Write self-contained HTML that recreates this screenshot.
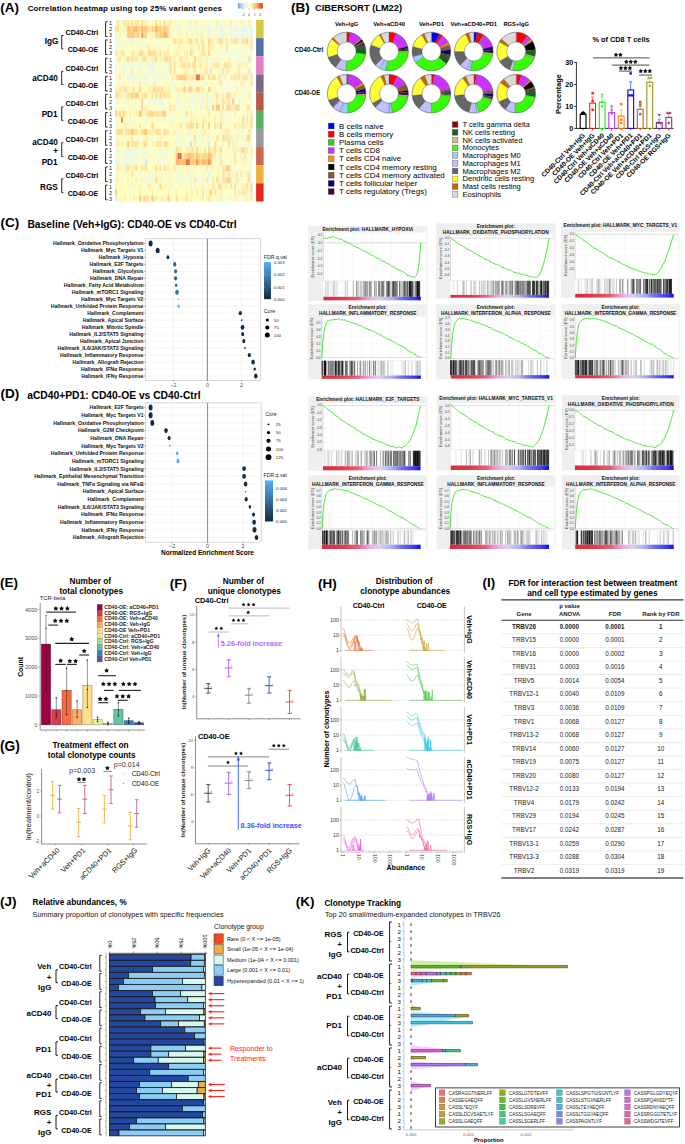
<!DOCTYPE html>
<html><head><meta charset="utf-8"><style>
html,body{margin:0;padding:0;background:#fff;width:685px;height:1144px;overflow:hidden}
svg{display:block;font-family:"Liberation Sans",sans-serif}
</style></head><body>
<svg width="685" height="1144" viewBox="0 0 685 1144">
<rect width="685" height="1144" fill="#fff"/>
<text x="0.3" y="11.6" font-size="13.5" font-weight="bold">(A)</text>
<text x="27.7" y="10.7" font-size="7.9" font-weight="bold" textLength="194.3" lengthAdjust="spacing">Correlation heatmap using top 25% variant genes</text>
<defs><linearGradient id="hmg" x1="0" x2="1" y1="0" y2="0"><stop offset="0" stop-color="#6fa8d6"/><stop offset="0.25" stop-color="#e0f3f8"/><stop offset="0.5" stop-color="#ffffbf"/><stop offset="0.75" stop-color="#fdae61"/><stop offset="1" stop-color="#d73027"/></linearGradient></defs>
<rect x="237.9" y="3.1" width="24.9" height="5.5" fill="url(#hmg)"/>
<line x1="243.3" y1="8.6" x2="243.3" y2="10" stroke="#555" stroke-width="0.4"/>
<text x="243.3" y="15.5" font-size="3" text-anchor="middle" fill="#333">-2</text>
<line x1="249" y1="8.6" x2="249" y2="10" stroke="#555" stroke-width="0.4"/>
<text x="249" y="15.5" font-size="3" text-anchor="middle" fill="#333">0</text>
<line x1="254.5" y1="8.6" x2="254.5" y2="10" stroke="#555" stroke-width="0.4"/>
<text x="254.5" y="15.5" font-size="3" text-anchor="middle" fill="#333">2</text>
<line x1="260" y1="8.6" x2="260" y2="10" stroke="#555" stroke-width="0.4"/>
<text x="260" y="15.5" font-size="3" text-anchor="middle" fill="#333">4</text>
<style>.hm rect{width:2.08px;height:6.11px}</style>
<g transform="translate(0 20)" class="hm"><rect x="115" fill="#fcfec4"/><rect x="117.02" fill="#fee7a3"/><rect x="119.04" fill="#fafdc8"/><rect x="121.07" fill="#f7fcce"/><rect x="123.09" fill="#fee7a3"/><rect x="125.11" fill="#feeaa7"/><rect x="127.13" fill="#feeaa7"/><rect x="129.15" fill="#fff4b2"/><rect x="131.18" fill="#fee29d"/><rect x="133.2" fill="#fff9b9"/><rect x="135.22" fill="#fee6a2"/><rect x="137.24" fill="#fee5a1"/><rect x="139.26" fill="#f5fbd2"/><rect x="141.29" fill="#fede99"/><rect x="143.31" fill="#ffeeac"/><rect x="145.33" fill="#fff4b2"/><rect x="147.35" fill="#eef9de"/><rect x="149.38" fill="#feffc0"/><rect x="151.4" fill="#fff5b3"/><rect x="153.42" fill="#fff9b8"/><rect x="155.44" fill="#fedc97"/><rect x="157.46" fill="#fff8b7"/><rect x="159.49" fill="#ffeba8"/><rect x="161.51" fill="#ffffc0"/><rect x="163.53" fill="#fedf9a"/><rect x="165.55" fill="#fffab9"/><rect x="167.57" fill="#fff0ae"/><rect x="169.6" fill="#fee6a2"/><rect x="171.62" fill="#feffc1"/><rect x="173.64" fill="#fff2b0"/><rect x="175.66" fill="#f9fdcb"/><rect x="177.68" fill="#f5fbd1"/><rect x="179.71" fill="#fffbba"/><rect x="181.73" fill="#fbfdc7"/><rect x="183.75" fill="#feffc1"/><rect x="185.77" fill="#fffdbd"/><rect x="187.79" fill="#fffebe"/><rect x="189.82" fill="#e9f6e7"/><rect x="191.84" fill="#f9fccb"/><rect x="193.86" fill="#fff5b4"/><rect x="195.88" fill="#ffefac"/><rect x="197.9" fill="#f9fdc9"/><rect x="199.93" fill="#fcfec5"/><rect x="201.95" fill="#f1f9da"/><rect x="203.97" fill="#ffffc0"/><rect x="205.99" fill="#fdfec3"/><rect x="208.01" fill="#f1fad8"/><rect x="210.04" fill="#ffffc0"/><rect x="212.06" fill="#fcfec5"/><rect x="214.08" fill="#fbfec6"/><rect x="216.1" fill="#ffeeab"/><rect x="218.12" fill="#f7fcce"/><rect x="220.15" fill="#f5fbd1"/><rect x="222.17" fill="#f9fdca"/><rect x="224.19" fill="#fff4b2"/><rect x="226.21" fill="#ffffbf"/><rect x="228.24" fill="#fff6b5"/><rect x="230.26" fill="#ffeba8"/><rect x="232.28" fill="#fffcbb"/><rect x="234.3" fill="#f5fbd1"/><rect x="236.32" fill="#ffffbf"/><rect x="238.35" fill="#feffc0"/><rect x="240.37" fill="#fff1ae"/><rect x="242.39" fill="#f6fccf"/><rect x="244.41" fill="#f9fdca"/><rect x="246.43" fill="#f9fdcb"/><rect x="248.46" fill="#fee6a2"/><rect x="250.48" fill="#fafdc9"/></g>
<g transform="translate(0 26.05)" class="hm"><rect x="115" fill="#fee29d"/><rect x="117.02" fill="#fedf9a"/><rect x="119.04" fill="#fff9b8"/><rect x="121.07" fill="#ffffbf"/><rect x="123.09" fill="#fff5b4"/><rect x="125.11" fill="#fff6b5"/><rect x="127.13" fill="#fdc278"/><rect x="129.15" fill="#fecb83"/><rect x="131.18" fill="#fed68f"/><rect x="133.2" fill="#fdb86d"/><rect x="135.22" fill="#fdb66b"/><rect x="137.24" fill="#feca81"/><rect x="139.26" fill="#fee19c"/><rect x="141.29" fill="#fdb265"/><rect x="143.31" fill="#fec77e"/><rect x="145.33" fill="#fec47b"/><rect x="147.35" fill="#feda94"/><rect x="149.38" fill="#feeaa6"/><rect x="151.4" fill="#fecd84"/><rect x="153.42" fill="#fed690"/><rect x="155.44" fill="#fba75e"/><rect x="157.46" fill="#fecb83"/><rect x="159.49" fill="#fecf87"/><rect x="161.51" fill="#fedf9a"/><rect x="163.53" fill="#fec77e"/><rect x="165.55" fill="#fec57c"/><rect x="167.57" fill="#fedf9a"/><rect x="169.6" fill="#fefec2"/><rect x="171.62" fill="#fafdc8"/><rect x="173.64" fill="#fcfec4"/><rect x="175.66" fill="#eff9dc"/><rect x="177.68" fill="#f0f9db"/><rect x="179.71" fill="#ecf8e1"/><rect x="181.73" fill="#fefec2"/><rect x="183.75" fill="#f7fcce"/><rect x="185.77" fill="#fafdc7"/><rect x="187.79" fill="#f1fad8"/><rect x="189.82" fill="#f3fad5"/><rect x="191.84" fill="#f9fdcb"/><rect x="193.86" fill="#f7fccd"/><rect x="195.88" fill="#ebf7e4"/><rect x="197.9" fill="#f8fccd"/><rect x="199.93" fill="#f4fbd4"/><rect x="201.95" fill="#ecf8e2"/><rect x="203.97" fill="#f6fbd0"/><rect x="205.99" fill="#f2fad7"/><rect x="208.01" fill="#e7f6eb"/><rect x="210.04" fill="#f4fbd3"/><rect x="212.06" fill="#f6fbd0"/><rect x="214.08" fill="#eff9dd"/><rect x="216.1" fill="#f3fad5"/><rect x="218.12" fill="#f5fbd1"/><rect x="220.15" fill="#e2f4f4"/><rect x="222.17" fill="#f6fbd0"/><rect x="224.19" fill="#f1f9da"/><rect x="226.21" fill="#f9fdca"/><rect x="228.24" fill="#f4fbd3"/><rect x="230.26" fill="#f1f9d9"/><rect x="232.28" fill="#f2fad6"/><rect x="234.3" fill="#e5f5ee"/><rect x="236.32" fill="#f1fad8"/><rect x="238.35" fill="#f4fbd2"/><rect x="240.37" fill="#f0f9db"/><rect x="242.39" fill="#def2f7"/><rect x="244.41" fill="#e4f5f0"/><rect x="246.43" fill="#eff9dd"/><rect x="248.46" fill="#f5fbd1"/><rect x="250.48" fill="#e5f5ee"/></g>
<g transform="translate(0 32.1)" class="hm"><rect x="115" fill="#eff9dd"/><rect x="117.02" fill="#fefec2"/><rect x="119.04" fill="#fff6b4"/><rect x="121.07" fill="#ffffbf"/><rect x="123.09" fill="#f3fad5"/><rect x="125.11" fill="#fcfec4"/><rect x="127.13" fill="#fec77e"/><rect x="129.15" fill="#fecb83"/><rect x="131.18" fill="#fdc278"/><rect x="133.2" fill="#fed088"/><rect x="135.22" fill="#fed58f"/><rect x="137.24" fill="#fecc84"/><rect x="139.26" fill="#fffab9"/><rect x="141.29" fill="#f89d59"/><rect x="143.31" fill="#fece86"/><rect x="145.33" fill="#fed088"/><rect x="147.35" fill="#fffcbc"/><rect x="149.38" fill="#fff5b4"/><rect x="151.4" fill="#fff0ae"/><rect x="153.42" fill="#ffedaa"/><rect x="155.44" fill="#feca81"/><rect x="157.46" fill="#fedb95"/><rect x="159.49" fill="#fec87f"/><rect x="161.51" fill="#fecc84"/><rect x="163.53" fill="#fdb367"/><rect x="165.55" fill="#fdac60"/><rect x="167.57" fill="#fee6a2"/><rect x="169.6" fill="#fff5b3"/><rect x="171.62" fill="#eff9dc"/><rect x="173.64" fill="#ffffc0"/><rect x="175.66" fill="#f6fccf"/><rect x="177.68" fill="#fff6b4"/><rect x="179.71" fill="#fffaba"/><rect x="181.73" fill="#f4fbd3"/><rect x="183.75" fill="#ffffbf"/><rect x="185.77" fill="#feeaa6"/><rect x="187.79" fill="#f8fccc"/><rect x="189.82" fill="#f3fbd4"/><rect x="191.84" fill="#f5fbd2"/><rect x="193.86" fill="#fdfec2"/><rect x="195.88" fill="#eff9dd"/><rect x="197.9" fill="#f7fcce"/><rect x="199.93" fill="#fff3b1"/><rect x="201.95" fill="#f4fbd4"/><rect x="203.97" fill="#feffc1"/><rect x="205.99" fill="#fbfdc7"/><rect x="208.01" fill="#eaf7e5"/><rect x="210.04" fill="#f1f9da"/><rect x="212.06" fill="#f7fcce"/><rect x="214.08" fill="#f4fbd3"/><rect x="216.1" fill="#f0f9db"/><rect x="218.12" fill="#f5fbd1"/><rect x="220.15" fill="#eaf7e6"/><rect x="222.17" fill="#e3f4f2"/><rect x="224.19" fill="#f8fccc"/><rect x="226.21" fill="#f9fdca"/><rect x="228.24" fill="#f8fccc"/><rect x="230.26" fill="#e9f7e7"/><rect x="232.28" fill="#f3fad5"/><rect x="234.3" fill="#ebf7e5"/><rect x="236.32" fill="#f1fad9"/><rect x="238.35" fill="#eff9dd"/><rect x="240.37" fill="#f0f9db"/><rect x="242.39" fill="#e7f6ea"/><rect x="244.41" fill="#ecf8e2"/><rect x="246.43" fill="#ecf8e1"/><rect x="248.46" fill="#f6fccf"/><rect x="250.48" fill="#e6f5ed"/></g>
<g transform="translate(0 38.15)" class="hm"><rect x="115" fill="#f8fccc"/><rect x="117.02" fill="#eef8de"/><rect x="119.04" fill="#f9fdc9"/><rect x="121.07" fill="#fafdc8"/><rect x="123.09" fill="#fafdc9"/><rect x="125.11" fill="#f7fcce"/><rect x="127.13" fill="#eef9de"/><rect x="129.15" fill="#eff9dd"/><rect x="131.18" fill="#edf8e0"/><rect x="133.2" fill="#f5fbd2"/><rect x="135.22" fill="#f7fcce"/><rect x="137.24" fill="#f4fbd4"/><rect x="139.26" fill="#fff6b5"/><rect x="141.29" fill="#f3fad5"/><rect x="143.31" fill="#f1fad9"/><rect x="145.33" fill="#f5fbd1"/><rect x="147.35" fill="#ffffbf"/><rect x="149.38" fill="#fff3b2"/><rect x="151.4" fill="#fcfec4"/><rect x="153.42" fill="#f8fccc"/><rect x="155.44" fill="#fafdc8"/><rect x="157.46" fill="#f2fad7"/><rect x="159.49" fill="#fff7b6"/><rect x="161.51" fill="#f9fdca"/><rect x="163.53" fill="#eff9dc"/><rect x="165.55" fill="#f9fccb"/><rect x="167.57" fill="#fcfec4"/><rect x="169.6" fill="#fbfec5"/><rect x="171.62" fill="#f6fbd0"/><rect x="173.64" fill="#fed28b"/><rect x="175.66" fill="#fff5b3"/><rect x="177.68" fill="#ffefad"/><rect x="179.71" fill="#fee19c"/><rect x="181.73" fill="#ffefac"/><rect x="183.75" fill="#fdfec2"/><rect x="185.77" fill="#fffbba"/><rect x="187.79" fill="#fee5a1"/><rect x="189.82" fill="#fed992"/><rect x="191.84" fill="#fff3b1"/><rect x="193.86" fill="#fff6b5"/><rect x="195.88" fill="#fedc96"/><rect x="197.9" fill="#fafdc8"/><rect x="199.93" fill="#ffefad"/><rect x="201.95" fill="#fee5a1"/><rect x="203.97" fill="#feffc1"/><rect x="205.99" fill="#f8fccc"/><rect x="208.01" fill="#fedc96"/><rect x="210.04" fill="#ffefac"/><rect x="212.06" fill="#fff0ad"/><rect x="214.08" fill="#fdfec3"/><rect x="216.1" fill="#fff9b8"/><rect x="218.12" fill="#fee09b"/><rect x="220.15" fill="#feda94"/><rect x="222.17" fill="#fff2af"/><rect x="224.19" fill="#fff2b0"/><rect x="226.21" fill="#fee19d"/><rect x="228.24" fill="#fffaba"/><rect x="230.26" fill="#ffedaa"/><rect x="232.28" fill="#fee9a6"/><rect x="234.3" fill="#fedc96"/><rect x="236.32" fill="#fee7a4"/><rect x="238.35" fill="#fff4b2"/><rect x="240.37" fill="#fff5b3"/><rect x="242.39" fill="#fee29d"/><rect x="244.41" fill="#fee9a5"/><rect x="246.43" fill="#fecc83"/><rect x="248.46" fill="#fafdc9"/><rect x="250.48" fill="#fee8a5"/></g>
<g transform="translate(0 44.2)" class="hm"><rect x="115" fill="#fafdc8"/><rect x="117.02" fill="#fbfdc6"/><rect x="119.04" fill="#f0f9db"/><rect x="121.07" fill="#f3fad5"/><rect x="123.09" fill="#fefec2"/><rect x="125.11" fill="#f2fad7"/><rect x="127.13" fill="#fdfec3"/><rect x="129.15" fill="#fbfec6"/><rect x="131.18" fill="#f0f9db"/><rect x="133.2" fill="#f9fdcb"/><rect x="135.22" fill="#feffc1"/><rect x="137.24" fill="#fff9b8"/><rect x="139.26" fill="#fdfec2"/><rect x="141.29" fill="#edf8e0"/><rect x="143.31" fill="#f7fcce"/><rect x="145.33" fill="#f6fccf"/><rect x="147.35" fill="#feeba7"/><rect x="149.38" fill="#fff7b6"/><rect x="151.4" fill="#f8fccc"/><rect x="153.42" fill="#fafdc8"/><rect x="155.44" fill="#f4fbd3"/><rect x="157.46" fill="#fff5b3"/><rect x="159.49" fill="#f7fcce"/><rect x="161.51" fill="#fbfec6"/><rect x="163.53" fill="#f7fcce"/><rect x="165.55" fill="#fbfdc7"/><rect x="167.57" fill="#ffefac"/><rect x="169.6" fill="#f8fccc"/><rect x="171.62" fill="#fefec2"/><rect x="173.64" fill="#fcfec5"/><rect x="175.66" fill="#fffcbc"/><rect x="177.68" fill="#ffefad"/><rect x="179.71" fill="#fff7b6"/><rect x="181.73" fill="#fff8b6"/><rect x="183.75" fill="#fcfec4"/><rect x="185.77" fill="#fdfec4"/><rect x="187.79" fill="#fffebe"/><rect x="189.82" fill="#fff1af"/><rect x="191.84" fill="#fff2b0"/><rect x="193.86" fill="#f8fccc"/><rect x="195.88" fill="#fffaba"/><rect x="197.9" fill="#fee49f"/><rect x="199.93" fill="#ffffbf"/><rect x="201.95" fill="#fedf9a"/><rect x="203.97" fill="#fff5b4"/><rect x="205.99" fill="#feffc1"/><rect x="208.01" fill="#fee39e"/><rect x="210.04" fill="#fff5b4"/><rect x="212.06" fill="#ffeeab"/><rect x="214.08" fill="#fcfec5"/><rect x="216.1" fill="#ffffbf"/><rect x="218.12" fill="#fcfec4"/><rect x="220.15" fill="#fff2b0"/><rect x="222.17" fill="#f9fdca"/><rect x="224.19" fill="#f8fccc"/><rect x="226.21" fill="#fedf9a"/><rect x="228.24" fill="#fbfec5"/><rect x="230.26" fill="#feffc0"/><rect x="232.28" fill="#fdfec2"/><rect x="234.3" fill="#ffffbf"/><rect x="236.32" fill="#fcfec5"/><rect x="238.35" fill="#ffffc0"/><rect x="240.37" fill="#fbfec6"/><rect x="242.39" fill="#fff7b6"/><rect x="244.41" fill="#fcfec5"/><rect x="246.43" fill="#fffab9"/><rect x="248.46" fill="#f5fbd2"/><rect x="250.48" fill="#fee5a1"/></g>
<g transform="translate(0 50.25)" class="hm"><rect x="115" fill="#fee8a5"/><rect x="117.02" fill="#fff5b3"/><rect x="119.04" fill="#fff6b5"/><rect x="121.07" fill="#fee7a3"/><rect x="123.09" fill="#fee8a4"/><rect x="125.11" fill="#feffc0"/><rect x="127.13" fill="#feffc1"/><rect x="129.15" fill="#fcfec4"/><rect x="131.18" fill="#feeaa7"/><rect x="133.2" fill="#ffeca9"/><rect x="135.22" fill="#fbfdc7"/><rect x="137.24" fill="#fff0ae"/><rect x="139.26" fill="#fedd97"/><rect x="141.29" fill="#feda95"/><rect x="143.31" fill="#ffefad"/><rect x="145.33" fill="#fbfdc6"/><rect x="147.35" fill="#fee39f"/><rect x="149.38" fill="#fed58e"/><rect x="151.4" fill="#fee29d"/><rect x="153.42" fill="#fedb95"/><rect x="155.44" fill="#fee7a4"/><rect x="157.46" fill="#ffeeac"/><rect x="159.49" fill="#fedf9a"/><rect x="161.51" fill="#feffc1"/><rect x="163.53" fill="#feeba7"/><rect x="165.55" fill="#ffefac"/><rect x="167.57" fill="#fee9a6"/><rect x="169.6" fill="#ffffc0"/><rect x="171.62" fill="#ffffbf"/><rect x="173.64" fill="#f4fbd3"/><rect x="175.66" fill="#ffeca9"/><rect x="177.68" fill="#fff8b7"/><rect x="179.71" fill="#fff5b4"/><rect x="181.73" fill="#ffffbf"/><rect x="183.75" fill="#fff2b0"/><rect x="185.77" fill="#fee8a4"/><rect x="187.79" fill="#f9fdcb"/><rect x="189.82" fill="#fed892"/><rect x="191.84" fill="#ffedaa"/><rect x="193.86" fill="#f6fccf"/><rect x="195.88" fill="#fdfec3"/><rect x="197.9" fill="#fff8b7"/><rect x="199.93" fill="#fff4b2"/><rect x="201.95" fill="#fee5a1"/><rect x="203.97" fill="#feeaa7"/><rect x="205.99" fill="#fbfdc7"/><rect x="208.01" fill="#fed993"/><rect x="210.04" fill="#fffebe"/><rect x="212.06" fill="#f9fdcb"/><rect x="214.08" fill="#f9fdca"/><rect x="216.1" fill="#f5fbd1"/><rect x="218.12" fill="#fbfdc7"/><rect x="220.15" fill="#fcfec4"/><rect x="222.17" fill="#f9fdcb"/><rect x="224.19" fill="#f7fccd"/><rect x="226.21" fill="#f2fad6"/><rect x="228.24" fill="#eff9dd"/><rect x="230.26" fill="#f7fccd"/><rect x="232.28" fill="#f8fccd"/><rect x="234.3" fill="#fdfec3"/><rect x="236.32" fill="#f2fad6"/><rect x="238.35" fill="#f8fccd"/><rect x="240.37" fill="#f5fbd1"/><rect x="242.39" fill="#feffc1"/><rect x="244.41" fill="#f8fccb"/><rect x="246.43" fill="#feffc1"/><rect x="248.46" fill="#fafdc8"/><rect x="250.48" fill="#f4fbd3"/></g>
<g transform="translate(0 56.3)" class="hm"><rect x="115" fill="#f4fbd3"/><rect x="117.02" fill="#ffeeab"/><rect x="119.04" fill="#ffeeab"/><rect x="121.07" fill="#fffebe"/><rect x="123.09" fill="#fffdbc"/><rect x="125.11" fill="#fff1ae"/><rect x="127.13" fill="#fed993"/><rect x="129.15" fill="#feeba7"/><rect x="131.18" fill="#fee4a0"/><rect x="133.2" fill="#ffeba8"/><rect x="135.22" fill="#fee49f"/><rect x="137.24" fill="#ffeeac"/><rect x="139.26" fill="#fefec1"/><rect x="141.29" fill="#fee29e"/><rect x="143.31" fill="#feda94"/><rect x="145.33" fill="#fee9a5"/><rect x="147.35" fill="#f4fbd4"/><rect x="149.38" fill="#fffbbb"/><rect x="151.4" fill="#fff3b1"/><rect x="153.42" fill="#fee6a1"/><rect x="155.44" fill="#fede98"/><rect x="157.46" fill="#feffc0"/><rect x="159.49" fill="#fff1af"/><rect x="161.51" fill="#fff1af"/><rect x="163.53" fill="#fee9a6"/><rect x="165.55" fill="#fed690"/><rect x="167.57" fill="#fee4a0"/><rect x="169.6" fill="#fee19c"/><rect x="171.62" fill="#fff8b7"/><rect x="173.64" fill="#feeaa7"/><rect x="175.66" fill="#fafdc8"/><rect x="177.68" fill="#fffab9"/><rect x="179.71" fill="#fedf9a"/><rect x="181.73" fill="#fff3b1"/><rect x="183.75" fill="#fffab9"/><rect x="185.77" fill="#ffeca9"/><rect x="187.79" fill="#fff8b7"/><rect x="189.82" fill="#f9fdcb"/><rect x="191.84" fill="#fafdc8"/><rect x="193.86" fill="#fed28b"/><rect x="195.88" fill="#fffdbc"/><rect x="197.9" fill="#fff0ad"/><rect x="199.93" fill="#ffefad"/><rect x="201.95" fill="#f8fccc"/><rect x="203.97" fill="#f0f9db"/><rect x="205.99" fill="#fff0ae"/><rect x="208.01" fill="#f5fbd1"/><rect x="210.04" fill="#f9fdca"/><rect x="212.06" fill="#f0f9db"/><rect x="214.08" fill="#f7fcce"/><rect x="216.1" fill="#fffaba"/><rect x="218.12" fill="#f1fad8"/><rect x="220.15" fill="#f2fad6"/><rect x="222.17" fill="#feffc1"/><rect x="224.19" fill="#fffbbb"/><rect x="226.21" fill="#ffffbf"/><rect x="228.24" fill="#ffefad"/><rect x="230.26" fill="#fffaba"/><rect x="232.28" fill="#ffffc0"/><rect x="234.3" fill="#f4fbd3"/><rect x="236.32" fill="#fbfec6"/><rect x="238.35" fill="#eff9dc"/><rect x="240.37" fill="#fcfec4"/><rect x="242.39" fill="#f7fcce"/><rect x="244.41" fill="#f9fdca"/><rect x="246.43" fill="#f4fbd3"/><rect x="248.46" fill="#fed891"/><rect x="250.48" fill="#f7fcce"/></g>
<g transform="translate(0 62.35)" class="hm"><rect x="115" fill="#f4fbd2"/><rect x="117.02" fill="#f5fbd1"/><rect x="119.04" fill="#eff9dc"/><rect x="121.07" fill="#f9fdca"/><rect x="123.09" fill="#eff9dc"/><rect x="125.11" fill="#f2fad6"/><rect x="127.13" fill="#f4fbd3"/><rect x="129.15" fill="#eef8de"/><rect x="131.18" fill="#edf8e1"/><rect x="133.2" fill="#f7fcce"/><rect x="135.22" fill="#f4fbd3"/><rect x="137.24" fill="#f3fad5"/><rect x="139.26" fill="#e5f5ef"/><rect x="141.29" fill="#fbfdc7"/><rect x="143.31" fill="#f5fbd2"/><rect x="145.33" fill="#f7fcce"/><rect x="147.35" fill="#e7f6ea"/><rect x="149.38" fill="#ecf8e2"/><rect x="151.4" fill="#e2f4f5"/><rect x="153.42" fill="#f0f9db"/><rect x="155.44" fill="#f5fbd1"/><rect x="157.46" fill="#f5fbd1"/><rect x="159.49" fill="#f7fccd"/><rect x="161.51" fill="#f9fdca"/><rect x="163.53" fill="#fbfdc6"/><rect x="165.55" fill="#eff9dc"/><rect x="167.57" fill="#edf8e1"/><rect x="169.6" fill="#fedb95"/><rect x="171.62" fill="#fbfec6"/><rect x="173.64" fill="#fedb96"/><rect x="175.66" fill="#fafdc9"/><rect x="177.68" fill="#fff4b2"/><rect x="179.71" fill="#fff0ad"/><rect x="181.73" fill="#fee29d"/><rect x="183.75" fill="#fee29d"/><rect x="185.77" fill="#fff1af"/><rect x="187.79" fill="#fedf9a"/><rect x="189.82" fill="#fff7b6"/><rect x="191.84" fill="#fee19d"/><rect x="193.86" fill="#feda94"/><rect x="195.88" fill="#fffdbc"/><rect x="197.9" fill="#fff7b6"/><rect x="199.93" fill="#fee8a4"/><rect x="201.95" fill="#fdfec2"/><rect x="203.97" fill="#fff5b4"/><rect x="205.99" fill="#ffeeac"/><rect x="208.01" fill="#f4fbd3"/><rect x="210.04" fill="#fff8b7"/><rect x="212.06" fill="#ffefac"/><rect x="214.08" fill="#fee9a5"/><rect x="216.1" fill="#fee29d"/><rect x="218.12" fill="#ffeeab"/><rect x="220.15" fill="#fdfec3"/><rect x="222.17" fill="#fff9b9"/><rect x="224.19" fill="#fed993"/><rect x="226.21" fill="#fee39f"/><rect x="228.24" fill="#fee09b"/><rect x="230.26" fill="#fff2b0"/><rect x="232.28" fill="#ffffbf"/><rect x="234.3" fill="#fffcbc"/><rect x="236.32" fill="#fff2b0"/><rect x="238.35" fill="#ffeeac"/><rect x="240.37" fill="#ffefad"/><rect x="242.39" fill="#fff1ae"/><rect x="244.41" fill="#fffab9"/><rect x="246.43" fill="#fff2b0"/><rect x="248.46" fill="#feffc0"/><rect x="250.48" fill="#fcfec5"/></g>
<g transform="translate(0 68.4)" class="hm"><rect x="115" fill="#f5fbd1"/><rect x="117.02" fill="#fafdc9"/><rect x="119.04" fill="#fbfdc7"/><rect x="121.07" fill="#f0f9db"/><rect x="123.09" fill="#ecf7e3"/><rect x="125.11" fill="#f5fbd2"/><rect x="127.13" fill="#fdfec2"/><rect x="129.15" fill="#f6fccf"/><rect x="131.18" fill="#fee7a3"/><rect x="133.2" fill="#fbfec6"/><rect x="135.22" fill="#fffcbb"/><rect x="137.24" fill="#fcfec4"/><rect x="139.26" fill="#f2fad6"/><rect x="141.29" fill="#fff6b4"/><rect x="143.31" fill="#f9fdca"/><rect x="145.33" fill="#fefec2"/><rect x="147.35" fill="#f4fbd3"/><rect x="149.38" fill="#eff9dd"/><rect x="151.4" fill="#eef8de"/><rect x="153.42" fill="#f2fad7"/><rect x="155.44" fill="#fafdc9"/><rect x="157.46" fill="#f6fccf"/><rect x="159.49" fill="#f9fdc9"/><rect x="161.51" fill="#f4fbd4"/><rect x="163.53" fill="#fcfec4"/><rect x="165.55" fill="#f5fbd1"/><rect x="167.57" fill="#f0f9db"/><rect x="169.6" fill="#fee19d"/><rect x="171.62" fill="#fff6b4"/><rect x="173.64" fill="#fee4a0"/><rect x="175.66" fill="#fff7b6"/><rect x="177.68" fill="#fafdc7"/><rect x="179.71" fill="#fcfec5"/><rect x="181.73" fill="#feffc0"/><rect x="183.75" fill="#fff1ae"/><rect x="185.77" fill="#fff1af"/><rect x="187.79" fill="#f0f9da"/><rect x="189.82" fill="#fbfdc6"/><rect x="191.84" fill="#fcfec4"/><rect x="193.86" fill="#fee39f"/><rect x="195.88" fill="#fbfdc6"/><rect x="197.9" fill="#fdfec2"/><rect x="199.93" fill="#fff9b8"/><rect x="201.95" fill="#fbfec6"/><rect x="203.97" fill="#ffeba8"/><rect x="205.99" fill="#fee8a5"/><rect x="208.01" fill="#eef9de"/><rect x="210.04" fill="#fee49f"/><rect x="212.06" fill="#f7fcce"/><rect x="214.08" fill="#fafdc8"/><rect x="216.1" fill="#fff9b8"/><rect x="218.12" fill="#fff1af"/><rect x="220.15" fill="#f8fccd"/><rect x="222.17" fill="#fee4a0"/><rect x="224.19" fill="#fffab9"/><rect x="226.21" fill="#ffedaa"/><rect x="228.24" fill="#fff2b0"/><rect x="230.26" fill="#feffc1"/><rect x="232.28" fill="#feffc1"/><rect x="234.3" fill="#f6fbd0"/><rect x="236.32" fill="#fff3b1"/><rect x="238.35" fill="#fee9a6"/><rect x="240.37" fill="#fcfec5"/><rect x="242.39" fill="#f6fcd0"/><rect x="244.41" fill="#f9fdca"/><rect x="246.43" fill="#fffbbb"/><rect x="248.46" fill="#fedf9a"/><rect x="250.48" fill="#f2fad7"/></g>
<g transform="translate(0 74.45)" class="hm"><rect x="115" fill="#fdfec2"/><rect x="117.02" fill="#f2fad6"/><rect x="119.04" fill="#fee9a6"/><rect x="121.07" fill="#f5fbd2"/><rect x="123.09" fill="#f2fad7"/><rect x="125.11" fill="#f9fdca"/><rect x="127.13" fill="#e9f6e8"/><rect x="129.15" fill="#eff9dd"/><rect x="131.18" fill="#eef8df"/><rect x="133.2" fill="#eaf7e6"/><rect x="135.22" fill="#f6fccf"/><rect x="137.24" fill="#eef8df"/><rect x="139.26" fill="#f9fdcb"/><rect x="141.29" fill="#f6fbd0"/><rect x="143.31" fill="#f3fad5"/><rect x="145.33" fill="#ebf7e4"/><rect x="147.35" fill="#f7fcce"/><rect x="149.38" fill="#fefec2"/><rect x="151.4" fill="#f3fad5"/><rect x="153.42" fill="#edf8e0"/><rect x="155.44" fill="#f3fad5"/><rect x="157.46" fill="#f0f9db"/><rect x="159.49" fill="#f7fcce"/><rect x="161.51" fill="#f8fccc"/><rect x="163.53" fill="#f7fccd"/><rect x="165.55" fill="#f0f9da"/><rect x="167.57" fill="#f0f9db"/><rect x="169.6" fill="#feffc0"/><rect x="171.62" fill="#fee8a4"/><rect x="173.64" fill="#feffc1"/><rect x="175.66" fill="#fedd98"/><rect x="177.68" fill="#fecf88"/><rect x="179.71" fill="#fecd85"/><rect x="181.73" fill="#fed089"/><rect x="183.75" fill="#feca82"/><rect x="185.77" fill="#fee09b"/><rect x="187.79" fill="#ffefac"/><rect x="189.82" fill="#feeaa6"/><rect x="191.84" fill="#fee6a2"/><rect x="193.86" fill="#ffeba8"/><rect x="195.88" fill="#ec7747"/><rect x="197.9" fill="#ec7747"/><rect x="199.93" fill="#fee9a6"/><rect x="201.95" fill="#fed993"/><rect x="203.97" fill="#fff4b2"/><rect x="205.99" fill="#fdfec3"/><rect x="208.01" fill="#fedc97"/><rect x="210.04" fill="#fff7b6"/><rect x="212.06" fill="#feda95"/><rect x="214.08" fill="#fee6a2"/><rect x="216.1" fill="#fcfec5"/><rect x="218.12" fill="#feeaa7"/><rect x="220.15" fill="#feeba7"/><rect x="222.17" fill="#f6fccf"/><rect x="224.19" fill="#ffefad"/><rect x="226.21" fill="#fafdc9"/><rect x="228.24" fill="#fdfec3"/><rect x="230.26" fill="#fee7a3"/><rect x="232.28" fill="#ffeba8"/><rect x="234.3" fill="#fee4a0"/><rect x="236.32" fill="#fee9a6"/><rect x="238.35" fill="#fee09b"/><rect x="240.37" fill="#fff4b2"/><rect x="242.39" fill="#fee29e"/><rect x="244.41" fill="#fee39e"/><rect x="246.43" fill="#fee5a0"/><rect x="248.46" fill="#f8fccc"/><rect x="250.48" fill="#fee29e"/></g>
<g transform="translate(0 80.5)" class="hm"><rect x="115" fill="#fdfec3"/><rect x="117.02" fill="#f6fccf"/><rect x="119.04" fill="#f7fccd"/><rect x="121.07" fill="#f8fccb"/><rect x="123.09" fill="#fff3b1"/><rect x="125.11" fill="#f9fdca"/><rect x="127.13" fill="#f3fbd4"/><rect x="129.15" fill="#fafdc9"/><rect x="131.18" fill="#f6fbd0"/><rect x="133.2" fill="#f8fccb"/><rect x="135.22" fill="#fcfec5"/><rect x="137.24" fill="#f6fccf"/><rect x="139.26" fill="#fee7a3"/><rect x="141.29" fill="#f4fbd4"/><rect x="143.31" fill="#f3fad4"/><rect x="145.33" fill="#f5fbd1"/><rect x="147.35" fill="#fffab9"/><rect x="149.38" fill="#feffc1"/><rect x="151.4" fill="#eef8de"/><rect x="153.42" fill="#ffedaa"/><rect x="155.44" fill="#e7f6eb"/><rect x="157.46" fill="#fffcbb"/><rect x="159.49" fill="#fdfec4"/><rect x="161.51" fill="#fcfec4"/><rect x="163.53" fill="#fffdbd"/><rect x="165.55" fill="#fafdc7"/><rect x="167.57" fill="#fafdc9"/><rect x="169.6" fill="#fafdc8"/><rect x="171.62" fill="#f0f9da"/><rect x="173.64" fill="#f4fbd4"/><rect x="175.66" fill="#f8fccc"/><rect x="177.68" fill="#fffdbc"/><rect x="179.71" fill="#fefec2"/><rect x="181.73" fill="#f7fcce"/><rect x="183.75" fill="#ecf7e3"/><rect x="185.77" fill="#f8fccb"/><rect x="187.79" fill="#fafdc8"/><rect x="189.82" fill="#fff8b7"/><rect x="191.84" fill="#f7fccd"/><rect x="193.86" fill="#eff9dc"/><rect x="195.88" fill="#fff8b7"/><rect x="197.9" fill="#f5fbd1"/><rect x="199.93" fill="#fbfdc6"/><rect x="201.95" fill="#fffbba"/><rect x="203.97" fill="#f6fbd0"/><rect x="205.99" fill="#eef8de"/><rect x="208.01" fill="#feffc0"/><rect x="210.04" fill="#f7fccd"/><rect x="212.06" fill="#fdfec3"/><rect x="214.08" fill="#ffffc0"/><rect x="216.1" fill="#fcfec5"/><rect x="218.12" fill="#edf8e0"/><rect x="220.15" fill="#fee39f"/><rect x="222.17" fill="#f7fcce"/><rect x="224.19" fill="#fcfec4"/><rect x="226.21" fill="#f4fbd3"/><rect x="228.24" fill="#f4fbd3"/><rect x="230.26" fill="#feffc1"/><rect x="232.28" fill="#ffffc0"/><rect x="234.3" fill="#f4fbd3"/><rect x="236.32" fill="#fcfec5"/><rect x="238.35" fill="#fcfec5"/><rect x="240.37" fill="#ffedab"/><rect x="242.39" fill="#ffedaa"/><rect x="244.41" fill="#fffbba"/><rect x="246.43" fill="#feffc1"/><rect x="248.46" fill="#fcfec4"/><rect x="250.48" fill="#fee5a1"/></g>
<g transform="translate(0 86.55)" class="hm"><rect x="115" fill="#ffedaa"/><rect x="117.02" fill="#fff4b2"/><rect x="119.04" fill="#fee7a3"/><rect x="121.07" fill="#fff1af"/><rect x="123.09" fill="#fee7a3"/><rect x="125.11" fill="#fede99"/><rect x="127.13" fill="#fff2b0"/><rect x="129.15" fill="#fff9b8"/><rect x="131.18" fill="#ffefac"/><rect x="133.2" fill="#fee39e"/><rect x="135.22" fill="#fdfec3"/><rect x="137.24" fill="#fff1ae"/><rect x="139.26" fill="#fed993"/><rect x="141.29" fill="#fff8b6"/><rect x="143.31" fill="#fffbba"/><rect x="145.33" fill="#fdfec2"/><rect x="147.35" fill="#fff3b1"/><rect x="149.38" fill="#ffeca9"/><rect x="151.4" fill="#fff0ad"/><rect x="153.42" fill="#fed089"/><rect x="155.44" fill="#fee39f"/><rect x="157.46" fill="#fed58e"/><rect x="159.49" fill="#feeaa7"/><rect x="161.51" fill="#fed68f"/><rect x="163.53" fill="#fffbba"/><rect x="165.55" fill="#fff1ae"/><rect x="167.57" fill="#feeaa7"/><rect x="169.6" fill="#fff6b5"/><rect x="171.62" fill="#fafdc7"/><rect x="173.64" fill="#ebf7e4"/><rect x="175.66" fill="#fff3b1"/><rect x="177.68" fill="#ffefad"/><rect x="179.71" fill="#fffaba"/><rect x="181.73" fill="#fee5a1"/><rect x="183.75" fill="#fecf87"/><rect x="185.77" fill="#fffebd"/><rect x="187.79" fill="#fedf9a"/><rect x="189.82" fill="#fed28b"/><rect x="191.84" fill="#ffeeab"/><rect x="193.86" fill="#fffab9"/><rect x="195.88" fill="#fed690"/><rect x="197.9" fill="#fedc97"/><rect x="199.93" fill="#fff5b3"/><rect x="201.95" fill="#ffeeac"/><rect x="203.97" fill="#fffebd"/><rect x="205.99" fill="#ffffc0"/><rect x="208.01" fill="#fed18a"/><rect x="210.04" fill="#ffefad"/><rect x="212.06" fill="#f8fccc"/><rect x="214.08" fill="#fff5b3"/><rect x="216.1" fill="#f6fccf"/><rect x="218.12" fill="#fbfdc7"/><rect x="220.15" fill="#fffab9"/><rect x="222.17" fill="#fcfec4"/><rect x="224.19" fill="#f2fad6"/><rect x="226.21" fill="#f5fbd1"/><rect x="228.24" fill="#f5fbd2"/><rect x="230.26" fill="#fbfdc6"/><rect x="232.28" fill="#f5fbd1"/><rect x="234.3" fill="#feffc1"/><rect x="236.32" fill="#ffeeab"/><rect x="238.35" fill="#fffaba"/><rect x="240.37" fill="#f7fcce"/><rect x="242.39" fill="#fafdc8"/><rect x="244.41" fill="#ecf8e1"/><rect x="246.43" fill="#fffbba"/><rect x="248.46" fill="#f8fccb"/><rect x="250.48" fill="#ffffbf"/></g>
<g transform="translate(0 92.6)" class="hm"><rect x="115" fill="#fede98"/><rect x="117.02" fill="#fede98"/><rect x="119.04" fill="#fff2b0"/><rect x="121.07" fill="#fff0ad"/><rect x="123.09" fill="#fdfec3"/><rect x="125.11" fill="#ffedaa"/><rect x="127.13" fill="#fee5a1"/><rect x="129.15" fill="#fee39f"/><rect x="131.18" fill="#fece86"/><rect x="133.2" fill="#fee09b"/><rect x="135.22" fill="#fec77d"/><rect x="137.24" fill="#fecb83"/><rect x="139.26" fill="#f9fdca"/><rect x="141.29" fill="#feeaa7"/><rect x="143.31" fill="#fee09b"/><rect x="145.33" fill="#fed891"/><rect x="147.35" fill="#fffdbc"/><rect x="149.38" fill="#fffbba"/><rect x="151.4" fill="#fedc97"/><rect x="153.42" fill="#fff8b6"/><rect x="155.44" fill="#fed993"/><rect x="157.46" fill="#fff4b2"/><rect x="159.49" fill="#fed38c"/><rect x="161.51" fill="#feeaa7"/><rect x="163.53" fill="#fee19c"/><rect x="165.55" fill="#fee4a0"/><rect x="167.57" fill="#fee5a0"/><rect x="169.6" fill="#ffedaa"/><rect x="171.62" fill="#fafdc9"/><rect x="173.64" fill="#fffbba"/><rect x="175.66" fill="#f5fbd2"/><rect x="177.68" fill="#f4fbd4"/><rect x="179.71" fill="#fffbbb"/><rect x="181.73" fill="#fafdc8"/><rect x="183.75" fill="#fff5b3"/><rect x="185.77" fill="#f4fbd4"/><rect x="187.79" fill="#feffc0"/><rect x="189.82" fill="#f9fdcb"/><rect x="191.84" fill="#f2fad7"/><rect x="193.86" fill="#fff8b7"/><rect x="195.88" fill="#f2fad7"/><rect x="197.9" fill="#f9fdcb"/><rect x="199.93" fill="#fafdc8"/><rect x="201.95" fill="#eaf7e5"/><rect x="203.97" fill="#f9fdcb"/><rect x="205.99" fill="#ffeeac"/><rect x="208.01" fill="#eef9de"/><rect x="210.04" fill="#f3fbd4"/><rect x="212.06" fill="#fcfec5"/><rect x="214.08" fill="#fff3b1"/><rect x="216.1" fill="#fedd98"/><rect x="218.12" fill="#fff4b3"/><rect x="220.15" fill="#f4fbd4"/><rect x="222.17" fill="#ffedaa"/><rect x="224.19" fill="#fcfec5"/><rect x="226.21" fill="#fed28b"/><rect x="228.24" fill="#fedd97"/><rect x="230.26" fill="#fff0ae"/><rect x="232.28" fill="#fffbbb"/><rect x="234.3" fill="#fff3b1"/><rect x="236.32" fill="#fffebe"/><rect x="238.35" fill="#fcfec4"/><rect x="240.37" fill="#fdfec4"/><rect x="242.39" fill="#fcfec4"/><rect x="244.41" fill="#fafdc9"/><rect x="246.43" fill="#fffdbd"/><rect x="248.46" fill="#fee6a2"/><rect x="250.48" fill="#f6fccf"/></g>
<g transform="translate(0 98.65)" class="hm"><rect x="115" fill="#fbfec6"/><rect x="117.02" fill="#f6fccf"/><rect x="119.04" fill="#fafdc8"/><rect x="121.07" fill="#fbfdc7"/><rect x="123.09" fill="#f2fad8"/><rect x="125.11" fill="#f7fcce"/><rect x="127.13" fill="#fff3b1"/><rect x="129.15" fill="#f2fad7"/><rect x="131.18" fill="#fdfec3"/><rect x="133.2" fill="#ffffbe"/><rect x="135.22" fill="#f4fbd4"/><rect x="137.24" fill="#fdfec3"/><rect x="139.26" fill="#edf8e0"/><rect x="141.29" fill="#fecf87"/><rect x="143.31" fill="#f3fad5"/><rect x="145.33" fill="#f7fcce"/><rect x="147.35" fill="#eff9dd"/><rect x="149.38" fill="#ecf8e1"/><rect x="151.4" fill="#f7fcce"/><rect x="153.42" fill="#ecf8e1"/><rect x="155.44" fill="#f1fad8"/><rect x="157.46" fill="#f3fad5"/><rect x="159.49" fill="#ebf7e3"/><rect x="161.51" fill="#e0f3f8"/><rect x="163.53" fill="#fafdc8"/><rect x="165.55" fill="#fdfec3"/><rect x="167.57" fill="#f4fbd3"/><rect x="169.6" fill="#fffcbc"/><rect x="171.62" fill="#fafdc8"/><rect x="173.64" fill="#ffffc0"/><rect x="175.66" fill="#ecf8e2"/><rect x="177.68" fill="#f1f9d9"/><rect x="179.71" fill="#f4fbd3"/><rect x="181.73" fill="#f4fbd3"/><rect x="183.75" fill="#f7fcce"/><rect x="185.77" fill="#f8fccc"/><rect x="187.79" fill="#f7fccd"/><rect x="189.82" fill="#f5fbd2"/><rect x="191.84" fill="#edf8e1"/><rect x="193.86" fill="#fbfdc7"/><rect x="195.88" fill="#f5fbd1"/><rect x="197.9" fill="#f6fccf"/><rect x="199.93" fill="#f5fbd2"/><rect x="201.95" fill="#ecf8e1"/><rect x="203.97" fill="#f5fbd2"/><rect x="205.99" fill="#fff9b8"/><rect x="208.01" fill="#f2fad8"/><rect x="210.04" fill="#f3fbd4"/><rect x="212.06" fill="#fffbbb"/><rect x="214.08" fill="#fafdc8"/><rect x="216.1" fill="#ffeca9"/><rect x="218.12" fill="#ffffc0"/><rect x="220.15" fill="#f4fbd4"/><rect x="222.17" fill="#fee49f"/><rect x="224.19" fill="#fff3b1"/><rect x="226.21" fill="#ffedaa"/><rect x="228.24" fill="#fee09b"/><rect x="230.26" fill="#f8fccb"/><rect x="232.28" fill="#fdc177"/><rect x="234.3" fill="#f2fad7"/><rect x="236.32" fill="#fffdbd"/><rect x="238.35" fill="#e9f7e7"/><rect x="240.37" fill="#fdfec2"/><rect x="242.39" fill="#fefec1"/><rect x="244.41" fill="#f9fdc9"/><rect x="246.43" fill="#fffbba"/><rect x="248.46" fill="#fffebe"/><rect x="250.48" fill="#eef8df"/></g>
<g transform="translate(0 104.7)" class="hm"><rect x="115" fill="#f4fbd2"/><rect x="117.02" fill="#fffebd"/><rect x="119.04" fill="#fcfec4"/><rect x="121.07" fill="#fcfec5"/><rect x="123.09" fill="#f6fbd0"/><rect x="125.11" fill="#fcfec5"/><rect x="127.13" fill="#feffc1"/><rect x="129.15" fill="#fafdc8"/><rect x="131.18" fill="#fffbba"/><rect x="133.2" fill="#f8fccc"/><rect x="135.22" fill="#fafdc8"/><rect x="137.24" fill="#fdfec2"/><rect x="139.26" fill="#edf8e1"/><rect x="141.29" fill="#fed58e"/><rect x="143.31" fill="#fff2b0"/><rect x="145.33" fill="#fee9a5"/><rect x="147.35" fill="#f0f9db"/><rect x="149.38" fill="#f9fdc9"/><rect x="151.4" fill="#fbfec6"/><rect x="153.42" fill="#f9fdca"/><rect x="155.44" fill="#fafdc8"/><rect x="157.46" fill="#f7fcce"/><rect x="159.49" fill="#ffffbf"/><rect x="161.51" fill="#f2fad7"/><rect x="163.53" fill="#fff9b8"/><rect x="165.55" fill="#fcfec5"/><rect x="167.57" fill="#f9fdca"/><rect x="169.6" fill="#fee4a0"/><rect x="171.62" fill="#fff4b2"/><rect x="173.64" fill="#ffefad"/><rect x="175.66" fill="#f4fbd3"/><rect x="177.68" fill="#fafdc8"/><rect x="179.71" fill="#f5fbd2"/><rect x="181.73" fill="#f9fdca"/><rect x="183.75" fill="#fffdbc"/><rect x="185.77" fill="#fdfec2"/><rect x="187.79" fill="#f8fccc"/><rect x="189.82" fill="#f0f9db"/><rect x="191.84" fill="#fafdc9"/><rect x="193.86" fill="#fbfdc6"/><rect x="195.88" fill="#f1f9d9"/><rect x="197.9" fill="#ffffc0"/><rect x="199.93" fill="#fff6b4"/><rect x="201.95" fill="#f0f9db"/><rect x="203.97" fill="#f7fccd"/><rect x="205.99" fill="#ffedaa"/><rect x="208.01" fill="#eaf7e6"/><rect x="210.04" fill="#f9fdca"/><rect x="212.06" fill="#fed48d"/><rect x="214.08" fill="#fff2b0"/><rect x="216.1" fill="#fec279"/><rect x="218.12" fill="#fdc076"/><rect x="220.15" fill="#fcfec4"/><rect x="222.17" fill="#feda94"/><rect x="224.19" fill="#fffebe"/><rect x="226.21" fill="#fedc97"/><rect x="228.24" fill="#fecf87"/><rect x="230.26" fill="#fee6a2"/><rect x="232.28" fill="#fff0ae"/><rect x="234.3" fill="#fee19c"/><rect x="236.32" fill="#fecf87"/><rect x="238.35" fill="#fee5a1"/><rect x="240.37" fill="#fffebe"/><rect x="242.39" fill="#feffc0"/><rect x="244.41" fill="#ffffc0"/><rect x="246.43" fill="#fee5a0"/><rect x="248.46" fill="#fee19d"/><rect x="250.48" fill="#fcfec4"/></g>
<g transform="translate(0 110.75)" class="hm"><rect x="115" fill="#fed089"/><rect x="117.02" fill="#fff1af"/><rect x="119.04" fill="#fed892"/><rect x="121.07" fill="#ffefad"/><rect x="123.09" fill="#fed58e"/><rect x="125.11" fill="#ffeeab"/><rect x="127.13" fill="#feffc1"/><rect x="129.15" fill="#ffeeab"/><rect x="131.18" fill="#ffffbf"/><rect x="133.2" fill="#fff6b5"/><rect x="135.22" fill="#ffefac"/><rect x="137.24" fill="#ffedaa"/><rect x="139.26" fill="#fdb569"/><rect x="141.29" fill="#fee29d"/><rect x="143.31" fill="#f7fccd"/><rect x="145.33" fill="#ffedaa"/><rect x="147.35" fill="#fede98"/><rect x="149.38" fill="#fed791"/><rect x="151.4" fill="#fecf88"/><rect x="153.42" fill="#fee39f"/><rect x="155.44" fill="#fee19c"/><rect x="157.46" fill="#fed892"/><rect x="159.49" fill="#fee8a4"/><rect x="161.51" fill="#fed58e"/><rect x="163.53" fill="#fec47a"/><rect x="165.55" fill="#fff1ae"/><rect x="167.57" fill="#fcfec5"/><rect x="169.6" fill="#f6fccf"/><rect x="171.62" fill="#f9fdca"/><rect x="173.64" fill="#f4fbd3"/><rect x="175.66" fill="#fffdbd"/><rect x="177.68" fill="#fefec2"/><rect x="179.71" fill="#fdfec3"/><rect x="181.73" fill="#fbfdc7"/><rect x="183.75" fill="#fafdc7"/><rect x="185.77" fill="#fedb95"/><rect x="187.79" fill="#fafdc8"/><rect x="189.82" fill="#fff3b1"/><rect x="191.84" fill="#fffebe"/><rect x="193.86" fill="#f4fbd4"/><rect x="195.88" fill="#feffc0"/><rect x="197.9" fill="#fdfec3"/><rect x="199.93" fill="#f9fdca"/><rect x="201.95" fill="#fdfec2"/><rect x="203.97" fill="#feffc0"/><rect x="205.99" fill="#ffffbf"/><rect x="208.01" fill="#feeba7"/><rect x="210.04" fill="#ffffbf"/><rect x="212.06" fill="#fdfec4"/><rect x="214.08" fill="#feffc0"/><rect x="216.1" fill="#f8fccc"/><rect x="218.12" fill="#fdfec2"/><rect x="220.15" fill="#ffeba8"/><rect x="222.17" fill="#f8fccc"/><rect x="224.19" fill="#f7fcce"/><rect x="226.21" fill="#f4fbd3"/><rect x="228.24" fill="#f7fcce"/><rect x="230.26" fill="#fcfec5"/><rect x="232.28" fill="#fcfec5"/><rect x="234.3" fill="#fff4b3"/><rect x="236.32" fill="#fafdc8"/><rect x="238.35" fill="#fcfec5"/><rect x="240.37" fill="#fdfec3"/><rect x="242.39" fill="#fff1af"/><rect x="244.41" fill="#fefec2"/><rect x="246.43" fill="#ffeeab"/><rect x="248.46" fill="#f5fbd2"/><rect x="250.48" fill="#fee5a1"/></g>
<g transform="translate(0 116.8)" class="hm"><rect x="115" fill="#fefec1"/><rect x="117.02" fill="#fafdc8"/><rect x="119.04" fill="#fafdc8"/><rect x="121.07" fill="#f59555"/><rect x="123.09" fill="#fbfec6"/><rect x="125.11" fill="#feffc1"/><rect x="127.13" fill="#f6fccf"/><rect x="129.15" fill="#f4fbd3"/><rect x="131.18" fill="#f0f9da"/><rect x="133.2" fill="#f6fccf"/><rect x="135.22" fill="#fbfdc7"/><rect x="137.24" fill="#fafdc9"/><rect x="139.26" fill="#fffebe"/><rect x="141.29" fill="#f2fad8"/><rect x="143.31" fill="#f8fccc"/><rect x="145.33" fill="#eef8df"/><rect x="147.35" fill="#fffcbc"/><rect x="149.38" fill="#fff9b8"/><rect x="151.4" fill="#fafdc8"/><rect x="153.42" fill="#feffc0"/><rect x="155.44" fill="#f8fccd"/><rect x="157.46" fill="#fff9b8"/><rect x="159.49" fill="#f7fccd"/><rect x="161.51" fill="#fefec2"/><rect x="163.53" fill="#e8f6e9"/><rect x="165.55" fill="#f6fbd0"/><rect x="167.57" fill="#fcfec5"/><rect x="169.6" fill="#f4fbd4"/><rect x="171.62" fill="#f4fbd3"/><rect x="173.64" fill="#f1fad9"/><rect x="175.66" fill="#fbfec6"/><rect x="177.68" fill="#fffab9"/><rect x="179.71" fill="#f6fccf"/><rect x="181.73" fill="#fafdc9"/><rect x="183.75" fill="#f6fbd0"/><rect x="185.77" fill="#f5fbd1"/><rect x="187.79" fill="#fcfec5"/><rect x="189.82" fill="#ffedab"/><rect x="191.84" fill="#fff6b5"/><rect x="193.86" fill="#fff8b7"/><rect x="195.88" fill="#fffdbd"/><rect x="197.9" fill="#f9fdcb"/><rect x="199.93" fill="#fcfec5"/><rect x="201.95" fill="#ffedaa"/><rect x="203.97" fill="#fff3b1"/><rect x="205.99" fill="#f5fbd1"/><rect x="208.01" fill="#fff4b2"/><rect x="210.04" fill="#fcfec5"/><rect x="212.06" fill="#fcfec4"/><rect x="214.08" fill="#ffedaa"/><rect x="216.1" fill="#feffc1"/><rect x="218.12" fill="#fffebe"/><rect x="220.15" fill="#ffeca9"/><rect x="222.17" fill="#fff7b6"/><rect x="224.19" fill="#fafdc8"/><rect x="226.21" fill="#fbfec6"/><rect x="228.24" fill="#f8fccd"/><rect x="230.26" fill="#fffcbb"/><rect x="232.28" fill="#feffc1"/><rect x="234.3" fill="#fffdbd"/><rect x="236.32" fill="#f9fdca"/><rect x="238.35" fill="#fff6b5"/><rect x="240.37" fill="#fffebe"/><rect x="242.39" fill="#fed791"/><rect x="244.41" fill="#fffbbb"/><rect x="246.43" fill="#fee49f"/><rect x="248.46" fill="#feffc1"/><rect x="250.48" fill="#fed68f"/></g>
<g transform="translate(0 122.85)" class="hm"><rect x="115" fill="#fffdbd"/><rect x="117.02" fill="#f3fbd4"/><rect x="119.04" fill="#fdfec3"/><rect x="121.07" fill="#fff9b8"/><rect x="123.09" fill="#fff2b0"/><rect x="125.11" fill="#ffefad"/><rect x="127.13" fill="#f7fcce"/><rect x="129.15" fill="#fffcbb"/><rect x="131.18" fill="#fafdc8"/><rect x="133.2" fill="#fdfec3"/><rect x="135.22" fill="#fff7b6"/><rect x="137.24" fill="#fffbbb"/><rect x="139.26" fill="#fee5a1"/><rect x="141.29" fill="#fdfec2"/><rect x="143.31" fill="#fbfdc6"/><rect x="145.33" fill="#fbfec6"/><rect x="147.35" fill="#feffc1"/><rect x="149.38" fill="#feffc1"/><rect x="151.4" fill="#fed18a"/><rect x="153.42" fill="#fff7b5"/><rect x="155.44" fill="#fcfec5"/><rect x="157.46" fill="#fffbba"/><rect x="159.49" fill="#feffc1"/><rect x="161.51" fill="#fffebe"/><rect x="163.53" fill="#fcfec4"/><rect x="165.55" fill="#f8fccc"/><rect x="167.57" fill="#ffffbf"/><rect x="169.6" fill="#fffcbb"/><rect x="171.62" fill="#fff4b3"/><rect x="173.64" fill="#fcfec5"/><rect x="175.66" fill="#fffab9"/><rect x="177.68" fill="#fff9b8"/><rect x="179.71" fill="#fee29d"/><rect x="181.73" fill="#fff5b4"/><rect x="183.75" fill="#fffebe"/><rect x="185.77" fill="#fee7a3"/><rect x="187.79" fill="#fee7a3"/><rect x="189.82" fill="#fedd97"/><rect x="191.84" fill="#fee09b"/><rect x="193.86" fill="#fffdbd"/><rect x="195.88" fill="#fed38c"/><rect x="197.9" fill="#fff4b3"/><rect x="199.93" fill="#ffffbf"/><rect x="201.95" fill="#fedd98"/><rect x="203.97" fill="#fffcbb"/><rect x="205.99" fill="#fffcbb"/><rect x="208.01" fill="#fed088"/><rect x="210.04" fill="#fdfec3"/><rect x="212.06" fill="#ffffbe"/><rect x="214.08" fill="#fee49f"/><rect x="216.1" fill="#ffefac"/><rect x="218.12" fill="#ffeca9"/><rect x="220.15" fill="#fece87"/><rect x="222.17" fill="#fcfec5"/><rect x="224.19" fill="#fbfec6"/><rect x="226.21" fill="#fafdc7"/><rect x="228.24" fill="#fbfdc7"/><rect x="230.26" fill="#fffcbc"/><rect x="232.28" fill="#fdfec2"/><rect x="234.3" fill="#fee19d"/><rect x="236.32" fill="#fff7b6"/><rect x="238.35" fill="#ffedaa"/><rect x="240.37" fill="#fff1af"/><rect x="242.39" fill="#fee29e"/><rect x="244.41" fill="#fff1af"/><rect x="246.43" fill="#fff2b0"/><rect x="248.46" fill="#fdfec3"/><rect x="250.48" fill="#fed891"/></g>
<g transform="translate(0 128.9)" class="hm"><rect x="115" fill="#ffeba8"/><rect x="117.02" fill="#fedb95"/><rect x="119.04" fill="#feda94"/><rect x="121.07" fill="#fedf9a"/><rect x="123.09" fill="#fff9b8"/><rect x="125.11" fill="#fee8a4"/><rect x="127.13" fill="#fedf9a"/><rect x="129.15" fill="#fedc97"/><rect x="131.18" fill="#fec67d"/><rect x="133.2" fill="#fed892"/><rect x="135.22" fill="#fee09b"/><rect x="137.24" fill="#fff1af"/><rect x="139.26" fill="#fffebe"/><rect x="141.29" fill="#fed993"/><rect x="143.31" fill="#fecc84"/><rect x="145.33" fill="#fdc076"/><rect x="147.35" fill="#fff0ae"/><rect x="149.38" fill="#ffefad"/><rect x="151.4" fill="#fff2af"/><rect x="153.42" fill="#fee8a4"/><rect x="155.44" fill="#fee29e"/><rect x="157.46" fill="#fed28a"/><rect x="159.49" fill="#feeaa7"/><rect x="161.51" fill="#fffcbc"/><rect x="163.53" fill="#fed892"/><rect x="165.55" fill="#fee09c"/><rect x="167.57" fill="#ffeba8"/><rect x="169.6" fill="#fcfec5"/><rect x="171.62" fill="#f6fccf"/><rect x="173.64" fill="#fff2b0"/><rect x="175.66" fill="#f9fdc9"/><rect x="177.68" fill="#f5fbd2"/><rect x="179.71" fill="#f6fccf"/><rect x="181.73" fill="#f5fbd2"/><rect x="183.75" fill="#fbfec6"/><rect x="185.77" fill="#fcfec5"/><rect x="187.79" fill="#e4f5f1"/><rect x="189.82" fill="#f1f9da"/><rect x="191.84" fill="#f4fbd3"/><rect x="193.86" fill="#fff8b7"/><rect x="195.88" fill="#eff9dd"/><rect x="197.9" fill="#f2fad7"/><rect x="199.93" fill="#fff8b7"/><rect x="201.95" fill="#eef8de"/><rect x="203.97" fill="#ffeeab"/><rect x="205.99" fill="#fff8b6"/><rect x="208.01" fill="#f3fad5"/><rect x="210.04" fill="#f7fccd"/><rect x="212.06" fill="#f9fdc9"/><rect x="214.08" fill="#f4fbd3"/><rect x="216.1" fill="#ffffbe"/><rect x="218.12" fill="#f9fdca"/><rect x="220.15" fill="#f1f9d9"/><rect x="222.17" fill="#fff6b5"/><rect x="224.19" fill="#ffedaa"/><rect x="226.21" fill="#fee7a3"/><rect x="228.24" fill="#ffeca9"/><rect x="230.26" fill="#fcfec4"/><rect x="232.28" fill="#fdfec3"/><rect x="234.3" fill="#f9fdc9"/><rect x="236.32" fill="#fff8b7"/><rect x="238.35" fill="#fff5b3"/><rect x="240.37" fill="#fbfdc7"/><rect x="242.39" fill="#f4fbd4"/><rect x="244.41" fill="#fcfec5"/><rect x="246.43" fill="#fafdc8"/><rect x="248.46" fill="#fee29d"/><rect x="250.48" fill="#f6fccf"/></g>
<g transform="translate(0 134.95)" class="hm"><rect x="115" fill="#fcfec4"/><rect x="117.02" fill="#fffcbc"/><rect x="119.04" fill="#fffcbc"/><rect x="121.07" fill="#feffc1"/><rect x="123.09" fill="#f6fccf"/><rect x="125.11" fill="#f8fccc"/><rect x="127.13" fill="#fffdbc"/><rect x="129.15" fill="#fff9b8"/><rect x="131.18" fill="#ffeba8"/><rect x="133.2" fill="#f8fccc"/><rect x="135.22" fill="#f9fdc9"/><rect x="137.24" fill="#f4fbd2"/><rect x="139.26" fill="#f7fccd"/><rect x="141.29" fill="#fcfec5"/><rect x="143.31" fill="#fffab9"/><rect x="145.33" fill="#feeaa6"/><rect x="147.35" fill="#ebf7e4"/><rect x="149.38" fill="#f5fbd1"/><rect x="151.4" fill="#fafdc8"/><rect x="153.42" fill="#feffc1"/><rect x="155.44" fill="#f7fcce"/><rect x="157.46" fill="#f2fad8"/><rect x="159.49" fill="#fff3b1"/><rect x="161.51" fill="#f5fbd2"/><rect x="163.53" fill="#f2fad7"/><rect x="165.55" fill="#fffcbc"/><rect x="167.57" fill="#feffc0"/><rect x="169.6" fill="#feffc0"/><rect x="171.62" fill="#fffebe"/><rect x="173.64" fill="#fcfec5"/><rect x="175.66" fill="#f4fbd4"/><rect x="177.68" fill="#f4fbd4"/><rect x="179.71" fill="#f8fccc"/><rect x="181.73" fill="#f5fbd2"/><rect x="183.75" fill="#fcfec5"/><rect x="185.77" fill="#fbfdc7"/><rect x="187.79" fill="#fcfec5"/><rect x="189.82" fill="#f5fbd1"/><rect x="191.84" fill="#f8fccc"/><rect x="193.86" fill="#fed791"/><rect x="195.88" fill="#f5fbd1"/><rect x="197.9" fill="#f8fccc"/><rect x="199.93" fill="#f8fccd"/><rect x="201.95" fill="#ebf7e4"/><rect x="203.97" fill="#fcfec4"/><rect x="205.99" fill="#fff9b8"/><rect x="208.01" fill="#e9f6e8"/><rect x="210.04" fill="#fafdc8"/><rect x="212.06" fill="#fff6b4"/><rect x="214.08" fill="#ffffbf"/><rect x="216.1" fill="#fee6a2"/><rect x="218.12" fill="#fff3b1"/><rect x="220.15" fill="#fafdc8"/><rect x="222.17" fill="#fee09b"/><rect x="224.19" fill="#fee7a3"/><rect x="226.21" fill="#fee8a4"/><rect x="228.24" fill="#fee9a6"/><rect x="230.26" fill="#fff0ad"/><rect x="232.28" fill="#fff8b7"/><rect x="234.3" fill="#fafdc9"/><rect x="236.32" fill="#ffedaa"/><rect x="238.35" fill="#f9fdca"/><rect x="240.37" fill="#fff5b3"/><rect x="242.39" fill="#f0f9da"/><rect x="244.41" fill="#f4fbd4"/><rect x="246.43" fill="#fed891"/><rect x="248.46" fill="#fecc84"/><rect x="250.48" fill="#fcfec5"/></g>
<g transform="translate(0 141)" class="hm"><rect x="115" fill="#fff8b6"/><rect x="117.02" fill="#ffeca8"/><rect x="119.04" fill="#fff3b1"/><rect x="121.07" fill="#fff5b3"/><rect x="123.09" fill="#fff9b8"/><rect x="125.11" fill="#fff8b6"/><rect x="127.13" fill="#fec77e"/><rect x="129.15" fill="#fff2b0"/><rect x="131.18" fill="#fee5a1"/><rect x="133.2" fill="#fee9a6"/><rect x="135.22" fill="#fee09b"/><rect x="137.24" fill="#ffefac"/><rect x="139.26" fill="#fafdc9"/><rect x="141.29" fill="#ffffbf"/><rect x="143.31" fill="#fed48e"/><rect x="145.33" fill="#fedd97"/><rect x="147.35" fill="#fff9b8"/><rect x="149.38" fill="#fefec1"/><rect x="151.4" fill="#ffeba8"/><rect x="153.42" fill="#fff9b8"/><rect x="155.44" fill="#fee8a4"/><rect x="157.46" fill="#fee09b"/><rect x="159.49" fill="#fee29e"/><rect x="161.51" fill="#fcfec4"/><rect x="163.53" fill="#fee39f"/><rect x="165.55" fill="#fed790"/><rect x="167.57" fill="#fff0ae"/><rect x="169.6" fill="#fffdbd"/><rect x="171.62" fill="#fafdc8"/><rect x="173.64" fill="#fff5b3"/><rect x="175.66" fill="#f7fccd"/><rect x="177.68" fill="#f9fdcb"/><rect x="179.71" fill="#eef8df"/><rect x="181.73" fill="#f3fad6"/><rect x="183.75" fill="#f7fcce"/><rect x="185.77" fill="#ffffbf"/><rect x="187.79" fill="#feffc1"/><rect x="189.82" fill="#c3e0ef"/><rect x="191.84" fill="#fafdc8"/><rect x="193.86" fill="#feeaa7"/><rect x="195.88" fill="#eff9dd"/><rect x="197.9" fill="#f9fdca"/><rect x="199.93" fill="#f7fcce"/><rect x="201.95" fill="#f1fad9"/><rect x="203.97" fill="#f5fbd2"/><rect x="205.99" fill="#fff7b6"/><rect x="208.01" fill="#d9eef6"/><rect x="210.04" fill="#fbfec6"/><rect x="212.06" fill="#fefec2"/><rect x="214.08" fill="#fedd97"/><rect x="216.1" fill="#fff5b4"/><rect x="218.12" fill="#feffc0"/><rect x="220.15" fill="#f4fbd3"/><rect x="222.17" fill="#fff5b3"/><rect x="224.19" fill="#feffc0"/><rect x="226.21" fill="#fffdbd"/><rect x="228.24" fill="#fedc96"/><rect x="230.26" fill="#f7fcce"/><rect x="232.28" fill="#ffeeab"/><rect x="234.3" fill="#ecf8e1"/><rect x="236.32" fill="#fff9b8"/><rect x="238.35" fill="#f9fdca"/><rect x="240.37" fill="#fbfec6"/><rect x="242.39" fill="#f7fccd"/><rect x="244.41" fill="#f7fccd"/><rect x="246.43" fill="#feffc0"/><rect x="248.46" fill="#ffefad"/><rect x="250.48" fill="#f5fbd1"/></g>
<g transform="translate(0 147.05)" class="hm"><rect x="115" fill="#f5fbd2"/><rect x="117.02" fill="#eef8de"/><rect x="119.04" fill="#f3fad5"/><rect x="121.07" fill="#f7fcce"/><rect x="123.09" fill="#fbfdc6"/><rect x="125.11" fill="#ecf8e2"/><rect x="127.13" fill="#e2f4f4"/><rect x="129.15" fill="#f2fad7"/><rect x="131.18" fill="#f7fccd"/><rect x="133.2" fill="#f2fad6"/><rect x="135.22" fill="#f1fad8"/><rect x="137.24" fill="#f2fad6"/><rect x="139.26" fill="#f5fbd2"/><rect x="141.29" fill="#eef8df"/><rect x="143.31" fill="#ecf8e2"/><rect x="145.33" fill="#f3fad5"/><rect x="147.35" fill="#f7fccd"/><rect x="149.38" fill="#fcfec4"/><rect x="151.4" fill="#fbfec6"/><rect x="153.42" fill="#eff9dc"/><rect x="155.44" fill="#fdfec2"/><rect x="157.46" fill="#f9fdcb"/><rect x="159.49" fill="#f2fad6"/><rect x="161.51" fill="#f5fbd1"/><rect x="163.53" fill="#f9fdca"/><rect x="165.55" fill="#eff9dd"/><rect x="167.57" fill="#f9fdca"/><rect x="169.6" fill="#fdfec3"/><rect x="171.62" fill="#fafdc9"/><rect x="173.64" fill="#f8fccd"/><rect x="175.66" fill="#fedb95"/><rect x="177.68" fill="#feeaa7"/><rect x="179.71" fill="#fff1af"/><rect x="181.73" fill="#fffcbb"/><rect x="183.75" fill="#fbfdc7"/><rect x="185.77" fill="#feeaa6"/><rect x="187.79" fill="#fff3b1"/><rect x="189.82" fill="#ffeca8"/><rect x="191.84" fill="#fee19c"/><rect x="193.86" fill="#feffc1"/><rect x="195.88" fill="#fed68f"/><rect x="197.9" fill="#fff7b5"/><rect x="199.93" fill="#fff2b0"/><rect x="201.95" fill="#ffffbe"/><rect x="203.97" fill="#fee39f"/><rect x="205.99" fill="#fcfec4"/><rect x="208.01" fill="#fed993"/><rect x="210.04" fill="#ffedaa"/><rect x="212.06" fill="#ffefad"/><rect x="214.08" fill="#fee29d"/><rect x="216.1" fill="#fff5b4"/><rect x="218.12" fill="#fff5b4"/><rect x="220.15" fill="#feda94"/><rect x="222.17" fill="#fbfdc7"/><rect x="224.19" fill="#fbfdc7"/><rect x="226.21" fill="#fff9b8"/><rect x="228.24" fill="#f8fccc"/><rect x="230.26" fill="#ffffc0"/><rect x="232.28" fill="#fff0ad"/><rect x="234.3" fill="#fff1af"/><rect x="236.32" fill="#fff0ae"/><rect x="238.35" fill="#fff6b5"/><rect x="240.37" fill="#fee39f"/><rect x="242.39" fill="#fed28b"/><rect x="244.41" fill="#feeaa7"/><rect x="246.43" fill="#ffeeab"/><rect x="248.46" fill="#fffdbc"/><rect x="250.48" fill="#fee8a4"/></g>
<g transform="translate(0 153.1)" class="hm"><rect x="115" fill="#f4fbd3"/><rect x="117.02" fill="#f7fccd"/><rect x="119.04" fill="#f6fbd0"/><rect x="121.07" fill="#f8fccd"/><rect x="123.09" fill="#f4fbd3"/><rect x="125.11" fill="#f0f9da"/><rect x="127.13" fill="#f1fad9"/><rect x="129.15" fill="#eff9dd"/><rect x="131.18" fill="#e9f7e7"/><rect x="133.2" fill="#f0f9da"/><rect x="135.22" fill="#edf8e0"/><rect x="137.24" fill="#f5fbd1"/><rect x="139.26" fill="#fdfec2"/><rect x="141.29" fill="#f2fad8"/><rect x="143.31" fill="#f3fad6"/><rect x="145.33" fill="#f8fccc"/><rect x="147.35" fill="#fdfec2"/><rect x="149.38" fill="#fff8b7"/><rect x="151.4" fill="#fafdc8"/><rect x="153.42" fill="#feffc1"/><rect x="155.44" fill="#f2fad6"/><rect x="157.46" fill="#fffcbb"/><rect x="159.49" fill="#f6fccf"/><rect x="161.51" fill="#fafdc8"/><rect x="163.53" fill="#f5fbd2"/><rect x="165.55" fill="#ebf7e4"/><rect x="167.57" fill="#fcfec4"/><rect x="169.6" fill="#ffffbf"/><rect x="171.62" fill="#fafdc7"/><rect x="173.64" fill="#fffbba"/><rect x="175.66" fill="#fed18a"/><rect x="177.68" fill="#e6623e"/><rect x="179.71" fill="#e6623e"/><rect x="181.73" fill="#fff2af"/><rect x="183.75" fill="#fed791"/><rect x="185.77" fill="#fed088"/><rect x="187.79" fill="#fdb96e"/><rect x="189.82" fill="#fec87f"/><rect x="191.84" fill="#fec980"/><rect x="193.86" fill="#fee39f"/><rect x="195.88" fill="#feca81"/><rect x="197.9" fill="#fed58f"/><rect x="199.93" fill="#fee39e"/><rect x="201.95" fill="#fed68f"/><rect x="203.97" fill="#fed38c"/><rect x="205.99" fill="#fed58f"/><rect x="208.01" fill="#fdbb70"/><rect x="210.04" fill="#fecb83"/><rect x="212.06" fill="#feeaa7"/><rect x="214.08" fill="#ffeca9"/><rect x="216.1" fill="#fdfec2"/><rect x="218.12" fill="#fff3b1"/><rect x="220.15" fill="#fff1af"/><rect x="222.17" fill="#fcfec5"/><rect x="224.19" fill="#ffffc0"/><rect x="226.21" fill="#fafdc8"/><rect x="228.24" fill="#f9fdca"/><rect x="230.26" fill="#fffebe"/><rect x="232.28" fill="#fffbba"/><rect x="234.3" fill="#fedf9a"/><rect x="236.32" fill="#fdfec3"/><rect x="238.35" fill="#feffc0"/><rect x="240.37" fill="#fff4b2"/><rect x="242.39" fill="#fff3b1"/><rect x="244.41" fill="#fee4a0"/><rect x="246.43" fill="#fffbba"/><rect x="248.46" fill="#fbfdc7"/><rect x="250.48" fill="#fff2b0"/></g>
<g transform="translate(0 159.15)" class="hm"><rect x="115" fill="#eaf7e6"/><rect x="117.02" fill="#f0f9db"/><rect x="119.04" fill="#f4fbd3"/><rect x="121.07" fill="#f4fbd3"/><rect x="123.09" fill="#f7fccd"/><rect x="125.11" fill="#e1f3f6"/><rect x="127.13" fill="#f0f9da"/><rect x="129.15" fill="#eff9dd"/><rect x="131.18" fill="#f1f9da"/><rect x="133.2" fill="#f1fad8"/><rect x="135.22" fill="#f0f9db"/><rect x="137.24" fill="#eef8df"/><rect x="139.26" fill="#fefec2"/><rect x="141.29" fill="#f0f9db"/><rect x="143.31" fill="#f1f9da"/><rect x="145.33" fill="#cce6f2"/><rect x="147.35" fill="#f3fad5"/><rect x="149.38" fill="#fcfec4"/><rect x="151.4" fill="#fbfec6"/><rect x="153.42" fill="#f7fcce"/><rect x="155.44" fill="#feffc1"/><rect x="157.46" fill="#f0f9db"/><rect x="159.49" fill="#eff9dd"/><rect x="161.51" fill="#f6fccf"/><rect x="163.53" fill="#eff9dc"/><rect x="165.55" fill="#f5fbd1"/><rect x="167.57" fill="#f3fad5"/><rect x="169.6" fill="#fafdc8"/><rect x="171.62" fill="#fffcbb"/><rect x="173.64" fill="#fbfec6"/><rect x="175.66" fill="#fdb56a"/><rect x="177.68" fill="#fdad61"/><rect x="179.71" fill="#fdc278"/><rect x="181.73" fill="#fdb86c"/><rect x="183.75" fill="#fdc075"/><rect x="185.77" fill="#e96c43"/><rect x="187.79" fill="#e96c43"/><rect x="189.82" fill="#fed790"/><rect x="191.84" fill="#fec87f"/><rect x="193.86" fill="#fed089"/><rect x="195.88" fill="#f69656"/><rect x="197.9" fill="#fdbf75"/><rect x="199.93" fill="#fed690"/><rect x="201.95" fill="#fdb86c"/><rect x="203.97" fill="#fdc177"/><rect x="205.99" fill="#fec37a"/><rect x="208.01" fill="#f69656"/><rect x="210.04" fill="#fdc076"/><rect x="212.06" fill="#fffdbc"/><rect x="214.08" fill="#fff6b4"/><rect x="216.1" fill="#fdfec2"/><rect x="218.12" fill="#fefec2"/><rect x="220.15" fill="#fee29e"/><rect x="222.17" fill="#f6fbd0"/><rect x="224.19" fill="#f9fdc9"/><rect x="226.21" fill="#f9fdca"/><rect x="228.24" fill="#fafdc8"/><rect x="230.26" fill="#fff4b2"/><rect x="232.28" fill="#fff9b8"/><rect x="234.3" fill="#fee7a4"/><rect x="236.32" fill="#fff9b8"/><rect x="238.35" fill="#fcfec5"/><rect x="240.37" fill="#fff8b7"/><rect x="242.39" fill="#fff0ae"/><rect x="244.41" fill="#fff4b2"/><rect x="246.43" fill="#fff6b4"/><rect x="248.46" fill="#f2fad6"/><rect x="250.48" fill="#fffab9"/></g>
<g transform="translate(0 165.2)" class="hm"><rect x="115" fill="#fffcbb"/><rect x="117.02" fill="#fee49f"/><rect x="119.04" fill="#fff5b3"/><rect x="121.07" fill="#feffc1"/><rect x="123.09" fill="#fafdc8"/><rect x="125.11" fill="#feeba7"/><rect x="127.13" fill="#fedf9a"/><rect x="129.15" fill="#fff5b3"/><rect x="131.18" fill="#fff3b1"/><rect x="133.2" fill="#fff0ad"/><rect x="135.22" fill="#feda94"/><rect x="137.24" fill="#fff7b6"/><rect x="139.26" fill="#fcfec5"/><rect x="141.29" fill="#fee5a1"/><rect x="143.31" fill="#fee8a4"/><rect x="145.33" fill="#fedd97"/><rect x="147.35" fill="#fcfec5"/><rect x="149.38" fill="#feffc1"/><rect x="151.4" fill="#fdfec3"/><rect x="153.42" fill="#fff3b1"/><rect x="155.44" fill="#feda94"/><rect x="157.46" fill="#fff7b6"/><rect x="159.49" fill="#fee09b"/><rect x="161.51" fill="#fcfec4"/><rect x="163.53" fill="#fed993"/><rect x="165.55" fill="#ffeca9"/><rect x="167.57" fill="#fff0ae"/><rect x="169.6" fill="#fffebe"/><rect x="171.62" fill="#f9fdc9"/><rect x="173.64" fill="#fedf9a"/><rect x="175.66" fill="#f8fccc"/><rect x="177.68" fill="#f1fad9"/><rect x="179.71" fill="#f7fcce"/><rect x="181.73" fill="#fff8b7"/><rect x="183.75" fill="#ffffc0"/><rect x="185.77" fill="#fff8b7"/><rect x="187.79" fill="#feffc1"/><rect x="189.82" fill="#f1fad8"/><rect x="191.84" fill="#f8fccc"/><rect x="193.86" fill="#fffbba"/><rect x="195.88" fill="#fdfec3"/><rect x="197.9" fill="#fdfec2"/><rect x="199.93" fill="#fdfec4"/><rect x="201.95" fill="#f2fad7"/><rect x="203.97" fill="#fbfdc7"/><rect x="205.99" fill="#ffeba8"/><rect x="208.01" fill="#f2fad8"/><rect x="210.04" fill="#fdfec3"/><rect x="212.06" fill="#fff1af"/><rect x="214.08" fill="#fbfdc7"/><rect x="216.1" fill="#fff4b2"/><rect x="218.12" fill="#fff3b1"/><rect x="220.15" fill="#fffcbc"/><rect x="222.17" fill="#fee7a4"/><rect x="224.19" fill="#fee39f"/><rect x="226.21" fill="#fec57b"/><rect x="228.24" fill="#fed18a"/><rect x="230.26" fill="#fff0ae"/><rect x="232.28" fill="#fbfdc7"/><rect x="234.3" fill="#f7fccf"/><rect x="236.32" fill="#fefec2"/><rect x="238.35" fill="#f5fbd1"/><rect x="240.37" fill="#fafdc9"/><rect x="242.39" fill="#fcfec5"/><rect x="244.41" fill="#feffc0"/><rect x="246.43" fill="#fdfec3"/><rect x="248.46" fill="#ffeeab"/><rect x="250.48" fill="#f2fad6"/></g>
<g transform="translate(0 171.25)" class="hm"><rect x="115" fill="#fdfec4"/><rect x="117.02" fill="#ffffc0"/><rect x="119.04" fill="#fcfec4"/><rect x="121.07" fill="#f6fccf"/><rect x="123.09" fill="#f8fccb"/><rect x="125.11" fill="#f5fbd1"/><rect x="127.13" fill="#fff3b1"/><rect x="129.15" fill="#fffebe"/><rect x="131.18" fill="#fee39f"/><rect x="133.2" fill="#f7fcce"/><rect x="135.22" fill="#f7fcce"/><rect x="137.24" fill="#fbfec6"/><rect x="139.26" fill="#ebf7e4"/><rect x="141.29" fill="#fffebe"/><rect x="143.31" fill="#fafdc9"/><rect x="145.33" fill="#fafdc9"/><rect x="147.35" fill="#eff9dd"/><rect x="149.38" fill="#eff9dc"/><rect x="151.4" fill="#f3fad5"/><rect x="153.42" fill="#f1fad9"/><rect x="155.44" fill="#fff2af"/><rect x="157.46" fill="#ffffc0"/><rect x="159.49" fill="#fffdbd"/><rect x="161.51" fill="#eff9dc"/><rect x="163.53" fill="#fffcbc"/><rect x="165.55" fill="#f6fbd0"/><rect x="167.57" fill="#edf8e0"/><rect x="169.6" fill="#fff8b7"/><rect x="171.62" fill="#f5fbd1"/><rect x="173.64" fill="#fbfec6"/><rect x="175.66" fill="#f6fccf"/><rect x="177.68" fill="#f5fbd1"/><rect x="179.71" fill="#fcfec4"/><rect x="181.73" fill="#f1fad9"/><rect x="183.75" fill="#f2fad7"/><rect x="185.77" fill="#fcfec5"/><rect x="187.79" fill="#f5fbd1"/><rect x="189.82" fill="#eef8df"/><rect x="191.84" fill="#eef8de"/><rect x="193.86" fill="#fdfec3"/><rect x="195.88" fill="#fafdc9"/><rect x="197.9" fill="#fcfec5"/><rect x="199.93" fill="#feffc0"/><rect x="201.95" fill="#f5fbd2"/><rect x="203.97" fill="#f1fad9"/><rect x="205.99" fill="#f9fdca"/><rect x="208.01" fill="#e3f4f3"/><rect x="210.04" fill="#f3fad6"/><rect x="212.06" fill="#fefec2"/><rect x="214.08" fill="#f8fccb"/><rect x="216.1" fill="#fff7b5"/><rect x="218.12" fill="#fff2b0"/><rect x="220.15" fill="#fdfec3"/><rect x="222.17" fill="#fee19c"/><rect x="224.19" fill="#fff1af"/><rect x="226.21" fill="#fdfec3"/><rect x="228.24" fill="#fee39f"/><rect x="230.26" fill="#fafdc8"/><rect x="232.28" fill="#fff1ae"/><rect x="234.3" fill="#fff9b8"/><rect x="236.32" fill="#fee5a1"/><rect x="238.35" fill="#fdfec2"/><rect x="240.37" fill="#fee09b"/><rect x="242.39" fill="#fdfec3"/><rect x="244.41" fill="#fff3b1"/><rect x="246.43" fill="#ffeca9"/><rect x="248.46" fill="#fee09b"/><rect x="250.48" fill="#fbfdc6"/></g>
<g transform="translate(0 177.3)" class="hm"><rect x="115" fill="#fff4b2"/><rect x="117.02" fill="#fff1af"/><rect x="119.04" fill="#fbfec6"/><rect x="121.07" fill="#f3fbd4"/><rect x="123.09" fill="#ffffbf"/><rect x="125.11" fill="#fefec2"/><rect x="127.13" fill="#fff3b1"/><rect x="129.15" fill="#ffffc0"/><rect x="131.18" fill="#fff9b8"/><rect x="133.2" fill="#f5fbd2"/><rect x="135.22" fill="#ffefad"/><rect x="137.24" fill="#fffab9"/><rect x="139.26" fill="#f9fdca"/><rect x="141.29" fill="#fff4b2"/><rect x="143.31" fill="#f0f9da"/><rect x="145.33" fill="#fff5b4"/><rect x="147.35" fill="#ecf8e1"/><rect x="149.38" fill="#f3fad5"/><rect x="151.4" fill="#f0f9db"/><rect x="153.42" fill="#fff7b6"/><rect x="155.44" fill="#fed48d"/><rect x="157.46" fill="#fefec1"/><rect x="159.49" fill="#fff8b7"/><rect x="161.51" fill="#f7fccd"/><rect x="163.53" fill="#fdfec2"/><rect x="165.55" fill="#f7fccd"/><rect x="167.57" fill="#f0f9db"/><rect x="169.6" fill="#fff5b3"/><rect x="171.62" fill="#fdfec2"/><rect x="173.64" fill="#fcfec5"/><rect x="175.66" fill="#f3fad5"/><rect x="177.68" fill="#f3fad6"/><rect x="179.71" fill="#eff9dc"/><rect x="181.73" fill="#f7fcce"/><rect x="183.75" fill="#f5fbd0"/><rect x="185.77" fill="#fcfec4"/><rect x="187.79" fill="#f7fcce"/><rect x="189.82" fill="#f0f9da"/><rect x="191.84" fill="#f4fbd3"/><rect x="193.86" fill="#fee4a0"/><rect x="195.88" fill="#edf8e0"/><rect x="197.9" fill="#f2fad7"/><rect x="199.93" fill="#feffc0"/><rect x="201.95" fill="#f0f9da"/><rect x="203.97" fill="#f7fcce"/><rect x="205.99" fill="#ffeba8"/><rect x="208.01" fill="#eaf7e5"/><rect x="210.04" fill="#fdfec3"/><rect x="212.06" fill="#feeaa7"/><rect x="214.08" fill="#fdfec2"/><rect x="216.1" fill="#fed992"/><rect x="218.12" fill="#fff5b3"/><rect x="220.15" fill="#fafdc8"/><rect x="222.17" fill="#fee5a1"/><rect x="224.19" fill="#fee09b"/><rect x="226.21" fill="#fedc96"/><rect x="228.24" fill="#fecc83"/><rect x="230.26" fill="#ffeca9"/><rect x="232.28" fill="#fff9b8"/><rect x="234.3" fill="#fff8b7"/><rect x="236.32" fill="#fee19c"/><rect x="238.35" fill="#fffbba"/><rect x="240.37" fill="#fffebe"/><rect x="242.39" fill="#fbfdc6"/><rect x="244.41" fill="#fffdbd"/><rect x="246.43" fill="#fff0ad"/><rect x="248.46" fill="#fed790"/><rect x="250.48" fill="#f3fad6"/></g>
<g transform="translate(0 183.35)" class="hm"><rect x="115" fill="#fff3b1"/><rect x="117.02" fill="#fbfec5"/><rect x="119.04" fill="#fefec2"/><rect x="121.07" fill="#fffebd"/><rect x="123.09" fill="#fffbba"/><rect x="125.11" fill="#fff9b8"/><rect x="127.13" fill="#f8fccd"/><rect x="129.15" fill="#f6fbd0"/><rect x="131.18" fill="#f2fad7"/><rect x="133.2" fill="#fff2b0"/><rect x="135.22" fill="#fdfec3"/><rect x="137.24" fill="#fcfec4"/><rect x="139.26" fill="#fff6b5"/><rect x="141.29" fill="#f8fccc"/><rect x="143.31" fill="#fbfec6"/><rect x="145.33" fill="#fcfec5"/><rect x="147.35" fill="#ffefad"/><rect x="149.38" fill="#fee9a5"/><rect x="151.4" fill="#fdfec3"/><rect x="153.42" fill="#fffcbb"/><rect x="155.44" fill="#fbfdc7"/><rect x="157.46" fill="#eef8de"/><rect x="159.49" fill="#fed690"/><rect x="161.51" fill="#fff6b5"/><rect x="163.53" fill="#fff5b3"/><rect x="165.55" fill="#fff7b6"/><rect x="167.57" fill="#fffcbc"/><rect x="169.6" fill="#f3fad5"/><rect x="171.62" fill="#f7fccd"/><rect x="173.64" fill="#f8fccc"/><rect x="175.66" fill="#feffc1"/><rect x="177.68" fill="#fdfec3"/><rect x="179.71" fill="#fff8b7"/><rect x="181.73" fill="#fcfec4"/><rect x="183.75" fill="#fafdc8"/><rect x="185.77" fill="#fbfdc7"/><rect x="187.79" fill="#fafdc8"/><rect x="189.82" fill="#fff1ae"/><rect x="191.84" fill="#fbfdc6"/><rect x="193.86" fill="#e7f6eb"/><rect x="195.88" fill="#fdfec3"/><rect x="197.9" fill="#fffbba"/><rect x="199.93" fill="#fbfdc7"/><rect x="201.95" fill="#fff3b1"/><rect x="203.97" fill="#f9fdca"/><rect x="205.99" fill="#f5fbd2"/><rect x="208.01" fill="#fffab9"/><rect x="210.04" fill="#fcfec5"/><rect x="212.06" fill="#fee9a6"/><rect x="214.08" fill="#fff4b3"/><rect x="216.1" fill="#fbfdc7"/><rect x="218.12" fill="#fedb95"/><rect x="220.15" fill="#fedf9a"/><rect x="222.17" fill="#fffab9"/><rect x="224.19" fill="#fff5b4"/><rect x="226.21" fill="#fff1ae"/><rect x="228.24" fill="#fdfec2"/><rect x="230.26" fill="#fee39f"/><rect x="232.28" fill="#fffdbd"/><rect x="234.3" fill="#fedc96"/><rect x="236.32" fill="#ffffbe"/><rect x="238.35" fill="#fdfec3"/><rect x="240.37" fill="#fff1ae"/><rect x="242.39" fill="#fee9a5"/><rect x="244.41" fill="#ffefad"/><rect x="246.43" fill="#feda94"/><rect x="248.46" fill="#fcfec4"/><rect x="250.48" fill="#fed68f"/></g>
<g transform="translate(0 189.4)" class="hm"><rect x="115" fill="#fecf88"/><rect x="117.02" fill="#fafdc9"/><rect x="119.04" fill="#fffdbd"/><rect x="121.07" fill="#fdfec2"/><rect x="123.09" fill="#fffcbc"/><rect x="125.11" fill="#fcfec5"/><rect x="127.13" fill="#fbfec6"/><rect x="129.15" fill="#fffcbc"/><rect x="131.18" fill="#f5fbd2"/><rect x="133.2" fill="#fdfec4"/><rect x="135.22" fill="#fafdc9"/><rect x="137.24" fill="#fcfec5"/><rect x="139.26" fill="#ffeca9"/><rect x="141.29" fill="#fcfec5"/><rect x="143.31" fill="#fcfec4"/><rect x="145.33" fill="#f9fccb"/><rect x="147.35" fill="#fffab9"/><rect x="149.38" fill="#fcfec4"/><rect x="151.4" fill="#fff1ae"/><rect x="153.42" fill="#ffffbf"/><rect x="155.44" fill="#fafdc8"/><rect x="157.46" fill="#fffab9"/><rect x="159.49" fill="#f8fccc"/><rect x="161.51" fill="#fbfdc7"/><rect x="163.53" fill="#fff9b8"/><rect x="165.55" fill="#fafdc9"/><rect x="167.57" fill="#fff2b0"/><rect x="169.6" fill="#f8fccc"/><rect x="171.62" fill="#fcfec4"/><rect x="173.64" fill="#f7fccd"/><rect x="175.66" fill="#fff3b1"/><rect x="177.68" fill="#fff8b7"/><rect x="179.71" fill="#feffc1"/><rect x="181.73" fill="#fdfec3"/><rect x="183.75" fill="#fafdc8"/><rect x="185.77" fill="#ffedaa"/><rect x="187.79" fill="#fbfec6"/><rect x="189.82" fill="#fff3b1"/><rect x="191.84" fill="#fff3b1"/><rect x="193.86" fill="#fcfec5"/><rect x="195.88" fill="#feeba7"/><rect x="197.9" fill="#fffbbb"/><rect x="199.93" fill="#f3fad4"/><rect x="201.95" fill="#fee39e"/><rect x="203.97" fill="#f9fdcb"/><rect x="205.99" fill="#ecf8e2"/><rect x="208.01" fill="#fff1af"/><rect x="210.04" fill="#fed38c"/><rect x="212.06" fill="#feffc1"/><rect x="214.08" fill="#fee7a4"/><rect x="216.1" fill="#fff8b7"/><rect x="218.12" fill="#f7fcce"/><rect x="220.15" fill="#fee9a5"/><rect x="222.17" fill="#fffebe"/><rect x="224.19" fill="#feffc0"/><rect x="226.21" fill="#fcfec4"/><rect x="228.24" fill="#feffc1"/><rect x="230.26" fill="#fcfec5"/><rect x="232.28" fill="#fffcbc"/><rect x="234.3" fill="#fee39f"/><rect x="236.32" fill="#fcfec5"/><rect x="238.35" fill="#fee8a4"/><rect x="240.37" fill="#fff2b0"/><rect x="242.39" fill="#fee39f"/><rect x="244.41" fill="#fee9a6"/><rect x="246.43" fill="#fff4b3"/><rect x="248.46" fill="#f8fccb"/><rect x="250.48" fill="#fedd98"/></g>
<g transform="translate(0 195.45)" class="hm"><rect x="115" fill="#feeaa6"/><rect x="117.02" fill="#fffcbb"/><rect x="119.04" fill="#fffcbb"/><rect x="121.07" fill="#fffdbd"/><rect x="123.09" fill="#fff6b5"/><rect x="125.11" fill="#fff1ae"/><rect x="127.13" fill="#feffc1"/><rect x="129.15" fill="#fffab9"/><rect x="131.18" fill="#fdfec2"/><rect x="133.2" fill="#ffedaa"/><rect x="135.22" fill="#fffdbd"/><rect x="137.24" fill="#fffdbd"/><rect x="139.26" fill="#fec67d"/><rect x="141.29" fill="#fff8b7"/><rect x="143.31" fill="#fed48d"/><rect x="145.33" fill="#fee29e"/><rect x="147.35" fill="#fee29e"/><rect x="149.38" fill="#fdfec2"/><rect x="151.4" fill="#fdbd73"/><rect x="153.42" fill="#ffeba8"/><rect x="155.44" fill="#fee9a5"/><rect x="157.46" fill="#f7fcce"/><rect x="159.49" fill="#fff6b5"/><rect x="161.51" fill="#fee7a3"/><rect x="163.53" fill="#fffcbc"/><rect x="165.55" fill="#fff2b0"/><rect x="167.57" fill="#fece86"/><rect x="169.6" fill="#fff2b0"/><rect x="171.62" fill="#fff4b2"/><rect x="173.64" fill="#fcfec5"/><rect x="175.66" fill="#fedf9a"/><rect x="177.68" fill="#fffdbd"/><rect x="179.71" fill="#ffffc0"/><rect x="181.73" fill="#fffcbb"/><rect x="183.75" fill="#fff4b3"/><rect x="185.77" fill="#fedc96"/><rect x="187.79" fill="#fafdc8"/><rect x="189.82" fill="#fff1ae"/><rect x="191.84" fill="#fffdbc"/><rect x="193.86" fill="#feffc1"/><rect x="195.88" fill="#fdfec3"/><rect x="197.9" fill="#fffdbd"/><rect x="199.93" fill="#fffab9"/><rect x="201.95" fill="#ffeca9"/><rect x="203.97" fill="#feffc1"/><rect x="205.99" fill="#fff3b1"/><rect x="208.01" fill="#feeaa7"/><rect x="210.04" fill="#fff5b4"/><rect x="212.06" fill="#fffcbb"/><rect x="214.08" fill="#fffebe"/><rect x="216.1" fill="#fff8b7"/><rect x="218.12" fill="#f9fdca"/><rect x="220.15" fill="#ffedaa"/><rect x="222.17" fill="#f7fccf"/><rect x="224.19" fill="#ffffc0"/><rect x="226.21" fill="#f7fcce"/><rect x="228.24" fill="#f6fbd0"/><rect x="230.26" fill="#fff7b5"/><rect x="232.28" fill="#fcfec5"/><rect x="234.3" fill="#fff4b3"/><rect x="236.32" fill="#fff4b2"/><rect x="238.35" fill="#ffffbe"/><rect x="240.37" fill="#fdfec3"/><rect x="242.39" fill="#fffebd"/><rect x="244.41" fill="#fff4b2"/><rect x="246.43" fill="#fff2b0"/><rect x="248.46" fill="#f5fbd1"/><rect x="250.48" fill="#fee6a2"/></g>
<rect x="256.1" y="20" width="7.5" height="18.2" fill="#d6c840"/>
<rect x="256.1" y="38.15" width="7.5" height="18.2" fill="#4f73a8"/>
<rect x="256.1" y="56.3" width="7.5" height="18.2" fill="#e07ec0"/>
<rect x="256.1" y="74.45" width="7.5" height="18.2" fill="#7b6888"/>
<rect x="256.1" y="92.6" width="7.5" height="18.2" fill="#b55a4a"/>
<rect x="256.1" y="110.75" width="7.5" height="18.2" fill="#5aaf68"/>
<rect x="256.1" y="128.9" width="7.5" height="18.2" fill="#999999"/>
<rect x="256.1" y="147.05" width="7.5" height="18.2" fill="#cc6650"/>
<rect x="256.1" y="165.2" width="7.5" height="18.2" fill="#f0b038"/>
<rect x="256.1" y="183.35" width="7.5" height="18.2" fill="#e52a20"/>
<text x="98.3" y="35" font-size="7.2" font-weight="bold" text-anchor="end" textLength="32.8" lengthAdjust="spacingAndGlyphs">CD40-Ctrl</text>
<text x="98.3" y="52" font-size="7.2" font-weight="bold" text-anchor="end" textLength="30.6" lengthAdjust="spacingAndGlyphs">CD40-OE</text>
<path d="M63.4 35.5 H61.7 V48.8 H63.4" fill="none" stroke="#000" stroke-width="0.85"/>
<text x="98.3" y="70.8" font-size="7.2" font-weight="bold" text-anchor="end" textLength="32.8" lengthAdjust="spacingAndGlyphs">CD40-Ctrl</text>
<text x="98.3" y="87.7" font-size="7.2" font-weight="bold" text-anchor="end" textLength="30.6" lengthAdjust="spacingAndGlyphs">CD40-OE</text>
<path d="M63.4 71.3 H61.7 V84.5 H63.4" fill="none" stroke="#000" stroke-width="0.85"/>
<text x="98.3" y="106.4" font-size="7.2" font-weight="bold" text-anchor="end" textLength="32.8" lengthAdjust="spacingAndGlyphs">CD40-Ctrl</text>
<text x="98.3" y="123.6" font-size="7.2" font-weight="bold" text-anchor="end" textLength="30.6" lengthAdjust="spacingAndGlyphs">CD40-OE</text>
<path d="M63.4 106.9 H61.7 V120.4 H63.4" fill="none" stroke="#000" stroke-width="0.85"/>
<text x="98.3" y="142.3" font-size="7.2" font-weight="bold" text-anchor="end" textLength="32.8" lengthAdjust="spacingAndGlyphs">CD40-Ctrl</text>
<text x="98.3" y="159.8" font-size="7.2" font-weight="bold" text-anchor="end" textLength="30.6" lengthAdjust="spacingAndGlyphs">CD40-OE</text>
<path d="M63.4 142.8 H61.7 V156.6 H63.4" fill="none" stroke="#000" stroke-width="0.85"/>
<text x="98.3" y="178.3" font-size="7.2" font-weight="bold" text-anchor="end" textLength="32.8" lengthAdjust="spacingAndGlyphs">CD40-Ctrl</text>
<text x="98.3" y="195.8" font-size="7.2" font-weight="bold" text-anchor="end" textLength="30.6" lengthAdjust="spacingAndGlyphs">CD40-OE</text>
<path d="M63.4 178.8 H61.7 V192.6 H63.4" fill="none" stroke="#000" stroke-width="0.85"/>
<text x="58.5" y="43.8" font-size="8.2" font-weight="bold" text-anchor="end">IgG</text>
<text x="57.8" y="80.5" font-size="8.2" font-weight="bold" text-anchor="end">aCD40</text>
<text x="57.6" y="116.9" font-size="8.2" font-weight="bold" text-anchor="end">PD1</text>
<text x="57.8" y="144.5" font-size="8.2" font-weight="bold" text-anchor="end">aCD40</text>
<text x="58" y="154" font-size="8.2" font-weight="bold" text-anchor="end">+</text>
<text x="57.6" y="164.7" font-size="8.2" font-weight="bold" text-anchor="end">PD1</text>
<text x="57.8" y="190" font-size="8.2" font-weight="bold" text-anchor="end">RGS</text>
<path d="M107.6 21.8 H105.6 V36.4 H107.6" fill="none" stroke="#000" stroke-width="0.85"/>
<text x="108.9" y="25.2" font-size="5.5" fill="#1a1a1a">1</text>
<text x="108.9" y="31.25" font-size="5.5" fill="#1a1a1a">2</text>
<text x="108.9" y="37.3" font-size="5.5" fill="#1a1a1a">3</text>
<path d="M107.6 39.95 H105.6 V54.55 H107.6" fill="none" stroke="#000" stroke-width="0.85"/>
<text x="108.9" y="43.35" font-size="5.5" fill="#1a1a1a">1</text>
<text x="108.9" y="49.4" font-size="5.5" fill="#1a1a1a">2</text>
<text x="108.9" y="55.45" font-size="5.5" fill="#1a1a1a">3</text>
<path d="M107.6 58.1 H105.6 V72.7 H107.6" fill="none" stroke="#000" stroke-width="0.85"/>
<text x="108.9" y="61.5" font-size="5.5" fill="#1a1a1a">1</text>
<text x="108.9" y="67.55" font-size="5.5" fill="#1a1a1a">2</text>
<text x="108.9" y="73.6" font-size="5.5" fill="#1a1a1a">3</text>
<path d="M107.6 76.25 H105.6 V90.85 H107.6" fill="none" stroke="#000" stroke-width="0.85"/>
<text x="108.9" y="79.65" font-size="5.5" fill="#1a1a1a">1</text>
<text x="108.9" y="85.7" font-size="5.5" fill="#1a1a1a">2</text>
<text x="108.9" y="91.75" font-size="5.5" fill="#1a1a1a">3</text>
<path d="M107.6 94.4 H105.6 V109 H107.6" fill="none" stroke="#000" stroke-width="0.85"/>
<text x="108.9" y="97.8" font-size="5.5" fill="#1a1a1a">1</text>
<text x="108.9" y="103.85" font-size="5.5" fill="#1a1a1a">2</text>
<text x="108.9" y="109.9" font-size="5.5" fill="#1a1a1a">3</text>
<path d="M107.6 112.55 H105.6 V127.15 H107.6" fill="none" stroke="#000" stroke-width="0.85"/>
<text x="108.9" y="115.95" font-size="5.5" fill="#1a1a1a">1</text>
<text x="108.9" y="122" font-size="5.5" fill="#1a1a1a">2</text>
<text x="108.9" y="128.05" font-size="5.5" fill="#1a1a1a">3</text>
<path d="M107.6 130.7 H105.6 V145.3 H107.6" fill="none" stroke="#000" stroke-width="0.85"/>
<text x="108.9" y="134.1" font-size="5.5" fill="#1a1a1a">1</text>
<text x="108.9" y="140.15" font-size="5.5" fill="#1a1a1a">2</text>
<text x="108.9" y="146.2" font-size="5.5" fill="#1a1a1a">3</text>
<path d="M107.6 148.85 H105.6 V163.45 H107.6" fill="none" stroke="#000" stroke-width="0.85"/>
<text x="108.9" y="152.25" font-size="5.5" fill="#1a1a1a">1</text>
<text x="108.9" y="158.3" font-size="5.5" fill="#1a1a1a">2</text>
<text x="108.9" y="164.35" font-size="5.5" fill="#1a1a1a">3</text>
<path d="M107.6 167 H105.6 V181.6 H107.6" fill="none" stroke="#000" stroke-width="0.85"/>
<text x="108.9" y="170.4" font-size="5.5" fill="#1a1a1a">1</text>
<text x="108.9" y="176.45" font-size="5.5" fill="#1a1a1a">2</text>
<text x="108.9" y="182.5" font-size="5.5" fill="#1a1a1a">3</text>
<path d="M107.6 185.15 H105.6 V199.75 H107.6" fill="none" stroke="#000" stroke-width="0.85"/>
<text x="108.9" y="188.55" font-size="5.5" fill="#1a1a1a">1</text>
<text x="108.9" y="194.6" font-size="5.5" fill="#1a1a1a">2</text>
<text x="108.9" y="200.65" font-size="5.5" fill="#1a1a1a">3</text>
<text x="291" y="11.6" font-size="13.5" font-weight="bold">(B)</text>
<text x="315.1" y="10.9" font-size="9.2" font-weight="bold" textLength="86.9" lengthAdjust="spacingAndGlyphs">CIBERSORT (LM22)</text>
<text x="346.6" y="25.8" font-size="5.8" font-weight="bold" text-anchor="middle">Veh+IgG</text>
<text x="389" y="25.8" font-size="5.8" font-weight="bold" text-anchor="middle">Veh+aCD40</text>
<text x="431.4" y="25.8" font-size="5.8" font-weight="bold" text-anchor="middle">Veh+PD1</text>
<text x="473.8" y="25.8" font-size="5.8" font-weight="bold" text-anchor="middle">Veh+aCD40+PD1</text>
<text x="516.2" y="25.8" font-size="5.8" font-weight="bold" text-anchor="middle">RGS+IgG</text>
<text x="294.6" y="52" font-size="6.6" font-weight="bold" textLength="28.6" lengthAdjust="spacingAndGlyphs">CD40-Ctrl</text>
<text x="294.6" y="95" font-size="6.6" font-weight="bold" textLength="25.5" lengthAdjust="spacingAndGlyphs">CD40-OE</text>
<path d="M346.60 32.20A19.3 19.3 0 0 1 350.61 32.62L348.55 42.31A9.4 9.4 0 0 0 346.60 42.10Z" fill="#ff0000" stroke="#444" stroke-width="0.25"/>
<path d="M350.61 32.62A19.3 19.3 0 0 1 360.94 38.59L353.59 45.21A9.4 9.4 0 0 0 348.55 42.31Z" fill="#cc33ff" stroke="#444" stroke-width="0.25"/>
<path d="M360.94 38.59A19.3 19.3 0 0 1 361.81 39.62L354.01 45.71A9.4 9.4 0 0 0 353.59 45.21Z" fill="#ff8c1a" stroke="#444" stroke-width="0.25"/>
<path d="M361.81 39.62A19.3 19.3 0 0 1 362.97 41.27L354.57 46.52A9.4 9.4 0 0 0 354.01 45.71Z" fill="#000000" stroke="#444" stroke-width="0.25"/>
<path d="M362.97 41.27A19.3 19.3 0 0 1 363.95 43.04L355.05 47.38A9.4 9.4 0 0 0 354.57 46.52Z" fill="#8b5a2b" stroke="#444" stroke-width="0.25"/>
<path d="M363.95 43.04A19.3 19.3 0 0 1 364.49 44.27L355.32 47.98A9.4 9.4 0 0 0 355.05 47.38Z" fill="#000080" stroke="#444" stroke-width="0.25"/>
<path d="M364.49 44.27A19.3 19.3 0 0 1 364.96 45.54L355.54 48.60A9.4 9.4 0 0 0 355.32 47.98Z" fill="#4b0040" stroke="#444" stroke-width="0.25"/>
<path d="M364.96 45.54A19.3 19.3 0 0 1 365.71 54.19L355.91 52.81A9.4 9.4 0 0 0 355.54 48.60Z" fill="#1f5f1f" stroke="#444" stroke-width="0.25"/>
<path d="M365.71 54.19A19.3 19.3 0 0 1 345.93 70.79L346.27 60.89A9.4 9.4 0 0 0 355.91 52.81Z" fill="#33ff00" stroke="#444" stroke-width="0.25"/>
<path d="M345.93 70.79A19.3 19.3 0 0 1 335.53 67.31L341.21 59.20A9.4 9.4 0 0 0 346.27 60.89Z" fill="#c0c0ff" stroke="#444" stroke-width="0.25"/>
<path d="M335.53 67.31A19.3 19.3 0 0 1 328.14 57.14L337.61 54.25A9.4 9.4 0 0 0 341.21 59.20Z" fill="#666666" stroke="#444" stroke-width="0.25"/>
<path d="M328.14 57.14A19.3 19.3 0 0 1 331.82 39.09L339.40 45.46A9.4 9.4 0 0 0 337.61 54.25Z" fill="#ffff33" stroke="#444" stroke-width="0.25"/>
<path d="M331.82 39.09A19.3 19.3 0 0 1 333.19 37.62L340.07 44.74A9.4 9.4 0 0 0 339.40 45.46Z" fill="#cc6600" stroke="#444" stroke-width="0.25"/>
<path d="M333.19 37.62A19.3 19.3 0 0 1 346.60 32.20L346.60 42.10A9.4 9.4 0 0 0 340.07 44.74Z" fill="#d9d9d9" stroke="#444" stroke-width="0.25"/>
<circle cx="346.6" cy="51.5" r="19.3" fill="none" stroke="#555" stroke-width="0.35"/>
<circle cx="346.6" cy="51.5" r="9.4" fill="#fff" stroke="#555" stroke-width="0.35"/>
<path d="M389.00 32.20A19.3 19.3 0 0 1 396.23 33.61L392.52 42.78A9.4 9.4 0 0 0 389.00 42.10Z" fill="#ff0000" stroke="#444" stroke-width="0.25"/>
<path d="M396.23 33.61A19.3 19.3 0 0 1 407.64 46.50L398.08 49.07A9.4 9.4 0 0 0 392.52 42.78Z" fill="#cc33ff" stroke="#444" stroke-width="0.25"/>
<path d="M407.64 46.50A19.3 19.3 0 0 1 408.01 48.15L398.26 49.87A9.4 9.4 0 0 0 398.08 49.07Z" fill="#000000" stroke="#444" stroke-width="0.25"/>
<path d="M408.01 48.15A19.3 19.3 0 0 1 408.19 49.48L398.35 50.52A9.4 9.4 0 0 0 398.26 49.87Z" fill="#000080" stroke="#444" stroke-width="0.25"/>
<path d="M408.19 49.48A19.3 19.3 0 0 1 408.29 50.83L398.39 51.17A9.4 9.4 0 0 0 398.35 50.52Z" fill="#4b0040" stroke="#444" stroke-width="0.25"/>
<path d="M408.29 50.83A19.3 19.3 0 0 1 408.29 52.17L398.39 51.83A9.4 9.4 0 0 0 398.39 51.17Z" fill="#deb887" stroke="#444" stroke-width="0.25"/>
<path d="M408.29 52.17A19.3 19.3 0 0 1 385.65 70.51L387.37 60.76A9.4 9.4 0 0 0 398.39 51.83Z" fill="#33ff00" stroke="#444" stroke-width="0.25"/>
<path d="M385.65 70.51A19.3 19.3 0 0 1 379.94 68.54L384.59 59.80A9.4 9.4 0 0 0 387.37 60.76Z" fill="#99ccff" stroke="#444" stroke-width="0.25"/>
<path d="M379.94 68.54A19.3 19.3 0 0 1 375.35 65.15L382.35 58.15A9.4 9.4 0 0 0 384.59 59.80Z" fill="#c0c0ff" stroke="#444" stroke-width="0.25"/>
<path d="M375.35 65.15A19.3 19.3 0 0 1 370.86 44.90L380.17 48.29A9.4 9.4 0 0 0 382.35 58.15Z" fill="#666666" stroke="#444" stroke-width="0.25"/>
<path d="M370.86 44.90A19.3 19.3 0 0 1 379.35 34.79L384.30 43.36A9.4 9.4 0 0 0 380.17 48.29Z" fill="#ffff33" stroke="#444" stroke-width="0.25"/>
<path d="M379.35 34.79A19.3 19.3 0 0 1 380.84 34.01L385.03 42.98A9.4 9.4 0 0 0 384.30 43.36Z" fill="#cc6600" stroke="#444" stroke-width="0.25"/>
<path d="M380.84 34.01A19.3 19.3 0 0 1 389.00 32.20L389.00 42.10A9.4 9.4 0 0 0 385.03 42.98Z" fill="#d9d9d9" stroke="#444" stroke-width="0.25"/>
<circle cx="389" cy="51.5" r="19.3" fill="none" stroke="#555" stroke-width="0.35"/>
<circle cx="389" cy="51.5" r="9.4" fill="#fff" stroke="#555" stroke-width="0.35"/>
<path d="M431.40 32.20A19.3 19.3 0 0 1 439.56 34.01L435.37 42.98A9.4 9.4 0 0 0 431.40 42.10Z" fill="#0000ff" stroke="#444" stroke-width="0.25"/>
<path d="M439.56 34.01A19.3 19.3 0 0 1 442.47 35.69L436.79 43.80A9.4 9.4 0 0 0 435.37 42.98Z" fill="#ff0000" stroke="#444" stroke-width="0.25"/>
<path d="M442.47 35.69A19.3 19.3 0 0 1 448.44 42.44L439.70 47.09A9.4 9.4 0 0 0 436.79 43.80Z" fill="#cc33ff" stroke="#444" stroke-width="0.25"/>
<path d="M448.44 42.44A19.3 19.3 0 0 1 449.54 44.90L440.23 48.29A9.4 9.4 0 0 0 439.70 47.09Z" fill="#ff8c1a" stroke="#444" stroke-width="0.25"/>
<path d="M449.54 44.90A19.3 19.3 0 0 1 450.63 49.82L440.76 50.68A9.4 9.4 0 0 0 440.23 48.29Z" fill="#8b5a2b" stroke="#444" stroke-width="0.25"/>
<path d="M450.63 49.82A19.3 19.3 0 0 1 450.41 54.85L440.66 53.13A9.4 9.4 0 0 0 440.76 50.68Z" fill="#000080" stroke="#444" stroke-width="0.25"/>
<path d="M450.41 54.85A19.3 19.3 0 0 1 450.13 56.17L440.52 53.77A9.4 9.4 0 0 0 440.66 53.13Z" fill="#8b0000" stroke="#444" stroke-width="0.25"/>
<path d="M450.13 56.17A19.3 19.3 0 0 1 446.18 63.91L438.60 57.54A9.4 9.4 0 0 0 440.52 53.77Z" fill="#1f5f1f" stroke="#444" stroke-width="0.25"/>
<path d="M446.18 63.91A19.3 19.3 0 0 1 415.59 62.57L423.70 56.89A9.4 9.4 0 0 0 438.60 57.54Z" fill="#33ff00" stroke="#444" stroke-width="0.25"/>
<path d="M415.59 62.57A19.3 19.3 0 0 1 412.76 56.50L422.32 53.93A9.4 9.4 0 0 0 423.70 56.89Z" fill="#99ccff" stroke="#444" stroke-width="0.25"/>
<path d="M412.76 56.50A19.3 19.3 0 0 1 412.76 46.50L422.32 49.07A9.4 9.4 0 0 0 422.32 53.93Z" fill="#666666" stroke="#444" stroke-width="0.25"/>
<path d="M412.76 46.50A19.3 19.3 0 0 1 421.75 34.79L426.70 43.36A9.4 9.4 0 0 0 422.32 49.07Z" fill="#ffff33" stroke="#444" stroke-width="0.25"/>
<path d="M421.75 34.79A19.3 19.3 0 0 1 424.17 33.61L427.88 42.78A9.4 9.4 0 0 0 426.70 43.36Z" fill="#cc6600" stroke="#444" stroke-width="0.25"/>
<path d="M424.17 33.61A19.3 19.3 0 0 1 431.40 32.20L431.40 42.10A9.4 9.4 0 0 0 427.88 42.78Z" fill="#d9d9d9" stroke="#444" stroke-width="0.25"/>
<circle cx="431.4" cy="51.5" r="19.3" fill="none" stroke="#555" stroke-width="0.35"/>
<circle cx="431.4" cy="51.5" r="9.4" fill="#fff" stroke="#555" stroke-width="0.35"/>
<path d="M473.80 32.20A19.3 19.3 0 0 1 477.15 32.49L475.43 42.24A9.4 9.4 0 0 0 473.80 42.10Z" fill="#0000ff" stroke="#444" stroke-width="0.25"/>
<path d="M477.15 32.49A19.3 19.3 0 0 1 483.45 34.79L478.50 43.36A9.4 9.4 0 0 0 475.43 42.24Z" fill="#ff0000" stroke="#444" stroke-width="0.25"/>
<path d="M483.45 34.79A19.3 19.3 0 0 1 484.31 35.31L478.92 43.62A9.4 9.4 0 0 0 478.50 43.36Z" fill="#33cc33" stroke="#444" stroke-width="0.25"/>
<path d="M484.31 35.31A19.3 19.3 0 0 1 492.44 46.50L482.88 49.07A9.4 9.4 0 0 0 478.92 43.62Z" fill="#cc33ff" stroke="#444" stroke-width="0.25"/>
<path d="M492.44 46.50A19.3 19.3 0 0 1 493.03 49.82L483.16 50.68A9.4 9.4 0 0 0 482.88 49.07Z" fill="#000080" stroke="#444" stroke-width="0.25"/>
<path d="M493.03 49.82A19.3 19.3 0 0 1 493.03 53.18L483.16 52.32A9.4 9.4 0 0 0 483.16 50.68Z" fill="#4b0040" stroke="#444" stroke-width="0.25"/>
<path d="M493.03 53.18A19.3 19.3 0 0 1 492.81 54.85L483.06 53.13A9.4 9.4 0 0 0 483.16 52.32Z" fill="#deb887" stroke="#444" stroke-width="0.25"/>
<path d="M492.81 54.85A19.3 19.3 0 0 1 470.45 70.51L472.17 60.76A9.4 9.4 0 0 0 483.06 53.13Z" fill="#33ff00" stroke="#444" stroke-width="0.25"/>
<path d="M470.45 70.51A19.3 19.3 0 0 1 467.20 69.64L470.59 60.33A9.4 9.4 0 0 0 472.17 60.76Z" fill="#99ccff" stroke="#444" stroke-width="0.25"/>
<path d="M467.20 69.64A19.3 19.3 0 0 1 460.15 65.15L467.15 58.15A9.4 9.4 0 0 0 470.59 60.33Z" fill="#c0c0ff" stroke="#444" stroke-width="0.25"/>
<path d="M460.15 65.15A19.3 19.3 0 0 1 454.50 51.50L464.40 51.50A9.4 9.4 0 0 0 467.15 58.15Z" fill="#666666" stroke="#444" stroke-width="0.25"/>
<path d="M454.50 51.50A19.3 19.3 0 0 1 465.64 34.01L469.83 42.98A9.4 9.4 0 0 0 464.40 51.50Z" fill="#ffff33" stroke="#444" stroke-width="0.25"/>
<path d="M465.64 34.01A19.3 19.3 0 0 1 468.80 32.86L471.37 42.42A9.4 9.4 0 0 0 469.83 42.98Z" fill="#cc6600" stroke="#444" stroke-width="0.25"/>
<path d="M468.80 32.86A19.3 19.3 0 0 1 473.80 32.20L473.80 42.10A9.4 9.4 0 0 0 471.37 42.42Z" fill="#d9d9d9" stroke="#444" stroke-width="0.25"/>
<circle cx="473.8" cy="51.5" r="19.3" fill="none" stroke="#555" stroke-width="0.35"/>
<circle cx="473.8" cy="51.5" r="9.4" fill="#fff" stroke="#555" stroke-width="0.35"/>
<path d="M516.20 32.20A19.3 19.3 0 0 1 527.27 35.69L521.59 43.80A9.4 9.4 0 0 0 516.20 42.10Z" fill="#ff0000" stroke="#444" stroke-width="0.25"/>
<path d="M527.27 35.69A19.3 19.3 0 0 1 530.98 39.09L523.40 45.46A9.4 9.4 0 0 0 521.59 43.80Z" fill="#cc33ff" stroke="#444" stroke-width="0.25"/>
<path d="M530.98 39.09A19.3 19.3 0 0 1 532.57 41.27L524.17 46.52A9.4 9.4 0 0 0 523.40 45.46Z" fill="#ff8c1a" stroke="#444" stroke-width="0.25"/>
<path d="M532.57 41.27A19.3 19.3 0 0 1 535.43 49.82L525.56 50.68A9.4 9.4 0 0 0 524.17 46.52Z" fill="#000000" stroke="#444" stroke-width="0.25"/>
<path d="M535.43 49.82A19.3 19.3 0 0 1 534.84 56.50L525.28 53.93A9.4 9.4 0 0 0 525.56 50.68Z" fill="#1f5f1f" stroke="#444" stroke-width="0.25"/>
<path d="M534.84 56.50A19.3 19.3 0 0 1 534.34 58.10L525.03 54.71A9.4 9.4 0 0 0 525.28 53.93Z" fill="#deb887" stroke="#444" stroke-width="0.25"/>
<path d="M534.34 58.10A19.3 19.3 0 0 1 512.85 70.51L514.57 60.76A9.4 9.4 0 0 0 525.03 54.71Z" fill="#33ff00" stroke="#444" stroke-width="0.25"/>
<path d="M512.85 70.51A19.3 19.3 0 0 1 509.60 69.64L512.99 60.33A9.4 9.4 0 0 0 514.57 60.76Z" fill="#c0c0ff" stroke="#444" stroke-width="0.25"/>
<path d="M509.60 69.64A19.3 19.3 0 0 1 499.49 61.15L508.06 56.20A9.4 9.4 0 0 0 512.99 60.33Z" fill="#666666" stroke="#444" stroke-width="0.25"/>
<path d="M499.49 61.15A19.3 19.3 0 0 1 499.49 41.85L508.06 46.80A9.4 9.4 0 0 0 508.06 56.20Z" fill="#ffff33" stroke="#444" stroke-width="0.25"/>
<path d="M499.49 41.85A19.3 19.3 0 0 1 501.42 39.09L509.00 45.46A9.4 9.4 0 0 0 508.06 46.80Z" fill="#cc6600" stroke="#444" stroke-width="0.25"/>
<path d="M501.42 39.09A19.3 19.3 0 0 1 516.20 32.20L516.20 42.10A9.4 9.4 0 0 0 509.00 45.46Z" fill="#d9d9d9" stroke="#444" stroke-width="0.25"/>
<circle cx="516.2" cy="51.5" r="19.3" fill="none" stroke="#555" stroke-width="0.35"/>
<circle cx="516.2" cy="51.5" r="9.4" fill="#fff" stroke="#555" stroke-width="0.35"/>
<path d="M346.60 74.40A19.3 19.3 0 0 1 347.61 74.43L347.09 84.31A9.4 9.4 0 0 0 346.60 84.30Z" fill="#0000ff" stroke="#444" stroke-width="0.25"/>
<path d="M347.61 74.43A19.3 19.3 0 0 1 348.62 74.51L347.58 84.35A9.4 9.4 0 0 0 347.09 84.31Z" fill="#ff0000" stroke="#444" stroke-width="0.25"/>
<path d="M348.62 74.51A19.3 19.3 0 0 1 362.41 82.63L354.30 88.31A9.4 9.4 0 0 0 347.58 84.35Z" fill="#cc33ff" stroke="#444" stroke-width="0.25"/>
<path d="M362.41 82.63A19.3 19.3 0 0 1 363.64 84.64L354.90 89.29A9.4 9.4 0 0 0 354.30 88.31Z" fill="#ff8c1a" stroke="#444" stroke-width="0.25"/>
<path d="M363.64 84.64A19.3 19.3 0 0 1 365.24 88.70L355.68 91.27A9.4 9.4 0 0 0 354.90 89.29Z" fill="#8b5a2b" stroke="#444" stroke-width="0.25"/>
<path d="M365.24 88.70A19.3 19.3 0 0 1 365.83 92.02L355.96 92.88A9.4 9.4 0 0 0 355.68 91.27Z" fill="#000080" stroke="#444" stroke-width="0.25"/>
<path d="M365.83 92.02A19.3 19.3 0 0 1 365.89 94.37L355.99 94.03A9.4 9.4 0 0 0 355.96 92.88Z" fill="#4b0040" stroke="#444" stroke-width="0.25"/>
<path d="M365.89 94.37A19.3 19.3 0 0 1 365.79 95.72L355.95 94.68A9.4 9.4 0 0 0 355.99 94.03Z" fill="#deb887" stroke="#444" stroke-width="0.25"/>
<path d="M365.79 95.72A19.3 19.3 0 0 1 348.28 112.93L347.42 103.06A9.4 9.4 0 0 0 355.95 94.68Z" fill="#33ff00" stroke="#444" stroke-width="0.25"/>
<path d="M348.28 112.93A19.3 19.3 0 0 1 340.00 111.84L343.39 102.53A9.4 9.4 0 0 0 347.42 103.06Z" fill="#99ccff" stroke="#444" stroke-width="0.25"/>
<path d="M340.00 111.84A19.3 19.3 0 0 1 332.95 107.35L339.95 100.35A9.4 9.4 0 0 0 343.39 102.53Z" fill="#c0c0ff" stroke="#444" stroke-width="0.25"/>
<path d="M332.95 107.35A19.3 19.3 0 0 1 328.46 100.30L337.77 96.91A9.4 9.4 0 0 0 339.95 100.35Z" fill="#666666" stroke="#444" stroke-width="0.25"/>
<path d="M328.46 100.30A19.3 19.3 0 0 1 336.95 76.99L341.90 85.56A9.4 9.4 0 0 0 337.77 96.91Z" fill="#ffff33" stroke="#444" stroke-width="0.25"/>
<path d="M336.95 76.99A19.3 19.3 0 0 1 339.37 75.81L343.08 84.98A9.4 9.4 0 0 0 341.90 85.56Z" fill="#cc6600" stroke="#444" stroke-width="0.25"/>
<path d="M339.37 75.81A19.3 19.3 0 0 1 346.60 74.40L346.60 84.30A9.4 9.4 0 0 0 343.08 84.98Z" fill="#d9d9d9" stroke="#444" stroke-width="0.25"/>
<circle cx="346.6" cy="93.7" r="19.3" fill="none" stroke="#555" stroke-width="0.35"/>
<circle cx="346.6" cy="93.7" r="9.4" fill="#fff" stroke="#555" stroke-width="0.35"/>
<path d="M389.00 74.40A19.3 19.3 0 0 1 397.16 76.21L392.97 85.18A9.4 9.4 0 0 0 389.00 84.30Z" fill="#ff0000" stroke="#444" stroke-width="0.25"/>
<path d="M397.16 76.21A19.3 19.3 0 0 1 405.71 84.05L397.14 89.00A9.4 9.4 0 0 0 392.97 85.18Z" fill="#cc33ff" stroke="#444" stroke-width="0.25"/>
<path d="M405.71 84.05A19.3 19.3 0 0 1 408.01 90.35L398.26 92.07A9.4 9.4 0 0 0 397.14 89.00Z" fill="#8b5a2b" stroke="#444" stroke-width="0.25"/>
<path d="M408.01 90.35A19.3 19.3 0 0 1 408.23 92.02L398.36 92.88A9.4 9.4 0 0 0 398.26 92.07Z" fill="#000000" stroke="#444" stroke-width="0.25"/>
<path d="M408.23 92.02A19.3 19.3 0 0 1 408.23 95.38L398.36 94.52A9.4 9.4 0 0 0 398.36 92.88Z" fill="#4b0040" stroke="#444" stroke-width="0.25"/>
<path d="M408.23 95.38A19.3 19.3 0 0 1 408.01 97.05L398.26 95.33A9.4 9.4 0 0 0 398.36 94.52Z" fill="#deb887" stroke="#444" stroke-width="0.25"/>
<path d="M408.01 97.05A19.3 19.3 0 0 1 392.35 112.71L390.63 102.96A9.4 9.4 0 0 0 398.26 95.33Z" fill="#33ff00" stroke="#444" stroke-width="0.25"/>
<path d="M392.35 112.71A19.3 19.3 0 0 1 389.00 113.00L389.00 103.10A9.4 9.4 0 0 0 390.63 102.96Z" fill="#99ccff" stroke="#444" stroke-width="0.25"/>
<path d="M389.00 113.00A19.3 19.3 0 0 1 375.35 107.35L382.35 100.35A9.4 9.4 0 0 0 389.00 103.10Z" fill="#c0c0ff" stroke="#444" stroke-width="0.25"/>
<path d="M375.35 107.35A19.3 19.3 0 0 1 372.29 103.35L380.86 98.40A9.4 9.4 0 0 0 382.35 100.35Z" fill="#666666" stroke="#444" stroke-width="0.25"/>
<path d="M372.29 103.35A19.3 19.3 0 0 1 380.84 76.21L385.03 85.18A9.4 9.4 0 0 0 380.86 98.40Z" fill="#ffff33" stroke="#444" stroke-width="0.25"/>
<path d="M380.84 76.21A19.3 19.3 0 0 1 384.00 75.06L386.57 84.62A9.4 9.4 0 0 0 385.03 85.18Z" fill="#cc6600" stroke="#444" stroke-width="0.25"/>
<path d="M384.00 75.06A19.3 19.3 0 0 1 389.00 74.40L389.00 84.30A9.4 9.4 0 0 0 386.57 84.62Z" fill="#d9d9d9" stroke="#444" stroke-width="0.25"/>
<circle cx="389" cy="93.7" r="19.3" fill="none" stroke="#555" stroke-width="0.35"/>
<circle cx="389" cy="93.7" r="9.4" fill="#fff" stroke="#555" stroke-width="0.35"/>
<path d="M431.40 74.40A19.3 19.3 0 0 1 434.09 74.59L432.71 84.39A9.4 9.4 0 0 0 431.40 84.30Z" fill="#ff0000" stroke="#444" stroke-width="0.25"/>
<path d="M434.09 74.59A19.3 19.3 0 0 1 450.04 88.70L440.48 91.27A9.4 9.4 0 0 0 432.71 84.39Z" fill="#cc33ff" stroke="#444" stroke-width="0.25"/>
<path d="M450.04 88.70A19.3 19.3 0 0 1 450.63 92.02L440.76 92.88A9.4 9.4 0 0 0 440.48 91.27Z" fill="#8b5a2b" stroke="#444" stroke-width="0.25"/>
<path d="M450.63 92.02A19.3 19.3 0 0 1 450.69 93.03L440.79 93.37A9.4 9.4 0 0 0 440.76 92.88Z" fill="#000080" stroke="#444" stroke-width="0.25"/>
<path d="M450.69 93.03A19.3 19.3 0 0 1 450.63 95.38L440.76 94.52A9.4 9.4 0 0 0 440.79 93.37Z" fill="#1f5f1f" stroke="#444" stroke-width="0.25"/>
<path d="M450.63 95.38A19.3 19.3 0 0 1 450.51 96.39L440.71 95.01A9.4 9.4 0 0 0 440.76 94.52Z" fill="#deb887" stroke="#444" stroke-width="0.25"/>
<path d="M450.51 96.39A19.3 19.3 0 0 1 431.40 113.00L431.40 103.10A9.4 9.4 0 0 0 440.71 95.01Z" fill="#33ff00" stroke="#444" stroke-width="0.25"/>
<path d="M431.40 113.00A19.3 19.3 0 0 1 418.99 108.48L425.36 100.90A9.4 9.4 0 0 0 431.40 103.10Z" fill="#c0c0ff" stroke="#444" stroke-width="0.25"/>
<path d="M418.99 108.48A19.3 19.3 0 0 1 412.17 95.38L422.04 94.52A9.4 9.4 0 0 0 425.36 100.90Z" fill="#666666" stroke="#444" stroke-width="0.25"/>
<path d="M412.17 95.38A19.3 19.3 0 0 1 420.33 77.89L426.01 86.00A9.4 9.4 0 0 0 422.04 94.52Z" fill="#ffff33" stroke="#444" stroke-width="0.25"/>
<path d="M420.33 77.89A19.3 19.3 0 0 1 424.80 75.56L428.19 84.87A9.4 9.4 0 0 0 426.01 86.00Z" fill="#cc6600" stroke="#444" stroke-width="0.25"/>
<path d="M424.80 75.56A19.3 19.3 0 0 1 431.40 74.40L431.40 84.30A9.4 9.4 0 0 0 428.19 84.87Z" fill="#d9d9d9" stroke="#444" stroke-width="0.25"/>
<circle cx="431.4" cy="93.7" r="19.3" fill="none" stroke="#555" stroke-width="0.35"/>
<circle cx="431.4" cy="93.7" r="9.4" fill="#fff" stroke="#555" stroke-width="0.35"/>
<path d="M473.80 74.40A19.3 19.3 0 0 1 476.49 74.59L475.11 84.39A9.4 9.4 0 0 0 473.80 84.30Z" fill="#ff0000" stroke="#444" stroke-width="0.25"/>
<path d="M476.49 74.59A19.3 19.3 0 0 1 492.81 90.35L483.06 92.07A9.4 9.4 0 0 0 475.11 84.39Z" fill="#cc33ff" stroke="#444" stroke-width="0.25"/>
<path d="M492.81 90.35A19.3 19.3 0 0 1 493.10 93.70L483.20 93.70A9.4 9.4 0 0 0 483.06 92.07Z" fill="#8b5a2b" stroke="#444" stroke-width="0.25"/>
<path d="M493.10 93.70A19.3 19.3 0 0 1 492.81 97.05L483.06 95.33A9.4 9.4 0 0 0 483.20 93.70Z" fill="#000080" stroke="#444" stroke-width="0.25"/>
<path d="M492.81 97.05A19.3 19.3 0 0 1 492.16 99.66L482.74 96.60A9.4 9.4 0 0 0 483.06 95.33Z" fill="#1f5f1f" stroke="#444" stroke-width="0.25"/>
<path d="M492.16 99.66A19.3 19.3 0 0 1 491.69 100.93L482.52 97.22A9.4 9.4 0 0 0 482.74 96.60Z" fill="#deb887" stroke="#444" stroke-width="0.25"/>
<path d="M491.69 100.93A19.3 19.3 0 0 1 478.80 112.34L476.23 102.78A9.4 9.4 0 0 0 482.52 97.22Z" fill="#33ff00" stroke="#444" stroke-width="0.25"/>
<path d="M478.80 112.34A19.3 19.3 0 0 1 476.49 112.81L475.11 103.01A9.4 9.4 0 0 0 476.23 102.78Z" fill="#99ccff" stroke="#444" stroke-width="0.25"/>
<path d="M476.49 112.81A19.3 19.3 0 0 1 468.80 112.34L471.37 102.78A9.4 9.4 0 0 0 475.11 103.01Z" fill="#c0c0ff" stroke="#444" stroke-width="0.25"/>
<path d="M468.80 112.34A19.3 19.3 0 0 1 454.57 95.38L464.44 94.52A9.4 9.4 0 0 0 471.37 102.78Z" fill="#666666" stroke="#444" stroke-width="0.25"/>
<path d="M454.57 95.38A19.3 19.3 0 0 1 462.73 77.89L468.41 86.00A9.4 9.4 0 0 0 464.44 94.52Z" fill="#ffff33" stroke="#444" stroke-width="0.25"/>
<path d="M462.73 77.89A19.3 19.3 0 0 1 465.64 76.21L469.83 85.18A9.4 9.4 0 0 0 468.41 86.00Z" fill="#cc6600" stroke="#444" stroke-width="0.25"/>
<path d="M465.64 76.21A19.3 19.3 0 0 1 473.80 74.40L473.80 84.30A9.4 9.4 0 0 0 469.83 85.18Z" fill="#d9d9d9" stroke="#444" stroke-width="0.25"/>
<circle cx="473.8" cy="93.7" r="19.3" fill="none" stroke="#555" stroke-width="0.35"/>
<circle cx="473.8" cy="93.7" r="9.4" fill="#fff" stroke="#555" stroke-width="0.35"/>
<path d="M516.20 74.40A19.3 19.3 0 0 1 521.20 75.06L518.63 84.62A9.4 9.4 0 0 0 516.20 84.30Z" fill="#ff0000" stroke="#444" stroke-width="0.25"/>
<path d="M521.20 75.06A19.3 19.3 0 0 1 529.85 80.05L522.85 87.05A9.4 9.4 0 0 0 518.63 84.62Z" fill="#cc33ff" stroke="#444" stroke-width="0.25"/>
<path d="M529.85 80.05A19.3 19.3 0 0 1 530.98 81.29L523.40 87.66A9.4 9.4 0 0 0 522.85 87.05Z" fill="#ff8c1a" stroke="#444" stroke-width="0.25"/>
<path d="M530.98 81.29A19.3 19.3 0 0 1 534.34 87.10L525.03 90.49A9.4 9.4 0 0 0 523.40 87.66Z" fill="#000000" stroke="#444" stroke-width="0.25"/>
<path d="M534.34 87.10A19.3 19.3 0 0 1 534.84 88.70L525.28 91.27A9.4 9.4 0 0 0 525.03 90.49Z" fill="#8b5a2b" stroke="#444" stroke-width="0.25"/>
<path d="M534.84 88.70A19.3 19.3 0 0 1 535.21 90.35L525.46 92.07A9.4 9.4 0 0 0 525.28 91.27Z" fill="#4b0040" stroke="#444" stroke-width="0.25"/>
<path d="M535.21 90.35A19.3 19.3 0 0 1 535.21 97.05L525.46 95.33A9.4 9.4 0 0 0 525.46 92.07Z" fill="#1f5f1f" stroke="#444" stroke-width="0.25"/>
<path d="M535.21 97.05A19.3 19.3 0 0 1 514.52 112.93L515.38 103.06A9.4 9.4 0 0 0 525.46 95.33Z" fill="#33ff00" stroke="#444" stroke-width="0.25"/>
<path d="M514.52 112.93A19.3 19.3 0 0 1 505.13 109.51L510.81 101.40A9.4 9.4 0 0 0 515.38 103.06Z" fill="#c0c0ff" stroke="#444" stroke-width="0.25"/>
<path d="M505.13 109.51A19.3 19.3 0 0 1 498.71 101.86L507.68 97.67A9.4 9.4 0 0 0 510.81 101.40Z" fill="#666666" stroke="#444" stroke-width="0.25"/>
<path d="M498.71 101.86A19.3 19.3 0 0 1 500.39 82.63L508.50 88.31A9.4 9.4 0 0 0 507.68 97.67Z" fill="#ffff33" stroke="#444" stroke-width="0.25"/>
<path d="M500.39 82.63A19.3 19.3 0 0 1 503.79 78.92L510.16 86.50A9.4 9.4 0 0 0 508.50 88.31Z" fill="#cc6600" stroke="#444" stroke-width="0.25"/>
<path d="M503.79 78.92A19.3 19.3 0 0 1 516.20 74.40L516.20 84.30A9.4 9.4 0 0 0 510.16 86.50Z" fill="#d9d9d9" stroke="#444" stroke-width="0.25"/>
<circle cx="516.2" cy="93.7" r="19.3" fill="none" stroke="#555" stroke-width="0.35"/>
<circle cx="516.2" cy="93.7" r="9.4" fill="#fff" stroke="#555" stroke-width="0.35"/>
<rect x="328.3" y="123.1" width="5.8" height="5.8" fill="#0000ff" stroke="#333" stroke-width="0.3"/>
<text x="339" y="128.6" font-size="7.95">B cells naive</text>
<rect x="328.3" y="131.3" width="5.8" height="5.8" fill="#ff0000" stroke="#333" stroke-width="0.3"/>
<text x="339" y="136.8" font-size="7.95">B cells memory</text>
<rect x="328.3" y="139.5" width="5.8" height="5.8" fill="#33cc33" stroke="#333" stroke-width="0.3"/>
<text x="339" y="145" font-size="7.95">Plasma cells</text>
<rect x="328.3" y="147.7" width="5.8" height="5.8" fill="#cc33ff" stroke="#333" stroke-width="0.3"/>
<text x="339" y="153.2" font-size="7.95">T cells CD8</text>
<rect x="328.3" y="155.9" width="5.8" height="5.8" fill="#ff8c1a" stroke="#333" stroke-width="0.3"/>
<text x="339" y="161.4" font-size="7.95">T cells CD4 naive</text>
<rect x="328.3" y="164.1" width="5.8" height="5.8" fill="#000000" stroke="#333" stroke-width="0.3"/>
<text x="339" y="169.6" font-size="7.95">T cells CD4 memory resting</text>
<rect x="328.3" y="172.3" width="5.8" height="5.8" fill="#8b5a2b" stroke="#333" stroke-width="0.3"/>
<text x="339" y="177.8" font-size="7.95">T cells CD4 memory activated</text>
<rect x="328.3" y="180.5" width="5.8" height="5.8" fill="#000080" stroke="#333" stroke-width="0.3"/>
<text x="339" y="186" font-size="7.95">T cells follicular helper</text>
<rect x="328.3" y="188.7" width="5.8" height="5.8" fill="#4b0040" stroke="#333" stroke-width="0.3"/>
<text x="339" y="194.2" font-size="7.95">T cells regulatory (Tregs)</text>
<rect x="452.3" y="121.8" width="5.6" height="5.6" fill="#8b0000" stroke="#333" stroke-width="0.3"/>
<text x="462.5" y="127.1" font-size="7.55">T cells gamma delta</text>
<rect x="452.3" y="129.55" width="5.6" height="5.6" fill="#1f5f1f" stroke="#333" stroke-width="0.3"/>
<text x="462.5" y="134.85" font-size="7.55">NK cells resting</text>
<rect x="452.3" y="137.3" width="5.6" height="5.6" fill="#deb887" stroke="#333" stroke-width="0.3"/>
<text x="462.5" y="142.6" font-size="7.55">NK cells activated</text>
<rect x="452.3" y="145.05" width="5.6" height="5.6" fill="#33ff00" stroke="#333" stroke-width="0.3"/>
<text x="462.5" y="150.35" font-size="7.55">Monocytes</text>
<rect x="452.3" y="152.8" width="5.6" height="5.6" fill="#99ccff" stroke="#333" stroke-width="0.3"/>
<text x="462.5" y="158.1" font-size="7.55">Macrophages M0</text>
<rect x="452.3" y="160.55" width="5.6" height="5.6" fill="#c0c0ff" stroke="#333" stroke-width="0.3"/>
<text x="462.5" y="165.85" font-size="7.55">Macrophages M1</text>
<rect x="452.3" y="168.3" width="5.6" height="5.6" fill="#666666" stroke="#333" stroke-width="0.3"/>
<text x="462.5" y="173.6" font-size="7.55">Macrophages M2</text>
<rect x="452.3" y="176.05" width="5.6" height="5.6" fill="#ffff33" stroke="#333" stroke-width="0.3"/>
<text x="462.5" y="181.35" font-size="7.55">Dendritic cells resting</text>
<rect x="452.3" y="183.8" width="5.6" height="5.6" fill="#cc6600" stroke="#333" stroke-width="0.3"/>
<text x="462.5" y="189.1" font-size="7.55">Mast cells resting</text>
<rect x="452.3" y="191.55" width="5.6" height="5.6" fill="#d9d9d9" stroke="#333" stroke-width="0.3"/>
<text x="462.5" y="196.85" font-size="7.55">Eosinophils</text>
<text x="621" y="42" font-size="7.35" font-weight="bold" text-anchor="middle">% of CD8 T cells</text>
<line x1="576.4" y1="62" x2="576.4" y2="128.8" stroke="#000" stroke-width="0.8"/>
<line x1="576" y1="128.4" x2="673.5" y2="128.4" stroke="#000" stroke-width="0.8"/>
<line x1="574.2" y1="128.4" x2="576.4" y2="128.4" stroke="#000" stroke-width="0.8"/>
<text x="573.2" y="131" font-size="7.2" font-weight="bold" text-anchor="end">0</text>
<line x1="574.2" y1="106.43" x2="576.4" y2="106.43" stroke="#000" stroke-width="0.8"/>
<text x="573.2" y="109.03" font-size="7.2" font-weight="bold" text-anchor="end">10</text>
<line x1="574.2" y1="84.46" x2="576.4" y2="84.46" stroke="#000" stroke-width="0.8"/>
<text x="573.2" y="87.06" font-size="7.2" font-weight="bold" text-anchor="end">20</text>
<line x1="574.2" y1="62.49" x2="576.4" y2="62.49" stroke="#000" stroke-width="0.8"/>
<text x="573.2" y="65.09" font-size="7.2" font-weight="bold" text-anchor="end">30</text>
<text x="561.3" y="94" font-size="7.4" font-weight="bold" text-anchor="middle" transform="rotate(-90 561.3 94)">Percentage</text>
<rect x="580.2" y="114.34" width="5.8" height="14.06" fill="#fff" stroke="#000000" stroke-width="1.15"/>
<line x1="583.1" y1="113.02" x2="583.1" y2="114.34" stroke="#000000" stroke-width="0.6"/>
<line x1="581.5" y1="113.02" x2="584.7" y2="113.02" stroke="#000000" stroke-width="0.6"/>
<circle cx="582.1" cy="113.46" r="1.35" fill="#000000"/>
<circle cx="583.1" cy="112.58" r="1.35" fill="#000000"/>
<circle cx="584.1" cy="113.24" r="1.35" fill="#000000"/>
<line x1="583.1" y1="128.4" x2="583.1" y2="130.4" stroke="#000" stroke-width="0.6"/>
<text x="585.5" y="135.9" font-size="6.6" font-weight="bold" text-anchor="end" transform="rotate(-45 585.5 135.9)">CD40-Ctrl Veh+IgG</text>
<rect x="589.72" y="103.13" width="5.8" height="25.27" fill="#fff" stroke="#ff2020" stroke-width="1.15"/>
<line x1="592.62" y1="96.98" x2="592.62" y2="103.13" stroke="#ff2020" stroke-width="0.6"/>
<line x1="591.02" y1="96.98" x2="594.22" y2="96.98" stroke="#ff2020" stroke-width="0.6"/>
<rect x="591.37" y="92" width="2.5" height="2.5" fill="#ff2020"/>
<rect x="591.37" y="99.69" width="2.5" height="2.5" fill="#ff2020"/>
<rect x="591.37" y="108.48" width="2.5" height="2.5" fill="#ff2020"/>
<line x1="592.62" y1="128.4" x2="592.62" y2="130.4" stroke="#000" stroke-width="0.6"/>
<text x="595.02" y="135.9" font-size="6.6" font-weight="bold" text-anchor="end" transform="rotate(-45 595.02 135.9)">CD40-OE Veh+IgG</text>
<rect x="599.24" y="102.26" width="5.8" height="26.14" fill="#fff" stroke="#22ee22" stroke-width="1.15"/>
<line x1="602.14" y1="96.76" x2="602.14" y2="102.26" stroke="#22ee22" stroke-width="0.6"/>
<line x1="600.54" y1="96.76" x2="603.74" y2="96.76" stroke="#22ee22" stroke-width="0.6"/>
<path d="M600.64 95.55L602.14 92.85L603.64 95.55Z" fill="#22ee22" stroke="none" stroke-width="0.6"/>
<path d="M600.64 103.24L602.14 100.54L603.64 103.24Z" fill="#22ee22" stroke="none" stroke-width="0.6"/>
<path d="M600.64 107.19L602.14 104.49L603.64 107.19Z" fill="#22ee22" stroke="none" stroke-width="0.6"/>
<line x1="602.14" y1="128.4" x2="602.14" y2="130.4" stroke="#000" stroke-width="0.6"/>
<text x="604.54" y="135.9" font-size="6.6" font-weight="bold" text-anchor="end" transform="rotate(-45 604.54 135.9)">CD40-Ctrl Veh+aCD40</text>
<rect x="608.76" y="112.58" width="5.8" height="15.82" fill="#fff" stroke="#cc44ff" stroke-width="1.15"/>
<line x1="611.66" y1="107.75" x2="611.66" y2="112.58" stroke="#cc44ff" stroke-width="0.6"/>
<line x1="610.06" y1="107.75" x2="613.26" y2="107.75" stroke="#cc44ff" stroke-width="0.6"/>
<path d="M610.16 105.23L611.66 107.93L613.16 105.23Z" fill="#cc44ff" stroke="none" stroke-width="0.6"/>
<path d="M610.16 109.18L611.66 111.88L613.16 109.18Z" fill="#cc44ff" stroke="none" stroke-width="0.6"/>
<path d="M610.16 112.92L611.66 115.62L613.16 112.92Z" fill="#cc44ff" stroke="none" stroke-width="0.6"/>
<line x1="611.66" y1="128.4" x2="611.66" y2="130.4" stroke="#000" stroke-width="0.6"/>
<text x="614.06" y="135.9" font-size="6.6" font-weight="bold" text-anchor="end" transform="rotate(-45 614.06 135.9)">CD40-OE Veh+aCD40</text>
<rect x="618.28" y="116.1" width="5.8" height="12.3" fill="#fff" stroke="#ff7f27" stroke-width="1.15"/>
<line x1="621.18" y1="109.95" x2="621.18" y2="116.1" stroke="#ff7f27" stroke-width="0.6"/>
<line x1="619.58" y1="109.95" x2="622.78" y2="109.95" stroke="#ff7f27" stroke-width="0.6"/>
<rect x="619.93" y="102.98" width="2.5" height="2.5" fill="#ff7f27"/>
<rect x="619.93" y="118.36" width="2.5" height="2.5" fill="#ff7f27"/>
<rect x="619.93" y="121.66" width="2.5" height="2.5" fill="#ff7f27"/>
<line x1="621.18" y1="128.4" x2="621.18" y2="130.4" stroke="#000" stroke-width="0.6"/>
<text x="623.58" y="135.9" font-size="6.6" font-weight="bold" text-anchor="end" transform="rotate(-45 623.58 135.9)">CD40-Ctrl Veh+PD1</text>
<rect x="627.8" y="89.95" width="5.8" height="38.45" fill="#fff" stroke="#1111ff" stroke-width="1.15"/>
<line x1="630.7" y1="81.82" x2="630.7" y2="89.95" stroke="#1111ff" stroke-width="0.6"/>
<line x1="629.1" y1="81.82" x2="632.3" y2="81.82" stroke="#1111ff" stroke-width="0.6"/>
<circle cx="630.7" cy="73.47" r="1.35" fill="#1111ff"/>
<circle cx="629.4" cy="95.45" r="1.35" fill="#1111ff"/>
<circle cx="632" cy="95.45" r="1.35" fill="#1111ff"/>
<line x1="630.7" y1="128.4" x2="630.7" y2="130.4" stroke="#000" stroke-width="0.6"/>
<text x="633.1" y="135.9" font-size="6.6" font-weight="bold" text-anchor="end" transform="rotate(-45 633.1 135.9)">CD40-OE Veh+PD1</text>
<rect x="637.32" y="109.29" width="5.8" height="19.11" fill="#fff" stroke="#c0652a" stroke-width="1.15"/>
<line x1="640.22" y1="103.57" x2="640.22" y2="109.29" stroke="#c0652a" stroke-width="0.6"/>
<line x1="638.62" y1="103.57" x2="641.82" y2="103.57" stroke="#c0652a" stroke-width="0.6"/>
<rect x="638.97" y="100.79" width="2.5" height="2.5" fill="#c0652a"/>
<rect x="638.97" y="104.08" width="2.5" height="2.5" fill="#c0652a"/>
<rect x="638.97" y="112.87" width="2.5" height="2.5" fill="#c0652a"/>
<line x1="640.22" y1="128.4" x2="640.22" y2="130.4" stroke="#000" stroke-width="0.6"/>
<text x="642.62" y="135.9" font-size="6.6" font-weight="bold" text-anchor="end" transform="rotate(-45 642.62 135.9)">CD40-Ctrl Veh+aCD40+PD1</text>
<rect x="646.84" y="82.26" width="5.8" height="46.14" fill="#fff" stroke="#9e9a2a" stroke-width="1.15"/>
<line x1="649.74" y1="78.31" x2="649.74" y2="82.26" stroke="#9e9a2a" stroke-width="0.6"/>
<line x1="648.14" y1="78.31" x2="651.34" y2="78.31" stroke="#9e9a2a" stroke-width="0.6"/>
<path d="M646.94 78.63L648.44 75.93L649.94 78.63Z" fill="#9e9a2a" stroke="none" stroke-width="0.6"/>
<path d="M649.54 78.63L651.04 75.93L652.54 78.63Z" fill="#9e9a2a" stroke="none" stroke-width="0.6"/>
<path d="M648.24 86.76L649.74 84.06L651.24 86.76Z" fill="#9e9a2a" stroke="none" stroke-width="0.6"/>
<line x1="649.74" y1="128.4" x2="649.74" y2="130.4" stroke="#000" stroke-width="0.6"/>
<text x="652.14" y="135.9" font-size="6.6" font-weight="bold" text-anchor="end" transform="rotate(-45 652.14 135.9)">CD40-OE Veh+aCD40+PD1</text>
<rect x="656.36" y="122.69" width="5.8" height="5.71" fill="#fff" stroke="#7030a0" stroke-width="1.15"/>
<line x1="659.26" y1="119.17" x2="659.26" y2="122.69" stroke="#7030a0" stroke-width="0.6"/>
<line x1="657.66" y1="119.17" x2="660.86" y2="119.17" stroke="#7030a0" stroke-width="0.6"/>
<path d="M657.76 114.02L659.26 116.72L660.76 114.02Z" fill="#7030a0" stroke="none" stroke-width="0.6"/>
<path d="M656.76 121.71L658.26 124.41L659.76 121.71Z" fill="#7030a0" stroke="none" stroke-width="0.6"/>
<path d="M658.76 122.37L660.26 125.07L661.76 122.37Z" fill="#7030a0" stroke="none" stroke-width="0.6"/>
<line x1="659.26" y1="128.4" x2="659.26" y2="130.4" stroke="#000" stroke-width="0.6"/>
<text x="661.66" y="135.9" font-size="6.6" font-weight="bold" text-anchor="end" transform="rotate(-45 661.66 135.9)">CD40-Ctrl RGS+IgG</text>
<rect x="665.88" y="117.42" width="5.8" height="10.98" fill="#fff" stroke="#a03a6a" stroke-width="1.15"/>
<line x1="668.78" y1="113.02" x2="668.78" y2="117.42" stroke="#a03a6a" stroke-width="0.6"/>
<line x1="667.18" y1="113.02" x2="670.38" y2="113.02" stroke="#a03a6a" stroke-width="0.6"/>
<path d="M667.48 111.42L669.08 113.02L667.48 114.62L665.88 113.02Z" fill="#a03a6a" stroke="none" stroke-width="0.6"/>
<path d="M670.08 111.42L671.68 113.02L670.08 114.62L668.48 113.02Z" fill="#a03a6a" stroke="none" stroke-width="0.6"/>
<path d="M668.78 121.31L670.38 122.91L668.78 124.51L667.18 122.91Z" fill="#a03a6a" stroke="none" stroke-width="0.6"/>
<line x1="668.78" y1="128.4" x2="668.78" y2="130.4" stroke="#000" stroke-width="0.6"/>
<text x="671.18" y="135.9" font-size="6.6" font-weight="bold" text-anchor="end" transform="rotate(-45 671.18 135.9)">CD40-OE RGS+IgG</text>
<line x1="593" y1="57.9" x2="649.5" y2="57.9" stroke="#000" stroke-width="0.7"/>
<polygon points="615.95,52.49 616.73,53.76 618.18,54.11 617.21,55.24 617.33,56.73 615.95,56.16 614.57,56.73 614.69,55.24 613.72,54.11 615.17,53.76" fill="#111"/>
<polygon points="620.45,52.49 621.23,53.76 622.68,54.11 621.71,55.24 621.83,56.73 620.45,56.16 619.07,56.73 619.19,55.24 618.22,54.11 619.67,53.76" fill="#111"/>
<line x1="611.8" y1="65.1" x2="649.5" y2="65.1" stroke="#000" stroke-width="0.7"/>
<polygon points="626.30,59.49 627.08,60.76 628.53,61.11 627.56,62.24 627.68,63.73 626.30,63.16 624.92,63.73 625.04,62.24 624.07,61.11 625.52,60.76" fill="#111"/>
<polygon points="630.80,59.49 631.58,60.76 633.03,61.11 632.06,62.24 632.18,63.73 630.80,63.16 629.42,63.73 629.54,62.24 628.57,61.11 630.02,60.76" fill="#111"/>
<polygon points="635.30,59.49 636.08,60.76 637.53,61.11 636.56,62.24 636.68,63.73 635.30,63.16 633.92,63.73 634.04,62.24 633.07,61.11 634.52,60.76" fill="#111"/>
<line x1="619" y1="71.1" x2="631.8" y2="71.1" stroke="#000" stroke-width="0.7"/>
<polygon points="620.90,65.79 621.68,67.06 623.13,67.41 622.16,68.54 622.28,70.03 620.90,69.46 619.52,70.03 619.64,68.54 618.67,67.41 620.12,67.06" fill="#111"/>
<polygon points="625.40,65.79 626.18,67.06 627.63,67.41 626.66,68.54 626.78,70.03 625.40,69.46 624.02,70.03 624.14,68.54 623.17,67.41 624.62,67.06" fill="#111"/>
<polygon points="629.90,65.79 630.68,67.06 632.13,67.41 631.16,68.54 631.28,70.03 629.90,69.46 628.52,70.03 628.64,68.54 627.67,67.41 629.12,67.06" fill="#111"/>
<line x1="639" y1="75.1" x2="651.9" y2="75.1" stroke="#000" stroke-width="0.7"/>
<polygon points="640.80,68.79 641.58,70.06 643.03,70.41 642.06,71.54 642.18,73.03 640.80,72.46 639.42,73.03 639.54,71.54 638.57,70.41 640.02,70.06" fill="#111"/>
<polygon points="645.30,68.79 646.08,70.06 647.53,70.41 646.56,71.54 646.68,73.03 645.30,72.46 643.92,73.03 644.04,71.54 643.07,70.41 644.52,70.06" fill="#111"/>
<polygon points="649.80,68.79 650.58,70.06 652.03,70.41 651.06,71.54 651.18,73.03 649.80,72.46 648.42,73.03 648.54,71.54 647.57,70.41 649.02,70.06" fill="#111"/>
<defs><linearGradient id="rb" x1="0" x2="1"><stop offset="0" stop-color="#dc2a3a"/><stop offset="0.2" stop-color="#e03c4c"/><stop offset="0.36" stop-color="#e2607a"/><stop offset="0.42" stop-color="#e88ab4"/><stop offset="0.5" stop-color="#eeb0e0"/><stop offset="0.58" stop-color="#d8d0f4"/><stop offset="0.7" stop-color="#b0b0f4"/><stop offset="0.8" stop-color="#7070f0"/><stop offset="0.94" stop-color="#3a3aee"/><stop offset="1" stop-color="#0a0ae0"/></linearGradient><linearGradient id="fdr" x1="0" x2="0" y1="1" y2="0"><stop offset="0" stop-color="#132b43"/><stop offset="1" stop-color="#56b1f7"/></linearGradient></defs>
<text x="0.5" y="227.3" font-size="13.5" font-weight="bold">(C)</text>
<text x="27.4" y="228.4" font-size="10.3" font-weight="bold" textLength="209.3" lengthAdjust="spacingAndGlyphs">Baseline (Veh+IgG): CD40-OE vs CD40-Ctrl</text>
<rect x="145.3" y="238.8" width="115.5" height="141.5" fill="#fff" stroke="#b0b0b0" stroke-width="0.5"/>
<line x1="156.4" y1="238.8" x2="156.4" y2="380.3" stroke="#f2f2f2" stroke-width="0.35"/>
<line x1="190.4" y1="238.8" x2="190.4" y2="380.3" stroke="#f2f2f2" stroke-width="0.35"/>
<line x1="224.4" y1="238.8" x2="224.4" y2="380.3" stroke="#f2f2f2" stroke-width="0.35"/>
<line x1="258.4" y1="238.8" x2="258.4" y2="380.3" stroke="#f2f2f2" stroke-width="0.35"/>
<line x1="173.4" y1="238.8" x2="173.4" y2="380.3" stroke="#e8e8e8" stroke-width="0.5"/>
<line x1="241.4" y1="238.8" x2="241.4" y2="380.3" stroke="#e8e8e8" stroke-width="0.5"/>
<line x1="145.3" y1="243.4" x2="260.8" y2="243.4" stroke="#ebebeb" stroke-width="0.45"/>
<line x1="145.3" y1="250.38" x2="260.8" y2="250.38" stroke="#ebebeb" stroke-width="0.45"/>
<line x1="145.3" y1="257.36" x2="260.8" y2="257.36" stroke="#ebebeb" stroke-width="0.45"/>
<line x1="145.3" y1="264.34" x2="260.8" y2="264.34" stroke="#ebebeb" stroke-width="0.45"/>
<line x1="145.3" y1="271.32" x2="260.8" y2="271.32" stroke="#ebebeb" stroke-width="0.45"/>
<line x1="145.3" y1="278.3" x2="260.8" y2="278.3" stroke="#ebebeb" stroke-width="0.45"/>
<line x1="145.3" y1="285.28" x2="260.8" y2="285.28" stroke="#ebebeb" stroke-width="0.45"/>
<line x1="145.3" y1="292.26" x2="260.8" y2="292.26" stroke="#ebebeb" stroke-width="0.45"/>
<line x1="145.3" y1="299.24" x2="260.8" y2="299.24" stroke="#ebebeb" stroke-width="0.45"/>
<line x1="145.3" y1="306.22" x2="260.8" y2="306.22" stroke="#ebebeb" stroke-width="0.45"/>
<line x1="145.3" y1="313.2" x2="260.8" y2="313.2" stroke="#ebebeb" stroke-width="0.45"/>
<line x1="145.3" y1="320.18" x2="260.8" y2="320.18" stroke="#ebebeb" stroke-width="0.45"/>
<line x1="145.3" y1="327.16" x2="260.8" y2="327.16" stroke="#ebebeb" stroke-width="0.45"/>
<line x1="145.3" y1="334.14" x2="260.8" y2="334.14" stroke="#ebebeb" stroke-width="0.45"/>
<line x1="145.3" y1="341.12" x2="260.8" y2="341.12" stroke="#ebebeb" stroke-width="0.45"/>
<line x1="145.3" y1="348.1" x2="260.8" y2="348.1" stroke="#ebebeb" stroke-width="0.45"/>
<line x1="145.3" y1="355.08" x2="260.8" y2="355.08" stroke="#ebebeb" stroke-width="0.45"/>
<line x1="145.3" y1="362.06" x2="260.8" y2="362.06" stroke="#ebebeb" stroke-width="0.45"/>
<line x1="145.3" y1="369.04" x2="260.8" y2="369.04" stroke="#ebebeb" stroke-width="0.45"/>
<line x1="145.3" y1="376.02" x2="260.8" y2="376.02" stroke="#ebebeb" stroke-width="0.45"/>
<line x1="207.4" y1="238.8" x2="207.4" y2="380.3" stroke="#555" stroke-width="0.7"/>
<line x1="144" y1="243.4" x2="145.3" y2="243.4" stroke="#333" stroke-width="0.4"/>
<text x="143.5" y="245.2" font-size="5.2" font-weight="bold" text-anchor="end" fill="#111">Hallmark_Oxidative Phosphorylation</text>
<line x1="144" y1="250.38" x2="145.3" y2="250.38" stroke="#333" stroke-width="0.4"/>
<text x="143.5" y="252.18" font-size="5.2" font-weight="bold" text-anchor="end" fill="#111">Hallmark_Myc Targets V1</text>
<line x1="144" y1="257.36" x2="145.3" y2="257.36" stroke="#333" stroke-width="0.4"/>
<text x="143.5" y="259.16" font-size="5.2" font-weight="bold" text-anchor="end" fill="#111">Hallmark_Hypoxia</text>
<line x1="144" y1="264.34" x2="145.3" y2="264.34" stroke="#333" stroke-width="0.4"/>
<text x="143.5" y="266.14" font-size="5.2" font-weight="bold" text-anchor="end" fill="#111">Hallmark_E2F Targets</text>
<line x1="144" y1="271.32" x2="145.3" y2="271.32" stroke="#333" stroke-width="0.4"/>
<text x="143.5" y="273.12" font-size="5.2" font-weight="bold" text-anchor="end" fill="#111">Hallmark_Glycolysis</text>
<line x1="144" y1="278.3" x2="145.3" y2="278.3" stroke="#333" stroke-width="0.4"/>
<text x="143.5" y="280.1" font-size="5.2" font-weight="bold" text-anchor="end" fill="#111">Hallmark_DNA Repair</text>
<line x1="144" y1="285.28" x2="145.3" y2="285.28" stroke="#333" stroke-width="0.4"/>
<text x="143.5" y="287.08" font-size="5.2" font-weight="bold" text-anchor="end" fill="#111">Hallmark_Fatty Acid Metabolism</text>
<line x1="144" y1="292.26" x2="145.3" y2="292.26" stroke="#333" stroke-width="0.4"/>
<text x="143.5" y="294.06" font-size="5.2" font-weight="bold" text-anchor="end" fill="#111">Hallmark_mTORC1 Signaling</text>
<line x1="144" y1="299.24" x2="145.3" y2="299.24" stroke="#333" stroke-width="0.4"/>
<text x="143.5" y="301.04" font-size="5.2" font-weight="bold" text-anchor="end" fill="#111">Hallmark_Myc Targets V2</text>
<line x1="144" y1="306.22" x2="145.3" y2="306.22" stroke="#333" stroke-width="0.4"/>
<text x="143.5" y="308.02" font-size="5.2" font-weight="bold" text-anchor="end" fill="#111">Hallmark_Unfolded Protein Response</text>
<line x1="144" y1="313.2" x2="145.3" y2="313.2" stroke="#333" stroke-width="0.4"/>
<text x="143.5" y="315" font-size="5.2" font-weight="bold" text-anchor="end" fill="#111">Hallmark_Complement</text>
<line x1="144" y1="320.18" x2="145.3" y2="320.18" stroke="#333" stroke-width="0.4"/>
<text x="143.5" y="321.98" font-size="5.2" font-weight="bold" text-anchor="end" fill="#111">Hallmark_Apical Surface</text>
<line x1="144" y1="327.16" x2="145.3" y2="327.16" stroke="#333" stroke-width="0.4"/>
<text x="143.5" y="328.96" font-size="5.2" font-weight="bold" text-anchor="end" fill="#111">Hallmark_Mitotic Spindle</text>
<line x1="144" y1="334.14" x2="145.3" y2="334.14" stroke="#333" stroke-width="0.4"/>
<text x="143.5" y="335.94" font-size="5.2" font-weight="bold" text-anchor="end" fill="#111">Hallmark_IL2/STAT5 Signaling</text>
<line x1="144" y1="341.12" x2="145.3" y2="341.12" stroke="#333" stroke-width="0.4"/>
<text x="143.5" y="342.92" font-size="5.2" font-weight="bold" text-anchor="end" fill="#111">Hallmark_Apical Junction</text>
<line x1="144" y1="348.1" x2="145.3" y2="348.1" stroke="#333" stroke-width="0.4"/>
<text x="143.5" y="349.9" font-size="5.2" font-weight="bold" text-anchor="end" fill="#111">Hallmark_IL6/JAK/STAT3 Signaling</text>
<line x1="144" y1="355.08" x2="145.3" y2="355.08" stroke="#333" stroke-width="0.4"/>
<text x="143.5" y="356.88" font-size="5.2" font-weight="bold" text-anchor="end" fill="#111">Hallmark_Inflammatory Response</text>
<line x1="144" y1="362.06" x2="145.3" y2="362.06" stroke="#333" stroke-width="0.4"/>
<text x="143.5" y="363.86" font-size="5.2" font-weight="bold" text-anchor="end" fill="#111">Hallmark_Allograft Rejection</text>
<line x1="144" y1="369.04" x2="145.3" y2="369.04" stroke="#333" stroke-width="0.4"/>
<text x="143.5" y="370.84" font-size="5.2" font-weight="bold" text-anchor="end" fill="#111">Hallmark_IFNα Response</text>
<line x1="144" y1="376.02" x2="145.3" y2="376.02" stroke="#333" stroke-width="0.4"/>
<text x="143.5" y="377.82" font-size="5.2" font-weight="bold" text-anchor="end" fill="#111">Hallmark_IFNγ Response</text>
<line x1="173.4" y1="380.3" x2="173.4" y2="381.6" stroke="#333" stroke-width="0.4"/>
<text x="173.4" y="386.6" font-size="5.4" text-anchor="middle" fill="#4d4d4d">−2</text>
<line x1="207.4" y1="380.3" x2="207.4" y2="381.6" stroke="#333" stroke-width="0.4"/>
<text x="207.4" y="386.6" font-size="5.4" text-anchor="middle" fill="#4d4d4d">0</text>
<line x1="241.4" y1="380.3" x2="241.4" y2="381.6" stroke="#333" stroke-width="0.4"/>
<text x="241.4" y="386.6" font-size="5.4" text-anchor="middle" fill="#4d4d4d">2</text>
<ellipse cx="150.6" cy="243.4" rx="2" ry="2.9" fill="#132b43"/>
<ellipse cx="157.7" cy="250.38" rx="2" ry="2.7" fill="#132b43"/>
<ellipse cx="167.9" cy="257.36" rx="1.4" ry="2" fill="#142e47"/>
<ellipse cx="174.7" cy="264.34" rx="1.6" ry="2.3" fill="#316794"/>
<ellipse cx="175.6" cy="271.32" rx="1.5" ry="2.1" fill="#316794"/>
<ellipse cx="175.6" cy="278.3" rx="1.5" ry="2.1" fill="#2a5a82"/>
<ellipse cx="176.1" cy="285.28" rx="1.2" ry="1.7" fill="#316794"/>
<ellipse cx="177" cy="292.26" rx="1.8" ry="2.5" fill="#346e9d"/>
<ellipse cx="178.3" cy="299.24" rx="0.5" ry="0.7" fill="#4996d3"/>
<ellipse cx="178.7" cy="306.22" rx="1.2" ry="1.7" fill="#56b1f7"/>
<ellipse cx="240.3" cy="313.2" rx="1.6" ry="2.1" fill="#132b43"/>
<ellipse cx="241.8" cy="320.18" rx="0.7" ry="0.9" fill="#132b43"/>
<ellipse cx="242.5" cy="327.16" rx="1.8" ry="2.5" fill="#132b43"/>
<ellipse cx="242.7" cy="334.14" rx="1.5" ry="2.1" fill="#132b43"/>
<ellipse cx="243.8" cy="341.12" rx="1.5" ry="2.2" fill="#132b43"/>
<ellipse cx="244.9" cy="348.1" rx="0.8" ry="1.1" fill="#132b43"/>
<ellipse cx="249.3" cy="355.08" rx="1.6" ry="2.2" fill="#132b43"/>
<ellipse cx="253.1" cy="362.06" rx="1.8" ry="2.5" fill="#132b43"/>
<ellipse cx="254.7" cy="369.04" rx="1.2" ry="1.6" fill="#132b43"/>
<ellipse cx="255.8" cy="376.02" rx="1.8" ry="2.5" fill="#132b43"/>
<text x="263.8" y="259" font-size="5.2" fill="#222">FDR.q.val</text>
<rect x="264" y="262" width="7" height="37.2" fill="url(#fdr)"/>
<line x1="264" y1="262.8" x2="265.2" y2="262.8" stroke="#fff" stroke-width="0.3"/>
<line x1="269.8" y1="262.8" x2="271" y2="262.8" stroke="#fff" stroke-width="0.3"/>
<text x="273.8" y="264.3" font-size="4.3" fill="#222">0.003</text>
<line x1="264" y1="274.95" x2="265.2" y2="274.95" stroke="#fff" stroke-width="0.3"/>
<line x1="269.8" y1="274.95" x2="271" y2="274.95" stroke="#fff" stroke-width="0.3"/>
<text x="273.8" y="276.45" font-size="4.3" fill="#222">0.002</text>
<line x1="264" y1="287.1" x2="265.2" y2="287.1" stroke="#fff" stroke-width="0.3"/>
<line x1="269.8" y1="287.1" x2="271" y2="287.1" stroke="#fff" stroke-width="0.3"/>
<text x="273.8" y="288.6" font-size="4.3" fill="#222">0.001</text>
<line x1="264" y1="299.25" x2="265.2" y2="299.25" stroke="#fff" stroke-width="0.3"/>
<line x1="269.8" y1="299.25" x2="271" y2="299.25" stroke="#fff" stroke-width="0.3"/>
<text x="273.8" y="300.75" font-size="4.3" fill="#222">0.000</text>
<text x="263.8" y="313.4" font-size="5.2" fill="#222">Core</text>
<circle cx="267.3" cy="320" r="1.6" fill="#000"/>
<text x="273.8" y="321.5" font-size="4.3" fill="#222">50</text>
<circle cx="267.3" cy="327.5" r="2.1" fill="#000"/>
<text x="273.8" y="329" font-size="4.3" fill="#222">75</text>
<circle cx="267.3" cy="335" r="2.5" fill="#000"/>
<text x="273.8" y="336.5" font-size="4.3" fill="#222">100</text>
<text x="0.5" y="397.5" font-size="13.5" font-weight="bold">(D)</text>
<text x="27.2" y="398.7" font-size="10.3" font-weight="bold" textLength="173.4" lengthAdjust="spacingAndGlyphs">aCD40+PD1: CD40-OE vs CD40-Ctrl</text>
<rect x="145.5" y="402.9" width="115.6" height="139.2" fill="#fff" stroke="#b0b0b0" stroke-width="0.5"/>
<line x1="154.5" y1="402.9" x2="154.5" y2="542.1" stroke="#f2f2f2" stroke-width="0.35"/>
<line x1="189.9" y1="402.9" x2="189.9" y2="542.1" stroke="#f2f2f2" stroke-width="0.35"/>
<line x1="225.3" y1="402.9" x2="225.3" y2="542.1" stroke="#f2f2f2" stroke-width="0.35"/>
<line x1="260.7" y1="402.9" x2="260.7" y2="542.1" stroke="#f2f2f2" stroke-width="0.35"/>
<line x1="172.2" y1="402.9" x2="172.2" y2="542.1" stroke="#e8e8e8" stroke-width="0.5"/>
<line x1="243" y1="402.9" x2="243" y2="542.1" stroke="#e8e8e8" stroke-width="0.5"/>
<line x1="145.5" y1="407.6" x2="261.1" y2="407.6" stroke="#ebebeb" stroke-width="0.45"/>
<line x1="145.5" y1="415.24" x2="261.1" y2="415.24" stroke="#ebebeb" stroke-width="0.45"/>
<line x1="145.5" y1="422.88" x2="261.1" y2="422.88" stroke="#ebebeb" stroke-width="0.45"/>
<line x1="145.5" y1="430.52" x2="261.1" y2="430.52" stroke="#ebebeb" stroke-width="0.45"/>
<line x1="145.5" y1="438.16" x2="261.1" y2="438.16" stroke="#ebebeb" stroke-width="0.45"/>
<line x1="145.5" y1="445.8" x2="261.1" y2="445.8" stroke="#ebebeb" stroke-width="0.45"/>
<line x1="145.5" y1="453.44" x2="261.1" y2="453.44" stroke="#ebebeb" stroke-width="0.45"/>
<line x1="145.5" y1="461.08" x2="261.1" y2="461.08" stroke="#ebebeb" stroke-width="0.45"/>
<line x1="145.5" y1="468.72" x2="261.1" y2="468.72" stroke="#ebebeb" stroke-width="0.45"/>
<line x1="145.5" y1="476.36" x2="261.1" y2="476.36" stroke="#ebebeb" stroke-width="0.45"/>
<line x1="145.5" y1="484" x2="261.1" y2="484" stroke="#ebebeb" stroke-width="0.45"/>
<line x1="145.5" y1="491.64" x2="261.1" y2="491.64" stroke="#ebebeb" stroke-width="0.45"/>
<line x1="145.5" y1="499.28" x2="261.1" y2="499.28" stroke="#ebebeb" stroke-width="0.45"/>
<line x1="145.5" y1="506.92" x2="261.1" y2="506.92" stroke="#ebebeb" stroke-width="0.45"/>
<line x1="145.5" y1="514.56" x2="261.1" y2="514.56" stroke="#ebebeb" stroke-width="0.45"/>
<line x1="145.5" y1="522.2" x2="261.1" y2="522.2" stroke="#ebebeb" stroke-width="0.45"/>
<line x1="145.5" y1="529.84" x2="261.1" y2="529.84" stroke="#ebebeb" stroke-width="0.45"/>
<line x1="145.5" y1="537.48" x2="261.1" y2="537.48" stroke="#ebebeb" stroke-width="0.45"/>
<line x1="207.6" y1="402.9" x2="207.6" y2="542.1" stroke="#555" stroke-width="0.7"/>
<line x1="144.2" y1="407.6" x2="145.5" y2="407.6" stroke="#333" stroke-width="0.4"/>
<text x="143.7" y="409.4" font-size="5.2" font-weight="bold" text-anchor="end" fill="#111">Hallmark_E2F Targets</text>
<line x1="144.2" y1="415.24" x2="145.5" y2="415.24" stroke="#333" stroke-width="0.4"/>
<text x="143.7" y="417.04" font-size="5.2" font-weight="bold" text-anchor="end" fill="#111">Hallmark_Myc Targets V1</text>
<line x1="144.2" y1="422.88" x2="145.5" y2="422.88" stroke="#333" stroke-width="0.4"/>
<text x="143.7" y="424.68" font-size="5.2" font-weight="bold" text-anchor="end" fill="#111">Hallmark_Oxidative Phosphorylation</text>
<line x1="144.2" y1="430.52" x2="145.5" y2="430.52" stroke="#333" stroke-width="0.4"/>
<text x="143.7" y="432.32" font-size="5.2" font-weight="bold" text-anchor="end" fill="#111">Hallmark_G2M Checkpoint</text>
<line x1="144.2" y1="438.16" x2="145.5" y2="438.16" stroke="#333" stroke-width="0.4"/>
<text x="143.7" y="439.96" font-size="5.2" font-weight="bold" text-anchor="end" fill="#111">Hallmark_DNA Repair</text>
<line x1="144.2" y1="445.8" x2="145.5" y2="445.8" stroke="#333" stroke-width="0.4"/>
<text x="143.7" y="447.6" font-size="5.2" font-weight="bold" text-anchor="end" fill="#111">Hallmark_Myc Targets V2</text>
<line x1="144.2" y1="453.44" x2="145.5" y2="453.44" stroke="#333" stroke-width="0.4"/>
<text x="143.7" y="455.24" font-size="5.2" font-weight="bold" text-anchor="end" fill="#111">Hallmark_Unfolded Protein Response</text>
<line x1="144.2" y1="461.08" x2="145.5" y2="461.08" stroke="#333" stroke-width="0.4"/>
<text x="143.7" y="462.88" font-size="5.2" font-weight="bold" text-anchor="end" fill="#111">Hallmark_mTORC1 Signaling</text>
<line x1="144.2" y1="468.72" x2="145.5" y2="468.72" stroke="#333" stroke-width="0.4"/>
<text x="143.7" y="470.52" font-size="5.2" font-weight="bold" text-anchor="end" fill="#111">Hallmark_IL2/STAT5 Signaling</text>
<line x1="144.2" y1="476.36" x2="145.5" y2="476.36" stroke="#333" stroke-width="0.4"/>
<text x="143.7" y="478.16" font-size="5.2" font-weight="bold" text-anchor="end" fill="#111">Hallmark_Epithelial Mesenchymal Transition</text>
<line x1="144.2" y1="484" x2="145.5" y2="484" stroke="#333" stroke-width="0.4"/>
<text x="143.7" y="485.8" font-size="5.2" font-weight="bold" text-anchor="end" fill="#111">Hallmark_TNFα Signaling via NFκB</text>
<line x1="144.2" y1="491.64" x2="145.5" y2="491.64" stroke="#333" stroke-width="0.4"/>
<text x="143.7" y="493.44" font-size="5.2" font-weight="bold" text-anchor="end" fill="#111">Hallmark_Apical Surface</text>
<line x1="144.2" y1="499.28" x2="145.5" y2="499.28" stroke="#333" stroke-width="0.4"/>
<text x="143.7" y="501.08" font-size="5.2" font-weight="bold" text-anchor="end" fill="#111">Hallmark_Complement</text>
<line x1="144.2" y1="506.92" x2="145.5" y2="506.92" stroke="#333" stroke-width="0.4"/>
<text x="143.7" y="508.72" font-size="5.2" font-weight="bold" text-anchor="end" fill="#111">Hallmark_IL6/JAK/STAT3 Signaling</text>
<line x1="144.2" y1="514.56" x2="145.5" y2="514.56" stroke="#333" stroke-width="0.4"/>
<text x="143.7" y="516.36" font-size="5.2" font-weight="bold" text-anchor="end" fill="#111">Hallmark_IFNα Response</text>
<line x1="144.2" y1="522.2" x2="145.5" y2="522.2" stroke="#333" stroke-width="0.4"/>
<text x="143.7" y="524" font-size="5.2" font-weight="bold" text-anchor="end" fill="#111">Hallmark_Inflammatory Response</text>
<line x1="144.2" y1="529.84" x2="145.5" y2="529.84" stroke="#333" stroke-width="0.4"/>
<text x="143.7" y="531.64" font-size="5.2" font-weight="bold" text-anchor="end" fill="#111">Hallmark_IFNγ Response</text>
<line x1="144.2" y1="537.48" x2="145.5" y2="537.48" stroke="#333" stroke-width="0.4"/>
<text x="143.7" y="539.28" font-size="5.2" font-weight="bold" text-anchor="end" fill="#111">Hallmark_Allograft Rejection</text>
<line x1="172.2" y1="542.1" x2="172.2" y2="543.4" stroke="#333" stroke-width="0.4"/>
<text x="172.2" y="548.4" font-size="5.4" text-anchor="middle" fill="#4d4d4d">−2</text>
<line x1="207.6" y1="542.1" x2="207.6" y2="543.4" stroke="#333" stroke-width="0.4"/>
<text x="207.6" y="548.4" font-size="5.4" text-anchor="middle" fill="#4d4d4d">0</text>
<line x1="243" y1="542.1" x2="243" y2="543.4" stroke="#333" stroke-width="0.4"/>
<text x="243" y="548.4" font-size="5.4" text-anchor="middle" fill="#4d4d4d">2</text>
<ellipse cx="150.6" cy="407.6" rx="2" ry="3" fill="#132b43"/>
<ellipse cx="150.6" cy="415.24" rx="2" ry="3" fill="#132b43"/>
<ellipse cx="152.3" cy="422.88" rx="1.9" ry="2.9" fill="#132b43"/>
<ellipse cx="166" cy="430.52" rx="1.8" ry="2.6" fill="#132b43"/>
<ellipse cx="169.1" cy="438.16" rx="1.5" ry="2.1" fill="#132b43"/>
<ellipse cx="169.8" cy="445.8" rx="0.6" ry="0.7" fill="#1a3855"/>
<ellipse cx="177.2" cy="453.44" rx="1.3" ry="1.9" fill="#56b1f7"/>
<ellipse cx="178" cy="461.08" rx="1.6" ry="2.3" fill="#56b1f7"/>
<ellipse cx="244.1" cy="468.72" rx="1.8" ry="2.4" fill="#132b43"/>
<ellipse cx="244.1" cy="476.36" rx="1.8" ry="2.5" fill="#132b43"/>
<ellipse cx="245.6" cy="484" rx="1.8" ry="2.6" fill="#132b43"/>
<ellipse cx="245.6" cy="491.64" rx="0.5" ry="0.6" fill="#132b43"/>
<ellipse cx="246.2" cy="499.28" rx="1.5" ry="2.2" fill="#132b43"/>
<ellipse cx="249.9" cy="506.92" rx="1.2" ry="1.8" fill="#132b43"/>
<ellipse cx="253.5" cy="514.56" rx="1.5" ry="2.1" fill="#132b43"/>
<ellipse cx="254.1" cy="522.2" rx="1.8" ry="2.6" fill="#132b43"/>
<ellipse cx="254.5" cy="529.84" rx="2" ry="2.8" fill="#132b43"/>
<ellipse cx="256.5" cy="537.48" rx="1.8" ry="2.6" fill="#132b43"/>
<text x="207.4" y="555" font-size="6.5" font-weight="bold" text-anchor="middle" textLength="92.9" lengthAdjust="spacingAndGlyphs">Normalized Enrichment Score</text>
<text x="265.3" y="415.8" font-size="5.2" fill="#222">Core</text>
<circle cx="268.5" cy="424.4" r="0.9" fill="#000"/>
<text x="275.8" y="425.9" font-size="4.4" fill="#222">25</text>
<circle cx="268.5" cy="432.6" r="1.6" fill="#000"/>
<text x="275.8" y="434.1" font-size="4.4" fill="#222">50</text>
<circle cx="268.5" cy="440.8" r="2.1" fill="#000"/>
<text x="275.8" y="442.3" font-size="4.4" fill="#222">75</text>
<circle cx="268.5" cy="449" r="2.5" fill="#000"/>
<text x="275.8" y="450.5" font-size="4.4" fill="#222">100</text>
<circle cx="268.5" cy="457.2" r="2.9" fill="#000"/>
<text x="275.8" y="458.7" font-size="4.4" fill="#222">125</text>
<text x="263.5" y="476.5" font-size="5.2" fill="#222">FDR.q.val</text>
<rect x="265" y="480.4" width="8" height="41.1" fill="url(#fdr)"/>
<text x="276" y="489.7" font-size="4.4" fill="#222">0.006</text>
<text x="276" y="500.9" font-size="4.4" fill="#222">0.004</text>
<text x="276" y="512.1" font-size="4.4" fill="#222">0.002</text>
<text x="276" y="523.3" font-size="4.4" fill="#222">0.000</text>
<rect x="308.2" y="226" width="119.3" height="74.9" fill="#efefef"/>
<rect x="323.4" y="232.7" width="102.8" height="68" fill="#fff"/>
<line x1="333.14" y1="232.7" x2="333.14" y2="300.3" stroke="#eeeeee" stroke-width="0.3"/>
<line x1="342.88" y1="232.7" x2="342.88" y2="300.3" stroke="#eeeeee" stroke-width="0.3"/>
<line x1="352.62" y1="232.7" x2="352.62" y2="300.3" stroke="#eeeeee" stroke-width="0.3"/>
<line x1="362.36" y1="232.7" x2="362.36" y2="300.3" stroke="#eeeeee" stroke-width="0.3"/>
<line x1="372.1" y1="232.7" x2="372.1" y2="300.3" stroke="#eeeeee" stroke-width="0.3"/>
<line x1="381.84" y1="232.7" x2="381.84" y2="300.3" stroke="#eeeeee" stroke-width="0.3"/>
<line x1="391.58" y1="232.7" x2="391.58" y2="300.3" stroke="#eeeeee" stroke-width="0.3"/>
<line x1="401.32" y1="232.7" x2="401.32" y2="300.3" stroke="#eeeeee" stroke-width="0.3"/>
<line x1="411.06" y1="232.7" x2="411.06" y2="300.3" stroke="#eeeeee" stroke-width="0.3"/>
<text x="367.85" y="230.9" font-size="4.8" font-weight="bold" text-anchor="middle" fill="#111">Enrichment plot: HALLMARK_HYPOXIA</text>
<line x1="323.4" y1="232.7" x2="323.4" y2="280.9" stroke="#999" stroke-width="0.3"/>
<line x1="323.4" y1="234.88" x2="426.2" y2="234.88" stroke="#eeeeee" stroke-width="0.3"/>
<text x="322.2" y="235.88" font-size="3.1" text-anchor="end" fill="#333">0.1</text>
<line x1="323.4" y1="242.78" x2="426.2" y2="242.78" stroke="#eeeeee" stroke-width="0.3"/>
<text x="322.2" y="243.78" font-size="3.1" text-anchor="end" fill="#333">0.0</text>
<line x1="323.4" y1="250.68" x2="426.2" y2="250.68" stroke="#eeeeee" stroke-width="0.3"/>
<text x="322.2" y="251.68" font-size="3.1" text-anchor="end" fill="#333">-0.1</text>
<line x1="323.4" y1="258.58" x2="426.2" y2="258.58" stroke="#eeeeee" stroke-width="0.3"/>
<text x="322.2" y="259.58" font-size="3.1" text-anchor="end" fill="#333">-0.2</text>
<line x1="323.4" y1="266.47" x2="426.2" y2="266.47" stroke="#eeeeee" stroke-width="0.3"/>
<text x="322.2" y="267.47" font-size="3.1" text-anchor="end" fill="#333">-0.3</text>
<line x1="323.4" y1="274.37" x2="426.2" y2="274.37" stroke="#eeeeee" stroke-width="0.3"/>
<text x="322.2" y="275.37" font-size="3.1" text-anchor="end" fill="#333">-0.4</text>
<line x1="323.4" y1="242.78" x2="426.2" y2="242.78" stroke="#aaa" stroke-width="0.35"/>
<text x="313.8" y="256.8" font-size="4.1" text-anchor="middle" fill="#444" transform="rotate(-90 313.8 256.8)">Enrichment score (ES)</text>
<path d="M323.4 238.3 L324.5 238.0 L325.6 238.3 L326.6 238.3 L327.7 238.2 L328.8 237.5 L329.9 237.7 L331.0 237.6 L332.1 236.6 L333.1 236.4 L334.2 236.6 L335.3 237.6 L336.4 237.7 L337.5 238.2 L338.6 239.2 L339.6 238.9 L340.7 239.4 L341.8 239.1 L342.9 240.5 L344.0 241.1 L345.0 241.1 L346.1 242.0 L347.2 242.2 L348.3 243.3 L349.4 243.6 L350.5 243.8 L351.5 244.4 L352.6 245.2 L353.7 246.2 L354.8 246.1 L355.9 246.8 L356.9 247.1 L358.0 247.9 L359.1 248.1 L360.2 249.1 L361.3 249.5 L362.4 249.9 L363.4 251.1 L364.5 251.4 L365.6 252.0 L366.7 251.6 L367.8 253.0 L368.9 253.3 L369.9 253.9 L371.0 254.8 L372.1 255.9 L373.2 255.4 L374.3 256.6 L375.3 256.7 L376.4 258.1 L377.5 258.3 L378.6 258.2 L379.7 258.7 L380.8 260.4 L381.8 261.0 L382.9 261.1 L384.0 261.4 L385.1 262.2 L386.2 262.7 L387.3 263.8 L388.3 263.8 L389.4 264.2 L390.5 265.4 L391.6 266.4 L392.7 266.7 L393.7 266.7 L394.8 268.3 L395.9 268.3 L397.0 269.2 L398.1 269.5 L399.2 270.1 L400.2 270.6 L401.3 270.6 L402.4 271.7 L403.5 271.9 L404.6 273.1 L405.6 273.9 L406.7 274.1 L407.8 276.0 L408.9 275.5 L410.0 276.1 L411.1 277.2 L412.1 276.6 L413.2 276.9 L414.3 277.6 L415.4 276.2 L416.5 275.3 L417.6 272.5 L418.6 267.1 L419.7 257.4 L420.8 242.7" fill="none" stroke="#3fe82a" stroke-width="0.95"/>
<line x1="323.4" y1="280.9" x2="426.2" y2="280.9" stroke="#ccc" stroke-width="0.3"/>
<path d="M326.9 281.2V296.8M327.3 281.2V296.8M328.1 281.2V296.8M328.5 281.2V296.8M330.3 281.2V296.8M332.3 281.2V296.8M345.8 281.2V296.8M347.7 281.2V296.8" stroke="#cccccc" stroke-width="0.5" fill="none"/>
<path d="M325.4 281.2V296.8M333.6 281.2V296.8M336.9 281.2V296.8M345.2 281.2V296.8M347.1 281.2V296.8M357.2 281.2V296.8M363.6 281.2V296.8M364.9 281.2V296.8M368.0 281.2V296.8M369.1 281.2V296.8" stroke="#acacac" stroke-width="0.5" fill="none"/>
<path d="M334.8 281.2V296.8M358.4 281.2V296.8M361.4 281.2V296.8M366.1 281.2V296.8M367.2 281.2V296.8M369.9 281.2V296.8M376.2 281.2V296.8M376.4 281.2V296.8M390.3 281.2V296.8" stroke="#8c8c8c" stroke-width="0.5" fill="none"/>
<path d="M353.3 281.2V296.8M356.4 281.2V296.8M356.9 281.2V296.8M360.2 281.2V296.8M363.2 281.2V296.8M364.4 281.2V296.8M365.6 281.2V296.8M365.6 281.2V296.8M369.5 281.2V296.8M370.0 281.2V296.8M370.6 281.2V296.8M371.6 281.2V296.8M374.8 281.2V296.8M378.9 281.2V296.8M379.2 281.2V296.8M380.9 281.2V296.8M386.4 281.2V296.8M386.6 281.2V296.8M387.9 281.2V296.8M388.0 281.2V296.8M393.1 281.2V296.8M393.4 281.2V296.8M395.1 281.2V296.8M395.9 281.2V296.8M397.3 281.2V296.8M400.8 281.2V296.8" stroke="#6c6c6c" stroke-width="0.5" fill="none"/>
<path d="M367.2 281.2V296.8M374.7 281.2V296.8M379.0 281.2V296.8M379.0 281.2V296.8M382.4 281.2V296.8M384.0 281.2V296.8M387.4 281.2V296.8M388.2 281.2V296.8M388.3 281.2V296.8M392.0 281.2V296.8M393.3 281.2V296.8M394.6 281.2V296.8M397.2 281.2V296.8M399.6 281.2V296.8M404.0 281.2V296.8M404.1 281.2V296.8M405.0 281.2V296.8M405.4 281.2V296.8M406.1 281.2V296.8M407.3 281.2V296.8M408.9 281.2V296.8M409.7 281.2V296.8M410.2 281.2V296.8M412.9 281.2V296.8M414.2 281.2V296.8" stroke="#4c4c4c" stroke-width="0.5" fill="none"/>
<path d="M381.4 281.2V296.8M383.1 281.2V296.8M383.1 281.2V296.8M388.4 281.2V296.8M389.0 281.2V296.8M389.5 281.2V296.8M392.7 281.2V296.8M393.4 281.2V296.8M394.3 281.2V296.8M395.9 281.2V296.8M395.9 281.2V296.8M399.6 281.2V296.8M402.1 281.2V296.8M404.1 281.2V296.8M404.3 281.2V296.8M406.9 281.2V296.8M409.4 281.2V296.8M409.8 281.2V296.8M410.9 281.2V296.8M412.1 281.2V296.8M412.8 281.2V296.8M416.8 281.2V296.8M417.3 281.2V296.8M418.0 281.2V296.8" stroke="#2c2c2c" stroke-width="0.5" fill="none"/>
<path d="M407.8 281.2V296.8M409.7 281.2V296.8M410.0 281.2V296.8M410.4 281.2V296.8M411.0 281.2V296.8M411.0 281.2V296.8M412.0 281.2V296.8M415.6 281.2V296.8M417.1 281.2V296.8M417.2 281.2V296.8M417.3 281.2V296.8M417.8 281.2V296.8M417.9 281.2V296.8M418.2 281.2V296.8M418.4 281.2V296.8M419.3 281.2V296.8M419.6 281.2V296.8M419.6 281.2V296.8" stroke="#000000" stroke-width="0.5" fill="none"/>
<rect x="323.4" y="296.8" width="97.4" height="3.5" fill="url(#rb)"/>
<rect x="436" y="223.2" width="119.5" height="75.3" fill="#efefef"/>
<rect x="450.5" y="236" width="103.6" height="62.1" fill="#fff"/>
<line x1="460.34" y1="236" x2="460.34" y2="297.7" stroke="#eeeeee" stroke-width="0.3"/>
<line x1="470.18" y1="236" x2="470.18" y2="297.7" stroke="#eeeeee" stroke-width="0.3"/>
<line x1="480.02" y1="236" x2="480.02" y2="297.7" stroke="#eeeeee" stroke-width="0.3"/>
<line x1="489.86" y1="236" x2="489.86" y2="297.7" stroke="#eeeeee" stroke-width="0.3"/>
<line x1="499.7" y1="236" x2="499.7" y2="297.7" stroke="#eeeeee" stroke-width="0.3"/>
<line x1="509.54" y1="236" x2="509.54" y2="297.7" stroke="#eeeeee" stroke-width="0.3"/>
<line x1="519.38" y1="236" x2="519.38" y2="297.7" stroke="#eeeeee" stroke-width="0.3"/>
<line x1="529.22" y1="236" x2="529.22" y2="297.7" stroke="#eeeeee" stroke-width="0.3"/>
<line x1="539.06" y1="236" x2="539.06" y2="297.7" stroke="#eeeeee" stroke-width="0.3"/>
<text x="495.75" y="228.1" font-size="4.8" font-weight="bold" text-anchor="middle" fill="#111">Enrichment plot:</text>
<text x="495.75" y="233.7" font-size="4.8" font-weight="bold" text-anchor="middle" fill="#111">HALLMARK_OXIDATIVE_PHOSPHORYLATION</text>
<line x1="450.5" y1="236" x2="450.5" y2="280.6" stroke="#999" stroke-width="0.3"/>
<line x1="450.5" y1="238.22" x2="554.1" y2="238.22" stroke="#eeeeee" stroke-width="0.3"/>
<text x="449.3" y="239.22" font-size="3.1" text-anchor="end" fill="#333">0.0</text>
<line x1="450.5" y1="244.3" x2="554.1" y2="244.3" stroke="#eeeeee" stroke-width="0.3"/>
<text x="449.3" y="245.3" font-size="3.1" text-anchor="end" fill="#333">-0.1</text>
<line x1="450.5" y1="250.39" x2="554.1" y2="250.39" stroke="#eeeeee" stroke-width="0.3"/>
<text x="449.3" y="251.39" font-size="3.1" text-anchor="end" fill="#333">-0.2</text>
<line x1="450.5" y1="256.47" x2="554.1" y2="256.47" stroke="#eeeeee" stroke-width="0.3"/>
<text x="449.3" y="257.47" font-size="3.1" text-anchor="end" fill="#333">-0.3</text>
<line x1="450.5" y1="262.56" x2="554.1" y2="262.56" stroke="#eeeeee" stroke-width="0.3"/>
<text x="449.3" y="263.56" font-size="3.1" text-anchor="end" fill="#333">-0.4</text>
<line x1="450.5" y1="268.65" x2="554.1" y2="268.65" stroke="#eeeeee" stroke-width="0.3"/>
<text x="449.3" y="269.65" font-size="3.1" text-anchor="end" fill="#333">-0.5</text>
<line x1="450.5" y1="274.73" x2="554.1" y2="274.73" stroke="#eeeeee" stroke-width="0.3"/>
<text x="449.3" y="275.73" font-size="3.1" text-anchor="end" fill="#333">-0.6</text>
<line x1="450.5" y1="238.22" x2="554.1" y2="238.22" stroke="#aaa" stroke-width="0.35"/>
<text x="441.6" y="258.3" font-size="4.1" text-anchor="middle" fill="#444" transform="rotate(-90 441.6 258.3)">Enrichment score (ES)</text>
<path d="M450.5 237.5 L451.6 239.1 L452.7 239.5 L453.8 240.3 L454.9 240.8 L456.0 242.2 L457.1 242.6 L458.2 243.4 L459.2 244.2 L460.3 244.8 L461.4 245.4 L462.5 246.0 L463.6 246.8 L464.7 247.1 L465.8 248.1 L466.9 249.5 L468.0 248.8 L469.1 250.0 L470.2 250.7 L471.3 251.1 L472.4 251.7 L473.5 252.4 L474.6 253.3 L475.6 253.6 L476.7 254.7 L477.8 254.4 L478.9 255.9 L480.0 256.1 L481.1 256.7 L482.2 257.2 L483.3 257.9 L484.4 258.3 L485.5 260.1 L486.6 259.6 L487.7 260.2 L488.8 260.8 L489.9 260.8 L491.0 262.1 L492.0 262.4 L493.1 263.5 L494.2 263.3 L495.3 264.4 L496.4 264.9 L497.5 264.2 L498.6 265.2 L499.7 265.9 L500.8 266.4 L501.9 267.3 L503.0 267.7 L504.1 267.7 L505.2 269.0 L506.3 268.7 L507.4 269.7 L508.4 269.6 L509.5 270.4 L510.6 269.9 L511.7 270.6 L512.8 271.5 L513.9 272.3 L515.0 272.3 L516.1 272.5 L517.2 273.2 L518.3 273.1 L519.4 273.2 L520.5 273.9 L521.6 274.4 L522.7 274.3 L523.8 274.9 L524.8 274.9 L525.9 275.5 L527.0 275.2 L528.1 276.0 L529.2 276.5 L530.3 276.4 L531.4 276.8 L532.5 277.1 L533.6 277.0 L534.7 276.9 L535.8 277.9 L536.9 277.1 L538.0 276.4 L539.1 275.2 L540.2 273.1 L541.2 271.3 L542.3 267.8 L543.4 264.5 L544.5 260.3 L545.6 255.7 L546.7 250.5 L547.8 244.8 L548.9 238.1" fill="none" stroke="#3fe82a" stroke-width="0.95"/>
<line x1="450.5" y1="280.6" x2="554.1" y2="280.6" stroke="#ccc" stroke-width="0.3"/>
<path d="M453.2 280.9V294.9M457.1 280.9V294.9M457.7 280.9V294.9M462.5 280.9V294.9M463.5 280.9V294.9M466.4 280.9V294.9M466.5 280.9V294.9M470.4 280.9V294.9M473.9 280.9V294.9" stroke="#cccccc" stroke-width="0.5" fill="none"/>
<path d="M463.0 280.9V294.9M463.5 280.9V294.9M475.6 280.9V294.9M479.5 280.9V294.9M479.7 280.9V294.9M481.8 280.9V294.9M481.9 280.9V294.9M483.5 280.9V294.9M487.5 280.9V294.9M488.9 280.9V294.9M490.7 280.9V294.9M496.5 280.9V294.9M497.3 280.9V294.9M504.1 280.9V294.9" stroke="#acacac" stroke-width="0.5" fill="none"/>
<path d="M464.3 280.9V294.9M471.3 280.9V294.9M474.2 280.9V294.9M491.8 280.9V294.9M491.9 280.9V294.9M493.2 280.9V294.9M493.9 280.9V294.9M498.3 280.9V294.9M508.2 280.9V294.9M510.6 280.9V294.9M511.5 280.9V294.9M512.8 280.9V294.9M514.4 280.9V294.9M516.4 280.9V294.9M519.9 280.9V294.9" stroke="#8c8c8c" stroke-width="0.5" fill="none"/>
<path d="M485.0 280.9V294.9M487.9 280.9V294.9M493.5 280.9V294.9M495.5 280.9V294.9M496.1 280.9V294.9M497.6 280.9V294.9M498.6 280.9V294.9M499.5 280.9V294.9M503.4 280.9V294.9M505.5 280.9V294.9M506.5 280.9V294.9M516.9 280.9V294.9M518.7 280.9V294.9M521.1 280.9V294.9M521.4 280.9V294.9M522.3 280.9V294.9" stroke="#6c6c6c" stroke-width="0.5" fill="none"/>
<path d="M502.1 280.9V294.9M502.1 280.9V294.9M502.2 280.9V294.9M502.3 280.9V294.9M506.9 280.9V294.9M509.4 280.9V294.9M510.6 280.9V294.9M512.2 280.9V294.9M512.4 280.9V294.9M516.5 280.9V294.9M517.5 280.9V294.9M517.9 280.9V294.9M520.3 280.9V294.9M526.0 280.9V294.9M527.7 280.9V294.9M528.7 280.9V294.9M529.1 280.9V294.9M532.9 280.9V294.9M533.2 280.9V294.9M533.7 280.9V294.9M534.2 280.9V294.9M536.5 280.9V294.9M537.1 280.9V294.9M537.4 280.9V294.9M537.6 280.9V294.9M538.4 280.9V294.9M539.3 280.9V294.9M540.5 280.9V294.9" stroke="#4c4c4c" stroke-width="0.5" fill="none"/>
<path d="M515.5 280.9V294.9M517.6 280.9V294.9M518.5 280.9V294.9M519.9 280.9V294.9M523.6 280.9V294.9M524.7 280.9V294.9M526.1 280.9V294.9M528.8 280.9V294.9M529.5 280.9V294.9M534.3 280.9V294.9M536.2 280.9V294.9M536.6 280.9V294.9M537.3 280.9V294.9M540.5 280.9V294.9M541.2 280.9V294.9M541.4 280.9V294.9M541.6 280.9V294.9M543.3 280.9V294.9M543.9 280.9V294.9M544.7 280.9V294.9M547.6 280.9V294.9M548.4 280.9V294.9" stroke="#2c2c2c" stroke-width="0.5" fill="none"/>
<path d="M522.8 280.9V294.9M527.5 280.9V294.9M529.0 280.9V294.9M530.5 280.9V294.9M532.8 280.9V294.9M532.8 280.9V294.9M533.2 280.9V294.9M534.5 280.9V294.9M536.2 280.9V294.9M541.2 280.9V294.9M541.6 280.9V294.9M542.0 280.9V294.9M544.0 280.9V294.9M545.3 280.9V294.9M545.6 280.9V294.9M546.0 280.9V294.9M546.7 280.9V294.9M547.3 280.9V294.9M547.8 280.9V294.9M547.9 280.9V294.9M548.7 280.9V294.9" stroke="#000000" stroke-width="0.5" fill="none"/>
<rect x="450.5" y="294.9" width="98.4" height="2.8" fill="url(#rb)"/>
<rect x="561.1" y="222.4" width="118.4" height="75.6" fill="#efefef"/>
<rect x="575.2" y="231.9" width="103.4" height="66.1" fill="#fff"/>
<line x1="585.05" y1="231.9" x2="585.05" y2="297.6" stroke="#eeeeee" stroke-width="0.3"/>
<line x1="594.9" y1="231.9" x2="594.9" y2="297.6" stroke="#eeeeee" stroke-width="0.3"/>
<line x1="604.75" y1="231.9" x2="604.75" y2="297.6" stroke="#eeeeee" stroke-width="0.3"/>
<line x1="614.6" y1="231.9" x2="614.6" y2="297.6" stroke="#eeeeee" stroke-width="0.3"/>
<line x1="624.45" y1="231.9" x2="624.45" y2="297.6" stroke="#eeeeee" stroke-width="0.3"/>
<line x1="634.3" y1="231.9" x2="634.3" y2="297.6" stroke="#eeeeee" stroke-width="0.3"/>
<line x1="644.15" y1="231.9" x2="644.15" y2="297.6" stroke="#eeeeee" stroke-width="0.3"/>
<line x1="654" y1="231.9" x2="654" y2="297.6" stroke="#eeeeee" stroke-width="0.3"/>
<line x1="663.85" y1="231.9" x2="663.85" y2="297.6" stroke="#eeeeee" stroke-width="0.3"/>
<text x="620.3" y="227.3" font-size="4.8" font-weight="bold" text-anchor="middle" fill="#111">Enrichment plot: HALLMARK_MYC_TARGETS_V1</text>
<line x1="575.2" y1="231.9" x2="575.2" y2="278.7" stroke="#999" stroke-width="0.3"/>
<line x1="575.2" y1="234.3" x2="678.6" y2="234.3" stroke="#eeeeee" stroke-width="0.3"/>
<text x="574" y="235.3" font-size="3.1" text-anchor="end" fill="#333">0.0</text>
<line x1="575.2" y1="241.3" x2="678.6" y2="241.3" stroke="#eeeeee" stroke-width="0.3"/>
<text x="574" y="242.3" font-size="3.1" text-anchor="end" fill="#333">-0.1</text>
<line x1="575.2" y1="248.3" x2="678.6" y2="248.3" stroke="#eeeeee" stroke-width="0.3"/>
<text x="574" y="249.3" font-size="3.1" text-anchor="end" fill="#333">-0.2</text>
<line x1="575.2" y1="255.3" x2="678.6" y2="255.3" stroke="#eeeeee" stroke-width="0.3"/>
<text x="574" y="256.3" font-size="3.1" text-anchor="end" fill="#333">-0.3</text>
<line x1="575.2" y1="262.3" x2="678.6" y2="262.3" stroke="#eeeeee" stroke-width="0.3"/>
<text x="574" y="263.3" font-size="3.1" text-anchor="end" fill="#333">-0.4</text>
<line x1="575.2" y1="269.3" x2="678.6" y2="269.3" stroke="#eeeeee" stroke-width="0.3"/>
<text x="574" y="270.3" font-size="3.1" text-anchor="end" fill="#333">-0.5</text>
<line x1="575.2" y1="234.3" x2="678.6" y2="234.3" stroke="#aaa" stroke-width="0.35"/>
<text x="566.7" y="255.3" font-size="4.1" text-anchor="middle" fill="#444" transform="rotate(-90 566.7 255.3)">Enrichment score (ES)</text>
<path d="M575.2 234.3 L576.3 234.7 L577.4 236.2 L578.5 236.4 L579.6 237.6 L580.7 238.4 L581.8 238.4 L582.9 239.8 L584.0 240.6 L585.1 241.1 L586.1 241.7 L587.2 242.9 L588.3 243.4 L589.4 244.7 L590.5 245.2 L591.6 246.0 L592.7 247.0 L593.8 247.8 L594.9 248.6 L596.0 248.8 L597.1 249.5 L598.2 250.2 L599.3 250.8 L600.4 251.9 L601.5 252.2 L602.6 252.7 L603.7 253.2 L604.8 254.4 L605.8 254.9 L606.9 256.1 L608.0 256.3 L609.1 257.5 L610.2 257.8 L611.3 257.6 L612.4 259.3 L613.5 258.9 L614.6 259.7 L615.7 260.5 L616.8 260.8 L617.9 261.3 L619.0 261.7 L620.1 262.7 L621.2 263.4 L622.3 264.0 L623.4 264.6 L624.5 264.8 L625.5 265.6 L626.6 265.5 L627.7 267.0 L628.8 267.2 L629.9 267.7 L631.0 268.5 L632.1 267.6 L633.2 269.6 L634.3 269.3 L635.4 269.8 L636.5 269.4 L637.6 271.1 L638.7 270.5 L639.8 271.5 L640.9 271.7 L642.0 272.2 L643.1 272.1 L644.2 273.1 L645.2 273.0 L646.3 273.2 L647.4 272.9 L648.5 274.7 L649.6 273.6 L650.7 274.0 L651.8 274.7 L652.9 274.6 L654.0 275.0 L655.1 274.3 L656.2 274.3 L657.3 273.6 L658.4 272.3 L659.5 270.8 L660.6 269.1 L661.7 267.4 L662.8 264.2 L663.9 263.3 L664.9 261.4 L666.0 257.5 L667.1 254.6 L668.2 251.4 L669.3 248.5 L670.4 245.1 L671.5 241.5 L672.6 237.7 L673.7 234.5" fill="none" stroke="#3fe82a" stroke-width="0.95"/>
<line x1="575.2" y1="278.7" x2="678.6" y2="278.7" stroke="#ccc" stroke-width="0.3"/>
<path d="M578.8 279.0V293.8M581.1 279.0V293.8M585.0 279.0V293.8M586.0 279.0V293.8M586.3 279.0V293.8M589.9 279.0V293.8M590.6 279.0V293.8M592.6 279.0V293.8M592.8 279.0V293.8M597.6 279.0V293.8M600.7 279.0V293.8M614.3 279.0V293.8" stroke="#cccccc" stroke-width="0.5" fill="none"/>
<path d="M578.2 279.0V293.8M596.8 279.0V293.8M598.2 279.0V293.8M606.2 279.0V293.8M607.6 279.0V293.8M609.9 279.0V293.8" stroke="#acacac" stroke-width="0.5" fill="none"/>
<path d="M587.7 279.0V293.8M591.8 279.0V293.8M598.9 279.0V293.8M599.0 279.0V293.8M604.8 279.0V293.8M609.2 279.0V293.8M610.6 279.0V293.8M612.9 279.0V293.8M616.4 279.0V293.8M620.6 279.0V293.8M620.6 279.0V293.8M627.4 279.0V293.8M632.0 279.0V293.8M637.3 279.0V293.8M639.8 279.0V293.8M640.7 279.0V293.8" stroke="#8c8c8c" stroke-width="0.5" fill="none"/>
<path d="M609.3 279.0V293.8M619.6 279.0V293.8M622.5 279.0V293.8M632.3 279.0V293.8M633.5 279.0V293.8M637.5 279.0V293.8M638.8 279.0V293.8M643.6 279.0V293.8M646.8 279.0V293.8M646.9 279.0V293.8M649.5 279.0V293.8M651.2 279.0V293.8M652.2 279.0V293.8" stroke="#6c6c6c" stroke-width="0.5" fill="none"/>
<path d="M623.0 279.0V293.8M627.9 279.0V293.8M631.2 279.0V293.8M632.8 279.0V293.8M633.0 279.0V293.8M633.1 279.0V293.8M633.6 279.0V293.8M633.9 279.0V293.8M636.6 279.0V293.8M636.6 279.0V293.8M639.0 279.0V293.8M639.2 279.0V293.8M640.4 279.0V293.8M640.5 279.0V293.8M643.7 279.0V293.8M644.1 279.0V293.8M645.2 279.0V293.8M646.2 279.0V293.8M649.8 279.0V293.8M651.3 279.0V293.8M654.7 279.0V293.8M655.7 279.0V293.8M656.3 279.0V293.8M658.3 279.0V293.8M661.1 279.0V293.8M663.9 279.0V293.8M664.7 279.0V293.8M666.8 279.0V293.8M667.4 279.0V293.8" stroke="#4c4c4c" stroke-width="0.5" fill="none"/>
<path d="M634.0 279.0V293.8M645.7 279.0V293.8M646.0 279.0V293.8M646.2 279.0V293.8M646.8 279.0V293.8M647.0 279.0V293.8M647.4 279.0V293.8M647.5 279.0V293.8M647.6 279.0V293.8M649.8 279.0V293.8M653.1 279.0V293.8M653.4 279.0V293.8M655.4 279.0V293.8M656.1 279.0V293.8M657.3 279.0V293.8M657.6 279.0V293.8M658.9 279.0V293.8M659.9 279.0V293.8M661.1 279.0V293.8M663.5 279.0V293.8M666.5 279.0V293.8M666.7 279.0V293.8M669.0 279.0V293.8M669.1 279.0V293.8M671.0 279.0V293.8" stroke="#2c2c2c" stroke-width="0.5" fill="none"/>
<path d="M647.9 279.0V293.8M651.5 279.0V293.8M651.7 279.0V293.8M654.4 279.0V293.8M657.8 279.0V293.8M659.3 279.0V293.8M660.2 279.0V293.8M663.8 279.0V293.8M665.5 279.0V293.8M667.3 279.0V293.8M667.7 279.0V293.8M669.3 279.0V293.8M669.3 279.0V293.8M669.8 279.0V293.8M669.9 279.0V293.8M670.5 279.0V293.8M670.7 279.0V293.8M671.4 279.0V293.8M671.5 279.0V293.8" stroke="#000000" stroke-width="0.5" fill="none"/>
<rect x="575.2" y="293.8" width="98.5" height="3.8" fill="url(#rb)"/>
<rect x="307.8" y="304.3" width="119.7" height="75" fill="#efefef"/>
<rect x="321.8" y="316.4" width="103.9" height="62.8" fill="#fff"/>
<line x1="331.7" y1="316.4" x2="331.7" y2="378.8" stroke="#eeeeee" stroke-width="0.3"/>
<line x1="341.6" y1="316.4" x2="341.6" y2="378.8" stroke="#eeeeee" stroke-width="0.3"/>
<line x1="351.5" y1="316.4" x2="351.5" y2="378.8" stroke="#eeeeee" stroke-width="0.3"/>
<line x1="361.4" y1="316.4" x2="361.4" y2="378.8" stroke="#eeeeee" stroke-width="0.3"/>
<line x1="371.3" y1="316.4" x2="371.3" y2="378.8" stroke="#eeeeee" stroke-width="0.3"/>
<line x1="381.2" y1="316.4" x2="381.2" y2="378.8" stroke="#eeeeee" stroke-width="0.3"/>
<line x1="391.1" y1="316.4" x2="391.1" y2="378.8" stroke="#eeeeee" stroke-width="0.3"/>
<line x1="401" y1="316.4" x2="401" y2="378.8" stroke="#eeeeee" stroke-width="0.3"/>
<line x1="410.9" y1="316.4" x2="410.9" y2="378.8" stroke="#eeeeee" stroke-width="0.3"/>
<text x="367.65" y="309.2" font-size="4.8" font-weight="bold" text-anchor="middle" fill="#111">Enrichment plot:</text>
<text x="367.65" y="314.8" font-size="4.8" font-weight="bold" text-anchor="middle" fill="#111">HALLMARK_INFLAMMATORY_RESPONSE</text>
<line x1="321.8" y1="316.4" x2="321.8" y2="360.6" stroke="#999" stroke-width="0.3"/>
<line x1="321.8" y1="322.93" x2="425.7" y2="322.93" stroke="#eeeeee" stroke-width="0.3"/>
<text x="320.6" y="323.93" font-size="3.1" text-anchor="end" fill="#333">0.5</text>
<line x1="321.8" y1="329.85" x2="425.7" y2="329.85" stroke="#eeeeee" stroke-width="0.3"/>
<text x="320.6" y="330.85" font-size="3.1" text-anchor="end" fill="#333">0.4</text>
<line x1="321.8" y1="336.77" x2="425.7" y2="336.77" stroke="#eeeeee" stroke-width="0.3"/>
<text x="320.6" y="337.77" font-size="3.1" text-anchor="end" fill="#333">0.3</text>
<line x1="321.8" y1="343.69" x2="425.7" y2="343.69" stroke="#eeeeee" stroke-width="0.3"/>
<text x="320.6" y="344.69" font-size="3.1" text-anchor="end" fill="#333">0.2</text>
<line x1="321.8" y1="350.61" x2="425.7" y2="350.61" stroke="#eeeeee" stroke-width="0.3"/>
<text x="320.6" y="351.61" font-size="3.1" text-anchor="end" fill="#333">0.1</text>
<line x1="321.8" y1="357.52" x2="425.7" y2="357.52" stroke="#eeeeee" stroke-width="0.3"/>
<text x="320.6" y="358.52" font-size="3.1" text-anchor="end" fill="#333">0.0</text>
<line x1="321.8" y1="357.52" x2="425.7" y2="357.52" stroke="#aaa" stroke-width="0.35"/>
<text x="313.4" y="338.5" font-size="4.1" text-anchor="middle" fill="#444" transform="rotate(-90 313.4 338.5)">Enrichment score (ES)</text>
<path d="M321.8 357.5 L322.9 341.1 L324.0 332.2 L325.1 326.5 L326.2 323.3 L327.3 321.7 L328.4 320.3 L329.5 320.6 L330.6 319.9 L331.7 320.0 L332.8 319.9 L333.9 319.6 L335.0 319.4 L336.1 319.4 L337.2 319.3 L338.3 318.7 L339.4 319.2 L340.5 320.0 L341.6 319.4 L342.7 319.9 L343.8 320.1 L344.9 319.7 L346.0 320.6 L347.1 321.5 L348.2 321.1 L349.3 321.6 L350.4 322.3 L351.5 322.6 L352.6 322.9 L353.7 323.1 L354.8 323.7 L355.9 323.9 L357.0 323.8 L358.1 325.1 L359.2 325.6 L360.3 325.8 L361.4 325.8 L362.5 326.9 L363.6 326.7 L364.7 328.1 L365.8 328.5 L366.9 328.6 L368.0 329.4 L369.1 329.8 L370.2 330.0 L371.3 330.4 L372.4 331.1 L373.5 331.8 L374.6 331.7 L375.7 332.6 L376.8 333.4 L377.9 333.4 L379.0 334.7 L380.1 334.9 L381.2 335.2 L382.3 336.0 L383.4 336.8 L384.5 337.0 L385.6 337.9 L386.7 338.5 L387.8 339.2 L388.9 339.0 L390.0 340.2 L391.1 340.2 L392.2 341.1 L393.3 341.9 L394.4 342.2 L395.5 342.9 L396.6 343.6 L397.7 344.7 L398.8 344.8 L399.9 345.1 L401.0 345.9 L402.1 346.3 L403.2 346.8 L404.3 347.7 L405.4 347.8 L406.5 349.7 L407.6 349.9 L408.7 351.3 L409.8 351.5 L410.9 352.3 L412.0 352.3 L413.1 353.6 L414.2 354.8 L415.3 354.2 L416.4 355.7 L417.5 356.2 L418.6 356.4 L419.7 356.7 L420.8 357.7" fill="none" stroke="#3fe82a" stroke-width="0.95"/>
<line x1="321.8" y1="360.6" x2="425.7" y2="360.6" stroke="#ccc" stroke-width="0.3"/>
<path d="M382.1 360.9V375.5M390.8 360.9V375.5M392.9 360.9V375.5M401.9 360.9V375.5M405.3 360.9V375.5M408.3 360.9V375.5M408.6 360.9V375.5M411.6 360.9V375.5M412.3 360.9V375.5M415.6 360.9V375.5M416.2 360.9V375.5M416.5 360.9V375.5M417.7 360.9V375.5M418.7 360.9V375.5M419.6 360.9V375.5M420.6 360.9V375.5" stroke="#cccccc" stroke-width="0.5" fill="none"/>
<path d="M371.6 360.9V375.5M373.6 360.9V375.5M375.3 360.9V375.5M375.7 360.9V375.5M378.2 360.9V375.5M379.9 360.9V375.5M380.9 360.9V375.5M383.4 360.9V375.5M403.7 360.9V375.5M419.8 360.9V375.5" stroke="#acacac" stroke-width="0.5" fill="none"/>
<path d="M363.5 360.9V375.5M365.6 360.9V375.5M383.2 360.9V375.5M384.6 360.9V375.5M405.3 360.9V375.5M417.5 360.9V375.5" stroke="#8c8c8c" stroke-width="0.5" fill="none"/>
<path d="M337.2 360.9V375.5M341.2 360.9V375.5M342.4 360.9V375.5M343.4 360.9V375.5M347.3 360.9V375.5M351.2 360.9V375.5M351.3 360.9V375.5M351.9 360.9V375.5M360.7 360.9V375.5M363.1 360.9V375.5M367.7 360.9V375.5M369.7 360.9V375.5M381.6 360.9V375.5M387.9 360.9V375.5" stroke="#6c6c6c" stroke-width="0.5" fill="none"/>
<path d="M325.2 360.9V375.5M331.0 360.9V375.5M331.1 360.9V375.5M332.4 360.9V375.5M335.3 360.9V375.5M335.5 360.9V375.5M335.8 360.9V375.5M336.9 360.9V375.5M338.7 360.9V375.5M339.7 360.9V375.5M340.0 360.9V375.5M347.3 360.9V375.5M350.1 360.9V375.5M352.5 360.9V375.5M352.6 360.9V375.5M353.9 360.9V375.5M354.7 360.9V375.5M365.1 360.9V375.5M369.7 360.9V375.5M373.7 360.9V375.5M373.9 360.9V375.5M375.6 360.9V375.5" stroke="#4c4c4c" stroke-width="0.5" fill="none"/>
<path d="M324.1 360.9V375.5M325.9 360.9V375.5M329.9 360.9V375.5M331.0 360.9V375.5M333.1 360.9V375.5M333.2 360.9V375.5M335.4 360.9V375.5M339.3 360.9V375.5M339.6 360.9V375.5M342.2 360.9V375.5M342.5 360.9V375.5M342.8 360.9V375.5M345.4 360.9V375.5M346.5 360.9V375.5M349.9 360.9V375.5M351.5 360.9V375.5M351.6 360.9V375.5M354.6 360.9V375.5M357.7 360.9V375.5M360.1 360.9V375.5" stroke="#2c2c2c" stroke-width="0.5" fill="none"/>
<path d="M321.9 360.9V375.5M322.4 360.9V375.5M322.8 360.9V375.5M324.5 360.9V375.5M324.8 360.9V375.5M324.9 360.9V375.5M324.9 360.9V375.5M325.2 360.9V375.5M325.5 360.9V375.5M325.6 360.9V375.5M325.8 360.9V375.5M328.2 360.9V375.5M328.9 360.9V375.5M335.0 360.9V375.5M335.5 360.9V375.5M336.5 360.9V375.5M338.2 360.9V375.5M338.5 360.9V375.5M341.3 360.9V375.5M342.4 360.9V375.5M345.7 360.9V375.5" stroke="#000000" stroke-width="0.5" fill="none"/>
<rect x="321.8" y="375.5" width="99" height="3.3" fill="url(#rb)"/>
<rect x="436.2" y="304.3" width="119.3" height="75" fill="#efefef"/>
<rect x="450.8" y="316.2" width="103.5" height="62.8" fill="#fff"/>
<line x1="460.65" y1="316.2" x2="460.65" y2="378.6" stroke="#eeeeee" stroke-width="0.3"/>
<line x1="470.5" y1="316.2" x2="470.5" y2="378.6" stroke="#eeeeee" stroke-width="0.3"/>
<line x1="480.35" y1="316.2" x2="480.35" y2="378.6" stroke="#eeeeee" stroke-width="0.3"/>
<line x1="490.2" y1="316.2" x2="490.2" y2="378.6" stroke="#eeeeee" stroke-width="0.3"/>
<line x1="500.05" y1="316.2" x2="500.05" y2="378.6" stroke="#eeeeee" stroke-width="0.3"/>
<line x1="509.9" y1="316.2" x2="509.9" y2="378.6" stroke="#eeeeee" stroke-width="0.3"/>
<line x1="519.75" y1="316.2" x2="519.75" y2="378.6" stroke="#eeeeee" stroke-width="0.3"/>
<line x1="529.6" y1="316.2" x2="529.6" y2="378.6" stroke="#eeeeee" stroke-width="0.3"/>
<line x1="539.45" y1="316.2" x2="539.45" y2="378.6" stroke="#eeeeee" stroke-width="0.3"/>
<text x="495.85" y="309.2" font-size="4.8" font-weight="bold" text-anchor="middle" fill="#111">Enrichment plot:</text>
<text x="495.85" y="314.8" font-size="4.8" font-weight="bold" text-anchor="middle" fill="#111">HALLMARK_INTERFERON_ALPHA_RESPONSE</text>
<line x1="450.8" y1="316.2" x2="450.8" y2="360" stroke="#999" stroke-width="0.3"/>
<line x1="450.8" y1="318.35" x2="554.3" y2="318.35" stroke="#eeeeee" stroke-width="0.3"/>
<text x="449.6" y="319.35" font-size="3.1" text-anchor="end" fill="#333">0.7</text>
<line x1="450.8" y1="324.07" x2="554.3" y2="324.07" stroke="#eeeeee" stroke-width="0.3"/>
<text x="449.6" y="325.07" font-size="3.1" text-anchor="end" fill="#333">0.6</text>
<line x1="450.8" y1="329.8" x2="554.3" y2="329.8" stroke="#eeeeee" stroke-width="0.3"/>
<text x="449.6" y="330.8" font-size="3.1" text-anchor="end" fill="#333">0.5</text>
<line x1="450.8" y1="335.52" x2="554.3" y2="335.52" stroke="#eeeeee" stroke-width="0.3"/>
<text x="449.6" y="336.52" font-size="3.1" text-anchor="end" fill="#333">0.4</text>
<line x1="450.8" y1="341.25" x2="554.3" y2="341.25" stroke="#eeeeee" stroke-width="0.3"/>
<text x="449.6" y="342.25" font-size="3.1" text-anchor="end" fill="#333">0.3</text>
<line x1="450.8" y1="346.98" x2="554.3" y2="346.98" stroke="#eeeeee" stroke-width="0.3"/>
<text x="449.6" y="347.98" font-size="3.1" text-anchor="end" fill="#333">0.2</text>
<line x1="450.8" y1="352.7" x2="554.3" y2="352.7" stroke="#eeeeee" stroke-width="0.3"/>
<text x="449.6" y="353.7" font-size="3.1" text-anchor="end" fill="#333">0.1</text>
<line x1="450.8" y1="358.43" x2="554.3" y2="358.43" stroke="#eeeeee" stroke-width="0.3"/>
<text x="449.6" y="359.43" font-size="3.1" text-anchor="end" fill="#333">0.0</text>
<line x1="450.8" y1="358.43" x2="554.3" y2="358.43" stroke="#aaa" stroke-width="0.35"/>
<text x="441.8" y="338.1" font-size="4.1" text-anchor="middle" fill="#444" transform="rotate(-90 441.8 338.1)">Enrichment score (ES)</text>
<path d="M450.8 358.8 L451.9 341.7 L453.0 331.3 L454.1 326.6 L455.2 322.7 L456.3 321.5 L457.4 319.5 L458.5 319.1 L459.6 318.4 L460.6 318.8 L461.7 318.4 L462.8 318.5 L463.9 318.8 L465.0 318.8 L466.1 319.4 L467.2 319.5 L468.3 319.5 L469.4 320.0 L470.5 320.5 L471.6 320.1 L472.7 321.0 L473.8 321.6 L474.9 321.8 L476.0 322.4 L477.1 322.7 L478.2 323.1 L479.3 322.9 L480.4 323.9 L481.4 324.2 L482.5 324.5 L483.6 324.6 L484.7 325.7 L485.8 326.2 L486.9 325.8 L488.0 327.4 L489.1 327.6 L490.2 327.7 L491.3 327.7 L492.4 329.2 L493.5 330.1 L494.6 329.7 L495.7 330.5 L496.8 331.0 L497.9 331.2 L499.0 331.8 L500.0 332.3 L501.1 333.0 L502.2 333.0 L503.3 333.5 L504.4 334.4 L505.5 335.1 L506.6 335.3 L507.7 335.9 L508.8 336.9 L509.9 337.3 L511.0 337.4 L512.1 338.3 L513.2 338.9 L514.3 339.3 L515.4 339.9 L516.5 340.5 L517.6 341.6 L518.7 341.1 L519.8 342.1 L520.8 343.0 L521.9 343.0 L523.0 343.8 L524.1 344.4 L525.2 344.7 L526.3 345.0 L527.4 346.0 L528.5 346.3 L529.6 346.8 L530.7 348.3 L531.8 348.7 L532.9 349.0 L534.0 350.3 L535.1 350.5 L536.2 350.6 L537.3 351.9 L538.4 352.6 L539.4 353.9 L540.5 353.2 L541.6 354.3 L542.7 354.8 L543.8 355.4 L544.9 356.6 L546.0 357.1 L547.1 357.6 L548.2 357.3 L549.3 358.7" fill="none" stroke="#3fe82a" stroke-width="0.95"/>
<line x1="450.8" y1="360" x2="554.3" y2="360" stroke="#ccc" stroke-width="0.3"/>
<path d="M509.5 360.3V375.1M519.9 360.3V375.1M519.9 360.3V375.1M522.7 360.3V375.1M531.6 360.3V375.1M533.4 360.3V375.1M543.9 360.3V375.1" stroke="#cccccc" stroke-width="0.5" fill="none"/>
<path d="M492.1 360.3V375.1M506.2 360.3V375.1M509.5 360.3V375.1M511.4 360.3V375.1M515.3 360.3V375.1M516.2 360.3V375.1M528.4 360.3V375.1M532.2 360.3V375.1M537.3 360.3V375.1M537.5 360.3V375.1M540.5 360.3V375.1M541.0 360.3V375.1" stroke="#acacac" stroke-width="0.5" fill="none"/>
<path d="M477.2 360.3V375.1M479.8 360.3V375.1M488.8 360.3V375.1M490.3 360.3V375.1M491.2 360.3V375.1M498.1 360.3V375.1M508.0 360.3V375.1M512.0 360.3V375.1M512.9 360.3V375.1M521.5 360.3V375.1M521.8 360.3V375.1M522.6 360.3V375.1M530.8 360.3V375.1M546.9 360.3V375.1" stroke="#8c8c8c" stroke-width="0.5" fill="none"/>
<path d="M465.5 360.3V375.1M466.7 360.3V375.1M470.2 360.3V375.1M470.7 360.3V375.1M471.4 360.3V375.1M474.2 360.3V375.1M475.0 360.3V375.1M478.9 360.3V375.1M481.1 360.3V375.1M483.3 360.3V375.1M483.4 360.3V375.1M486.7 360.3V375.1M487.2 360.3V375.1M487.6 360.3V375.1M487.6 360.3V375.1M487.7 360.3V375.1M488.9 360.3V375.1M493.3 360.3V375.1M496.2 360.3V375.1M499.2 360.3V375.1M501.7 360.3V375.1M503.1 360.3V375.1M505.7 360.3V375.1M509.0 360.3V375.1M517.9 360.3V375.1" stroke="#6c6c6c" stroke-width="0.5" fill="none"/>
<path d="M455.2 360.3V375.1M460.5 360.3V375.1M461.4 360.3V375.1M462.4 360.3V375.1M463.6 360.3V375.1M464.1 360.3V375.1M467.5 360.3V375.1M471.9 360.3V375.1M480.0 360.3V375.1M480.4 360.3V375.1M485.7 360.3V375.1M489.9 360.3V375.1M490.9 360.3V375.1M495.7 360.3V375.1M496.7 360.3V375.1M499.1 360.3V375.1M500.0 360.3V375.1M501.9 360.3V375.1" stroke="#4c4c4c" stroke-width="0.5" fill="none"/>
<path d="M450.8 360.3V375.1M456.5 360.3V375.1M457.9 360.3V375.1M459.1 360.3V375.1M459.8 360.3V375.1M462.8 360.3V375.1M465.5 360.3V375.1M465.7 360.3V375.1M466.5 360.3V375.1M468.5 360.3V375.1M469.0 360.3V375.1M471.8 360.3V375.1M472.0 360.3V375.1M472.9 360.3V375.1M473.1 360.3V375.1M473.6 360.3V375.1M474.6 360.3V375.1M478.1 360.3V375.1M478.8 360.3V375.1M479.5 360.3V375.1M482.0 360.3V375.1M482.1 360.3V375.1M488.5 360.3V375.1M489.8 360.3V375.1" stroke="#2c2c2c" stroke-width="0.5" fill="none"/>
<path d="M450.9 360.3V375.1M450.9 360.3V375.1M451.1 360.3V375.1M451.8 360.3V375.1M452.2 360.3V375.1M453.3 360.3V375.1M453.5 360.3V375.1M453.7 360.3V375.1M454.0 360.3V375.1M454.3 360.3V375.1M455.5 360.3V375.1M456.1 360.3V375.1M460.1 360.3V375.1M460.2 360.3V375.1M461.5 360.3V375.1M463.6 360.3V375.1M466.7 360.3V375.1M474.0 360.3V375.1" stroke="#000000" stroke-width="0.5" fill="none"/>
<rect x="450.8" y="375.1" width="98.5" height="3.5" fill="url(#rb)"/>
<rect x="561.3" y="304.1" width="118.4" height="74.5" fill="#efefef"/>
<rect x="575.2" y="316.3" width="103.4" height="62.4" fill="#fff"/>
<line x1="585.05" y1="316.3" x2="585.05" y2="378.3" stroke="#eeeeee" stroke-width="0.3"/>
<line x1="594.9" y1="316.3" x2="594.9" y2="378.3" stroke="#eeeeee" stroke-width="0.3"/>
<line x1="604.75" y1="316.3" x2="604.75" y2="378.3" stroke="#eeeeee" stroke-width="0.3"/>
<line x1="614.6" y1="316.3" x2="614.6" y2="378.3" stroke="#eeeeee" stroke-width="0.3"/>
<line x1="624.45" y1="316.3" x2="624.45" y2="378.3" stroke="#eeeeee" stroke-width="0.3"/>
<line x1="634.3" y1="316.3" x2="634.3" y2="378.3" stroke="#eeeeee" stroke-width="0.3"/>
<line x1="644.15" y1="316.3" x2="644.15" y2="378.3" stroke="#eeeeee" stroke-width="0.3"/>
<line x1="654" y1="316.3" x2="654" y2="378.3" stroke="#eeeeee" stroke-width="0.3"/>
<line x1="663.85" y1="316.3" x2="663.85" y2="378.3" stroke="#eeeeee" stroke-width="0.3"/>
<text x="620.5" y="309" font-size="4.8" font-weight="bold" text-anchor="middle" fill="#111">Enrichment plot:</text>
<text x="620.5" y="314.6" font-size="4.8" font-weight="bold" text-anchor="middle" fill="#111">HALLMARK_INTERFERON_GAMMA_RESPONSE</text>
<line x1="575.2" y1="316.3" x2="575.2" y2="359.8" stroke="#999" stroke-width="0.3"/>
<line x1="575.2" y1="320.44" x2="678.6" y2="320.44" stroke="#eeeeee" stroke-width="0.3"/>
<text x="574" y="321.44" font-size="3.1" text-anchor="end" fill="#333">0.6</text>
<line x1="575.2" y1="326.73" x2="678.6" y2="326.73" stroke="#eeeeee" stroke-width="0.3"/>
<text x="574" y="327.73" font-size="3.1" text-anchor="end" fill="#333">0.5</text>
<line x1="575.2" y1="333.02" x2="678.6" y2="333.02" stroke="#eeeeee" stroke-width="0.3"/>
<text x="574" y="334.02" font-size="3.1" text-anchor="end" fill="#333">0.4</text>
<line x1="575.2" y1="339.31" x2="678.6" y2="339.31" stroke="#eeeeee" stroke-width="0.3"/>
<text x="574" y="340.31" font-size="3.1" text-anchor="end" fill="#333">0.3</text>
<line x1="575.2" y1="345.6" x2="678.6" y2="345.6" stroke="#eeeeee" stroke-width="0.3"/>
<text x="574" y="346.6" font-size="3.1" text-anchor="end" fill="#333">0.2</text>
<line x1="575.2" y1="351.88" x2="678.6" y2="351.88" stroke="#eeeeee" stroke-width="0.3"/>
<text x="574" y="352.88" font-size="3.1" text-anchor="end" fill="#333">0.1</text>
<line x1="575.2" y1="358.17" x2="678.6" y2="358.17" stroke="#eeeeee" stroke-width="0.3"/>
<text x="574" y="359.17" font-size="3.1" text-anchor="end" fill="#333">0.0</text>
<line x1="575.2" y1="358.17" x2="678.6" y2="358.17" stroke="#aaa" stroke-width="0.35"/>
<text x="566.9" y="338.05" font-size="4.1" text-anchor="middle" fill="#444" transform="rotate(-90 566.9 338.05)">Enrichment score (ES)</text>
<path d="M575.2 358.0 L576.3 341.8 L577.4 331.8 L578.5 326.0 L579.6 322.4 L580.7 321.0 L581.8 320.5 L582.9 319.3 L584.0 319.4 L585.1 318.4 L586.1 318.8 L587.2 318.1 L588.3 318.6 L589.4 318.9 L590.5 319.0 L591.6 318.7 L592.7 318.4 L593.8 318.2 L594.9 318.5 L596.0 319.0 L597.1 318.8 L598.2 319.8 L599.3 319.5 L600.4 320.2 L601.5 319.9 L602.6 320.4 L603.7 321.0 L604.8 321.8 L605.8 321.7 L606.9 322.2 L608.0 322.9 L609.1 323.4 L610.2 323.3 L611.3 324.3 L612.4 324.5 L613.5 324.6 L614.6 326.0 L615.7 325.5 L616.8 326.2 L617.9 327.3 L619.0 327.9 L620.1 328.5 L621.2 328.3 L622.3 329.9 L623.4 329.4 L624.5 330.1 L625.5 330.9 L626.6 331.4 L627.7 331.9 L628.8 332.4 L629.9 332.7 L631.0 333.8 L632.1 333.7 L633.2 334.3 L634.3 335.3 L635.4 335.6 L636.5 336.5 L637.6 336.9 L638.7 337.4 L639.8 337.5 L640.9 338.8 L642.0 339.4 L643.1 340.0 L644.2 340.6 L645.2 341.5 L646.3 341.2 L647.4 342.6 L648.5 343.2 L649.6 343.9 L650.7 344.1 L651.8 344.0 L652.9 344.6 L654.0 345.9 L655.1 346.7 L656.2 347.5 L657.3 348.5 L658.4 348.6 L659.5 349.5 L660.6 349.4 L661.7 350.8 L662.8 352.4 L663.9 353.3 L664.9 353.8 L666.0 353.7 L667.1 354.4 L668.2 355.5 L669.3 356.2 L670.4 356.2 L671.5 357.0 L672.6 357.5 L673.7 358.2" fill="none" stroke="#3fe82a" stroke-width="0.95"/>
<line x1="575.2" y1="359.8" x2="678.6" y2="359.8" stroke="#ccc" stroke-width="0.3"/>
<path d="M636.5 360.1V375.2M644.3 360.1V375.2M650.0 360.1V375.2M653.1 360.1V375.2M656.8 360.1V375.2M660.3 360.1V375.2M661.1 360.1V375.2M664.0 360.1V375.2M667.8 360.1V375.2M668.6 360.1V375.2M671.0 360.1V375.2M673.7 360.1V375.2" stroke="#cccccc" stroke-width="0.5" fill="none"/>
<path d="M621.5 360.1V375.2M621.7 360.1V375.2M633.9 360.1V375.2M636.6 360.1V375.2M651.7 360.1V375.2M652.8 360.1V375.2M657.7 360.1V375.2M662.7 360.1V375.2M663.5 360.1V375.2M666.5 360.1V375.2" stroke="#acacac" stroke-width="0.5" fill="none"/>
<path d="M609.9 360.1V375.2M625.8 360.1V375.2M626.4 360.1V375.2M628.6 360.1V375.2M635.5 360.1V375.2M640.7 360.1V375.2M641.1 360.1V375.2M651.1 360.1V375.2M653.8 360.1V375.2M657.2 360.1V375.2M659.4 360.1V375.2M665.5 360.1V375.2" stroke="#8c8c8c" stroke-width="0.5" fill="none"/>
<path d="M597.4 360.1V375.2M598.1 360.1V375.2M600.1 360.1V375.2M600.3 360.1V375.2M600.4 360.1V375.2M602.2 360.1V375.2M602.7 360.1V375.2M604.1 360.1V375.2M612.7 360.1V375.2M615.0 360.1V375.2M618.3 360.1V375.2M620.1 360.1V375.2M621.4 360.1V375.2M622.3 360.1V375.2M623.3 360.1V375.2M625.9 360.1V375.2M627.8 360.1V375.2M631.2 360.1V375.2" stroke="#6c6c6c" stroke-width="0.5" fill="none"/>
<path d="M581.3 360.1V375.2M583.4 360.1V375.2M586.0 360.1V375.2M587.0 360.1V375.2M587.0 360.1V375.2M591.0 360.1V375.2M597.2 360.1V375.2M602.1 360.1V375.2M603.1 360.1V375.2M603.8 360.1V375.2M604.8 360.1V375.2M606.7 360.1V375.2M610.4 360.1V375.2M610.4 360.1V375.2M610.5 360.1V375.2M610.9 360.1V375.2M611.0 360.1V375.2M622.5 360.1V375.2M622.5 360.1V375.2M623.9 360.1V375.2" stroke="#4c4c4c" stroke-width="0.5" fill="none"/>
<path d="M578.3 360.1V375.2M579.7 360.1V375.2M580.8 360.1V375.2M580.9 360.1V375.2M583.3 360.1V375.2M583.8 360.1V375.2M584.9 360.1V375.2M585.6 360.1V375.2M586.1 360.1V375.2M588.5 360.1V375.2M589.7 360.1V375.2M595.9 360.1V375.2M596.4 360.1V375.2M603.5 360.1V375.2M608.5 360.1V375.2M613.1 360.1V375.2" stroke="#2c2c2c" stroke-width="0.5" fill="none"/>
<path d="M575.3 360.1V375.2M575.8 360.1V375.2M576.2 360.1V375.2M576.7 360.1V375.2M577.5 360.1V375.2M578.1 360.1V375.2M578.4 360.1V375.2M578.4 360.1V375.2M578.4 360.1V375.2M582.2 360.1V375.2M582.8 360.1V375.2M582.9 360.1V375.2M585.1 360.1V375.2M585.1 360.1V375.2M586.1 360.1V375.2M586.2 360.1V375.2M589.4 360.1V375.2M590.0 360.1V375.2M590.5 360.1V375.2M591.3 360.1V375.2M592.0 360.1V375.2M592.2 360.1V375.2M592.5 360.1V375.2M594.2 360.1V375.2" stroke="#000000" stroke-width="0.5" fill="none"/>
<rect x="575.2" y="375.2" width="98.5" height="3.1" fill="url(#rb)"/>
<rect x="308.2" y="396.3" width="119.3" height="74.4" fill="#efefef"/>
<rect x="323" y="403" width="102.7" height="67.7" fill="#fff"/>
<line x1="332.75" y1="403" x2="332.75" y2="470.3" stroke="#eeeeee" stroke-width="0.3"/>
<line x1="342.5" y1="403" x2="342.5" y2="470.3" stroke="#eeeeee" stroke-width="0.3"/>
<line x1="352.25" y1="403" x2="352.25" y2="470.3" stroke="#eeeeee" stroke-width="0.3"/>
<line x1="362" y1="403" x2="362" y2="470.3" stroke="#eeeeee" stroke-width="0.3"/>
<line x1="371.75" y1="403" x2="371.75" y2="470.3" stroke="#eeeeee" stroke-width="0.3"/>
<line x1="381.5" y1="403" x2="381.5" y2="470.3" stroke="#eeeeee" stroke-width="0.3"/>
<line x1="391.25" y1="403" x2="391.25" y2="470.3" stroke="#eeeeee" stroke-width="0.3"/>
<line x1="401" y1="403" x2="401" y2="470.3" stroke="#eeeeee" stroke-width="0.3"/>
<line x1="410.75" y1="403" x2="410.75" y2="470.3" stroke="#eeeeee" stroke-width="0.3"/>
<text x="367.85" y="401.2" font-size="4.8" font-weight="bold" text-anchor="middle" fill="#111">Enrichment plot: HALLMARK_E2F_TARGETS</text>
<line x1="323" y1="403" x2="323" y2="450.6" stroke="#999" stroke-width="0.3"/>
<line x1="323" y1="405.47" x2="425.7" y2="405.47" stroke="#eeeeee" stroke-width="0.3"/>
<text x="321.8" y="406.47" font-size="3.1" text-anchor="end" fill="#333">0.0</text>
<line x1="323" y1="412.83" x2="425.7" y2="412.83" stroke="#eeeeee" stroke-width="0.3"/>
<text x="321.8" y="413.83" font-size="3.1" text-anchor="end" fill="#333">-0.1</text>
<line x1="323" y1="420.18" x2="425.7" y2="420.18" stroke="#eeeeee" stroke-width="0.3"/>
<text x="321.8" y="421.18" font-size="3.1" text-anchor="end" fill="#333">-0.2</text>
<line x1="323" y1="427.54" x2="425.7" y2="427.54" stroke="#eeeeee" stroke-width="0.3"/>
<text x="321.8" y="428.54" font-size="3.1" text-anchor="end" fill="#333">-0.3</text>
<line x1="323" y1="434.89" x2="425.7" y2="434.89" stroke="#eeeeee" stroke-width="0.3"/>
<text x="321.8" y="435.89" font-size="3.1" text-anchor="end" fill="#333">-0.4</text>
<line x1="323" y1="442.25" x2="425.7" y2="442.25" stroke="#eeeeee" stroke-width="0.3"/>
<text x="321.8" y="443.25" font-size="3.1" text-anchor="end" fill="#333">-0.5</text>
<line x1="323" y1="449.6" x2="425.7" y2="449.6" stroke="#eeeeee" stroke-width="0.3"/>
<text x="321.8" y="450.6" font-size="3.1" text-anchor="end" fill="#333">-0.6</text>
<line x1="323" y1="405.47" x2="425.7" y2="405.47" stroke="#aaa" stroke-width="0.35"/>
<text x="313.8" y="426.8" font-size="4.1" text-anchor="middle" fill="#444" transform="rotate(-90 313.8 426.8)">Enrichment score (ES)</text>
<path d="M323.0 405.6 L324.1 406.2 L325.2 407.3 L326.2 408.2 L327.3 409.3 L328.4 409.9 L329.5 410.2 L330.6 411.3 L331.7 411.9 L332.8 413.0 L333.8 413.8 L334.9 414.7 L336.0 416.2 L337.1 416.1 L338.2 417.0 L339.2 417.8 L340.3 419.4 L341.4 420.2 L342.5 420.6 L343.6 421.2 L344.7 421.7 L345.8 422.6 L346.8 423.1 L347.9 424.3 L349.0 424.6 L350.1 425.3 L351.2 426.4 L352.2 426.3 L353.3 427.4 L354.4 427.9 L355.5 429.2 L356.6 429.9 L357.7 430.4 L358.8 431.0 L359.8 431.4 L360.9 432.2 L362.0 433.1 L363.1 433.9 L364.2 434.3 L365.2 434.3 L366.3 435.7 L367.4 435.9 L368.5 436.4 L369.6 437.7 L370.7 437.7 L371.8 437.7 L372.8 439.5 L373.9 439.4 L375.0 439.9 L376.1 440.6 L377.2 440.6 L378.2 441.3 L379.3 442.3 L380.4 441.9 L381.5 442.5 L382.6 442.8 L383.7 443.0 L384.8 443.8 L385.8 444.3 L386.9 445.2 L388.0 444.9 L389.1 445.7 L390.2 446.0 L391.2 446.6 L392.3 446.7 L393.4 446.8 L394.5 446.4 L395.6 447.8 L396.7 447.8 L397.8 447.3 L398.8 446.9 L399.9 447.1 L401.0 448.0 L402.1 448.0 L403.2 446.6 L404.2 446.5 L405.3 446.0 L406.4 444.4 L407.5 443.3 L408.6 442.3 L409.7 440.7 L410.8 438.7 L411.8 436.1 L412.9 434.0 L414.0 431.1 L415.1 427.9 L416.2 425.0 L417.2 419.9 L418.3 415.5 L419.4 410.7 L420.5 406.2" fill="none" stroke="#3fe82a" stroke-width="0.95"/>
<line x1="323" y1="450.6" x2="425.7" y2="450.6" stroke="#ccc" stroke-width="0.3"/>
<path d="M324.2 450.9V466.2M325.1 450.9V466.2M327.1 450.9V466.2M331.4 450.9V466.2M331.7 450.9V466.2M336.4 450.9V466.2M338.7 450.9V466.2M340.9 450.9V466.2M348.2 450.9V466.2M355.1 450.9V466.2M358.2 450.9V466.2" stroke="#cccccc" stroke-width="0.5" fill="none"/>
<path d="M328.1 450.9V466.2M329.1 450.9V466.2M338.7 450.9V466.2M341.8 450.9V466.2M345.1 450.9V466.2M348.6 450.9V466.2M349.4 450.9V466.2M351.6 450.9V466.2M360.8 450.9V466.2M364.5 450.9V466.2M370.7 450.9V466.2M371.5 450.9V466.2" stroke="#acacac" stroke-width="0.5" fill="none"/>
<path d="M336.8 450.9V466.2M345.4 450.9V466.2M347.2 450.9V466.2M347.6 450.9V466.2M347.9 450.9V466.2M349.8 450.9V466.2M352.4 450.9V466.2M356.1 450.9V466.2M358.6 450.9V466.2M367.2 450.9V466.2M385.7 450.9V466.2M387.4 450.9V466.2" stroke="#8c8c8c" stroke-width="0.5" fill="none"/>
<path d="M357.7 450.9V466.2M361.5 450.9V466.2M365.9 450.9V466.2M366.8 450.9V466.2M369.3 450.9V466.2M371.3 450.9V466.2M372.8 450.9V466.2M374.0 450.9V466.2M374.1 450.9V466.2M374.5 450.9V466.2M376.7 450.9V466.2M380.4 450.9V466.2M387.3 450.9V466.2M391.6 450.9V466.2M394.1 450.9V466.2M397.1 450.9V466.2M402.2 450.9V466.2M404.4 450.9V466.2" stroke="#6c6c6c" stroke-width="0.5" fill="none"/>
<path d="M370.4 450.9V466.2M374.4 450.9V466.2M376.5 450.9V466.2M382.9 450.9V466.2M388.4 450.9V466.2M388.8 450.9V466.2M388.9 450.9V466.2M390.5 450.9V466.2M390.9 450.9V466.2M393.4 450.9V466.2M395.1 450.9V466.2M396.0 450.9V466.2M397.1 450.9V466.2M397.6 450.9V466.2M397.8 450.9V466.2M398.3 450.9V466.2M399.5 450.9V466.2M399.9 450.9V466.2M401.0 450.9V466.2M404.8 450.9V466.2M404.9 450.9V466.2M414.0 450.9V466.2M417.3 450.9V466.2M419.0 450.9V466.2" stroke="#4c4c4c" stroke-width="0.5" fill="none"/>
<path d="M383.8 450.9V466.2M385.8 450.9V466.2M385.9 450.9V466.2M391.1 450.9V466.2M393.7 450.9V466.2M395.1 450.9V466.2M396.1 450.9V466.2M400.8 450.9V466.2M402.2 450.9V466.2M404.4 450.9V466.2M410.0 450.9V466.2M410.3 450.9V466.2M414.1 450.9V466.2M414.7 450.9V466.2M414.8 450.9V466.2M414.9 450.9V466.2M415.2 450.9V466.2M415.9 450.9V466.2M417.6 450.9V466.2M419.0 450.9V466.2" stroke="#2c2c2c" stroke-width="0.5" fill="none"/>
<path d="M403.6 450.9V466.2M408.7 450.9V466.2M413.4 450.9V466.2M413.4 450.9V466.2M414.3 450.9V466.2M415.3 450.9V466.2M415.5 450.9V466.2M415.9 450.9V466.2M416.4 450.9V466.2M416.7 450.9V466.2M417.2 450.9V466.2M417.3 450.9V466.2M417.7 450.9V466.2M417.7 450.9V466.2M417.8 450.9V466.2M418.1 450.9V466.2M418.6 450.9V466.2M419.5 450.9V466.2M419.8 450.9V466.2M420.2 450.9V466.2" stroke="#000000" stroke-width="0.5" fill="none"/>
<rect x="323" y="466.2" width="97.5" height="4.1" fill="url(#rb)"/>
<rect x="436.6" y="395.2" width="118.9" height="75.2" fill="#efefef"/>
<rect x="450.8" y="403.2" width="103.4" height="67.2" fill="#fff"/>
<line x1="460.62" y1="403.2" x2="460.62" y2="470" stroke="#eeeeee" stroke-width="0.3"/>
<line x1="470.44" y1="403.2" x2="470.44" y2="470" stroke="#eeeeee" stroke-width="0.3"/>
<line x1="480.26" y1="403.2" x2="480.26" y2="470" stroke="#eeeeee" stroke-width="0.3"/>
<line x1="490.08" y1="403.2" x2="490.08" y2="470" stroke="#eeeeee" stroke-width="0.3"/>
<line x1="499.9" y1="403.2" x2="499.9" y2="470" stroke="#eeeeee" stroke-width="0.3"/>
<line x1="509.72" y1="403.2" x2="509.72" y2="470" stroke="#eeeeee" stroke-width="0.3"/>
<line x1="519.54" y1="403.2" x2="519.54" y2="470" stroke="#eeeeee" stroke-width="0.3"/>
<line x1="529.36" y1="403.2" x2="529.36" y2="470" stroke="#eeeeee" stroke-width="0.3"/>
<line x1="539.18" y1="403.2" x2="539.18" y2="470" stroke="#eeeeee" stroke-width="0.3"/>
<text x="496.05" y="400.1" font-size="4.8" font-weight="bold" text-anchor="middle" fill="#111">Enrichment plot: HALLMARK_MYC_TARGETS_V1</text>
<line x1="450.8" y1="403.2" x2="450.8" y2="449.5" stroke="#999" stroke-width="0.3"/>
<line x1="450.8" y1="405.56" x2="554.2" y2="405.56" stroke="#eeeeee" stroke-width="0.3"/>
<text x="449.6" y="406.56" font-size="3.1" text-anchor="end" fill="#333">0.0</text>
<line x1="450.8" y1="412.38" x2="554.2" y2="412.38" stroke="#eeeeee" stroke-width="0.3"/>
<text x="449.6" y="413.38" font-size="3.1" text-anchor="end" fill="#333">-0.1</text>
<line x1="450.8" y1="419.19" x2="554.2" y2="419.19" stroke="#eeeeee" stroke-width="0.3"/>
<text x="449.6" y="420.19" font-size="3.1" text-anchor="end" fill="#333">-0.2</text>
<line x1="450.8" y1="426.01" x2="554.2" y2="426.01" stroke="#eeeeee" stroke-width="0.3"/>
<text x="449.6" y="427.01" font-size="3.1" text-anchor="end" fill="#333">-0.3</text>
<line x1="450.8" y1="432.82" x2="554.2" y2="432.82" stroke="#eeeeee" stroke-width="0.3"/>
<text x="449.6" y="433.82" font-size="3.1" text-anchor="end" fill="#333">-0.4</text>
<line x1="450.8" y1="439.64" x2="554.2" y2="439.64" stroke="#eeeeee" stroke-width="0.3"/>
<text x="449.6" y="440.64" font-size="3.1" text-anchor="end" fill="#333">-0.5</text>
<line x1="450.8" y1="446.46" x2="554.2" y2="446.46" stroke="#eeeeee" stroke-width="0.3"/>
<text x="449.6" y="447.46" font-size="3.1" text-anchor="end" fill="#333">-0.6</text>
<line x1="450.8" y1="405.56" x2="554.2" y2="405.56" stroke="#aaa" stroke-width="0.35"/>
<text x="442.2" y="426.35" font-size="4.1" text-anchor="middle" fill="#444" transform="rotate(-90 442.2 426.35)">Enrichment score (ES)</text>
<path d="M450.8 405.4 L451.9 405.5 L453.0 406.8 L454.1 407.6 L455.2 408.5 L456.3 409.4 L457.3 410.1 L458.4 411.1 L459.5 412.1 L460.6 412.9 L461.7 413.7 L462.8 414.0 L463.9 414.6 L465.0 415.0 L466.1 416.1 L467.2 416.9 L468.3 417.5 L469.3 418.4 L470.4 419.8 L471.5 419.5 L472.6 420.7 L473.7 421.2 L474.8 422.0 L475.9 421.6 L477.0 422.9 L478.1 423.8 L479.2 425.0 L480.3 425.0 L481.4 426.3 L482.4 426.2 L483.5 427.8 L484.6 427.9 L485.7 428.2 L486.8 429.4 L487.9 429.7 L489.0 430.3 L490.1 430.6 L491.2 431.7 L492.3 431.8 L493.4 431.9 L494.4 433.8 L495.5 434.1 L496.6 434.2 L497.7 435.1 L498.8 435.9 L499.9 435.5 L501.0 436.1 L502.1 436.6 L503.2 437.1 L504.3 437.7 L505.4 438.8 L506.4 439.8 L507.5 439.3 L508.6 440.3 L509.7 440.3 L510.8 440.6 L511.9 441.7 L513.0 441.7 L514.1 441.4 L515.2 442.2 L516.3 443.4 L517.4 443.3 L518.4 443.5 L519.5 443.7 L520.6 444.0 L521.7 444.6 L522.8 444.9 L523.9 444.8 L525.0 445.9 L526.1 445.2 L527.2 445.7 L528.3 446.2 L529.4 446.4 L530.5 446.3 L531.5 446.9 L532.6 447.1 L533.7 445.8 L534.8 444.7 L535.9 444.4 L537.0 443.0 L538.1 441.5 L539.2 439.9 L540.3 437.1 L541.4 434.4 L542.5 431.6 L543.5 428.0 L544.6 424.9 L545.7 420.3 L546.8 416.1 L547.9 411.1 L549.0 405.4" fill="none" stroke="#3fe82a" stroke-width="0.95"/>
<line x1="450.8" y1="449.5" x2="554.2" y2="449.5" stroke="#ccc" stroke-width="0.3"/>
<path d="M455.9 449.8V465.5M461.5 449.8V465.5M466.0 449.8V465.5M466.5 449.8V465.5M468.7 449.8V465.5M479.6 449.8V465.5M480.3 449.8V465.5" stroke="#cccccc" stroke-width="0.5" fill="none"/>
<path d="M466.5 449.8V465.5M472.9 449.8V465.5M479.2 449.8V465.5M479.2 449.8V465.5M490.8 449.8V465.5M493.3 449.8V465.5M496.8 449.8V465.5M497.5 449.8V465.5M498.9 449.8V465.5" stroke="#acacac" stroke-width="0.5" fill="none"/>
<path d="M470.2 449.8V465.5M470.4 449.8V465.5M479.5 449.8V465.5M481.5 449.8V465.5M485.0 449.8V465.5M488.6 449.8V465.5M494.2 449.8V465.5M494.8 449.8V465.5M495.3 449.8V465.5M499.6 449.8V465.5M500.8 449.8V465.5M502.6 449.8V465.5M505.7 449.8V465.5M505.9 449.8V465.5M507.7 449.8V465.5M507.8 449.8V465.5" stroke="#8c8c8c" stroke-width="0.5" fill="none"/>
<path d="M490.9 449.8V465.5M491.8 449.8V465.5M492.0 449.8V465.5M494.4 449.8V465.5M497.1 449.8V465.5M506.1 449.8V465.5M509.5 449.8V465.5M509.6 449.8V465.5M510.2 449.8V465.5M511.8 449.8V465.5M514.4 449.8V465.5M514.6 449.8V465.5M518.4 449.8V465.5M520.1 449.8V465.5M528.9 449.8V465.5M531.1 449.8V465.5M531.8 449.8V465.5" stroke="#6c6c6c" stroke-width="0.5" fill="none"/>
<path d="M510.0 449.8V465.5M510.7 449.8V465.5M514.4 449.8V465.5M518.1 449.8V465.5M518.6 449.8V465.5M518.9 449.8V465.5M522.8 449.8V465.5M523.1 449.8V465.5M523.1 449.8V465.5M525.0 449.8V465.5M525.3 449.8V465.5M527.4 449.8V465.5M527.9 449.8V465.5M528.7 449.8V465.5M530.2 449.8V465.5M531.6 449.8V465.5M533.4 449.8V465.5M537.8 449.8V465.5M540.0 449.8V465.5M541.4 449.8V465.5M545.6 449.8V465.5M546.5 449.8V465.5" stroke="#4c4c4c" stroke-width="0.5" fill="none"/>
<path d="M512.5 449.8V465.5M514.6 449.8V465.5M520.5 449.8V465.5M521.4 449.8V465.5M522.0 449.8V465.5M523.6 449.8V465.5M525.5 449.8V465.5M525.6 449.8V465.5M527.6 449.8V465.5M529.4 449.8V465.5M529.8 449.8V465.5M533.8 449.8V465.5M534.3 449.8V465.5M534.9 449.8V465.5M535.2 449.8V465.5M537.6 449.8V465.5M538.8 449.8V465.5M540.7 449.8V465.5M541.3 449.8V465.5M541.7 449.8V465.5M543.6 449.8V465.5M545.6 449.8V465.5M546.7 449.8V465.5M547.5 449.8V465.5M548.3 449.8V465.5" stroke="#2c2c2c" stroke-width="0.5" fill="none"/>
<path d="M529.6 449.8V465.5M533.1 449.8V465.5M535.7 449.8V465.5M537.9 449.8V465.5M538.0 449.8V465.5M539.7 449.8V465.5M540.1 449.8V465.5M541.9 449.8V465.5M542.2 449.8V465.5M543.6 449.8V465.5M544.1 449.8V465.5M544.2 449.8V465.5M544.3 449.8V465.5M544.8 449.8V465.5M547.0 449.8V465.5M547.2 449.8V465.5M548.3 449.8V465.5M548.7 449.8V465.5" stroke="#000000" stroke-width="0.5" fill="none"/>
<rect x="450.8" y="465.5" width="98.2" height="4.5" fill="url(#rb)"/>
<rect x="562" y="395.2" width="117.5" height="75.2" fill="#efefef"/>
<rect x="574.9" y="407.8" width="103.7" height="62.6" fill="#fff"/>
<line x1="584.78" y1="407.8" x2="584.78" y2="470" stroke="#eeeeee" stroke-width="0.3"/>
<line x1="594.66" y1="407.8" x2="594.66" y2="470" stroke="#eeeeee" stroke-width="0.3"/>
<line x1="604.54" y1="407.8" x2="604.54" y2="470" stroke="#eeeeee" stroke-width="0.3"/>
<line x1="614.42" y1="407.8" x2="614.42" y2="470" stroke="#eeeeee" stroke-width="0.3"/>
<line x1="624.3" y1="407.8" x2="624.3" y2="470" stroke="#eeeeee" stroke-width="0.3"/>
<line x1="634.18" y1="407.8" x2="634.18" y2="470" stroke="#eeeeee" stroke-width="0.3"/>
<line x1="644.06" y1="407.8" x2="644.06" y2="470" stroke="#eeeeee" stroke-width="0.3"/>
<line x1="653.94" y1="407.8" x2="653.94" y2="470" stroke="#eeeeee" stroke-width="0.3"/>
<line x1="663.82" y1="407.8" x2="663.82" y2="470" stroke="#eeeeee" stroke-width="0.3"/>
<text x="620.75" y="400.1" font-size="4.8" font-weight="bold" text-anchor="middle" fill="#111">Enrichment plot:</text>
<text x="620.75" y="405.7" font-size="4.8" font-weight="bold" text-anchor="middle" fill="#111">HALLMARK_OXIDATIVE_PHOSPHORYLATION</text>
<line x1="574.9" y1="407.8" x2="574.9" y2="450.3" stroke="#999" stroke-width="0.3"/>
<line x1="574.9" y1="410.2" x2="678.6" y2="410.2" stroke="#eeeeee" stroke-width="0.3"/>
<text x="573.7" y="411.2" font-size="3.1" text-anchor="end" fill="#333">0.0</text>
<line x1="574.9" y1="417.18" x2="678.6" y2="417.18" stroke="#eeeeee" stroke-width="0.3"/>
<text x="573.7" y="418.18" font-size="3.1" text-anchor="end" fill="#333">-0.1</text>
<line x1="574.9" y1="424.16" x2="678.6" y2="424.16" stroke="#eeeeee" stroke-width="0.3"/>
<text x="573.7" y="425.16" font-size="3.1" text-anchor="end" fill="#333">-0.2</text>
<line x1="574.9" y1="431.14" x2="678.6" y2="431.14" stroke="#eeeeee" stroke-width="0.3"/>
<text x="573.7" y="432.14" font-size="3.1" text-anchor="end" fill="#333">-0.3</text>
<line x1="574.9" y1="438.13" x2="678.6" y2="438.13" stroke="#eeeeee" stroke-width="0.3"/>
<text x="573.7" y="439.13" font-size="3.1" text-anchor="end" fill="#333">-0.4</text>
<line x1="574.9" y1="445.11" x2="678.6" y2="445.11" stroke="#eeeeee" stroke-width="0.3"/>
<text x="573.7" y="446.11" font-size="3.1" text-anchor="end" fill="#333">-0.5</text>
<line x1="574.9" y1="410.2" x2="678.6" y2="410.2" stroke="#aaa" stroke-width="0.35"/>
<text x="567.6" y="429.05" font-size="4.1" text-anchor="middle" fill="#444" transform="rotate(-90 567.6 429.05)">Enrichment score (ES)</text>
<path d="M574.9 410.5 L576.0 410.9 L577.1 411.2 L578.2 411.9 L579.3 412.7 L580.4 413.8 L581.5 414.5 L582.6 415.4 L583.7 416.5 L584.8 416.9 L585.9 417.1 L587.0 418.0 L588.1 418.9 L589.2 419.8 L590.3 420.2 L591.4 421.0 L592.5 421.5 L593.6 422.0 L594.7 423.6 L595.8 423.5 L596.9 424.6 L598.0 425.1 L599.1 425.8 L600.1 425.6 L601.2 426.4 L602.3 427.1 L603.4 428.1 L604.5 429.0 L605.6 429.2 L606.7 429.6 L607.8 430.3 L608.9 430.6 L610.0 431.5 L611.1 431.4 L612.2 432.3 L613.3 432.4 L614.4 433.6 L615.5 434.3 L616.6 435.0 L617.7 435.0 L618.8 435.4 L619.9 436.2 L621.0 436.7 L622.1 437.4 L623.2 437.9 L624.3 438.4 L625.4 439.4 L626.5 439.6 L627.6 439.7 L628.7 440.1 L629.8 440.2 L630.9 440.8 L632.0 441.3 L633.1 441.8 L634.2 443.0 L635.3 442.6 L636.4 443.3 L637.5 443.2 L638.6 443.9 L639.7 444.2 L640.8 444.6 L641.9 444.9 L643.0 445.8 L644.1 445.9 L645.2 445.3 L646.3 445.8 L647.4 446.4 L648.5 446.6 L649.5 446.8 L650.6 445.7 L651.7 446.8 L652.8 447.1 L653.9 447.4 L655.0 448.0 L656.1 446.9 L657.2 446.0 L658.3 445.5 L659.4 444.9 L660.5 444.1 L661.6 443.0 L662.7 441.0 L663.8 439.3 L664.9 437.4 L666.0 434.1 L667.1 432.4 L668.2 429.3 L669.3 426.7 L670.4 421.8 L671.5 418.7 L672.6 414.6 L673.7 410.1" fill="none" stroke="#3fe82a" stroke-width="0.95"/>
<line x1="574.9" y1="450.3" x2="678.6" y2="450.3" stroke="#ccc" stroke-width="0.3"/>
<path d="M582.0 450.6V465.5M583.1 450.6V465.5M583.2 450.6V465.5M585.8 450.6V465.5M590.6 450.6V465.5M591.0 450.6V465.5M591.7 450.6V465.5M594.4 450.6V465.5M597.2 450.6V465.5M600.5 450.6V465.5M603.6 450.6V465.5M612.5 450.6V465.5M616.9 450.6V465.5" stroke="#cccccc" stroke-width="0.5" fill="none"/>
<path d="M595.3 450.6V465.5M604.3 450.6V465.5M607.0 450.6V465.5M609.4 450.6V465.5M622.5 450.6V465.5M623.5 450.6V465.5" stroke="#acacac" stroke-width="0.5" fill="none"/>
<path d="M595.1 450.6V465.5M595.6 450.6V465.5M596.9 450.6V465.5M603.8 450.6V465.5M608.2 450.6V465.5M609.4 450.6V465.5M613.3 450.6V465.5M617.7 450.6V465.5M625.7 450.6V465.5M626.3 450.6V465.5M627.1 450.6V465.5M627.8 450.6V465.5M628.0 450.6V465.5M628.5 450.6V465.5M628.6 450.6V465.5M629.5 450.6V465.5M631.6 450.6V465.5M637.7 450.6V465.5M643.7 450.6V465.5M643.8 450.6V465.5M644.3 450.6V465.5" stroke="#8c8c8c" stroke-width="0.5" fill="none"/>
<path d="M614.3 450.6V465.5M614.6 450.6V465.5M615.1 450.6V465.5M619.6 450.6V465.5M620.7 450.6V465.5M626.1 450.6V465.5M630.9 450.6V465.5M631.9 450.6V465.5M634.0 450.6V465.5M637.8 450.6V465.5M638.6 450.6V465.5M638.9 450.6V465.5M639.4 450.6V465.5M640.0 450.6V465.5M642.7 450.6V465.5M644.6 450.6V465.5M646.1 450.6V465.5M646.8 450.6V465.5M651.9 450.6V465.5M654.8 450.6V465.5" stroke="#6c6c6c" stroke-width="0.5" fill="none"/>
<path d="M623.8 450.6V465.5M628.4 450.6V465.5M630.4 450.6V465.5M631.1 450.6V465.5M632.0 450.6V465.5M632.4 450.6V465.5M642.5 450.6V465.5M642.9 450.6V465.5M643.7 450.6V465.5M646.4 450.6V465.5M646.9 450.6V465.5M648.8 450.6V465.5M651.3 450.6V465.5M654.7 450.6V465.5M659.9 450.6V465.5M660.4 450.6V465.5M660.6 450.6V465.5M663.2 450.6V465.5M668.4 450.6V465.5" stroke="#4c4c4c" stroke-width="0.5" fill="none"/>
<path d="M635.0 450.6V465.5M637.6 450.6V465.5M642.2 450.6V465.5M643.1 450.6V465.5M645.6 450.6V465.5M649.5 450.6V465.5M652.5 450.6V465.5M653.8 450.6V465.5M653.9 450.6V465.5M654.7 450.6V465.5M655.4 450.6V465.5M655.4 450.6V465.5M660.5 450.6V465.5M661.4 450.6V465.5M662.0 450.6V465.5M662.7 450.6V465.5M662.8 450.6V465.5M662.9 450.6V465.5M663.5 450.6V465.5M664.5 450.6V465.5M667.1 450.6V465.5M667.4 450.6V465.5M671.3 450.6V465.5M671.3 450.6V465.5" stroke="#2c2c2c" stroke-width="0.5" fill="none"/>
<path d="M646.7 450.6V465.5M648.5 450.6V465.5M653.4 450.6V465.5M655.9 450.6V465.5M656.0 450.6V465.5M657.1 450.6V465.5M658.9 450.6V465.5M659.0 450.6V465.5M659.3 450.6V465.5M660.7 450.6V465.5M662.2 450.6V465.5M662.7 450.6V465.5M664.1 450.6V465.5M666.0 450.6V465.5M667.5 450.6V465.5M668.2 450.6V465.5M668.2 450.6V465.5M668.7 450.6V465.5M669.8 450.6V465.5M670.2 450.6V465.5M670.4 450.6V465.5M670.6 450.6V465.5M671.1 450.6V465.5M671.2 450.6V465.5M671.7 450.6V465.5M672.3 450.6V465.5M672.3 450.6V465.5M673.2 450.6V465.5" stroke="#000000" stroke-width="0.5" fill="none"/>
<rect x="574.9" y="465.5" width="98.8" height="4.5" fill="url(#rb)"/>
<rect x="308.3" y="475.2" width="119.2" height="74.1" fill="#efefef"/>
<rect x="322" y="486.6" width="103.7" height="62.8" fill="#fff"/>
<line x1="331.86" y1="486.6" x2="331.86" y2="549" stroke="#eeeeee" stroke-width="0.3"/>
<line x1="341.72" y1="486.6" x2="341.72" y2="549" stroke="#eeeeee" stroke-width="0.3"/>
<line x1="351.58" y1="486.6" x2="351.58" y2="549" stroke="#eeeeee" stroke-width="0.3"/>
<line x1="361.44" y1="486.6" x2="361.44" y2="549" stroke="#eeeeee" stroke-width="0.3"/>
<line x1="371.3" y1="486.6" x2="371.3" y2="549" stroke="#eeeeee" stroke-width="0.3"/>
<line x1="381.16" y1="486.6" x2="381.16" y2="549" stroke="#eeeeee" stroke-width="0.3"/>
<line x1="391.02" y1="486.6" x2="391.02" y2="549" stroke="#eeeeee" stroke-width="0.3"/>
<line x1="400.88" y1="486.6" x2="400.88" y2="549" stroke="#eeeeee" stroke-width="0.3"/>
<line x1="410.74" y1="486.6" x2="410.74" y2="549" stroke="#eeeeee" stroke-width="0.3"/>
<text x="367.9" y="480.1" font-size="4.8" font-weight="bold" text-anchor="middle" fill="#111">Enrichment plot:</text>
<text x="367.9" y="485.7" font-size="4.8" font-weight="bold" text-anchor="middle" fill="#111">HALLMARK_INTERFERON_GAMMA_RESPONSE</text>
<line x1="322" y1="486.6" x2="322" y2="530.3" stroke="#999" stroke-width="0.3"/>
<line x1="322" y1="490.85" x2="425.7" y2="490.85" stroke="#eeeeee" stroke-width="0.3"/>
<text x="320.8" y="491.85" font-size="3.1" text-anchor="end" fill="#333">0.7</text>
<line x1="322" y1="496.26" x2="425.7" y2="496.26" stroke="#eeeeee" stroke-width="0.3"/>
<text x="320.8" y="497.26" font-size="3.1" text-anchor="end" fill="#333">0.6</text>
<line x1="322" y1="501.68" x2="425.7" y2="501.68" stroke="#eeeeee" stroke-width="0.3"/>
<text x="320.8" y="502.68" font-size="3.1" text-anchor="end" fill="#333">0.5</text>
<line x1="322" y1="507.1" x2="425.7" y2="507.1" stroke="#eeeeee" stroke-width="0.3"/>
<text x="320.8" y="508.1" font-size="3.1" text-anchor="end" fill="#333">0.4</text>
<line x1="322" y1="512.51" x2="425.7" y2="512.51" stroke="#eeeeee" stroke-width="0.3"/>
<text x="320.8" y="513.51" font-size="3.1" text-anchor="end" fill="#333">0.3</text>
<line x1="322" y1="517.93" x2="425.7" y2="517.93" stroke="#eeeeee" stroke-width="0.3"/>
<text x="320.8" y="518.93" font-size="3.1" text-anchor="end" fill="#333">0.2</text>
<line x1="322" y1="523.34" x2="425.7" y2="523.34" stroke="#eeeeee" stroke-width="0.3"/>
<text x="320.8" y="524.34" font-size="3.1" text-anchor="end" fill="#333">0.1</text>
<line x1="322" y1="528.76" x2="425.7" y2="528.76" stroke="#eeeeee" stroke-width="0.3"/>
<text x="320.8" y="529.76" font-size="3.1" text-anchor="end" fill="#333">0.0</text>
<line x1="322" y1="528.76" x2="425.7" y2="528.76" stroke="#aaa" stroke-width="0.35"/>
<text x="313.9" y="508.45" font-size="4.1" text-anchor="middle" fill="#444" transform="rotate(-90 313.9 508.45)">Enrichment score (ES)</text>
<path d="M322.0 529.0 L323.1 512.0 L324.2 502.4 L325.3 496.8 L326.4 493.3 L327.5 492.1 L328.6 490.7 L329.7 490.2 L330.8 489.9 L331.9 489.5 L333.0 489.4 L334.1 488.6 L335.1 489.2 L336.2 489.3 L337.3 489.0 L338.4 489.5 L339.5 489.4 L340.6 489.2 L341.7 489.7 L342.8 490.2 L343.9 490.4 L345.0 490.9 L346.1 490.6 L347.2 490.9 L348.3 490.9 L349.4 492.1 L350.5 492.5 L351.6 492.9 L352.7 493.1 L353.8 493.6 L354.9 493.9 L356.0 494.6 L357.1 495.4 L358.2 495.0 L359.2 496.0 L360.3 496.1 L361.4 496.9 L362.5 497.3 L363.6 498.3 L364.7 498.6 L365.8 498.7 L366.9 499.2 L368.0 499.9 L369.1 500.3 L370.2 501.4 L371.3 501.4 L372.4 502.1 L373.5 502.8 L374.6 502.9 L375.7 503.7 L376.8 504.4 L377.9 504.8 L379.0 505.3 L380.1 505.9 L381.2 506.3 L382.3 507.0 L383.4 507.2 L384.4 507.6 L385.5 508.4 L386.6 509.3 L387.7 510.0 L388.8 510.3 L389.9 511.1 L391.0 511.2 L392.1 512.1 L393.2 512.7 L394.3 513.6 L395.4 514.0 L396.5 514.9 L397.6 515.6 L398.7 515.8 L399.8 516.8 L400.9 517.3 L402.0 517.5 L403.1 517.9 L404.2 519.0 L405.3 519.7 L406.4 520.0 L407.5 520.6 L408.5 522.0 L409.6 523.0 L410.7 523.5 L411.8 523.7 L412.9 524.8 L414.0 525.1 L415.1 525.4 L416.2 526.1 L417.3 527.1 L418.4 527.6 L419.5 528.2 L420.6 529.1" fill="none" stroke="#3fe82a" stroke-width="0.95"/>
<line x1="322" y1="530.3" x2="425.7" y2="530.3" stroke="#ccc" stroke-width="0.3"/>
<path d="M390.8 530.6V544.7M393.1 530.6V544.7M393.1 530.6V544.7M393.4 530.6V544.7M400.5 530.6V544.7M405.9 530.6V544.7M407.5 530.6V544.7M408.2 530.6V544.7M408.6 530.6V544.7M410.7 530.6V544.7M413.2 530.6V544.7" stroke="#cccccc" stroke-width="0.5" fill="none"/>
<path d="M380.3 530.6V544.7M383.8 530.6V544.7M384.0 530.6V544.7M388.0 530.6V544.7M388.1 530.6V544.7M390.4 530.6V544.7M390.6 530.6V544.7M397.7 530.6V544.7M398.8 530.6V544.7M404.5 530.6V544.7M408.5 530.6V544.7M411.7 530.6V544.7" stroke="#acacac" stroke-width="0.5" fill="none"/>
<path d="M357.5 530.6V544.7M360.6 530.6V544.7M362.8 530.6V544.7M367.0 530.6V544.7M368.4 530.6V544.7M376.4 530.6V544.7M376.9 530.6V544.7M386.3 530.6V544.7M387.0 530.6V544.7M388.0 530.6V544.7M404.2 530.6V544.7" stroke="#8c8c8c" stroke-width="0.5" fill="none"/>
<path d="M338.3 530.6V544.7M342.5 530.6V544.7M345.6 530.6V544.7M348.7 530.6V544.7M352.6 530.6V544.7M356.7 530.6V544.7M361.4 530.6V544.7M361.6 530.6V544.7M364.4 530.6V544.7M367.2 530.6V544.7M367.8 530.6V544.7M372.4 530.6V544.7M374.8 530.6V544.7M374.8 530.6V544.7M376.1 530.6V544.7M379.0 530.6V544.7M380.9 530.6V544.7M382.2 530.6V544.7M385.9 530.6V544.7" stroke="#6c6c6c" stroke-width="0.5" fill="none"/>
<path d="M327.1 530.6V544.7M327.4 530.6V544.7M329.9 530.6V544.7M332.7 530.6V544.7M333.7 530.6V544.7M333.9 530.6V544.7M334.8 530.6V544.7M338.6 530.6V544.7M338.7 530.6V544.7M338.9 530.6V544.7M340.5 530.6V544.7M342.9 530.6V544.7M344.4 530.6V544.7M345.9 530.6V544.7M346.3 530.6V544.7M348.0 530.6V544.7M348.2 530.6V544.7M354.8 530.6V544.7M356.1 530.6V544.7M356.5 530.6V544.7M360.4 530.6V544.7M367.3 530.6V544.7M367.4 530.6V544.7M368.9 530.6V544.7M373.8 530.6V544.7" stroke="#4c4c4c" stroke-width="0.5" fill="none"/>
<path d="M322.4 530.6V544.7M323.2 530.6V544.7M323.6 530.6V544.7M324.3 530.6V544.7M326.9 530.6V544.7M331.1 530.6V544.7M333.7 530.6V544.7M337.3 530.6V544.7M337.9 530.6V544.7M338.9 530.6V544.7M340.8 530.6V544.7M340.9 530.6V544.7M342.6 530.6V544.7M345.1 530.6V544.7M345.8 530.6V544.7M347.5 530.6V544.7M357.5 530.6V544.7M362.9 530.6V544.7" stroke="#2c2c2c" stroke-width="0.5" fill="none"/>
<path d="M322.5 530.6V544.7M324.3 530.6V544.7M324.7 530.6V544.7M325.1 530.6V544.7M326.2 530.6V544.7M326.2 530.6V544.7M326.7 530.6V544.7M326.7 530.6V544.7M326.9 530.6V544.7M329.0 530.6V544.7M330.8 530.6V544.7M330.9 530.6V544.7M332.1 530.6V544.7M334.3 530.6V544.7M336.8 530.6V544.7M338.8 530.6V544.7" stroke="#000000" stroke-width="0.5" fill="none"/>
<rect x="322" y="544.7" width="98.6" height="4.3" fill="url(#rb)"/>
<rect x="436.6" y="475.2" width="118.9" height="74.1" fill="#efefef"/>
<rect x="449.9" y="486.6" width="104.3" height="62.8" fill="#fff"/>
<line x1="459.81" y1="486.6" x2="459.81" y2="549" stroke="#eeeeee" stroke-width="0.3"/>
<line x1="469.72" y1="486.6" x2="469.72" y2="549" stroke="#eeeeee" stroke-width="0.3"/>
<line x1="479.63" y1="486.6" x2="479.63" y2="549" stroke="#eeeeee" stroke-width="0.3"/>
<line x1="489.54" y1="486.6" x2="489.54" y2="549" stroke="#eeeeee" stroke-width="0.3"/>
<line x1="499.45" y1="486.6" x2="499.45" y2="549" stroke="#eeeeee" stroke-width="0.3"/>
<line x1="509.36" y1="486.6" x2="509.36" y2="549" stroke="#eeeeee" stroke-width="0.3"/>
<line x1="519.27" y1="486.6" x2="519.27" y2="549" stroke="#eeeeee" stroke-width="0.3"/>
<line x1="529.18" y1="486.6" x2="529.18" y2="549" stroke="#eeeeee" stroke-width="0.3"/>
<line x1="539.09" y1="486.6" x2="539.09" y2="549" stroke="#eeeeee" stroke-width="0.3"/>
<text x="496.05" y="480.1" font-size="4.8" font-weight="bold" text-anchor="middle" fill="#111">Enrichment plot:</text>
<text x="496.05" y="485.7" font-size="4.8" font-weight="bold" text-anchor="middle" fill="#111">HALLMARK_INFLAMMATORY_RESPONSE</text>
<line x1="449.9" y1="486.6" x2="449.9" y2="530.3" stroke="#999" stroke-width="0.3"/>
<line x1="449.9" y1="490.85" x2="554.2" y2="490.85" stroke="#eeeeee" stroke-width="0.3"/>
<text x="448.7" y="491.85" font-size="3.1" text-anchor="end" fill="#333">0.7</text>
<line x1="449.9" y1="496.26" x2="554.2" y2="496.26" stroke="#eeeeee" stroke-width="0.3"/>
<text x="448.7" y="497.26" font-size="3.1" text-anchor="end" fill="#333">0.6</text>
<line x1="449.9" y1="501.68" x2="554.2" y2="501.68" stroke="#eeeeee" stroke-width="0.3"/>
<text x="448.7" y="502.68" font-size="3.1" text-anchor="end" fill="#333">0.5</text>
<line x1="449.9" y1="507.1" x2="554.2" y2="507.1" stroke="#eeeeee" stroke-width="0.3"/>
<text x="448.7" y="508.1" font-size="3.1" text-anchor="end" fill="#333">0.4</text>
<line x1="449.9" y1="512.51" x2="554.2" y2="512.51" stroke="#eeeeee" stroke-width="0.3"/>
<text x="448.7" y="513.51" font-size="3.1" text-anchor="end" fill="#333">0.3</text>
<line x1="449.9" y1="517.93" x2="554.2" y2="517.93" stroke="#eeeeee" stroke-width="0.3"/>
<text x="448.7" y="518.93" font-size="3.1" text-anchor="end" fill="#333">0.2</text>
<line x1="449.9" y1="523.34" x2="554.2" y2="523.34" stroke="#eeeeee" stroke-width="0.3"/>
<text x="448.7" y="524.34" font-size="3.1" text-anchor="end" fill="#333">0.1</text>
<line x1="449.9" y1="528.76" x2="554.2" y2="528.76" stroke="#eeeeee" stroke-width="0.3"/>
<text x="448.7" y="529.76" font-size="3.1" text-anchor="end" fill="#333">0.0</text>
<line x1="449.9" y1="528.76" x2="554.2" y2="528.76" stroke="#aaa" stroke-width="0.35"/>
<text x="442.2" y="508.45" font-size="4.1" text-anchor="middle" fill="#444" transform="rotate(-90 442.2 508.45)">Enrichment score (ES)</text>
<path d="M449.9 529.1 L451.0 512.0 L452.1 502.3 L453.2 497.3 L454.3 494.4 L455.4 492.2 L456.5 491.0 L457.6 490.3 L458.7 490.6 L459.8 490.4 L460.9 489.7 L462.0 489.7 L463.1 489.4 L464.2 489.5 L465.3 489.9 L466.4 490.1 L467.5 489.6 L468.6 490.7 L469.7 491.1 L470.8 491.5 L471.9 491.5 L473.0 491.9 L474.1 492.4 L475.2 492.7 L476.3 492.9 L477.4 493.2 L478.5 493.5 L479.6 494.2 L480.7 495.1 L481.8 494.9 L482.9 495.9 L484.0 496.0 L485.1 496.8 L486.2 496.8 L487.3 497.5 L488.4 497.7 L489.5 497.3 L490.6 498.7 L491.7 498.9 L492.8 500.0 L493.9 500.2 L495.0 500.4 L496.1 501.1 L497.2 501.5 L498.3 502.1 L499.4 502.9 L500.6 503.0 L501.7 503.9 L502.8 503.7 L503.9 504.8 L505.0 505.0 L506.1 505.8 L507.2 506.0 L508.3 507.0 L509.4 507.1 L510.5 508.0 L511.6 508.1 L512.7 508.9 L513.8 509.5 L514.9 510.3 L516.0 510.5 L517.1 511.1 L518.2 511.4 L519.3 512.5 L520.4 512.8 L521.5 513.4 L522.6 514.0 L523.7 514.6 L524.8 515.2 L525.9 516.0 L527.0 516.7 L528.1 517.2 L529.2 517.5 L530.3 517.8 L531.4 518.6 L532.5 519.2 L533.6 519.8 L534.7 520.5 L535.8 521.2 L536.9 522.3 L538.0 522.6 L539.1 523.7 L540.2 524.4 L541.3 524.2 L542.4 525.2 L543.5 525.6 L544.6 526.2 L545.7 527.3 L546.8 526.9 L547.9 527.7 L549.0 528.7" fill="none" stroke="#3fe82a" stroke-width="0.95"/>
<line x1="449.9" y1="530.3" x2="554.2" y2="530.3" stroke="#ccc" stroke-width="0.3"/>
<path d="M509.9 530.6V544.7M510.8 530.6V544.7M511.7 530.6V544.7M521.0 530.6V544.7M524.1 530.6V544.7M525.1 530.6V544.7M539.0 530.6V544.7M541.6 530.6V544.7M543.5 530.6V544.7M545.3 530.6V544.7M545.9 530.6V544.7M547.0 530.6V544.7" stroke="#cccccc" stroke-width="0.5" fill="none"/>
<path d="M498.8 530.6V544.7M500.7 530.6V544.7M505.5 530.6V544.7M505.7 530.6V544.7M509.7 530.6V544.7M510.2 530.6V544.7M514.4 530.6V544.7M517.7 530.6V544.7M521.5 530.6V544.7M523.1 530.6V544.7M528.2 530.6V544.7M529.2 530.6V544.7M530.1 530.6V544.7M537.9 530.6V544.7M544.0 530.6V544.7" stroke="#acacac" stroke-width="0.5" fill="none"/>
<path d="M481.4 530.6V544.7M486.7 530.6V544.7M502.1 530.6V544.7M502.2 530.6V544.7M507.6 530.6V544.7M514.2 530.6V544.7M515.5 530.6V544.7M515.9 530.6V544.7M517.8 530.6V544.7M520.7 530.6V544.7M521.3 530.6V544.7M521.9 530.6V544.7M522.7 530.6V544.7M526.8 530.6V544.7M528.0 530.6V544.7M535.8 530.6V544.7M536.6 530.6V544.7M541.8 530.6V544.7" stroke="#8c8c8c" stroke-width="0.5" fill="none"/>
<path d="M468.7 530.6V544.7M470.0 530.6V544.7M474.6 530.6V544.7M480.8 530.6V544.7M481.3 530.6V544.7M487.1 530.6V544.7M497.3 530.6V544.7M500.5 530.6V544.7M507.7 530.6V544.7M509.0 530.6V544.7M517.9 530.6V544.7" stroke="#6c6c6c" stroke-width="0.5" fill="none"/>
<path d="M457.3 530.6V544.7M457.3 530.6V544.7M459.7 530.6V544.7M460.2 530.6V544.7M462.9 530.6V544.7M465.7 530.6V544.7M467.9 530.6V544.7M469.8 530.6V544.7M471.1 530.6V544.7M475.9 530.6V544.7M477.9 530.6V544.7M485.7 530.6V544.7M489.1 530.6V544.7M490.1 530.6V544.7M492.3 530.6V544.7M494.1 530.6V544.7M495.1 530.6V544.7" stroke="#4c4c4c" stroke-width="0.5" fill="none"/>
<path d="M451.0 530.6V544.7M451.2 530.6V544.7M454.1 530.6V544.7M456.2 530.6V544.7M457.4 530.6V544.7M458.1 530.6V544.7M458.2 530.6V544.7M458.5 530.6V544.7M460.4 530.6V544.7M461.5 530.6V544.7M466.7 530.6V544.7M467.6 530.6V544.7M470.1 530.6V544.7M471.0 530.6V544.7M476.6 530.6V544.7M479.2 530.6V544.7M479.3 530.6V544.7" stroke="#2c2c2c" stroke-width="0.5" fill="none"/>
<path d="M450.9 530.6V544.7M451.8 530.6V544.7M452.1 530.6V544.7M452.2 530.6V544.7M452.7 530.6V544.7M453.8 530.6V544.7M454.0 530.6V544.7M454.9 530.6V544.7M456.4 530.6V544.7M456.9 530.6V544.7M458.2 530.6V544.7M460.1 530.6V544.7M460.3 530.6V544.7M463.8 530.6V544.7M464.4 530.6V544.7M465.7 530.6V544.7M473.4 530.6V544.7" stroke="#000000" stroke-width="0.5" fill="none"/>
<rect x="449.9" y="544.7" width="99.1" height="4.3" fill="url(#rb)"/>
<rect x="562" y="475.2" width="117.5" height="74.1" fill="#efefef"/>
<rect x="575.2" y="486.6" width="103.4" height="62.8" fill="#fff"/>
<line x1="585.05" y1="486.6" x2="585.05" y2="549" stroke="#eeeeee" stroke-width="0.3"/>
<line x1="594.9" y1="486.6" x2="594.9" y2="549" stroke="#eeeeee" stroke-width="0.3"/>
<line x1="604.75" y1="486.6" x2="604.75" y2="549" stroke="#eeeeee" stroke-width="0.3"/>
<line x1="614.6" y1="486.6" x2="614.6" y2="549" stroke="#eeeeee" stroke-width="0.3"/>
<line x1="624.45" y1="486.6" x2="624.45" y2="549" stroke="#eeeeee" stroke-width="0.3"/>
<line x1="634.3" y1="486.6" x2="634.3" y2="549" stroke="#eeeeee" stroke-width="0.3"/>
<line x1="644.15" y1="486.6" x2="644.15" y2="549" stroke="#eeeeee" stroke-width="0.3"/>
<line x1="654" y1="486.6" x2="654" y2="549" stroke="#eeeeee" stroke-width="0.3"/>
<line x1="663.85" y1="486.6" x2="663.85" y2="549" stroke="#eeeeee" stroke-width="0.3"/>
<text x="620.75" y="480.1" font-size="4.8" font-weight="bold" text-anchor="middle" fill="#111">Enrichment plot:</text>
<text x="620.75" y="485.7" font-size="4.8" font-weight="bold" text-anchor="middle" fill="#111">HALLMARK_INTERFERON_ALPHA_RESPONSE</text>
<line x1="575.2" y1="486.6" x2="575.2" y2="530.3" stroke="#999" stroke-width="0.3"/>
<line x1="575.2" y1="490.85" x2="678.6" y2="490.85" stroke="#eeeeee" stroke-width="0.3"/>
<text x="574" y="491.85" font-size="3.1" text-anchor="end" fill="#333">0.7</text>
<line x1="575.2" y1="496.26" x2="678.6" y2="496.26" stroke="#eeeeee" stroke-width="0.3"/>
<text x="574" y="497.26" font-size="3.1" text-anchor="end" fill="#333">0.6</text>
<line x1="575.2" y1="501.68" x2="678.6" y2="501.68" stroke="#eeeeee" stroke-width="0.3"/>
<text x="574" y="502.68" font-size="3.1" text-anchor="end" fill="#333">0.5</text>
<line x1="575.2" y1="507.1" x2="678.6" y2="507.1" stroke="#eeeeee" stroke-width="0.3"/>
<text x="574" y="508.1" font-size="3.1" text-anchor="end" fill="#333">0.4</text>
<line x1="575.2" y1="512.51" x2="678.6" y2="512.51" stroke="#eeeeee" stroke-width="0.3"/>
<text x="574" y="513.51" font-size="3.1" text-anchor="end" fill="#333">0.3</text>
<line x1="575.2" y1="517.93" x2="678.6" y2="517.93" stroke="#eeeeee" stroke-width="0.3"/>
<text x="574" y="518.93" font-size="3.1" text-anchor="end" fill="#333">0.2</text>
<line x1="575.2" y1="523.34" x2="678.6" y2="523.34" stroke="#eeeeee" stroke-width="0.3"/>
<text x="574" y="524.34" font-size="3.1" text-anchor="end" fill="#333">0.1</text>
<line x1="575.2" y1="528.76" x2="678.6" y2="528.76" stroke="#eeeeee" stroke-width="0.3"/>
<text x="574" y="529.76" font-size="3.1" text-anchor="end" fill="#333">0.0</text>
<line x1="575.2" y1="528.76" x2="678.6" y2="528.76" stroke="#aaa" stroke-width="0.35"/>
<text x="567.6" y="508.45" font-size="4.1" text-anchor="middle" fill="#444" transform="rotate(-90 567.6 508.45)">Enrichment score (ES)</text>
<path d="M575.2 529.1 L576.3 511.8 L577.4 502.3 L578.5 496.8 L579.6 493.2 L580.7 491.7 L581.8 490.7 L582.9 489.5 L584.0 489.8 L585.1 489.8 L586.1 489.7 L587.2 489.5 L588.3 489.1 L589.4 489.0 L590.5 489.0 L591.6 489.0 L592.7 489.3 L593.8 489.9 L594.9 490.0 L596.0 490.5 L597.1 491.2 L598.2 491.2 L599.3 491.7 L600.4 492.2 L601.5 492.0 L602.6 492.7 L603.7 493.4 L604.8 493.8 L605.8 493.5 L606.9 494.7 L608.0 494.8 L609.1 495.3 L610.2 495.8 L611.3 496.2 L612.4 497.0 L613.5 497.4 L614.6 497.8 L615.7 498.3 L616.8 498.5 L617.9 498.8 L619.0 500.0 L620.1 500.1 L621.2 501.0 L622.3 501.4 L623.4 501.8 L624.5 502.2 L625.5 502.9 L626.6 504.0 L627.7 503.4 L628.8 504.4 L629.9 505.1 L631.0 505.2 L632.1 506.1 L633.2 506.9 L634.3 506.9 L635.4 507.5 L636.5 508.4 L637.6 508.5 L638.7 509.2 L639.8 510.2 L640.9 509.9 L642.0 510.9 L643.1 511.9 L644.2 512.0 L645.2 512.7 L646.3 513.1 L647.4 514.3 L648.5 514.2 L649.6 514.8 L650.7 515.5 L651.8 516.1 L652.9 516.5 L654.0 517.3 L655.1 518.1 L656.2 518.9 L657.3 519.0 L658.4 519.6 L659.5 520.5 L660.6 521.1 L661.7 522.2 L662.8 523.6 L663.9 523.4 L664.9 524.8 L666.0 524.6 L667.1 524.9 L668.2 525.3 L669.3 526.5 L670.4 526.9 L671.5 527.6 L672.6 528.8 L673.7 528.5" fill="none" stroke="#3fe82a" stroke-width="0.95"/>
<line x1="575.2" y1="530.3" x2="678.6" y2="530.3" stroke="#ccc" stroke-width="0.3"/>
<path d="M637.0 530.6V544.7M643.4 530.6V544.7M657.3 530.6V544.7M663.9 530.6V544.7M664.6 530.6V544.7M672.6 530.6V544.7" stroke="#cccccc" stroke-width="0.5" fill="none"/>
<path d="M630.0 530.6V544.7M635.0 530.6V544.7M639.0 530.6V544.7M646.2 530.6V544.7M649.2 530.6V544.7M663.3 530.6V544.7M667.1 530.6V544.7M668.2 530.6V544.7M668.7 530.6V544.7M673.6 530.6V544.7" stroke="#acacac" stroke-width="0.5" fill="none"/>
<path d="M605.4 530.6V544.7M605.7 530.6V544.7M606.4 530.6V544.7M611.4 530.6V544.7M613.1 530.6V544.7M614.6 530.6V544.7M617.2 530.6V544.7M618.9 530.6V544.7M621.0 530.6V544.7M632.3 530.6V544.7M633.4 530.6V544.7M635.5 530.6V544.7M645.5 530.6V544.7M660.2 530.6V544.7" stroke="#8c8c8c" stroke-width="0.5" fill="none"/>
<path d="M590.9 530.6V544.7M595.3 530.6V544.7M603.0 530.6V544.7M605.3 530.6V544.7M606.0 530.6V544.7M610.5 530.6V544.7M611.2 530.6V544.7M612.6 530.6V544.7M614.0 530.6V544.7M615.7 530.6V544.7M616.1 530.6V544.7M616.6 530.6V544.7M617.2 530.6V544.7M622.5 530.6V544.7" stroke="#6c6c6c" stroke-width="0.5" fill="none"/>
<path d="M577.7 530.6V544.7M580.9 530.6V544.7M585.2 530.6V544.7M587.3 530.6V544.7M587.5 530.6V544.7M587.6 530.6V544.7M590.7 530.6V544.7M591.2 530.6V544.7M591.9 530.6V544.7M591.9 530.6V544.7M592.0 530.6V544.7M592.0 530.6V544.7M592.2 530.6V544.7M594.4 530.6V544.7M594.5 530.6V544.7M597.2 530.6V544.7M597.8 530.6V544.7M599.8 530.6V544.7M601.1 530.6V544.7M602.7 530.6V544.7M606.3 530.6V544.7M606.9 530.6V544.7M607.0 530.6V544.7M607.7 530.6V544.7M608.8 530.6V544.7M610.2 530.6V544.7M610.8 530.6V544.7M616.0 530.6V544.7M616.7 530.6V544.7M617.9 530.6V544.7M619.3 530.6V544.7M622.2 530.6V544.7M628.8 530.6V544.7" stroke="#4c4c4c" stroke-width="0.5" fill="none"/>
<path d="M575.9 530.6V544.7M576.9 530.6V544.7M577.6 530.6V544.7M581.7 530.6V544.7M587.6 530.6V544.7M589.6 530.6V544.7M591.9 530.6V544.7M592.1 530.6V544.7M596.3 530.6V544.7M600.0 530.6V544.7M600.9 530.6V544.7M604.4 530.6V544.7M605.5 530.6V544.7M606.3 530.6V544.7M611.0 530.6V544.7" stroke="#2c2c2c" stroke-width="0.5" fill="none"/>
<path d="M576.4 530.6V544.7M577.3 530.6V544.7M577.6 530.6V544.7M581.7 530.6V544.7M581.8 530.6V544.7M583.5 530.6V544.7M583.8 530.6V544.7M584.9 530.6V544.7M585.8 530.6V544.7M585.9 530.6V544.7M586.7 530.6V544.7M587.9 530.6V544.7M589.1 530.6V544.7M589.1 530.6V544.7M589.2 530.6V544.7M589.4 530.6V544.7M590.1 530.6V544.7M592.2 530.6V544.7M599.0 530.6V544.7" stroke="#000000" stroke-width="0.5" fill="none"/>
<rect x="575.2" y="544.7" width="98.5" height="4.3" fill="url(#rb)"/>
<text x="0" y="587.4" font-size="13.5" font-weight="bold">(E)</text>
<text x="90.3" y="583.7" font-size="8.3" font-weight="bold" text-anchor="middle">Number of</text>
<text x="91.3" y="593.5" font-size="8.3" font-weight="bold" text-anchor="middle">total clonotypes</text>
<text x="39.7" y="600" font-size="5.9" fill="#222">TCR-beta</text>
<line x1="40.2" y1="603" x2="40.2" y2="730" stroke="#777" stroke-width="0.8"/>
<line x1="40.2" y1="730" x2="144.8" y2="730" stroke="#777" stroke-width="0.8"/>
<line x1="38.8" y1="724.8" x2="40.2" y2="724.8" stroke="#333" stroke-width="0.4"/>
<text x="37.4" y="726.8" font-size="5.6" text-anchor="end" fill="#555">0</text>
<line x1="38.8" y1="696" x2="40.2" y2="696" stroke="#333" stroke-width="0.4"/>
<text x="37.4" y="698" font-size="5.6" text-anchor="end" fill="#555">1000</text>
<line x1="38.8" y1="667.2" x2="40.2" y2="667.2" stroke="#333" stroke-width="0.4"/>
<text x="37.4" y="669.2" font-size="5.6" text-anchor="end" fill="#555">2000</text>
<line x1="38.8" y1="638.4" x2="40.2" y2="638.4" stroke="#333" stroke-width="0.4"/>
<text x="37.4" y="640.4" font-size="5.6" text-anchor="end" fill="#555">3000</text>
<line x1="38.8" y1="609.6" x2="40.2" y2="609.6" stroke="#333" stroke-width="0.4"/>
<text x="37.4" y="611.6" font-size="5.6" text-anchor="end" fill="#555">4000</text>
<text x="23.5" y="666.9" font-size="6.9" font-weight="bold" text-anchor="middle" transform="rotate(-90 23.5 666.9)">Count</text>
<rect x="41.45" y="644.16" width="9.1" height="80.64" fill="#9e0142" stroke="#5e0027" stroke-width="0.55"/>
<line x1="46" y1="615.36" x2="46" y2="690.24" stroke="#111" stroke-width="0.45"/>
<line x1="45.1" y1="615.36" x2="46.9" y2="615.36" stroke="#111" stroke-width="0.45"/>
<line x1="45.1" y1="690.24" x2="46.9" y2="690.24" stroke="#111" stroke-width="0.45"/>
<circle cx="46" cy="688.8" r="0.55" fill="#111"/>
<circle cx="46" cy="687.36" r="0.55" fill="#111"/>
<circle cx="46" cy="628.32" r="0.55" fill="#111"/>
<line x1="46" y1="730" x2="46" y2="731.3" stroke="#333" stroke-width="0.4"/>
<rect x="51.75" y="709.82" width="9.1" height="14.98" fill="#d53e4f" stroke="#7f252f" stroke-width="0.55"/>
<line x1="56.3" y1="697.44" x2="56.3" y2="718.18" stroke="#111" stroke-width="0.45"/>
<line x1="55.4" y1="697.44" x2="57.2" y2="697.44" stroke="#111" stroke-width="0.45"/>
<line x1="55.4" y1="718.18" x2="57.2" y2="718.18" stroke="#111" stroke-width="0.45"/>
<circle cx="56.3" cy="716.16" r="0.55" fill="#111"/>
<circle cx="56.3" cy="713.86" r="0.55" fill="#111"/>
<circle cx="56.3" cy="698.02" r="0.55" fill="#111"/>
<line x1="56.3" y1="730" x2="56.3" y2="731.3" stroke="#333" stroke-width="0.4"/>
<rect x="62.05" y="690.24" width="9.1" height="34.56" fill="#f46d43" stroke="#924128" stroke-width="0.55"/>
<line x1="66.6" y1="667.2" x2="66.6" y2="714.72" stroke="#111" stroke-width="0.45"/>
<line x1="65.7" y1="667.2" x2="67.5" y2="667.2" stroke="#111" stroke-width="0.45"/>
<line x1="65.7" y1="714.72" x2="67.5" y2="714.72" stroke="#111" stroke-width="0.45"/>
<circle cx="66.6" cy="714.72" r="0.55" fill="#111"/>
<circle cx="66.6" cy="690.24" r="0.55" fill="#111"/>
<circle cx="66.6" cy="668.64" r="0.55" fill="#111"/>
<line x1="66.6" y1="730" x2="66.6" y2="731.3" stroke="#333" stroke-width="0.4"/>
<rect x="72.55" y="709.82" width="9.1" height="14.98" fill="#fdae61" stroke="#97683a" stroke-width="0.55"/>
<line x1="77.1" y1="700.32" x2="77.1" y2="717.6" stroke="#111" stroke-width="0.45"/>
<line x1="76.2" y1="700.32" x2="78" y2="700.32" stroke="#111" stroke-width="0.45"/>
<line x1="76.2" y1="717.6" x2="78" y2="717.6" stroke="#111" stroke-width="0.45"/>
<circle cx="77.1" cy="716.74" r="0.55" fill="#111"/>
<circle cx="77.1" cy="711.84" r="0.55" fill="#111"/>
<circle cx="77.1" cy="701.18" r="0.55" fill="#111"/>
<line x1="77.1" y1="730" x2="77.1" y2="731.3" stroke="#333" stroke-width="0.4"/>
<rect x="82.85" y="685.34" width="9.1" height="39.46" fill="#fee08b" stroke="#988653" stroke-width="0.55"/>
<line x1="87.4" y1="660" x2="87.4" y2="707.52" stroke="#111" stroke-width="0.45"/>
<line x1="86.5" y1="660" x2="88.3" y2="660" stroke="#111" stroke-width="0.45"/>
<line x1="86.5" y1="707.52" x2="88.3" y2="707.52" stroke="#111" stroke-width="0.45"/>
<circle cx="87.4" cy="707.52" r="0.55" fill="#111"/>
<circle cx="87.4" cy="689.38" r="0.55" fill="#111"/>
<circle cx="87.4" cy="660" r="0.55" fill="#111"/>
<line x1="87.4" y1="730" x2="87.4" y2="731.3" stroke="#333" stroke-width="0.4"/>
<rect x="93.05" y="719.62" width="9.1" height="5.18" fill="#e6f598" stroke="#8a935b" stroke-width="0.55"/>
<line x1="97.6" y1="717.02" x2="97.6" y2="721.92" stroke="#111" stroke-width="0.45"/>
<line x1="96.7" y1="717.02" x2="98.5" y2="717.02" stroke="#111" stroke-width="0.45"/>
<line x1="96.7" y1="721.92" x2="98.5" y2="721.92" stroke="#111" stroke-width="0.45"/>
<circle cx="97.6" cy="721.34" r="0.55" fill="#111"/>
<circle cx="97.6" cy="719.62" r="0.55" fill="#111"/>
<circle cx="97.6" cy="717.6" r="0.55" fill="#111"/>
<line x1="97.6" y1="730" x2="97.6" y2="731.3" stroke="#333" stroke-width="0.4"/>
<rect x="103.35" y="723.36" width="9.1" height="1.44" fill="#abdda4" stroke="#668462" stroke-width="0.55"/>
<line x1="107.9" y1="721.92" x2="107.9" y2="724.8" stroke="#111" stroke-width="0.45"/>
<line x1="107" y1="721.92" x2="108.8" y2="721.92" stroke="#111" stroke-width="0.45"/>
<line x1="107" y1="724.8" x2="108.8" y2="724.8" stroke="#111" stroke-width="0.45"/>
<circle cx="107.9" cy="724.22" r="0.55" fill="#111"/>
<circle cx="107.9" cy="723.36" r="0.55" fill="#111"/>
<circle cx="107.9" cy="722.21" r="0.55" fill="#111"/>
<line x1="107.9" y1="730" x2="107.9" y2="731.3" stroke="#333" stroke-width="0.4"/>
<rect x="113.85" y="709.25" width="9.1" height="15.55" fill="#66c2a5" stroke="#3d7463" stroke-width="0.55"/>
<line x1="118.4" y1="702.34" x2="118.4" y2="716.16" stroke="#111" stroke-width="0.45"/>
<line x1="117.5" y1="702.34" x2="119.3" y2="702.34" stroke="#111" stroke-width="0.45"/>
<line x1="117.5" y1="716.16" x2="119.3" y2="716.16" stroke="#111" stroke-width="0.45"/>
<circle cx="118.4" cy="715.3" r="0.55" fill="#111"/>
<circle cx="118.4" cy="709.82" r="0.55" fill="#111"/>
<circle cx="118.4" cy="702.91" r="0.55" fill="#111"/>
<line x1="118.4" y1="730" x2="118.4" y2="731.3" stroke="#333" stroke-width="0.4"/>
<rect x="124.15" y="720.77" width="9.1" height="4.03" fill="#3288bd" stroke="#1e5171" stroke-width="0.55"/>
<line x1="128.7" y1="717.89" x2="128.7" y2="723.36" stroke="#111" stroke-width="0.45"/>
<line x1="127.8" y1="717.89" x2="129.6" y2="717.89" stroke="#111" stroke-width="0.45"/>
<line x1="127.8" y1="723.36" x2="129.6" y2="723.36" stroke="#111" stroke-width="0.45"/>
<circle cx="128.7" cy="722.5" r="0.55" fill="#111"/>
<circle cx="128.7" cy="720.77" r="0.55" fill="#111"/>
<circle cx="128.7" cy="718.18" r="0.55" fill="#111"/>
<line x1="128.7" y1="730" x2="128.7" y2="731.3" stroke="#333" stroke-width="0.4"/>
<rect x="134.45" y="722.78" width="9.1" height="2.02" fill="#5e4fa2" stroke="#382f61" stroke-width="0.55"/>
<line x1="139" y1="721.63" x2="139" y2="723.94" stroke="#111" stroke-width="0.45"/>
<line x1="138.1" y1="721.63" x2="139.9" y2="721.63" stroke="#111" stroke-width="0.45"/>
<line x1="138.1" y1="723.94" x2="139.9" y2="723.94" stroke="#111" stroke-width="0.45"/>
<circle cx="139" cy="723.65" r="0.55" fill="#111"/>
<circle cx="139" cy="722.78" r="0.55" fill="#111"/>
<circle cx="139" cy="721.92" r="0.55" fill="#111"/>
<line x1="139" y1="730" x2="139" y2="731.3" stroke="#333" stroke-width="0.4"/>
<line x1="46.1" y1="612.1" x2="75.9" y2="612.1" stroke="#222" stroke-width="1.1"/>
<polygon points="55.80,606.03 56.64,607.40 58.20,607.77 57.16,608.99 57.28,610.59 55.80,609.98 54.32,610.59 54.44,608.99 53.40,607.77 54.96,607.40" fill="#111"/>
<polygon points="61.60,606.03 62.44,607.40 64.00,607.77 62.96,608.99 63.08,610.59 61.60,609.98 60.12,610.59 60.24,608.99 59.20,607.77 60.76,607.40" fill="#111"/>
<polygon points="67.40,606.03 68.24,607.40 69.80,607.77 68.76,608.99 68.88,610.59 67.40,609.98 65.92,610.59 66.04,608.99 65.00,607.77 66.56,607.40" fill="#111"/>
<line x1="48.3" y1="625.1" x2="58" y2="625.1" stroke="#222" stroke-width="1.1"/>
<polygon points="55.20,618.33 56.04,619.70 57.60,620.07 56.56,621.29 56.68,622.89 55.20,622.28 53.72,622.89 53.84,621.29 52.80,620.07 54.36,619.70" fill="#111"/>
<polygon points="61.00,618.33 61.84,619.70 63.40,620.07 62.36,621.29 62.48,622.89 61.00,622.28 59.52,622.89 59.64,621.29 58.60,620.07 60.16,619.70" fill="#111"/>
<polygon points="66.80,618.33 67.64,619.70 69.20,620.07 68.16,621.29 68.28,622.89 66.80,622.28 65.32,622.89 65.44,621.29 64.40,620.07 65.96,619.70" fill="#111"/>
<line x1="55.3" y1="643.4" x2="89" y2="643.4" stroke="#222" stroke-width="1.1"/>
<polygon points="71.70,636.73 72.54,638.10 74.10,638.47 73.06,639.69 73.18,641.29 71.70,640.68 70.22,641.29 70.34,639.69 69.30,638.47 70.86,638.10" fill="#111"/>
<line x1="79.2" y1="655" x2="89" y2="655" stroke="#222" stroke-width="1.1"/>
<polygon points="84.20,648.53 85.04,649.90 86.60,650.27 85.56,651.49 85.68,653.09 84.20,652.48 82.72,653.09 82.84,651.49 81.80,650.27 83.36,649.90" fill="#111"/>
<line x1="55.3" y1="664.4" x2="65.8" y2="664.4" stroke="#222" stroke-width="1.1"/>
<polygon points="60.60,658.23 61.44,659.60 63.00,659.97 61.96,661.19 62.08,662.79 60.60,662.18 59.12,662.79 59.24,661.19 58.20,659.97 59.76,659.60" fill="#111"/>
<line x1="67" y1="664.4" x2="76.8" y2="664.4" stroke="#222" stroke-width="1.1"/>
<polygon points="69.80,658.63 70.64,660.00 72.20,660.37 71.16,661.59 71.28,663.19 69.80,662.58 68.32,663.19 68.44,661.59 67.40,660.37 68.96,660.00" fill="#111"/>
<polygon points="75.60,658.63 76.44,660.00 78.00,660.37 76.96,661.59 77.08,663.19 75.60,662.58 74.12,663.19 74.24,661.59 73.20,660.37 74.76,660.00" fill="#111"/>
<line x1="98.3" y1="675.7" x2="116" y2="675.7" stroke="#222" stroke-width="1.1"/>
<polygon points="106.60,668.03 107.44,669.40 109.00,669.77 107.96,670.99 108.08,672.59 106.60,671.98 105.12,672.59 105.24,670.99 104.20,669.77 105.76,669.40" fill="#111"/>
<line x1="104" y1="690.4" x2="113.8" y2="690.4" stroke="#222" stroke-width="1.1"/>
<polygon points="103.30,681.53 104.14,682.90 105.70,683.27 104.66,684.49 104.78,686.09 103.30,685.48 101.82,686.09 101.94,684.49 100.90,683.27 102.46,682.90" fill="#111"/>
<polygon points="109.10,681.53 109.94,682.90 111.50,683.27 110.46,684.49 110.58,686.09 109.10,685.48 107.62,686.09 107.74,684.49 106.70,683.27 108.26,682.90" fill="#111"/>
<polygon points="114.90,681.53 115.74,682.90 117.30,683.27 116.26,684.49 116.38,686.09 114.90,685.48 113.42,686.09 113.54,684.49 112.50,683.27 114.06,682.90" fill="#111"/>
<line x1="118.9" y1="690.4" x2="140.8" y2="690.4" stroke="#222" stroke-width="1.1"/>
<polygon points="123.40,681.53 124.24,682.90 125.80,683.27 124.76,684.49 124.88,686.09 123.40,685.48 121.92,686.09 122.04,684.49 121.00,683.27 122.56,682.90" fill="#111"/>
<polygon points="129.20,681.53 130.04,682.90 131.60,683.27 130.56,684.49 130.68,686.09 129.20,685.48 127.72,686.09 127.84,684.49 126.80,683.27 128.36,682.90" fill="#111"/>
<polygon points="135.00,681.53 135.84,682.90 137.40,683.27 136.36,684.49 136.48,686.09 135.00,685.48 133.52,686.09 133.64,684.49 132.60,683.27 134.16,682.90" fill="#111"/>
<line x1="98.3" y1="702.7" x2="108.4" y2="702.7" stroke="#222" stroke-width="1.1"/>
<polygon points="100.10,696.43 100.94,697.80 102.50,698.17 101.46,699.39 101.58,700.99 100.10,700.38 98.62,700.99 98.74,699.39 97.70,698.17 99.26,697.80" fill="#111"/>
<polygon points="105.90,696.43 106.74,697.80 108.30,698.17 107.26,699.39 107.38,700.99 105.90,700.38 104.42,700.99 104.54,699.39 103.50,698.17 105.06,697.80" fill="#111"/>
<line x1="117.6" y1="700.3" x2="127.7" y2="700.3" stroke="#222" stroke-width="1.1"/>
<polygon points="117.00,693.83 117.84,695.20 119.40,695.57 118.36,696.79 118.48,698.39 117.00,697.78 115.52,698.39 115.64,696.79 114.60,695.57 116.16,695.20" fill="#111"/>
<polygon points="122.80,693.83 123.64,695.20 125.20,695.57 124.16,696.79 124.28,698.39 122.80,697.78 121.32,698.39 121.44,696.79 120.40,695.57 121.96,695.20" fill="#111"/>
<polygon points="128.60,693.83 129.44,695.20 131.00,695.57 129.96,696.79 130.08,698.39 128.60,697.78 127.12,698.39 127.24,696.79 126.20,695.57 127.76,695.20" fill="#111"/>
<rect x="97.1" y="604.4" width="5.2" height="5.75" fill="#9e0142" stroke="#444" stroke-width="0.25"/>
<circle cx="99.7" cy="607.3" r="0.35" fill="#222"/>
<text x="104.2" y="608.8" font-size="5.15" font-weight="bold" fill="#222">CD40-OE: aCD40+PD1</text>
<rect x="97.1" y="610.15" width="5.2" height="5.75" fill="#d53e4f" stroke="#444" stroke-width="0.25"/>
<circle cx="99.7" cy="613.05" r="0.35" fill="#222"/>
<text x="104.2" y="614.55" font-size="5.15" font-weight="bold" fill="#222">CD40-OE: RGS+IgG</text>
<rect x="97.1" y="615.9" width="5.2" height="5.75" fill="#f46d43" stroke="#444" stroke-width="0.25"/>
<circle cx="99.7" cy="618.8" r="0.35" fill="#222"/>
<text x="104.2" y="620.3" font-size="5.15" font-weight="bold" fill="#222">CD40-OE: Veh+aCD40</text>
<rect x="97.1" y="621.65" width="5.2" height="5.75" fill="#fdae61" stroke="#444" stroke-width="0.25"/>
<circle cx="99.7" cy="624.55" r="0.35" fill="#222"/>
<text x="104.2" y="626.05" font-size="5.15" font-weight="bold" fill="#222">CD40-OE: Veh+IgG</text>
<rect x="97.1" y="627.4" width="5.2" height="5.75" fill="#fee08b" stroke="#444" stroke-width="0.25"/>
<circle cx="99.7" cy="630.3" r="0.35" fill="#222"/>
<text x="104.2" y="631.8" font-size="5.15" font-weight="bold" fill="#222">CD40-OE Veh+PD1</text>
<rect x="97.1" y="633.15" width="5.2" height="5.75" fill="#e6f598" stroke="#444" stroke-width="0.25"/>
<circle cx="99.7" cy="636.05" r="0.35" fill="#222"/>
<text x="104.2" y="637.55" font-size="5.15" font-weight="bold" fill="#222">CD40-Ctrl: aCD40+PD1</text>
<rect x="97.1" y="638.9" width="5.2" height="5.75" fill="#abdda4" stroke="#444" stroke-width="0.25"/>
<circle cx="99.7" cy="641.8" r="0.35" fill="#222"/>
<text x="104.2" y="643.3" font-size="5.15" font-weight="bold" fill="#222">CD40-Ctrl: RGS+IgG</text>
<rect x="97.1" y="644.65" width="5.2" height="5.75" fill="#66c2a5" stroke="#444" stroke-width="0.25"/>
<circle cx="99.7" cy="647.55" r="0.35" fill="#222"/>
<text x="104.2" y="649.05" font-size="5.15" font-weight="bold" fill="#222">CD40-Ctrl: Veh+aCD40</text>
<rect x="97.1" y="650.4" width="5.2" height="5.75" fill="#3288bd" stroke="#444" stroke-width="0.25"/>
<circle cx="99.7" cy="653.3" r="0.35" fill="#222"/>
<text x="104.2" y="654.8" font-size="5.15" font-weight="bold" fill="#222">CD40-Ctrl: Veh+IgG</text>
<rect x="97.1" y="656.15" width="5.2" height="5.75" fill="#5e4fa2" stroke="#444" stroke-width="0.25"/>
<circle cx="99.7" cy="659.05" r="0.35" fill="#222"/>
<text x="104.2" y="660.55" font-size="5.15" font-weight="bold" fill="#222">CD40-Ctrl Veh+PD1</text>
<text x="0" y="751" font-size="13.8" font-weight="bold">(G)</text>
<text x="90.5" y="747.5" font-size="8.25" font-weight="bold" text-anchor="middle">Treatment effect on</text>
<text x="91.7" y="757.5" font-size="8.25" font-weight="bold" text-anchor="middle">total clonotype counts</text>
<line x1="41.6" y1="769.2" x2="41.6" y2="844.2" stroke="#333" stroke-width="0.55"/>
<line x1="41.6" y1="844" x2="146.7" y2="844" stroke="#333" stroke-width="0.55"/>
<line x1="40.3" y1="791" x2="41.6" y2="791" stroke="#333" stroke-width="0.4"/>
<text x="39.2" y="792.8" font-size="5" text-anchor="end" fill="#555">2</text>
<line x1="40.3" y1="816" x2="41.6" y2="816" stroke="#333" stroke-width="0.4"/>
<text x="39.2" y="817.8" font-size="5" text-anchor="end" fill="#555">0</text>
<line x1="40.3" y1="841" x2="41.6" y2="841" stroke="#333" stroke-width="0.4"/>
<text x="39.2" y="842.8" font-size="5" text-anchor="end" fill="#555">-2</text>
<text x="30.8" y="806.5" font-size="7.5" text-anchor="middle" fill="#111" transform="rotate(-90 30.8 806.5)">ln(treatment/control)</text>
<line x1="52.6" y1="781.62" x2="52.6" y2="809.12" stroke="#f0b43c" stroke-width="0.9"/>
<line x1="50.8" y1="781.62" x2="54.4" y2="781.62" stroke="#f0b43c" stroke-width="0.9"/>
<line x1="50.8" y1="809.12" x2="54.4" y2="809.12" stroke="#f0b43c" stroke-width="0.9"/>
<line x1="50.2" y1="795.38" x2="55" y2="795.38" stroke="#f0b43c" stroke-width="1"/>
<line x1="59.6" y1="785.38" x2="59.6" y2="812.88" stroke="#c5609a" stroke-width="0.9"/>
<line x1="57.8" y1="785.38" x2="61.4" y2="785.38" stroke="#c5609a" stroke-width="0.9"/>
<line x1="57.8" y1="812.88" x2="61.4" y2="812.88" stroke="#c5609a" stroke-width="0.9"/>
<line x1="57.2" y1="799.12" x2="62" y2="799.12" stroke="#c5609a" stroke-width="1"/>
<line x1="78.7" y1="808.5" x2="78.7" y2="836.62" stroke="#f0b43c" stroke-width="0.9"/>
<line x1="76.9" y1="808.5" x2="80.5" y2="808.5" stroke="#f0b43c" stroke-width="0.9"/>
<line x1="76.9" y1="836.62" x2="80.5" y2="836.62" stroke="#f0b43c" stroke-width="0.9"/>
<line x1="76.3" y1="822.25" x2="81.1" y2="822.25" stroke="#f0b43c" stroke-width="1"/>
<line x1="84.8" y1="785.38" x2="84.8" y2="813.5" stroke="#c5609a" stroke-width="0.9"/>
<line x1="83" y1="785.38" x2="86.6" y2="785.38" stroke="#c5609a" stroke-width="0.9"/>
<line x1="83" y1="813.5" x2="86.6" y2="813.5" stroke="#c5609a" stroke-width="0.9"/>
<line x1="82.4" y1="799.12" x2="87.2" y2="799.12" stroke="#c5609a" stroke-width="1"/>
<line x1="104.4" y1="795.38" x2="104.4" y2="822.88" stroke="#f0b43c" stroke-width="0.9"/>
<line x1="102.6" y1="795.38" x2="106.2" y2="795.38" stroke="#f0b43c" stroke-width="0.9"/>
<line x1="102.6" y1="822.88" x2="106.2" y2="822.88" stroke="#f0b43c" stroke-width="0.9"/>
<line x1="102" y1="809.12" x2="106.8" y2="809.12" stroke="#f0b43c" stroke-width="1"/>
<line x1="111" y1="776" x2="111" y2="803.5" stroke="#c5609a" stroke-width="0.9"/>
<line x1="109.2" y1="776" x2="112.8" y2="776" stroke="#c5609a" stroke-width="0.9"/>
<line x1="109.2" y1="803.5" x2="112.8" y2="803.5" stroke="#c5609a" stroke-width="0.9"/>
<line x1="108.6" y1="789.75" x2="113.4" y2="789.75" stroke="#c5609a" stroke-width="1"/>
<line x1="130.3" y1="812.25" x2="130.3" y2="839.75" stroke="#f0b43c" stroke-width="0.9"/>
<line x1="128.5" y1="812.25" x2="132.1" y2="812.25" stroke="#f0b43c" stroke-width="0.9"/>
<line x1="128.5" y1="839.75" x2="132.1" y2="839.75" stroke="#f0b43c" stroke-width="0.9"/>
<line x1="127.9" y1="826" x2="132.7" y2="826" stroke="#f0b43c" stroke-width="1"/>
<line x1="136.7" y1="799.75" x2="136.7" y2="827.25" stroke="#c5609a" stroke-width="0.9"/>
<line x1="134.9" y1="799.75" x2="138.5" y2="799.75" stroke="#c5609a" stroke-width="0.9"/>
<line x1="134.9" y1="827.25" x2="138.5" y2="827.25" stroke="#c5609a" stroke-width="0.9"/>
<line x1="134.3" y1="813.5" x2="139.1" y2="813.5" stroke="#c5609a" stroke-width="1"/>
<line x1="55.8" y1="844" x2="55.8" y2="845.4" stroke="#333" stroke-width="0.4"/>
<text x="60.1" y="850.8" font-size="7.4" text-anchor="end" fill="#111" transform="rotate(-45 60.1 850.8)">Veh+aCD40</text>
<line x1="81.7" y1="844" x2="81.7" y2="845.4" stroke="#333" stroke-width="0.4"/>
<text x="86" y="850.8" font-size="7.4" text-anchor="end" fill="#111" transform="rotate(-45 86 850.8)">Veh+PD1</text>
<line x1="107.6" y1="844" x2="107.6" y2="845.4" stroke="#333" stroke-width="0.4"/>
<text x="111.9" y="850.8" font-size="7.4" text-anchor="end" fill="#111" transform="rotate(-45 111.9 850.8)">aCD40+PD1</text>
<line x1="133.5" y1="844" x2="133.5" y2="845.4" stroke="#333" stroke-width="0.4"/>
<text x="137.8" y="850.8" font-size="7.4" text-anchor="end" fill="#111" transform="rotate(-45 137.8 850.8)">RGS+IgG</text>
<text x="82.2" y="773.1" font-size="7.1" text-anchor="middle" fill="#333">p=0.003</text>
<line x1="77.3" y1="782.6" x2="85.7" y2="782.6" stroke="#777" stroke-width="0.9"/>
<polygon points="79.00,776.94 79.80,778.24 81.28,778.60 80.29,779.76 80.41,781.28 79.00,780.70 77.59,781.28 77.71,779.76 76.72,778.60 78.20,778.24" fill="#111"/>
<polygon points="84.00,776.94 84.80,778.24 86.28,778.60 85.29,779.76 85.41,781.28 84.00,780.70 82.59,781.28 82.71,779.76 81.72,778.60 83.20,778.24" fill="#111"/>
<line x1="103.4" y1="771.4" x2="111.7" y2="771.4" stroke="#777" stroke-width="0.9"/>
<polygon points="107.40,765.64 108.20,766.94 109.68,767.30 108.69,768.46 108.81,769.98 107.40,769.40 105.99,769.98 106.11,768.46 105.12,767.30 106.60,766.94" fill="#111"/>
<text x="126.7" y="767" font-size="7.1" text-anchor="middle" fill="#333">p=0.014</text>
<circle cx="123.4" cy="773.8" r="0.6" fill="#f0b43c"/>
<text x="131.8" y="775.9" font-size="6.3" fill="#111">CD40-Ctrl</text>
<circle cx="123.4" cy="783.4" r="0.6" fill="#c5609a"/>
<text x="131.8" y="785.5" font-size="6.3" fill="#111">CD40-OE</text>
<text x="169.7" y="588" font-size="13.5" font-weight="bold">(F)</text>
<text x="243.4" y="583.7" font-size="8.3" font-weight="bold" text-anchor="middle">Number of</text>
<text x="244.3" y="593.5" font-size="8.3" font-weight="bold" text-anchor="middle">unique clonotypes</text>
<text x="194.8" y="603.2" font-size="7.3" font-weight="bold">CD40-Ctrl</text>
<line x1="196.7" y1="605.5" x2="196.7" y2="718.8" stroke="#333" stroke-width="0.55"/>
<line x1="196.7" y1="718.8" x2="300.7" y2="718.8" stroke="#333" stroke-width="0.55"/>
<line x1="195.4" y1="614.9" x2="196.7" y2="614.9" stroke="#333" stroke-width="0.4"/>
<text x="194.4" y="616.4" font-size="4.4" text-anchor="end" fill="#555">10</text>
<line x1="195.4" y1="642.1" x2="196.7" y2="642.1" stroke="#333" stroke-width="0.4"/>
<text x="194.4" y="643.6" font-size="4.4" text-anchor="end" fill="#555">8</text>
<line x1="195.4" y1="669.3" x2="196.7" y2="669.3" stroke="#333" stroke-width="0.4"/>
<text x="194.4" y="670.8" font-size="4.4" text-anchor="end" fill="#555">6</text>
<line x1="195.4" y1="696.5" x2="196.7" y2="696.5" stroke="#333" stroke-width="0.4"/>
<text x="194.4" y="698" font-size="4.4" text-anchor="end" fill="#555">4</text>
<text x="186.4" y="662.15" font-size="6.05" font-weight="bold" text-anchor="middle" fill="#222" transform="rotate(-90 186.4 662.15)">ln(Number of unique clonotypes)</text>
<line x1="208.2" y1="683.58" x2="208.2" y2="693.1" stroke="#333333" stroke-width="0.8"/>
<line x1="206.2" y1="683.58" x2="210.2" y2="683.58" stroke="#333333" stroke-width="0.8"/>
<line x1="206.2" y1="693.1" x2="210.2" y2="693.1" stroke="#333333" stroke-width="0.8"/>
<line x1="204.2" y1="688.34" x2="212.2" y2="688.34" stroke="#333333" stroke-width="0.9"/>
<circle cx="209.7" cy="684.26" r="0.45" fill="#333"/>
<circle cx="211.2" cy="686.3" r="0.45" fill="#333"/>
<circle cx="210.4" cy="692.42" r="0.45" fill="#333"/>
<line x1="208.2" y1="718.8" x2="208.2" y2="720.1" stroke="#333" stroke-width="0.4"/>
<line x1="228.6" y1="659.78" x2="228.6" y2="676.78" stroke="#b84cf0" stroke-width="0.8"/>
<line x1="226.6" y1="659.78" x2="230.6" y2="659.78" stroke="#b84cf0" stroke-width="0.8"/>
<line x1="226.6" y1="676.78" x2="230.6" y2="676.78" stroke="#b84cf0" stroke-width="0.8"/>
<line x1="224.6" y1="667.94" x2="232.6" y2="667.94" stroke="#b84cf0" stroke-width="0.9"/>
<circle cx="230.1" cy="660.46" r="0.45" fill="#333"/>
<circle cx="231.6" cy="665.9" r="0.45" fill="#333"/>
<circle cx="230.8" cy="676.1" r="0.45" fill="#333"/>
<line x1="228.6" y1="718.8" x2="228.6" y2="720.1" stroke="#333" stroke-width="0.4"/>
<line x1="248.8" y1="688.34" x2="248.8" y2="703.3" stroke="#777777" stroke-width="0.8"/>
<line x1="246.8" y1="688.34" x2="250.8" y2="688.34" stroke="#777777" stroke-width="0.8"/>
<line x1="246.8" y1="703.3" x2="250.8" y2="703.3" stroke="#777777" stroke-width="0.8"/>
<line x1="244.8" y1="695.14" x2="252.8" y2="695.14" stroke="#777777" stroke-width="0.9"/>
<circle cx="250.3" cy="689.02" r="0.45" fill="#333"/>
<circle cx="251.8" cy="693.1" r="0.45" fill="#333"/>
<circle cx="251" cy="702.62" r="0.45" fill="#333"/>
<line x1="248.8" y1="718.8" x2="248.8" y2="720.1" stroke="#333" stroke-width="0.4"/>
<line x1="269.1" y1="676.78" x2="269.1" y2="693.1" stroke="#2233ee" stroke-width="0.8"/>
<line x1="267.1" y1="676.78" x2="271.1" y2="676.78" stroke="#2233ee" stroke-width="0.8"/>
<line x1="267.1" y1="693.1" x2="271.1" y2="693.1" stroke="#2233ee" stroke-width="0.8"/>
<line x1="265.1" y1="685.62" x2="273.1" y2="685.62" stroke="#2233ee" stroke-width="0.9"/>
<circle cx="270.6" cy="677.46" r="0.45" fill="#333"/>
<circle cx="272.1" cy="683.58" r="0.45" fill="#333"/>
<circle cx="271.3" cy="692.42" r="0.45" fill="#333"/>
<line x1="269.1" y1="718.8" x2="269.1" y2="720.1" stroke="#333" stroke-width="0.4"/>
<line x1="289.5" y1="690.38" x2="289.5" y2="713.5" stroke="#ee3333" stroke-width="0.8"/>
<line x1="287.5" y1="690.38" x2="291.5" y2="690.38" stroke="#ee3333" stroke-width="0.8"/>
<line x1="287.5" y1="713.5" x2="291.5" y2="713.5" stroke="#ee3333" stroke-width="0.8"/>
<line x1="285.5" y1="701.94" x2="293.5" y2="701.94" stroke="#ee3333" stroke-width="0.9"/>
<circle cx="291" cy="691.06" r="0.45" fill="#333"/>
<circle cx="292.5" cy="699.9" r="0.45" fill="#333"/>
<circle cx="291.7" cy="712.82" r="0.45" fill="#333"/>
<line x1="289.5" y1="718.8" x2="289.5" y2="720.1" stroke="#333" stroke-width="0.4"/>
<line x1="208.3" y1="632" x2="228.9" y2="632" stroke="#bbbbbb" stroke-width="1"/>
<polygon points="216.30,626.57 216.94,627.61 218.13,627.90 217.33,628.83 217.43,630.05 216.30,629.58 215.17,630.05 215.27,628.83 214.47,627.90 215.66,627.61" fill="#111"/>
<polygon points="221.30,626.57 221.94,627.61 223.13,627.90 222.33,628.83 222.43,630.05 221.30,629.58 220.17,630.05 220.27,628.83 219.47,627.90 220.66,627.61" fill="#111"/>
<line x1="231.1" y1="623.8" x2="248.6" y2="623.8" stroke="#bbbbbb" stroke-width="1"/>
<polygon points="233.50,618.37 234.14,619.41 235.33,619.70 234.53,620.63 234.63,621.85 233.50,621.38 232.37,621.85 232.47,620.63 231.67,619.70 232.86,619.41" fill="#111"/>
<polygon points="238.50,618.37 239.14,619.41 240.33,619.70 239.53,620.63 239.63,621.85 238.50,621.38 237.37,621.85 237.47,620.63 236.67,619.70 237.86,619.41" fill="#111"/>
<polygon points="243.50,618.37 244.14,619.41 245.33,619.70 244.53,620.63 244.63,621.85 243.50,621.38 242.37,621.85 242.47,620.63 241.67,619.70 242.86,619.41" fill="#111"/>
<line x1="228.5" y1="615.9" x2="269.1" y2="615.9" stroke="#bbbbbb" stroke-width="1"/>
<polygon points="248.20,610.47 248.84,611.51 250.03,611.80 249.23,612.73 249.33,613.95 248.20,613.48 247.07,613.95 247.17,612.73 246.37,611.80 247.56,611.51" fill="#111"/>
<line x1="228.5" y1="608.1" x2="289.5" y2="608.1" stroke="#bbbbbb" stroke-width="1"/>
<polygon points="243.60,602.67 244.24,603.71 245.43,604.00 244.63,604.93 244.73,606.15 243.60,605.68 242.47,606.15 242.57,604.93 241.77,604.00 242.96,603.71" fill="#111"/>
<polygon points="248.60,602.67 249.24,603.71 250.43,604.00 249.63,604.93 249.73,606.15 248.60,605.68 247.47,606.15 247.57,604.93 246.77,604.00 247.96,603.71" fill="#111"/>
<polygon points="253.60,602.67 254.24,603.71 255.43,604.00 254.63,604.93 254.73,606.15 253.60,605.68 252.47,606.15 252.57,604.93 251.77,604.00 252.96,603.71" fill="#111"/>
<line x1="218.4" y1="647.6" x2="218.4" y2="635.5" stroke="#b366ff" stroke-width="0.8"/>
<path d="M216.8 636.6 L218.4 632.8 L220.0 636.6 Z" fill="#b366ff" stroke="none" stroke-width="0.6"/>
<text x="220.8" y="645.9" font-size="7.25" font-weight="bold" fill="#b366ff">5.26-fold increase</text>
<text x="197.9" y="738.6" font-size="7.3" font-weight="bold">CD40-OE</text>
<line x1="195.5" y1="736.4" x2="195.5" y2="843.8" stroke="#333" stroke-width="0.55"/>
<line x1="195.5" y1="843.8" x2="299.5" y2="843.8" stroke="#333" stroke-width="0.55"/>
<line x1="194.2" y1="740.6" x2="195.5" y2="740.6" stroke="#333" stroke-width="0.4"/>
<text x="193.2" y="742.1" font-size="4.4" text-anchor="end" fill="#555">10</text>
<line x1="194.2" y1="767.6" x2="195.5" y2="767.6" stroke="#333" stroke-width="0.4"/>
<text x="193.2" y="769.1" font-size="4.4" text-anchor="end" fill="#555">8</text>
<line x1="194.2" y1="794.6" x2="195.5" y2="794.6" stroke="#333" stroke-width="0.4"/>
<text x="193.2" y="796.1" font-size="4.4" text-anchor="end" fill="#555">6</text>
<line x1="194.2" y1="821.6" x2="195.5" y2="821.6" stroke="#333" stroke-width="0.4"/>
<text x="193.2" y="823.1" font-size="4.4" text-anchor="end" fill="#555">4</text>
<text x="185.2" y="790.1" font-size="6.05" font-weight="bold" text-anchor="middle" fill="#222" transform="rotate(-90 185.2 790.1)">ln(Number of unique clonotypes)</text>
<line x1="208.2" y1="784.48" x2="208.2" y2="802.02" stroke="#333333" stroke-width="0.8"/>
<line x1="206.2" y1="784.48" x2="210.2" y2="784.48" stroke="#333333" stroke-width="0.8"/>
<line x1="206.2" y1="802.02" x2="210.2" y2="802.02" stroke="#333333" stroke-width="0.8"/>
<line x1="204.2" y1="793.25" x2="212.2" y2="793.25" stroke="#333333" stroke-width="0.9"/>
<circle cx="209.7" cy="785.15" r="0.45" fill="#333"/>
<circle cx="211.2" cy="791.23" r="0.45" fill="#333"/>
<circle cx="210.4" cy="801.35" r="0.45" fill="#333"/>
<line x1="208.2" y1="843.8" x2="208.2" y2="845.1" stroke="#333" stroke-width="0.4"/>
<line x1="228.6" y1="772.33" x2="228.6" y2="794.6" stroke="#b84cf0" stroke-width="0.8"/>
<line x1="226.6" y1="772.33" x2="230.6" y2="772.33" stroke="#b84cf0" stroke-width="0.8"/>
<line x1="226.6" y1="794.6" x2="230.6" y2="794.6" stroke="#b84cf0" stroke-width="0.8"/>
<line x1="224.6" y1="783.12" x2="232.6" y2="783.12" stroke="#b84cf0" stroke-width="0.9"/>
<circle cx="230.1" cy="773" r="0.45" fill="#333"/>
<circle cx="231.6" cy="781.1" r="0.45" fill="#333"/>
<circle cx="230.8" cy="793.93" r="0.45" fill="#333"/>
<line x1="228.6" y1="843.8" x2="228.6" y2="845.1" stroke="#333" stroke-width="0.4"/>
<line x1="248.8" y1="771.65" x2="248.8" y2="788.52" stroke="#777777" stroke-width="0.8"/>
<line x1="246.8" y1="771.65" x2="250.8" y2="771.65" stroke="#777777" stroke-width="0.8"/>
<line x1="246.8" y1="788.52" x2="250.8" y2="788.52" stroke="#777777" stroke-width="0.8"/>
<line x1="244.8" y1="780.43" x2="252.8" y2="780.43" stroke="#777777" stroke-width="0.9"/>
<circle cx="250.3" cy="772.33" r="0.45" fill="#333"/>
<circle cx="251.8" cy="778.4" r="0.45" fill="#333"/>
<circle cx="251" cy="787.85" r="0.45" fill="#333"/>
<line x1="248.8" y1="843.8" x2="248.8" y2="845.1" stroke="#333" stroke-width="0.4"/>
<line x1="269.1" y1="762.88" x2="269.1" y2="779.75" stroke="#2233ee" stroke-width="0.8"/>
<line x1="267.1" y1="762.88" x2="271.1" y2="762.88" stroke="#2233ee" stroke-width="0.8"/>
<line x1="267.1" y1="779.75" x2="271.1" y2="779.75" stroke="#2233ee" stroke-width="0.8"/>
<line x1="265.1" y1="770.3" x2="273.1" y2="770.3" stroke="#2233ee" stroke-width="0.9"/>
<circle cx="270.6" cy="763.55" r="0.45" fill="#333"/>
<circle cx="272.1" cy="768.27" r="0.45" fill="#333"/>
<circle cx="271.3" cy="779.08" r="0.45" fill="#333"/>
<line x1="269.1" y1="843.8" x2="269.1" y2="845.1" stroke="#333" stroke-width="0.4"/>
<line x1="289.5" y1="784.48" x2="289.5" y2="806.08" stroke="#ee3333" stroke-width="0.8"/>
<line x1="287.5" y1="784.48" x2="291.5" y2="784.48" stroke="#ee3333" stroke-width="0.8"/>
<line x1="287.5" y1="806.08" x2="291.5" y2="806.08" stroke="#ee3333" stroke-width="0.8"/>
<line x1="285.5" y1="795.27" x2="293.5" y2="795.27" stroke="#ee3333" stroke-width="0.9"/>
<circle cx="291" cy="785.15" r="0.45" fill="#333"/>
<circle cx="292.5" cy="793.25" r="0.45" fill="#333"/>
<circle cx="291.7" cy="805.4" r="0.45" fill="#333"/>
<line x1="289.5" y1="843.8" x2="289.5" y2="845.1" stroke="#333" stroke-width="0.4"/>
<line x1="207.9" y1="766" x2="248.2" y2="766" stroke="#777" stroke-width="0.9"/>
<polygon points="228.00,760.57 228.64,761.61 229.83,761.90 229.03,762.83 229.13,764.05 228.00,763.58 226.87,764.05 226.97,762.83 226.17,761.90 227.36,761.61" fill="#111"/>
<line x1="207.9" y1="756.9" x2="269.1" y2="756.9" stroke="#777" stroke-width="0.9"/>
<polygon points="236.00,751.47 236.64,752.51 237.83,752.80 237.03,753.73 237.13,754.95 236.00,754.48 234.87,754.95 234.97,753.73 234.17,752.80 235.36,752.51" fill="#111"/>
<polygon points="241.00,751.47 241.64,752.51 242.83,752.80 242.03,753.73 242.13,754.95 241.00,754.48 239.87,754.95 239.97,753.73 239.17,752.80 240.36,752.51" fill="#111"/>
<line x1="268.6" y1="749.2" x2="289" y2="749.2" stroke="#777" stroke-width="0.9"/>
<polygon points="273.80,743.77 274.44,744.81 275.63,745.10 274.83,746.03 274.93,747.25 273.80,746.78 272.67,747.25 272.77,746.03 271.97,745.10 273.16,744.81" fill="#111"/>
<polygon points="278.80,743.77 279.44,744.81 280.63,745.10 279.83,746.03 279.93,747.25 278.80,746.78 277.67,747.25 277.77,746.03 276.97,745.10 278.16,744.81" fill="#111"/>
<polygon points="283.80,743.77 284.44,744.81 285.63,745.10 284.83,746.03 284.93,747.25 283.80,746.78 282.67,747.25 282.77,746.03 281.97,745.10 283.16,744.81" fill="#111"/>
<line x1="238.3" y1="829.8" x2="238.3" y2="759.5" stroke="#3355ff" stroke-width="0.9"/>
<path d="M236.6 760.6 L238.3 756.0 L240.0 760.6 Z" fill="#3355ff" stroke="none" stroke-width="0.6"/>
<text x="240.6" y="828.2" font-size="7.25" font-weight="bold" fill="#3355ff">8.36-fold increase</text>
<text x="211.2" y="851" font-size="7.4" text-anchor="end" fill="#111" transform="rotate(-45 211.2 851)">Veh+IgG</text>
<text x="231.6" y="851" font-size="7.4" text-anchor="end" fill="#111" transform="rotate(-45 231.6 851)">Veh+aCD40</text>
<text x="251.8" y="851" font-size="7.4" text-anchor="end" fill="#111" transform="rotate(-45 251.8 851)">Veh+PD1</text>
<text x="272.1" y="851" font-size="7.4" text-anchor="end" fill="#111" transform="rotate(-45 272.1 851)">aCD40+PD1</text>
<text x="292.5" y="851" font-size="7.4" text-anchor="end" fill="#111" transform="rotate(-45 292.5 851)">RGS+IgG</text>
<text x="318" y="588" font-size="13.5" font-weight="bold">(H)</text>
<text x="404.2" y="583.9" font-size="8.3" font-weight="bold" text-anchor="middle">Distribution of</text>
<text x="405.2" y="594.4" font-size="8.3" font-weight="bold" text-anchor="middle">clonotype abundances</text>
<text x="368.6" y="607.5" font-size="6.9" font-weight="bold" text-anchor="middle">CD40-Ctrl</text>
<text x="431.7" y="607.5" font-size="6.9" font-weight="bold" text-anchor="middle">CD40-OE</text>
<line x1="341" y1="606.8" x2="341" y2="652.8" stroke="#888" stroke-width="0.5"/>
<line x1="464.4" y1="606.8" x2="464.4" y2="652.8" stroke="#888" stroke-width="0.5"/>
<line x1="341" y1="619.9" x2="464.4" y2="619.9" stroke="#bbb" stroke-width="0.45" stroke-dasharray="1.8 1.2"/>
<line x1="339.8" y1="619.9" x2="341" y2="619.9" stroke="#555" stroke-width="0.4"/>
<text x="338.9" y="621.7" font-size="5.3" text-anchor="end" fill="#333">100</text>
<line x1="341" y1="635.1" x2="464.4" y2="635.1" stroke="#bbb" stroke-width="0.45" stroke-dasharray="1.8 1.2"/>
<line x1="339.8" y1="635.1" x2="341" y2="635.1" stroke="#555" stroke-width="0.4"/>
<text x="338.9" y="636.9" font-size="5.3" text-anchor="end" fill="#333">10</text>
<line x1="341" y1="650.3" x2="464.4" y2="650.3" stroke="#bbb" stroke-width="0.45" stroke-dasharray="1.8 1.2"/>
<line x1="339.8" y1="650.3" x2="341" y2="650.3" stroke="#555" stroke-width="0.4"/>
<text x="338.9" y="652.1" font-size="5.3" text-anchor="end" fill="#333">1</text>
<path d="M342.8 627.6 L343.9 629.3 L345.0 632.5 L346.1 637.3 L347.2 642.8 L348.3 646.7 L349.5 647.6 L350.6 646.7 L351.7 644.3 L352.8 642.1 L353.9 639.1 L355.0 636.4 L356.1 635.7 L356.6 641.4 L357.2 637.8 L357.7 640.3 L358.2 646.9 L358.7 641.2 L359.3 642.7 L359.8 646.5 L360.3 648.1 L360.9 650.3 L361.2 650.3" fill="none" stroke="#e8743b" stroke-width="0.55" stroke-linejoin="round"/>
<path d="M342.8 633.4 L343.9 633.6 L345.0 635.8 L346.1 638.0 L347.2 640.6 L348.3 642.4 L349.5 643.0 L350.6 642.8 L351.7 641.0 L352.8 638.9 L353.9 637.4 L355.0 635.9 L356.1 635.4 L356.5 636.5 L356.9 640.0 L357.3 643.1 L357.7 639.3 L358.2 640.8 L358.6 643.5 L359.0 646.0 L359.4 650.3 L359.8 650.3 L360.1 650.3" fill="none" stroke="#e8743b" stroke-width="0.55" stroke-linejoin="round"/>
<path d="M342.8 635.1 L344.0 636.1 L345.2 638.5 L346.4 642.1 L347.5 645.9 L348.7 648.0 L349.9 649.3 L351.1 647.7 L352.3 646.1 L353.5 642.6 L354.7 639.7 L355.8 637.1 L357.0 636.8 L357.5 635.3 L358.0 641.5 L358.5 645.5 L358.9 642.8 L359.4 643.0 L359.9 648.2 L360.4 650.3 L360.8 650.3 L361.3 646.8 L361.7 650.3" fill="none" stroke="#e8743b" stroke-width="0.55" stroke-linejoin="round"/>
<path d="M361.7 650.3 L362.2 648.7 L362.6 650.3 M356.0 650.3 L356.5 649.0 L357.0 650.3 M354.0 650.3 L354.5 638.5 L354.9 650.3 M355.3 650.3 L355.8 641.3 L356.2 650.3 M358.2 650.3 L358.7 647.3 L359.2 650.3 M361.4 650.3 L361.9 648.4 L362.3 650.3 M360.4 650.3 L360.9 648.7 L361.4 650.3 M345.6 650.3 L373.1 650.3" fill="none" stroke="#e8743b" stroke-width="0.55" stroke-linejoin="round"/>
<path d="M406.4 619.9 L407.3 620.3 L408.3 620.6 L409.2 621.5 L410.2 621.4 L411.1 622.7 L412.0 623.2 L413.0 622.5 L413.9 622.1 L414.9 621.5 L415.8 619.7 L416.7 619.4 L417.7 619.2 L418.5 624.2 L419.4 628.5 L420.2 632.1 L421.1 636.7 L421.9 640.1 L422.8 644.9 L423.7 647.7 L424.5 646.9 L425.4 650.3 L425.7 650.3" fill="none" stroke="#c9a030" stroke-width="0.55" stroke-linejoin="round"/>
<path d="M406.4 623.8 L407.3 623.8 L408.3 625.8 L409.2 627.4 L410.2 629.6 L411.1 629.9 L412.0 630.9 L413.0 630.0 L413.9 628.7 L414.9 627.3 L415.8 625.1 L416.7 623.7 L417.7 623.8 L418.5 628.7 L419.4 631.5 L420.2 631.5 L421.1 640.0 L421.9 637.0 L422.8 640.1 L423.7 644.7 L424.5 648.5 L425.4 650.3 L425.7 650.3" fill="none" stroke="#c9a030" stroke-width="0.55" stroke-linejoin="round"/>
<path d="M406.4 628.5 L407.4 628.9 L408.3 630.7 L409.3 634.3 L410.3 637.4 L411.3 639.1 L412.2 640.4 L413.2 639.0 L414.2 637.6 L415.1 634.6 L416.1 631.3 L417.1 628.9 L418.1 628.3 L418.8 632.2 L419.6 634.6 L420.3 634.9 L421.1 639.0 L421.9 643.8 L422.6 641.1 L423.4 648.6 L424.2 650.3 L424.9 650.3 L425.3 650.3" fill="none" stroke="#c9a030" stroke-width="0.55" stroke-linejoin="round"/>
<path d="M424.4 650.3 L424.9 649.9 L425.4 650.3 M422.8 650.3 L423.3 646.1 L423.7 650.3 M425.2 650.3 L425.7 649.1 L426.2 650.3 M423.9 650.3 L424.4 640.6 L424.9 650.3 M427.8 650.3 L428.3 642.8 L428.8 650.3 M426.0 650.3 L426.5 643.5 L426.9 650.3 M422.5 650.3 L423.0 650.1 L423.5 650.3 M409.2 650.3 L444.3 650.3" fill="none" stroke="#c9a030" stroke-width="0.55" stroke-linejoin="round"/>
<text x="467" y="629.6" font-size="7.1" font-weight="bold" text-anchor="middle" transform="rotate(90 467 629.6)">Veh+IgG</text>
<line x1="341" y1="656.8" x2="341" y2="702.8" stroke="#888" stroke-width="0.5"/>
<line x1="464.4" y1="656.8" x2="464.4" y2="702.8" stroke="#888" stroke-width="0.5"/>
<line x1="341" y1="669.9" x2="464.4" y2="669.9" stroke="#bbb" stroke-width="0.45" stroke-dasharray="1.8 1.2"/>
<line x1="339.8" y1="669.9" x2="341" y2="669.9" stroke="#555" stroke-width="0.4"/>
<text x="338.9" y="671.7" font-size="5.3" text-anchor="end" fill="#333">100</text>
<line x1="341" y1="685.1" x2="464.4" y2="685.1" stroke="#bbb" stroke-width="0.45" stroke-dasharray="1.8 1.2"/>
<line x1="339.8" y1="685.1" x2="341" y2="685.1" stroke="#555" stroke-width="0.4"/>
<text x="338.9" y="686.9" font-size="5.3" text-anchor="end" fill="#333">10</text>
<line x1="341" y1="700.3" x2="464.4" y2="700.3" stroke="#bbb" stroke-width="0.45" stroke-dasharray="1.8 1.2"/>
<line x1="339.8" y1="700.3" x2="341" y2="700.3" stroke="#555" stroke-width="0.4"/>
<text x="338.9" y="702.1" font-size="5.3" text-anchor="end" fill="#333">1</text>
<path d="M342.8 669.9 L343.7 669.6 L344.7 671.1 L345.6 672.6 L346.5 674.4 L347.4 674.1 L348.4 674.8 L349.3 675.1 L350.2 673.9 L351.2 673.4 L352.1 670.9 L353.0 670.9 L353.9 670.8 L355.0 676.1 L356.0 680.8 L357.1 683.2 L358.1 684.1 L359.1 686.1 L360.2 693.3 L361.2 693.6 L362.3 694.6 L363.3 697.5 L363.6 700.3" fill="none" stroke="#8db32e" stroke-width="0.55" stroke-linejoin="round"/>
<path d="M342.8 673.1 L343.7 673.8 L344.6 674.5 L345.6 674.7 L346.5 675.6 L347.4 676.9 L348.3 677.0 L349.2 676.8 L350.1 676.3 L351.1 675.3 L352.0 673.8 L352.9 673.3 L353.8 672.6 L354.9 678.0 L355.9 681.4 L357.0 682.7 L358.0 686.8 L359.1 690.6 L360.1 690.2 L361.2 698.5 L362.2 696.0 L363.3 700.3 L363.6 700.3" fill="none" stroke="#8db32e" stroke-width="0.55" stroke-linejoin="round"/>
<path d="M342.8 679.9 L343.8 680.7 L344.7 682.1 L345.7 683.9 L346.7 685.5 L347.7 686.5 L348.6 687.9 L349.6 687.0 L350.6 685.5 L351.5 684.1 L352.5 682.0 L353.5 681.0 L354.5 680.6 L355.4 686.4 L356.3 683.4 L357.2 687.5 L358.1 691.3 L359.0 689.9 L359.9 696.1 L360.8 695.4 L361.7 700.3 L362.6 700.3 L362.9 700.3" fill="none" stroke="#8db32e" stroke-width="0.55" stroke-linejoin="round"/>
<path d="M364.4 700.3 L364.8 689.2 L365.3 700.3 M364.8 700.3 L365.3 695.1 L365.8 700.3 M363.0 700.3 L363.5 696.1 L363.9 700.3 M360.2 700.3 L360.7 693.6 L361.1 700.3 M364.5 700.3 L365.0 689.8 L365.5 700.3 M363.8 700.3 L364.3 688.9 L364.7 700.3 M361.0 700.3 L361.5 698.3 L362.0 700.3 M362.1 700.3 L362.6 696.7 L363.1 700.3 M360.6 700.3 L361.1 694.7 L361.6 700.3 M345.6 700.3 L391.8 700.3" fill="none" stroke="#8db32e" stroke-width="0.55" stroke-linejoin="round"/>
<path d="M406.4 661.4 L407.3 661.9 L408.2 662.7 L409.2 663.6 L410.1 664.6 L411.0 664.5 L411.9 665.0 L412.8 665.3 L413.7 665.0 L414.7 664.8 L415.6 664.6 L416.5 664.5 L417.4 664.5 L418.5 671.2 L419.5 675.5 L420.6 678.6 L421.6 682.9 L422.7 687.2 L423.7 694.0 L424.8 691.3 L425.8 699.1 L426.9 700.3 L427.2 700.3" fill="none" stroke="#4cc94c" stroke-width="0.55" stroke-linejoin="round"/>
<path d="M406.4 665.3 L407.3 665.6 L408.2 665.9 L409.2 667.2 L410.1 668.7 L411.0 668.9 L411.9 669.6 L412.8 669.6 L413.7 668.4 L414.7 668.6 L415.6 668.0 L416.5 667.5 L417.4 667.7 L418.5 673.2 L419.5 678.2 L420.6 681.1 L421.6 687.2 L422.7 689.8 L423.7 692.4 L424.8 692.9 L425.8 697.2 L426.9 699.4 L427.2 700.3" fill="none" stroke="#4cc94c" stroke-width="0.55" stroke-linejoin="round"/>
<path d="M406.4 674.9 L407.4 675.3 L408.3 676.9 L409.3 678.1 L410.3 680.6 L411.3 680.5 L412.2 681.2 L413.2 681.2 L414.2 680.1 L415.1 678.6 L416.1 676.4 L417.1 675.1 L418.1 675.0 L419.0 680.1 L420.0 682.9 L421.0 683.2 L422.0 684.8 L423.0 691.0 L423.9 692.1 L424.9 697.9 L425.9 696.3 L426.9 697.9 L427.2 700.3" fill="none" stroke="#4cc94c" stroke-width="0.55" stroke-linejoin="round"/>
<path d="M428.7 700.3 L429.2 692.2 L429.7 700.3 M424.8 700.3 L425.3 690.5 L425.8 700.3 M431.8 700.3 L432.3 689.9 L432.7 700.3 M427.8 700.3 L428.3 691.5 L428.7 700.3 M425.8 700.3 L426.3 690.4 L426.8 700.3 M430.6 700.3 L431.1 696.3 L431.6 700.3 M423.6 700.3 L424.1 695.2 L424.6 700.3 M427.9 700.3 L428.4 691.7 L428.8 700.3 M427.3 700.3 L427.8 700.2 L428.3 700.3 M430.2 700.3 L430.7 699.9 L431.2 700.3 M430.1 700.3 L430.6 698.6 L431.1 700.3 M409.2 700.3 L462.6 700.3" fill="none" stroke="#4cc94c" stroke-width="0.55" stroke-linejoin="round"/>
<text x="467" y="679.6" font-size="7.1" font-weight="bold" text-anchor="middle" transform="rotate(90 467 679.6)">Veh+aCD40</text>
<line x1="341" y1="706.8" x2="341" y2="752.8" stroke="#888" stroke-width="0.5"/>
<line x1="464.4" y1="706.8" x2="464.4" y2="752.8" stroke="#888" stroke-width="0.5"/>
<line x1="341" y1="719.9" x2="464.4" y2="719.9" stroke="#bbb" stroke-width="0.45" stroke-dasharray="1.8 1.2"/>
<line x1="339.8" y1="719.9" x2="341" y2="719.9" stroke="#555" stroke-width="0.4"/>
<text x="338.9" y="721.7" font-size="5.3" text-anchor="end" fill="#333">100</text>
<line x1="341" y1="735.1" x2="464.4" y2="735.1" stroke="#bbb" stroke-width="0.45" stroke-dasharray="1.8 1.2"/>
<line x1="339.8" y1="735.1" x2="341" y2="735.1" stroke="#555" stroke-width="0.4"/>
<text x="338.9" y="736.9" font-size="5.3" text-anchor="end" fill="#333">10</text>
<line x1="341" y1="750.3" x2="464.4" y2="750.3" stroke="#bbb" stroke-width="0.45" stroke-dasharray="1.8 1.2"/>
<line x1="339.8" y1="750.3" x2="341" y2="750.3" stroke="#555" stroke-width="0.4"/>
<text x="338.9" y="752.1" font-size="5.3" text-anchor="end" fill="#333">1</text>
<path d="M342.8 733.4 L343.8 734.6 L344.8 736.5 L345.9 740.4 L346.9 743.9 L347.9 747.2 L348.9 747.7 L349.9 746.8 L351.0 745.7 L352.0 742.7 L353.0 740.9 L354.0 739.0 L355.1 738.5 L355.6 742.6 L356.1 741.8 L356.6 745.0 L357.2 742.9 L357.7 744.8 L358.2 746.9 L358.7 745.5 L359.3 748.8 L359.8 750.3 L360.1 750.3" fill="none" stroke="#33c48a" stroke-width="0.55" stroke-linejoin="round"/>
<path d="M342.8 736.6 L343.9 737.9 L345.0 739.6 L346.1 743.3 L347.2 747.0 L348.3 748.9 L349.5 750.3 L350.6 749.8 L351.7 746.9 L352.8 743.3 L353.9 739.6 L355.0 737.9 L356.1 736.6 L356.6 742.5 L357.2 737.1 L357.7 742.2 L358.2 744.5 L358.7 742.9 L359.3 746.0 L359.8 747.9 L360.3 747.6 L360.9 750.3 L361.2 750.3" fill="none" stroke="#33c48a" stroke-width="0.55" stroke-linejoin="round"/>
<path d="M342.8 739.7 L343.8 740.6 L344.8 742.1 L345.9 743.7 L346.9 746.9 L347.9 748.5 L348.9 748.8 L349.9 748.2 L351.0 746.5 L352.0 744.1 L353.0 742.6 L354.0 740.6 L355.1 739.6 L355.6 743.9 L356.2 742.0 L356.8 740.9 L357.4 748.0 L358.0 744.2 L358.6 750.3 L359.2 750.3 L359.8 750.3 L360.3 748.9 L360.7 750.3" fill="none" stroke="#33c48a" stroke-width="0.55" stroke-linejoin="round"/>
<path d="M354.7 750.3 L355.2 744.3 L355.7 750.3 M357.4 750.3 L357.9 748.9 L358.3 750.3 M358.4 750.3 L358.9 748.6 L359.4 750.3 M356.4 750.3 L356.9 746.1 L357.4 750.3 M353.6 750.3 L354.1 741.7 L354.5 750.3 M355.7 750.3 L356.2 744.0 L356.7 750.3 M355.5 750.3 L356.0 741.7 L356.5 750.3 M345.6 750.3 L373.6 750.3" fill="none" stroke="#33c48a" stroke-width="0.55" stroke-linejoin="round"/>
<path d="M406.4 712.1 L407.3 712.2 L408.2 712.7 L409.2 714.0 L410.1 714.8 L411.0 715.7 L411.9 715.4 L412.8 715.7 L413.7 715.3 L414.7 714.5 L415.6 713.7 L416.5 713.7 L417.4 714.5 L418.7 720.3 L420.0 724.4 L421.3 728.7 L422.6 733.1 L424.0 732.8 L425.3 737.3 L426.6 746.4 L427.9 749.0 L429.2 748.6 L429.5 750.3" fill="none" stroke="#33c3e0" stroke-width="0.55" stroke-linejoin="round"/>
<path d="M406.4 716.0 L407.3 716.3 L408.2 716.9 L409.2 717.8 L410.1 719.2 L411.0 719.6 L411.9 720.1 L412.8 720.1 L413.7 719.1 L414.7 718.6 L415.6 718.2 L416.5 718.1 L417.4 718.3 L418.7 723.1 L420.0 727.5 L421.3 732.0 L422.6 734.7 L424.0 736.7 L425.3 743.6 L426.6 747.6 L427.9 750.3 L429.2 750.3 L429.5 750.3" fill="none" stroke="#33c3e0" stroke-width="0.55" stroke-linejoin="round"/>
<path d="M406.4 721.4 L407.3 721.7 L408.2 722.9 L409.2 723.8 L410.1 725.0 L411.0 725.7 L411.9 725.9 L412.8 725.6 L413.7 724.8 L414.7 725.4 L415.6 723.8 L416.5 723.5 L417.4 722.6 L418.7 727.5 L419.9 732.1 L421.2 735.8 L422.4 737.7 L423.7 740.0 L424.9 743.3 L426.2 744.6 L427.4 750.3 L428.7 748.8 L429.0 750.3" fill="none" stroke="#33c3e0" stroke-width="0.55" stroke-linejoin="round"/>
<path d="M430.1 750.3 L430.6 747.4 L431.1 750.3 M427.5 750.3 L428.0 739.1 L428.4 750.3 M427.1 750.3 L427.6 747.2 L428.1 750.3 M425.5 750.3 L426.0 741.9 L426.5 750.3 M424.5 750.3 L425.0 737.5 L425.5 750.3 M429.8 750.3 L430.3 739.5 L430.8 750.3 M430.2 750.3 L430.7 740.4 L431.2 750.3 M427.1 750.3 L427.6 740.7 L428.1 750.3 M427.8 750.3 L428.3 736.7 L428.8 750.3 M409.2 750.3 L462.6 750.3" fill="none" stroke="#33c3e0" stroke-width="0.55" stroke-linejoin="round"/>
<text x="467" y="729.6" font-size="7.1" font-weight="bold" text-anchor="middle" transform="rotate(90 467 729.6)">Veh+PD1</text>
<line x1="341" y1="756.8" x2="341" y2="802.8" stroke="#888" stroke-width="0.5"/>
<line x1="464.4" y1="756.8" x2="464.4" y2="802.8" stroke="#888" stroke-width="0.5"/>
<line x1="341" y1="769.9" x2="464.4" y2="769.9" stroke="#bbb" stroke-width="0.45" stroke-dasharray="1.8 1.2"/>
<line x1="339.8" y1="769.9" x2="341" y2="769.9" stroke="#555" stroke-width="0.4"/>
<text x="338.9" y="771.7" font-size="5.3" text-anchor="end" fill="#333">100</text>
<line x1="341" y1="785.1" x2="464.4" y2="785.1" stroke="#bbb" stroke-width="0.45" stroke-dasharray="1.8 1.2"/>
<line x1="339.8" y1="785.1" x2="341" y2="785.1" stroke="#555" stroke-width="0.4"/>
<text x="338.9" y="786.9" font-size="5.3" text-anchor="end" fill="#333">10</text>
<line x1="341" y1="800.3" x2="464.4" y2="800.3" stroke="#bbb" stroke-width="0.45" stroke-dasharray="1.8 1.2"/>
<line x1="339.8" y1="800.3" x2="341" y2="800.3" stroke="#555" stroke-width="0.4"/>
<text x="338.9" y="802.1" font-size="5.3" text-anchor="end" fill="#333">1</text>
<path d="M342.8 778.1 L343.8 778.3 L344.8 779.4 L345.9 781.2 L346.9 782.0 L347.9 783.8 L348.9 783.8 L349.9 784.2 L351.0 783.4 L352.0 781.4 L353.0 780.3 L354.0 780.2 L355.1 779.5 L355.9 783.9 L356.7 786.5 L357.6 786.5 L358.4 793.7 L359.2 793.7 L360.1 794.8 L360.9 800.2 L361.7 799.5 L362.6 799.2 L362.9 800.3" fill="none" stroke="#3b9cf0" stroke-width="0.55" stroke-linejoin="round"/>
<path d="M342.8 782.4 L343.9 783.8 L345.0 787.0 L346.1 790.9 L347.2 796.0 L348.3 799.3 L349.5 799.9 L350.6 799.6 L351.7 796.7 L352.8 793.7 L353.9 788.1 L355.0 786.4 L356.1 785.5 L356.7 785.7 L357.4 786.0 L358.0 795.0 L358.6 792.2 L359.3 792.8 L359.9 797.9 L360.5 798.3 L361.1 800.3 L361.8 800.3 L362.1 800.3" fill="none" stroke="#3b9cf0" stroke-width="0.55" stroke-linejoin="round"/>
<path d="M359.5 800.3 L360.0 799.9 L360.4 800.3 M358.5 800.3 L359.0 793.7 L359.4 800.3 M360.8 800.3 L361.3 796.7 L361.8 800.3 M364.1 800.3 L364.6 796.2 L365.0 800.3 M364.3 800.3 L364.8 795.7 L365.2 800.3 M362.8 800.3 L363.3 800.0 L363.8 800.3 M361.2 800.3 L361.7 794.7 L362.1 800.3 M345.6 800.3 L385.3 800.3" fill="none" stroke="#3b9cf0" stroke-width="0.55" stroke-linejoin="round"/>
<path d="M406.4 757.8 L407.3 757.2 L408.2 757.9 L409.2 758.3 L410.1 758.6 L411.0 759.0 L411.9 759.0 L412.8 759.4 L413.7 759.6 L414.7 759.6 L415.6 760.2 L416.5 760.8 L417.4 760.5 L418.8 767.6 L420.2 772.1 L421.6 777.3 L423.1 781.8 L424.5 787.0 L425.9 787.6 L427.3 794.6 L428.7 800.3 L430.1 800.3 L430.4 800.3" fill="none" stroke="#b07cf5" stroke-width="0.55" stroke-linejoin="round"/>
<path d="M406.4 768.8 L407.3 768.7 L408.2 769.0 L409.2 769.3 L410.1 769.9 L411.0 769.4 L411.9 770.2 L412.8 769.0 L413.7 769.6 L414.7 769.8 L415.6 769.9 L416.5 769.6 L417.4 770.1 L418.8 776.4 L420.1 778.9 L421.5 782.5 L422.9 782.5 L424.2 787.2 L425.6 792.1 L426.9 791.1 L428.3 795.2 L429.7 799.5 L430.0 800.3" fill="none" stroke="#b07cf5" stroke-width="0.55" stroke-linejoin="round"/>
<path d="M427.3 800.3 L427.8 794.3 L428.2 800.3 M429.8 800.3 L430.3 798.7 L430.8 800.3 M426.8 800.3 L427.3 795.2 L427.7 800.3 M427.3 800.3 L427.8 796.1 L428.3 800.3 M431.4 800.3 L431.9 796.0 L432.4 800.3 M428.4 800.3 L428.9 794.7 L429.3 800.3 M429.5 800.3 L430.0 792.9 L430.5 800.3 M430.4 800.3 L430.9 791.2 L431.3 800.3 M433.6 800.3 L434.0 793.3 L434.5 800.3 M428.2 800.3 L428.7 799.6 L429.1 800.3 M433.1 800.3 L433.6 792.9 L434.1 800.3 M431.1 800.3 L431.6 797.0 L432.1 800.3 M428.4 800.3 L428.9 793.7 L429.4 800.3 M430.6 800.3 L431.1 794.6 L431.6 800.3 M431.2 800.3 L431.6 793.1 L432.1 800.3 M427.8 800.3 L428.3 798.2 L428.8 800.3 M409.2 800.3 L462.6 800.3" fill="none" stroke="#b07cf5" stroke-width="0.55" stroke-linejoin="round"/>
<text x="467" y="779.6" font-size="7.1" font-weight="bold" text-anchor="middle" transform="rotate(90 467 779.6)">aCD40+PD1</text>
<line x1="341" y1="806.8" x2="341" y2="852.8" stroke="#888" stroke-width="0.5"/>
<line x1="464.4" y1="806.8" x2="464.4" y2="852.8" stroke="#888" stroke-width="0.5"/>
<line x1="341" y1="819.9" x2="464.4" y2="819.9" stroke="#bbb" stroke-width="0.45" stroke-dasharray="1.8 1.2"/>
<line x1="339.8" y1="819.9" x2="341" y2="819.9" stroke="#555" stroke-width="0.4"/>
<text x="338.9" y="821.7" font-size="5.3" text-anchor="end" fill="#333">100</text>
<line x1="341" y1="835.1" x2="464.4" y2="835.1" stroke="#bbb" stroke-width="0.45" stroke-dasharray="1.8 1.2"/>
<line x1="339.8" y1="835.1" x2="341" y2="835.1" stroke="#555" stroke-width="0.4"/>
<text x="338.9" y="836.9" font-size="5.3" text-anchor="end" fill="#333">10</text>
<line x1="341" y1="850.3" x2="464.4" y2="850.3" stroke="#bbb" stroke-width="0.45" stroke-dasharray="1.8 1.2"/>
<line x1="339.8" y1="850.3" x2="341" y2="850.3" stroke="#555" stroke-width="0.4"/>
<text x="338.9" y="852.1" font-size="5.3" text-anchor="end" fill="#333">1</text>
<path d="M342.8 835.1 L343.8 835.7 L344.8 838.2 L345.9 842.8 L346.9 846.4 L347.9 849.3 L348.9 850.1 L349.9 849.3 L351.0 847.2 L352.0 843.2 L353.0 839.7 L354.0 837.3 L355.1 836.5 L355.6 837.6 L356.1 840.3 L356.6 841.3 L357.2 844.7 L357.7 845.3 L358.2 848.7 L358.7 849.0 L359.3 847.2 L359.8 847.7 L360.1 850.3" fill="none" stroke="#ee66dd" stroke-width="0.55" stroke-linejoin="round"/>
<path d="M342.8 838.5 L343.7 839.0 L344.6 840.6 L345.6 843.0 L346.5 845.2 L347.4 847.4 L348.3 847.6 L349.2 847.2 L350.1 845.3 L351.1 842.4 L352.0 839.9 L352.9 838.4 L353.8 838.0 L354.5 841.0 L355.1 840.9 L355.8 840.9 L356.5 841.0 L357.1 846.0 L357.8 847.7 L358.5 850.3 L359.1 846.3 L359.8 850.3 L360.1 850.3" fill="none" stroke="#ee66dd" stroke-width="0.55" stroke-linejoin="round"/>
<path d="M342.8 841.1 L343.9 842.5 L345.0 843.1 L346.1 845.5 L347.2 848.5 L348.3 849.6 L349.5 850.3 L350.6 849.0 L351.7 847.2 L352.8 844.3 L353.9 841.5 L355.0 839.4 L356.1 838.6 L356.6 839.0 L357.1 843.7 L357.5 846.1 L358.0 845.7 L358.5 844.1 L358.9 848.0 L359.4 850.3 L359.9 847.6 L360.3 849.8 L360.7 850.3" fill="none" stroke="#ee66dd" stroke-width="0.55" stroke-linejoin="round"/>
<path d="M359.9 850.3 L360.4 839.0 L360.9 850.3 M359.9 850.3 L360.4 844.4 L360.8 850.3 M358.7 850.3 L359.2 846.3 L359.6 850.3 M353.3 850.3 L353.8 844.9 L354.3 850.3 M360.1 850.3 L360.6 839.4 L361.1 850.3 M352.6 850.3 L353.0 845.4 L353.5 850.3 M345.6 850.3 L364.2 850.3" fill="none" stroke="#ee66dd" stroke-width="0.55" stroke-linejoin="round"/>
<path d="M406.4 819.9 L407.4 819.7 L408.4 820.9 L409.5 821.4 L410.5 822.7 L411.5 822.9 L412.5 823.1 L413.5 822.6 L414.6 822.1 L415.6 821.5 L416.6 819.8 L417.6 819.6 L418.7 818.7 L419.6 823.7 L420.5 828.1 L421.4 832.2 L422.3 839.0 L423.2 838.4 L424.1 841.3 L425.1 844.1 L426.0 843.9 L426.9 849.2 L427.2 850.3" fill="none" stroke="#f0609a" stroke-width="0.55" stroke-linejoin="round"/>
<path d="M406.4 826.8 L407.4 827.3 L408.3 829.0 L409.3 831.5 L410.3 833.2 L411.3 834.4 L412.2 835.0 L413.2 834.7 L414.2 834.2 L415.1 831.7 L416.1 830.3 L417.1 829.1 L418.1 828.7 L419.0 832.9 L419.9 837.6 L420.8 835.9 L421.7 840.0 L422.6 840.3 L423.5 845.2 L424.4 847.7 L425.3 844.8 L426.2 849.0 L426.5 850.3" fill="none" stroke="#f0609a" stroke-width="0.55" stroke-linejoin="round"/>
<path d="M406.4 830.5 L407.4 831.2 L408.4 832.9 L409.5 834.5 L410.5 836.6 L411.5 838.4 L412.5 838.2 L413.5 838.1 L414.6 836.3 L415.6 834.9 L416.6 832.2 L417.6 831.5 L418.7 830.2 L419.5 830.5 L420.3 835.4 L421.2 838.6 L422.0 839.3 L422.8 840.6 L423.7 845.4 L424.5 847.3 L425.3 850.3 L426.2 848.5 L426.5 850.3" fill="none" stroke="#f0609a" stroke-width="0.55" stroke-linejoin="round"/>
<path d="M430.2 850.3 L430.7 845.2 L431.1 850.3 M424.1 850.3 L424.6 847.8 L425.1 850.3 M426.0 850.3 L426.5 846.5 L427.0 850.3 M430.0 850.3 L430.5 849.8 L431.0 850.3 M425.2 850.3 L425.7 849.1 L426.1 850.3 M427.6 850.3 L428.1 840.5 L428.6 850.3 M424.2 850.3 L424.7 849.8 L425.2 850.3 M426.3 850.3 L426.8 842.6 L427.2 850.3 M429.6 850.3 L430.1 850.1 L430.5 850.3 M409.2 850.3 L447.0 850.3" fill="none" stroke="#f0609a" stroke-width="0.55" stroke-linejoin="round"/>
<text x="467" y="829.6" font-size="7.1" font-weight="bold" text-anchor="middle" transform="rotate(90 467 829.6)">RGS+IgG</text>
<line x1="341" y1="852" x2="401.8" y2="852" stroke="#888" stroke-width="0.5"/>
<line x1="342.8" y1="852" x2="342.8" y2="853.2" stroke="#555" stroke-width="0.4"/>
<text x="341" y="854" font-size="5.1" fill="#333" transform="rotate(90 341 854)">1</text>
<line x1="358.55" y1="852" x2="358.55" y2="853.2" stroke="#555" stroke-width="0.4"/>
<text x="356.75" y="854" font-size="5.1" fill="#333" transform="rotate(90 356.75 854)">10</text>
<line x1="374.3" y1="852" x2="374.3" y2="853.2" stroke="#555" stroke-width="0.4"/>
<text x="372.5" y="854" font-size="5.1" fill="#333" transform="rotate(90 372.5 854)">100</text>
<line x1="390.05" y1="852" x2="390.05" y2="853.2" stroke="#555" stroke-width="0.4"/>
<text x="388.25" y="854" font-size="5.1" fill="#333" transform="rotate(90 388.25 854)">1000</text>
<line x1="403.6" y1="852" x2="463" y2="852" stroke="#888" stroke-width="0.5"/>
<line x1="406.4" y1="852" x2="406.4" y2="853.2" stroke="#555" stroke-width="0.4"/>
<text x="404.6" y="854" font-size="5.1" fill="#333" transform="rotate(90 404.6 854)">1</text>
<line x1="422.15" y1="852" x2="422.15" y2="853.2" stroke="#555" stroke-width="0.4"/>
<text x="420.35" y="854" font-size="5.1" fill="#333" transform="rotate(90 420.35 854)">10</text>
<line x1="437.9" y1="852" x2="437.9" y2="853.2" stroke="#555" stroke-width="0.4"/>
<text x="436.1" y="854" font-size="5.1" fill="#333" transform="rotate(90 436.1 854)">100</text>
<line x1="453.65" y1="852" x2="453.65" y2="853.2" stroke="#555" stroke-width="0.4"/>
<text x="451.85" y="854" font-size="5.1" fill="#333" transform="rotate(90 451.85 854)">1000</text>
<text x="405.8" y="870" font-size="7.1" font-weight="bold" text-anchor="middle">Abundance</text>
<text x="329" y="729" font-size="7.3" font-weight="bold" text-anchor="middle" transform="rotate(-90 329 729)">Number of clonotypes</text>
<text x="482.6" y="587.4" font-size="13.3" font-weight="bold">(I)</text>
<text x="592.8" y="585.7" font-size="8.35" font-weight="bold" text-anchor="middle">FDR for interaction test between treatment</text>
<text x="592.4" y="595.5" font-size="8.35" font-weight="bold" text-anchor="middle">and cell type estimated by genes</text>
<line x1="501.4" y1="599.9" x2="683.4" y2="599.9" stroke="#333" stroke-width="1.1"/>
<text x="524" y="615.6" font-size="6" font-weight="bold" text-anchor="middle" fill="#222">Gene</text>
<text x="569.5" y="608" font-size="6" font-weight="bold" text-anchor="middle" fill="#222">p value</text>
<text x="569.5" y="615.6" font-size="6" font-weight="bold" text-anchor="middle" fill="#222">ANOVA</text>
<text x="615" y="615.6" font-size="6" font-weight="bold" text-anchor="middle" fill="#222">FDR</text>
<text x="660.8" y="615.6" font-size="6" font-weight="bold" text-anchor="middle" fill="#222">Rank by FDR</text>
<line x1="501.4" y1="620.3" x2="683.4" y2="620.3" stroke="#333" stroke-width="1.1"/>
<text x="524" y="628.6" font-size="6.3" font-weight="bold" text-anchor="middle" fill="#222">TRBV26</text>
<text x="569.5" y="628.6" font-size="6.3" font-weight="bold" text-anchor="middle" fill="#222">0.0000</text>
<text x="615" y="628.6" font-size="6.3" font-weight="bold" text-anchor="middle" fill="#222">0.0001</text>
<text x="660.8" y="628.6" font-size="6.3" font-weight="bold" text-anchor="middle" fill="#222">1</text>
<line x1="501.4" y1="633.9" x2="683.4" y2="633.9" stroke="#d8d8d8" stroke-width="0.5"/>
<text x="524" y="642.16" font-size="6.3" text-anchor="middle" fill="#222">TRBV15</text>
<text x="569.5" y="642.16" font-size="6.3" text-anchor="middle" fill="#222">0.0000</text>
<text x="615" y="642.16" font-size="6.3" text-anchor="middle" fill="#222">0.0001</text>
<text x="660.8" y="642.16" font-size="6.3" text-anchor="middle" fill="#222">2</text>
<line x1="501.4" y1="647.46" x2="683.4" y2="647.46" stroke="#d8d8d8" stroke-width="0.5"/>
<text x="524" y="655.72" font-size="6.3" text-anchor="middle" fill="#222">TRBV16</text>
<text x="569.5" y="655.72" font-size="6.3" text-anchor="middle" fill="#222">0.0000</text>
<text x="615" y="655.72" font-size="6.3" text-anchor="middle" fill="#222">0.0002</text>
<text x="660.8" y="655.72" font-size="6.3" text-anchor="middle" fill="#222">3</text>
<line x1="501.4" y1="661.02" x2="683.4" y2="661.02" stroke="#d8d8d8" stroke-width="0.5"/>
<text x="524" y="669.28" font-size="6.3" text-anchor="middle" fill="#222">TRBV31</text>
<text x="569.5" y="669.28" font-size="6.3" text-anchor="middle" fill="#222">0.0003</text>
<text x="615" y="669.28" font-size="6.3" text-anchor="middle" fill="#222">0.0016</text>
<text x="660.8" y="669.28" font-size="6.3" text-anchor="middle" fill="#222">4</text>
<line x1="501.4" y1="674.58" x2="683.4" y2="674.58" stroke="#d8d8d8" stroke-width="0.5"/>
<text x="524" y="682.84" font-size="6.3" text-anchor="middle" fill="#222">TRBV5</text>
<text x="569.5" y="682.84" font-size="6.3" text-anchor="middle" fill="#222">0.0014</text>
<text x="615" y="682.84" font-size="6.3" text-anchor="middle" fill="#222">0.0054</text>
<text x="660.8" y="682.84" font-size="6.3" text-anchor="middle" fill="#222">5</text>
<line x1="501.4" y1="688.14" x2="683.4" y2="688.14" stroke="#d8d8d8" stroke-width="0.5"/>
<text x="524" y="696.4" font-size="6.3" text-anchor="middle" fill="#222">TRBV12-1</text>
<text x="569.5" y="696.4" font-size="6.3" text-anchor="middle" fill="#222">0.0040</text>
<text x="615" y="696.4" font-size="6.3" text-anchor="middle" fill="#222">0.0109</text>
<text x="660.8" y="696.4" font-size="6.3" text-anchor="middle" fill="#222">6</text>
<line x1="501.4" y1="701.7" x2="683.4" y2="701.7" stroke="#d8d8d8" stroke-width="0.5"/>
<text x="524" y="709.96" font-size="6.3" text-anchor="middle" fill="#222">TRBV3</text>
<text x="569.5" y="709.96" font-size="6.3" text-anchor="middle" fill="#222">0.0036</text>
<text x="615" y="709.96" font-size="6.3" text-anchor="middle" fill="#222">0.0109</text>
<text x="660.8" y="709.96" font-size="6.3" text-anchor="middle" fill="#222">7</text>
<line x1="501.4" y1="715.26" x2="683.4" y2="715.26" stroke="#d8d8d8" stroke-width="0.5"/>
<text x="524" y="723.52" font-size="6.3" text-anchor="middle" fill="#222">TRBV1</text>
<text x="569.5" y="723.52" font-size="6.3" text-anchor="middle" fill="#222">0.0068</text>
<text x="615" y="723.52" font-size="6.3" text-anchor="middle" fill="#222">0.0127</text>
<text x="660.8" y="723.52" font-size="6.3" text-anchor="middle" fill="#222">8</text>
<line x1="501.4" y1="728.82" x2="683.4" y2="728.82" stroke="#d8d8d8" stroke-width="0.5"/>
<text x="524" y="737.08" font-size="6.3" text-anchor="middle" fill="#222">TRBV13-2</text>
<text x="569.5" y="737.08" font-size="6.3" text-anchor="middle" fill="#222">0.0068</text>
<text x="615" y="737.08" font-size="6.3" text-anchor="middle" fill="#222">0.0127</text>
<text x="660.8" y="737.08" font-size="6.3" text-anchor="middle" fill="#222">9</text>
<line x1="501.4" y1="742.38" x2="683.4" y2="742.38" stroke="#d8d8d8" stroke-width="0.5"/>
<text x="524" y="750.64" font-size="6.3" text-anchor="middle" fill="#222">TRBV14</text>
<text x="569.5" y="750.64" font-size="6.3" text-anchor="middle" fill="#222">0.0060</text>
<text x="615" y="750.64" font-size="6.3" text-anchor="middle" fill="#222">0.0127</text>
<text x="660.8" y="750.64" font-size="6.3" text-anchor="middle" fill="#222">10</text>
<line x1="501.4" y1="755.94" x2="683.4" y2="755.94" stroke="#d8d8d8" stroke-width="0.5"/>
<text x="524" y="764.2" font-size="6.3" text-anchor="middle" fill="#222">TRBV19</text>
<text x="569.5" y="764.2" font-size="6.3" text-anchor="middle" fill="#222">0.0075</text>
<text x="615" y="764.2" font-size="6.3" text-anchor="middle" fill="#222">0.0127</text>
<text x="660.8" y="764.2" font-size="6.3" text-anchor="middle" fill="#222">11</text>
<line x1="501.4" y1="769.5" x2="683.4" y2="769.5" stroke="#d8d8d8" stroke-width="0.5"/>
<text x="524" y="777.76" font-size="6.3" text-anchor="middle" fill="#222">TRBV20</text>
<text x="569.5" y="777.76" font-size="6.3" text-anchor="middle" fill="#222">0.0080</text>
<text x="615" y="777.76" font-size="6.3" text-anchor="middle" fill="#222">0.0127</text>
<text x="660.8" y="777.76" font-size="6.3" text-anchor="middle" fill="#222">12</text>
<line x1="501.4" y1="783.06" x2="683.4" y2="783.06" stroke="#d8d8d8" stroke-width="0.5"/>
<text x="524" y="791.32" font-size="6.3" text-anchor="middle" fill="#222">TRBV12-2</text>
<text x="569.5" y="791.32" font-size="6.3" text-anchor="middle" fill="#222">0.0133</text>
<text x="615" y="791.32" font-size="6.3" text-anchor="middle" fill="#222">0.0194</text>
<text x="660.8" y="791.32" font-size="6.3" text-anchor="middle" fill="#222">13</text>
<line x1="501.4" y1="796.62" x2="683.4" y2="796.62" stroke="#d8d8d8" stroke-width="0.5"/>
<text x="524" y="804.88" font-size="6.3" text-anchor="middle" fill="#222">TRBV4</text>
<text x="569.5" y="804.88" font-size="6.3" text-anchor="middle" fill="#222">0.0179</text>
<text x="615" y="804.88" font-size="6.3" text-anchor="middle" fill="#222">0.0242</text>
<text x="660.8" y="804.88" font-size="6.3" text-anchor="middle" fill="#222">14</text>
<line x1="501.4" y1="810.18" x2="683.4" y2="810.18" stroke="#d8d8d8" stroke-width="0.5"/>
<text x="524" y="818.44" font-size="6.3" text-anchor="middle" fill="#222">TRBV29</text>
<text x="569.5" y="818.44" font-size="6.3" text-anchor="middle" fill="#222">0.0194</text>
<text x="615" y="818.44" font-size="6.3" text-anchor="middle" fill="#222">0.0245</text>
<text x="660.8" y="818.44" font-size="6.3" text-anchor="middle" fill="#222">15</text>
<line x1="501.4" y1="823.74" x2="683.4" y2="823.74" stroke="#d8d8d8" stroke-width="0.5"/>
<text x="524" y="832" font-size="6.3" text-anchor="middle" fill="#222">TRBV17</text>
<text x="569.5" y="832" font-size="6.3" text-anchor="middle" fill="#222">0.0242</text>
<text x="615" y="832" font-size="6.3" text-anchor="middle" fill="#222">0.0287</text>
<text x="660.8" y="832" font-size="6.3" text-anchor="middle" fill="#222">16</text>
<line x1="501.4" y1="837.3" x2="683.4" y2="837.3" stroke="#d8d8d8" stroke-width="0.5"/>
<text x="524" y="845.56" font-size="6.3" text-anchor="middle" fill="#222">TRBV13-1</text>
<text x="569.5" y="845.56" font-size="6.3" text-anchor="middle" fill="#222">0.0259</text>
<text x="615" y="845.56" font-size="6.3" text-anchor="middle" fill="#222">0.0290</text>
<text x="660.8" y="845.56" font-size="6.3" text-anchor="middle" fill="#222">17</text>
<line x1="501.4" y1="850.86" x2="683.4" y2="850.86" stroke="#d8d8d8" stroke-width="0.5"/>
<text x="524" y="859.12" font-size="6.3" text-anchor="middle" fill="#222">TRBV13-3</text>
<text x="569.5" y="859.12" font-size="6.3" text-anchor="middle" fill="#222">0.0288</text>
<text x="615" y="859.12" font-size="6.3" text-anchor="middle" fill="#222">0.0304</text>
<text x="660.8" y="859.12" font-size="6.3" text-anchor="middle" fill="#222">18</text>
<line x1="501.4" y1="864.42" x2="683.4" y2="864.42" stroke="#d8d8d8" stroke-width="0.5"/>
<text x="524" y="872.68" font-size="6.3" text-anchor="middle" fill="#222">TRBV2</text>
<text x="569.5" y="872.68" font-size="6.3" text-anchor="middle" fill="#222">0.0319</text>
<text x="615" y="872.68" font-size="6.3" text-anchor="middle" fill="#222">0.0319</text>
<text x="660.8" y="872.68" font-size="6.3" text-anchor="middle" fill="#222">19</text>
<line x1="501.4" y1="878" x2="683.4" y2="878" stroke="#555" stroke-width="1.5"/>
<text x="0" y="906.4" font-size="13.5" font-weight="bold">(J)</text>
<text x="32.6" y="905" font-size="8.27" font-weight="bold">Relative abundances, %</text>
<text x="32.6" y="916.5" font-size="7.25" fill="#111">Summary proportion of clonotypes with specific frequencies</text>
<rect x="109.5" y="954.35" width="81.53" height="5.76" fill="#2447a0" stroke="#111" stroke-width="0.75"/>
<rect x="191.03" y="954.35" width="13.8" height="5.76" fill="#8ccdf6" stroke="#111" stroke-width="0.75"/>
<rect x="204.82" y="954.35" width="0.48" height="5.76" fill="#d6f8ee" stroke="#111" stroke-width="0.75"/>
<line x1="105" y1="957.23" x2="106.2" y2="957.23" stroke="#333" stroke-width="0.4"/>
<rect x="109.5" y="960.41" width="81.24" height="5.76" fill="#2447a0" stroke="#111" stroke-width="0.75"/>
<rect x="190.74" y="960.41" width="13.6" height="5.76" fill="#8ccdf6" stroke="#111" stroke-width="0.75"/>
<rect x="204.34" y="960.41" width="0.96" height="5.76" fill="#d6f8ee" stroke="#111" stroke-width="0.75"/>
<line x1="105" y1="963.29" x2="106.2" y2="963.29" stroke="#333" stroke-width="0.4"/>
<rect x="109.5" y="966.47" width="43.11" height="5.76" fill="#2447a0" stroke="#111" stroke-width="0.75"/>
<rect x="152.61" y="966.47" width="50.77" height="5.76" fill="#8ccdf6" stroke="#111" stroke-width="0.75"/>
<rect x="203.38" y="966.47" width="1.92" height="5.76" fill="#d6f8ee" stroke="#111" stroke-width="0.75"/>
<line x1="105" y1="969.35" x2="106.2" y2="969.35" stroke="#333" stroke-width="0.4"/>
<rect x="109.5" y="972.53" width="18.97" height="5.76" fill="#2447a0" stroke="#111" stroke-width="0.75"/>
<rect x="128.47" y="972.53" width="75.87" height="5.76" fill="#8ccdf6" stroke="#111" stroke-width="0.75"/>
<rect x="204.34" y="972.53" width="0.96" height="5.76" fill="#d6f8ee" stroke="#111" stroke-width="0.75"/>
<line x1="105" y1="975.41" x2="106.2" y2="975.41" stroke="#333" stroke-width="0.4"/>
<rect x="109.5" y="978.59" width="13.89" height="5.76" fill="#2447a0" stroke="#111" stroke-width="0.75"/>
<rect x="123.39" y="978.59" width="59.11" height="5.76" fill="#8ccdf6" stroke="#111" stroke-width="0.75"/>
<rect x="182.5" y="978.59" width="22.8" height="5.76" fill="#d6f8ee" stroke="#111" stroke-width="0.75"/>
<line x1="105" y1="981.47" x2="106.2" y2="981.47" stroke="#333" stroke-width="0.4"/>
<rect x="109.5" y="984.65" width="8.91" height="5.76" fill="#2447a0" stroke="#111" stroke-width="0.75"/>
<rect x="118.41" y="984.65" width="83.44" height="5.76" fill="#8ccdf6" stroke="#111" stroke-width="0.75"/>
<rect x="201.85" y="984.65" width="3.45" height="5.76" fill="#d6f8ee" stroke="#111" stroke-width="0.75"/>
<line x1="105" y1="987.53" x2="106.2" y2="987.53" stroke="#333" stroke-width="0.4"/>
<rect x="109.5" y="990.71" width="43.11" height="5.76" fill="#2447a0" stroke="#111" stroke-width="0.75"/>
<rect x="152.61" y="990.71" width="28.07" height="5.76" fill="#8ccdf6" stroke="#111" stroke-width="0.75"/>
<rect x="180.68" y="990.71" width="24.62" height="5.76" fill="#d6f8ee" stroke="#111" stroke-width="0.75"/>
<line x1="105" y1="993.59" x2="106.2" y2="993.59" stroke="#333" stroke-width="0.4"/>
<rect x="109.5" y="996.77" width="45.51" height="5.76" fill="#2447a0" stroke="#111" stroke-width="0.75"/>
<rect x="155" y="996.77" width="32.67" height="5.76" fill="#8ccdf6" stroke="#111" stroke-width="0.75"/>
<rect x="187.67" y="996.77" width="17.63" height="5.76" fill="#d6f8ee" stroke="#111" stroke-width="0.75"/>
<line x1="105" y1="999.65" x2="106.2" y2="999.65" stroke="#333" stroke-width="0.4"/>
<rect x="109.5" y="1002.83" width="46.08" height="5.76" fill="#2447a0" stroke="#111" stroke-width="0.75"/>
<rect x="155.58" y="1002.83" width="47.8" height="5.76" fill="#8ccdf6" stroke="#111" stroke-width="0.75"/>
<rect x="203.38" y="1002.83" width="1.92" height="5.76" fill="#d6f8ee" stroke="#111" stroke-width="0.75"/>
<line x1="105" y1="1005.71" x2="106.2" y2="1005.71" stroke="#333" stroke-width="0.4"/>
<rect x="109.5" y="1008.89" width="30.94" height="5.76" fill="#2447a0" stroke="#111" stroke-width="0.75"/>
<rect x="140.44" y="1008.89" width="25" height="5.76" fill="#8ccdf6" stroke="#111" stroke-width="0.75"/>
<rect x="165.45" y="1008.89" width="38.51" height="5.76" fill="#d6f8ee" stroke="#111" stroke-width="0.75"/>
<rect x="203.96" y="1008.89" width="1.34" height="5.76" fill="#e9b043" stroke="#111" stroke-width="0.75"/>
<line x1="105" y1="1011.77" x2="106.2" y2="1011.77" stroke="#333" stroke-width="0.4"/>
<rect x="109.5" y="1014.95" width="35.45" height="5.76" fill="#2447a0" stroke="#111" stroke-width="0.75"/>
<rect x="144.95" y="1014.95" width="54.61" height="5.76" fill="#8ccdf6" stroke="#111" stroke-width="0.75"/>
<rect x="199.55" y="1014.95" width="5.75" height="5.76" fill="#d6f8ee" stroke="#111" stroke-width="0.75"/>
<line x1="105" y1="1017.83" x2="106.2" y2="1017.83" stroke="#333" stroke-width="0.4"/>
<rect x="109.5" y="1021.01" width="51.25" height="5.76" fill="#2447a0" stroke="#111" stroke-width="0.75"/>
<rect x="160.75" y="1021.01" width="17.63" height="5.76" fill="#8ccdf6" stroke="#111" stroke-width="0.75"/>
<rect x="178.38" y="1021.01" width="25.96" height="5.76" fill="#d6f8ee" stroke="#111" stroke-width="0.75"/>
<rect x="204.34" y="1021.01" width="0.96" height="5.76" fill="#e9b043" stroke="#111" stroke-width="0.75"/>
<line x1="105" y1="1023.89" x2="106.2" y2="1023.89" stroke="#333" stroke-width="0.4"/>
<rect x="109.5" y="1027.07" width="75.3" height="5.76" fill="#2447a0" stroke="#111" stroke-width="0.75"/>
<rect x="184.8" y="1027.07" width="20.5" height="5.76" fill="#8ccdf6" stroke="#111" stroke-width="0.75"/>
<line x1="105" y1="1029.95" x2="106.2" y2="1029.95" stroke="#333" stroke-width="0.4"/>
<rect x="109.5" y="1033.13" width="84.97" height="5.76" fill="#2447a0" stroke="#111" stroke-width="0.75"/>
<rect x="194.47" y="1033.13" width="10.83" height="5.76" fill="#8ccdf6" stroke="#111" stroke-width="0.75"/>
<line x1="105" y1="1036.01" x2="106.2" y2="1036.01" stroke="#333" stroke-width="0.4"/>
<rect x="109.5" y="1039.19" width="94.46" height="5.76" fill="#2447a0" stroke="#111" stroke-width="0.75"/>
<rect x="203.96" y="1039.19" width="1.34" height="5.76" fill="#8ccdf6" stroke="#111" stroke-width="0.75"/>
<line x1="105" y1="1042.07" x2="106.2" y2="1042.07" stroke="#333" stroke-width="0.4"/>
<rect x="109.5" y="1045.25" width="41.39" height="5.76" fill="#2447a0" stroke="#111" stroke-width="0.75"/>
<rect x="150.89" y="1045.25" width="34.49" height="5.76" fill="#8ccdf6" stroke="#111" stroke-width="0.75"/>
<rect x="185.37" y="1045.25" width="19.93" height="5.76" fill="#d6f8ee" stroke="#111" stroke-width="0.75"/>
<line x1="105" y1="1048.13" x2="106.2" y2="1048.13" stroke="#333" stroke-width="0.4"/>
<rect x="109.5" y="1051.31" width="41.39" height="5.76" fill="#2447a0" stroke="#111" stroke-width="0.75"/>
<rect x="150.89" y="1051.31" width="17.82" height="5.76" fill="#8ccdf6" stroke="#111" stroke-width="0.75"/>
<rect x="168.7" y="1051.31" width="35.25" height="5.76" fill="#d6f8ee" stroke="#111" stroke-width="0.75"/>
<rect x="203.96" y="1051.31" width="1.34" height="5.76" fill="#e9b043" stroke="#111" stroke-width="0.75"/>
<line x1="105" y1="1054.19" x2="106.2" y2="1054.19" stroke="#333" stroke-width="0.4"/>
<rect x="109.5" y="1057.37" width="24.05" height="5.76" fill="#2447a0" stroke="#111" stroke-width="0.75"/>
<rect x="133.55" y="1057.37" width="24.72" height="5.76" fill="#8ccdf6" stroke="#111" stroke-width="0.75"/>
<rect x="158.26" y="1057.37" width="45.31" height="5.76" fill="#d6f8ee" stroke="#111" stroke-width="0.75"/>
<rect x="203.58" y="1057.37" width="1.72" height="5.76" fill="#e9b043" stroke="#111" stroke-width="0.75"/>
<line x1="105" y1="1060.25" x2="106.2" y2="1060.25" stroke="#333" stroke-width="0.4"/>
<rect x="109.5" y="1063.43" width="59.2" height="5.76" fill="#2447a0" stroke="#111" stroke-width="0.75"/>
<rect x="168.7" y="1063.43" width="36.6" height="5.76" fill="#8ccdf6" stroke="#111" stroke-width="0.75"/>
<line x1="105" y1="1066.31" x2="106.2" y2="1066.31" stroke="#333" stroke-width="0.4"/>
<rect x="109.5" y="1069.49" width="40.24" height="5.76" fill="#2447a0" stroke="#111" stroke-width="0.75"/>
<rect x="149.74" y="1069.49" width="53.84" height="5.76" fill="#8ccdf6" stroke="#111" stroke-width="0.75"/>
<rect x="203.58" y="1069.49" width="1.72" height="5.76" fill="#d6f8ee" stroke="#111" stroke-width="0.75"/>
<line x1="105" y1="1072.37" x2="106.2" y2="1072.37" stroke="#333" stroke-width="0.4"/>
<rect x="109.5" y="1075.55" width="78.75" height="5.76" fill="#2447a0" stroke="#111" stroke-width="0.75"/>
<rect x="188.25" y="1075.55" width="17.05" height="5.76" fill="#8ccdf6" stroke="#111" stroke-width="0.75"/>
<line x1="105" y1="1078.43" x2="106.2" y2="1078.43" stroke="#333" stroke-width="0.4"/>
<rect x="109.5" y="1081.61" width="29.99" height="5.76" fill="#2447a0" stroke="#111" stroke-width="0.75"/>
<rect x="139.49" y="1081.61" width="32.09" height="5.76" fill="#8ccdf6" stroke="#111" stroke-width="0.75"/>
<rect x="171.58" y="1081.61" width="26.73" height="5.76" fill="#d6f8ee" stroke="#111" stroke-width="0.75"/>
<rect x="198.31" y="1081.61" width="6.99" height="5.76" fill="#e9b043" stroke="#111" stroke-width="0.75"/>
<line x1="105" y1="1084.49" x2="106.2" y2="1084.49" stroke="#333" stroke-width="0.4"/>
<rect x="109.5" y="1087.67" width="27.11" height="5.76" fill="#2447a0" stroke="#111" stroke-width="0.75"/>
<rect x="136.61" y="1087.67" width="25.96" height="5.76" fill="#8ccdf6" stroke="#111" stroke-width="0.75"/>
<rect x="162.57" y="1087.67" width="34.58" height="5.76" fill="#d6f8ee" stroke="#111" stroke-width="0.75"/>
<rect x="197.16" y="1087.67" width="8.14" height="5.76" fill="#e9b043" stroke="#111" stroke-width="0.75"/>
<line x1="105" y1="1090.55" x2="106.2" y2="1090.55" stroke="#333" stroke-width="0.4"/>
<rect x="109.5" y="1093.73" width="29.99" height="5.76" fill="#2447a0" stroke="#111" stroke-width="0.75"/>
<rect x="139.49" y="1093.73" width="36.98" height="5.76" fill="#8ccdf6" stroke="#111" stroke-width="0.75"/>
<rect x="176.46" y="1093.73" width="27.49" height="5.76" fill="#d6f8ee" stroke="#111" stroke-width="0.75"/>
<rect x="203.96" y="1093.73" width="1.34" height="5.76" fill="#e9b043" stroke="#111" stroke-width="0.75"/>
<line x1="105" y1="1096.61" x2="106.2" y2="1096.61" stroke="#333" stroke-width="0.4"/>
<rect x="109.5" y="1099.79" width="94.08" height="5.76" fill="#2447a0" stroke="#111" stroke-width="0.75"/>
<rect x="203.58" y="1099.79" width="1.72" height="5.76" fill="#8ccdf6" stroke="#111" stroke-width="0.75"/>
<line x1="105" y1="1102.67" x2="106.2" y2="1102.67" stroke="#333" stroke-width="0.4"/>
<rect x="109.5" y="1105.85" width="73" height="5.76" fill="#2447a0" stroke="#111" stroke-width="0.75"/>
<rect x="182.5" y="1105.85" width="22.8" height="5.76" fill="#8ccdf6" stroke="#111" stroke-width="0.75"/>
<line x1="105" y1="1108.73" x2="106.2" y2="1108.73" stroke="#333" stroke-width="0.4"/>
<rect x="109.5" y="1111.91" width="92.93" height="5.76" fill="#2447a0" stroke="#111" stroke-width="0.75"/>
<rect x="202.43" y="1111.91" width="2.87" height="5.76" fill="#8ccdf6" stroke="#111" stroke-width="0.75"/>
<line x1="105" y1="1114.79" x2="106.2" y2="1114.79" stroke="#333" stroke-width="0.4"/>
<rect x="109.5" y="1117.97" width="27.11" height="5.76" fill="#2447a0" stroke="#111" stroke-width="0.75"/>
<rect x="136.61" y="1117.97" width="67.35" height="5.76" fill="#8ccdf6" stroke="#111" stroke-width="0.75"/>
<rect x="203.96" y="1117.97" width="1.34" height="5.76" fill="#d6f8ee" stroke="#111" stroke-width="0.75"/>
<line x1="105" y1="1120.85" x2="106.2" y2="1120.85" stroke="#333" stroke-width="0.4"/>
<rect x="109.5" y="1124.03" width="19.93" height="5.76" fill="#2447a0" stroke="#111" stroke-width="0.75"/>
<rect x="129.43" y="1124.03" width="36.02" height="5.76" fill="#8ccdf6" stroke="#111" stroke-width="0.75"/>
<rect x="165.45" y="1124.03" width="39.85" height="5.76" fill="#d6f8ee" stroke="#111" stroke-width="0.75"/>
<line x1="105" y1="1126.91" x2="106.2" y2="1126.91" stroke="#333" stroke-width="0.4"/>
<rect x="109.5" y="1130.09" width="9.48" height="5.76" fill="#2447a0" stroke="#111" stroke-width="0.75"/>
<rect x="118.98" y="1130.09" width="84.4" height="5.76" fill="#8ccdf6" stroke="#111" stroke-width="0.75"/>
<rect x="203.38" y="1130.09" width="1.92" height="5.76" fill="#d6f8ee" stroke="#111" stroke-width="0.75"/>
<line x1="105" y1="1132.97" x2="106.2" y2="1132.97" stroke="#333" stroke-width="0.4"/>
<line x1="106.2" y1="952.5" x2="106.2" y2="1136.5" stroke="#555" stroke-width="0.45"/>
<line x1="108.5" y1="953.3" x2="207" y2="953.3" stroke="#333" stroke-width="0.8"/>
<line x1="109.5" y1="951.6" x2="109.5" y2="953.3" stroke="#333" stroke-width="0.5"/>
<text x="107.7" y="948.6" font-size="5.6" text-anchor="end" transform="rotate(90 107.7 948.6)">0%</text>
<line x1="133.45" y1="951.6" x2="133.45" y2="953.3" stroke="#333" stroke-width="0.5"/>
<text x="131.6" y="948.6" font-size="5.6" text-anchor="end" transform="rotate(90 131.6 948.6)">25%</text>
<line x1="157.4" y1="951.6" x2="157.4" y2="953.3" stroke="#333" stroke-width="0.5"/>
<text x="155.1" y="948.6" font-size="5.6" text-anchor="end" transform="rotate(90 155.1 948.6)">50%</text>
<line x1="181.35" y1="951.6" x2="181.35" y2="953.3" stroke="#333" stroke-width="0.5"/>
<text x="179.4" y="948.6" font-size="5.6" text-anchor="end" transform="rotate(90 179.4 948.6)">75%</text>
<line x1="205.3" y1="951.6" x2="205.3" y2="953.3" stroke="#333" stroke-width="0.5"/>
<text x="203.4" y="948.6" font-size="5.6" text-anchor="end" transform="rotate(90 203.4 948.6)">100%</text>
<text x="91.8" y="969.3" font-size="7.2" font-weight="bold" text-anchor="end" textLength="32.8" lengthAdjust="spacingAndGlyphs">CD40-Ctrl</text>
<text x="91.8" y="986.3" font-size="7.2" font-weight="bold" text-anchor="end" textLength="30.6" lengthAdjust="spacingAndGlyphs">CD40-OE</text>
<path d="M57.9 969.9 H56.0 V982.7 H57.9" fill="none" stroke="#000" stroke-width="0.9"/>
<text x="91.8" y="1005" font-size="7.2" font-weight="bold" text-anchor="end" textLength="32.8" lengthAdjust="spacingAndGlyphs">CD40-Ctrl</text>
<text x="91.8" y="1022.3" font-size="7.2" font-weight="bold" text-anchor="end" textLength="30.6" lengthAdjust="spacingAndGlyphs">CD40-OE</text>
<path d="M57.9 1005.6 H56.0 V1018.7 H57.9" fill="none" stroke="#000" stroke-width="0.9"/>
<text x="91.8" y="1041.2" font-size="7.2" font-weight="bold" text-anchor="end" textLength="32.8" lengthAdjust="spacingAndGlyphs">CD40-Ctrl</text>
<text x="91.8" y="1058.9" font-size="7.2" font-weight="bold" text-anchor="end" textLength="30.6" lengthAdjust="spacingAndGlyphs">CD40-OE</text>
<path d="M57.9 1041.8 H56.0 V1055.3 H57.9" fill="none" stroke="#000" stroke-width="0.9"/>
<text x="91.8" y="1078.5" font-size="7.2" font-weight="bold" text-anchor="end" textLength="32.8" lengthAdjust="spacingAndGlyphs">CD40-Ctrl</text>
<text x="91.8" y="1095.6" font-size="7.2" font-weight="bold" text-anchor="end" textLength="30.6" lengthAdjust="spacingAndGlyphs">CD40-OE</text>
<path d="M57.9 1079.1 H56.0 V1092 H57.9" fill="none" stroke="#000" stroke-width="0.9"/>
<text x="91.8" y="1115" font-size="7.2" font-weight="bold" text-anchor="end" textLength="32.8" lengthAdjust="spacingAndGlyphs">CD40-Ctrl</text>
<text x="91.8" y="1132.5" font-size="7.2" font-weight="bold" text-anchor="end" textLength="30.6" lengthAdjust="spacingAndGlyphs">CD40-OE</text>
<path d="M57.9 1115.6 H56.0 V1128.9 H57.9" fill="none" stroke="#000" stroke-width="0.9"/>
<path d="M101.7 955.4 H99.8 V971.2 H101.7" fill="none" stroke="#000" stroke-width="0.85"/>
<path d="M101.7 973.58 H99.8 V989.38 H101.7" fill="none" stroke="#000" stroke-width="0.85"/>
<path d="M101.7 991.76 H99.8 V1007.56 H101.7" fill="none" stroke="#000" stroke-width="0.85"/>
<path d="M101.7 1009.94 H99.8 V1025.74 H101.7" fill="none" stroke="#000" stroke-width="0.85"/>
<path d="M101.7 1028.12 H99.8 V1043.92 H101.7" fill="none" stroke="#000" stroke-width="0.85"/>
<path d="M101.7 1046.3 H99.8 V1062.1 H101.7" fill="none" stroke="#000" stroke-width="0.85"/>
<path d="M101.7 1064.48 H99.8 V1080.28 H101.7" fill="none" stroke="#000" stroke-width="0.85"/>
<path d="M101.7 1082.66 H99.8 V1098.46 H101.7" fill="none" stroke="#000" stroke-width="0.85"/>
<path d="M101.7 1100.84 H99.8 V1116.64 H101.7" fill="none" stroke="#000" stroke-width="0.85"/>
<path d="M101.7 1119.02 H99.8 V1134.82 H101.7" fill="none" stroke="#000" stroke-width="0.85"/>
<text x="51.4" y="969.4" font-size="8" font-weight="bold" text-anchor="end">Veh</text>
<text x="51.4" y="979.6" font-size="8" font-weight="bold" text-anchor="end">+</text>
<text x="51.4" y="990" font-size="8" font-weight="bold" text-anchor="end">IgG</text>
<text x="51.4" y="1015.5" font-size="8" font-weight="bold" text-anchor="end">aCD40</text>
<text x="51.4" y="1051.8" font-size="8" font-weight="bold" text-anchor="end">PD1</text>
<text x="51.4" y="1077.7" font-size="8" font-weight="bold" text-anchor="end">aCD40</text>
<text x="51.4" y="1087.5" font-size="8" font-weight="bold" text-anchor="end">+</text>
<text x="51.4" y="1097.3" font-size="8" font-weight="bold" text-anchor="end">PD1</text>
<text x="51.4" y="1114.7" font-size="8" font-weight="bold" text-anchor="end">RGS</text>
<text x="51.4" y="1124.9" font-size="8" font-weight="bold" text-anchor="end">+</text>
<text x="51.4" y="1134.7" font-size="8" font-weight="bold" text-anchor="end">IgG</text>
<text x="214" y="928.8" font-size="6.77" fill="#111">Clonotype group</text>
<rect x="214" y="933.9" width="9.2" height="9.5" fill="#f04a22" stroke="#333" stroke-width="0.5"/>
<text x="226.9" y="940.6" font-size="5.5" fill="#111">Rare (0 &lt; X &lt;= 1e-05)</text>
<rect x="214" y="944.48" width="9.2" height="9.5" fill="#e9b043" stroke="#333" stroke-width="0.5"/>
<text x="226.9" y="951.18" font-size="5.5" fill="#111">Small (1e-05 &lt; X &lt;= 1e-04)</text>
<rect x="214" y="955.06" width="9.2" height="9.5" fill="#d6f8ee" stroke="#333" stroke-width="0.5"/>
<text x="226.9" y="961.76" font-size="5.5" fill="#111">Medium (1e-04 &lt; X &lt;= 0.001)</text>
<rect x="214" y="965.64" width="9.2" height="9.5" fill="#8ccdf6" stroke="#333" stroke-width="0.5"/>
<text x="226.9" y="972.34" font-size="5.5" fill="#111">Large (0.001 &lt; X &lt;= 0.01)</text>
<rect x="214" y="976.22" width="9.2" height="9.5" fill="#2447a0" stroke="#333" stroke-width="0.5"/>
<text x="226.9" y="982.92" font-size="5.5" fill="#111">Hyperexpanded (0.01 &lt; X &lt;= 1)</text>
<line x1="210.5" y1="993.59" x2="224.3" y2="993.59" stroke="#ff2020" stroke-width="1.1"/>
<path d="M207.8 993.59 L211.5 991.89 L211.5 995.29 Z" fill="#ff2020" stroke="none" stroke-width="0.6"/>
<line x1="210.5" y1="999.65" x2="224.3" y2="999.65" stroke="#ff2020" stroke-width="1.1"/>
<path d="M207.8 999.65 L211.5 997.95 L211.5 1001.35 Z" fill="#ff2020" stroke="none" stroke-width="0.6"/>
<line x1="210.5" y1="1005.71" x2="224.3" y2="1005.71" stroke="#ff2020" stroke-width="1.1"/>
<path d="M207.8 1005.71 L211.5 1004.01 L211.5 1007.41 Z" fill="#ff2020" stroke="none" stroke-width="0.6"/>
<line x1="210.5" y1="1011.77" x2="224.3" y2="1011.77" stroke="#ff2020" stroke-width="1.1"/>
<path d="M207.8 1011.77 L211.5 1010.07 L211.5 1013.47 Z" fill="#ff2020" stroke="none" stroke-width="0.6"/>
<line x1="210.5" y1="1017.83" x2="224.3" y2="1017.83" stroke="#ff2020" stroke-width="1.1"/>
<path d="M207.8 1017.83 L211.5 1016.13 L211.5 1019.53 Z" fill="#ff2020" stroke="none" stroke-width="0.6"/>
<line x1="210.5" y1="1023.89" x2="224.3" y2="1023.89" stroke="#ff2020" stroke-width="1.1"/>
<path d="M207.8 1023.89 L211.5 1022.19 L211.5 1025.59 Z" fill="#ff2020" stroke="none" stroke-width="0.6"/>
<line x1="210.5" y1="1048.13" x2="221.5" y2="1048.13" stroke="#ff2020" stroke-width="1.1"/>
<path d="M207.8 1048.13 L211.5 1046.43 L211.5 1049.83 Z" fill="#ff2020" stroke="none" stroke-width="0.6"/>
<line x1="210.5" y1="1054.19" x2="221.5" y2="1054.19" stroke="#ff2020" stroke-width="1.1"/>
<path d="M207.8 1054.19 L211.5 1052.49 L211.5 1055.89 Z" fill="#ff2020" stroke="none" stroke-width="0.6"/>
<line x1="210.5" y1="1060.25" x2="221.5" y2="1060.25" stroke="#ff2020" stroke-width="1.1"/>
<path d="M207.8 1060.25 L211.5 1058.55 L211.5 1061.95 Z" fill="#ff2020" stroke="none" stroke-width="0.6"/>
<line x1="210.5" y1="1084.49" x2="224.8" y2="1084.49" stroke="#ff2020" stroke-width="1.1"/>
<path d="M207.8 1084.49 L211.5 1082.79 L211.5 1086.19 Z" fill="#ff2020" stroke="none" stroke-width="0.6"/>
<line x1="210.5" y1="1090.55" x2="224.8" y2="1090.55" stroke="#ff2020" stroke-width="1.1"/>
<path d="M207.8 1090.55 L211.5 1088.85 L211.5 1092.25 Z" fill="#ff2020" stroke="none" stroke-width="0.6"/>
<line x1="210.5" y1="1096.61" x2="224.8" y2="1096.61" stroke="#ff2020" stroke-width="1.1"/>
<path d="M207.8 1096.61 L211.5 1094.91 L211.5 1098.31 Z" fill="#ff2020" stroke="none" stroke-width="0.6"/>
<text x="230" y="1051.2" font-size="7.1" fill="#ff2020">Responder to</text>
<text x="230" y="1060.8" font-size="7.1" fill="#ff2020">Treatments</text>
<text x="295.8" y="905.5" font-size="13.5" font-weight="bold">(K)</text>
<text x="324.4" y="905.5" font-size="8.28" font-weight="bold">Clonotype Tracking</text>
<text x="325" y="916.8" font-size="7.23" fill="#111">Top 20 small/medium-expanded clonotypes in TRBV26</text>
<line x1="403.8" y1="920.5" x2="403.8" y2="1129.8" stroke="#999" stroke-width="0.5"/>
<line x1="403.8" y1="1129.8" x2="574" y2="1129.8" stroke="#999" stroke-width="0.5"/>
<line x1="411" y1="1129.8" x2="411" y2="1131" stroke="#777" stroke-width="0.4"/>
<text x="411" y="1136.3" font-size="4.4" text-anchor="middle" fill="#666">0.000</text>
<line x1="468.5" y1="1129.8" x2="468.5" y2="1131" stroke="#777" stroke-width="0.4"/>
<text x="468.5" y="1136.3" font-size="4.4" text-anchor="middle" fill="#666">0.001</text>
<line x1="526" y1="1129.8" x2="526" y2="1131" stroke="#777" stroke-width="0.4"/>
<text x="526" y="1136.3" font-size="4.4" text-anchor="middle" fill="#666">0.002</text>
<text x="488.8" y="1142.3" font-size="5.8" font-weight="bold" text-anchor="middle">Proportion</text>
<text x="399.3" y="926.8" font-size="6.2" text-anchor="middle" fill="#111">1</text>
<line x1="402.6" y1="924.6" x2="403.8" y2="924.6" stroke="#555" stroke-width="0.35"/>
<text x="399.3" y="933.8" font-size="6.2" text-anchor="middle" fill="#111">2</text>
<line x1="402.6" y1="931.6" x2="403.8" y2="931.6" stroke="#555" stroke-width="0.35"/>
<text x="399.3" y="940.8" font-size="6.2" text-anchor="middle" fill="#111">3</text>
<line x1="402.6" y1="938.6" x2="403.8" y2="938.6" stroke="#555" stroke-width="0.35"/>
<text x="399.3" y="947.8" font-size="6.2" text-anchor="middle" fill="#111">1</text>
<line x1="402.6" y1="945.6" x2="403.8" y2="945.6" stroke="#555" stroke-width="0.35"/>
<text x="399.3" y="954.8" font-size="6.2" text-anchor="middle" fill="#111">2</text>
<line x1="402.6" y1="952.6" x2="403.8" y2="952.6" stroke="#555" stroke-width="0.35"/>
<text x="399.3" y="961.8" font-size="6.2" text-anchor="middle" fill="#111">3</text>
<line x1="402.6" y1="959.6" x2="403.8" y2="959.6" stroke="#555" stroke-width="0.35"/>
<text x="399.3" y="968.8" font-size="6.2" text-anchor="middle" fill="#111">1</text>
<line x1="402.6" y1="966.6" x2="403.8" y2="966.6" stroke="#555" stroke-width="0.35"/>
<text x="399.3" y="975.8" font-size="6.2" text-anchor="middle" fill="#111">2</text>
<line x1="402.6" y1="973.6" x2="403.8" y2="973.6" stroke="#555" stroke-width="0.35"/>
<text x="399.3" y="982.8" font-size="6.2" text-anchor="middle" fill="#111">3</text>
<line x1="402.6" y1="980.6" x2="403.8" y2="980.6" stroke="#555" stroke-width="0.35"/>
<text x="399.3" y="989.8" font-size="6.2" text-anchor="middle" fill="#111">1</text>
<line x1="402.6" y1="987.6" x2="403.8" y2="987.6" stroke="#555" stroke-width="0.35"/>
<text x="399.3" y="996.8" font-size="6.2" text-anchor="middle" fill="#111">2</text>
<line x1="402.6" y1="994.6" x2="403.8" y2="994.6" stroke="#555" stroke-width="0.35"/>
<text x="399.3" y="1003.8" font-size="6.2" text-anchor="middle" fill="#111">3</text>
<line x1="402.6" y1="1001.6" x2="403.8" y2="1001.6" stroke="#555" stroke-width="0.35"/>
<text x="399.3" y="1010.8" font-size="6.2" text-anchor="middle" fill="#111">1</text>
<line x1="402.6" y1="1008.6" x2="403.8" y2="1008.6" stroke="#555" stroke-width="0.35"/>
<text x="399.3" y="1017.8" font-size="6.2" text-anchor="middle" fill="#111">2</text>
<line x1="402.6" y1="1015.6" x2="403.8" y2="1015.6" stroke="#555" stroke-width="0.35"/>
<text x="399.3" y="1024.8" font-size="6.2" text-anchor="middle" fill="#111">3</text>
<line x1="402.6" y1="1022.6" x2="403.8" y2="1022.6" stroke="#555" stroke-width="0.35"/>
<text x="399.3" y="1031.8" font-size="6.2" text-anchor="middle" fill="#111">1</text>
<line x1="402.6" y1="1029.6" x2="403.8" y2="1029.6" stroke="#555" stroke-width="0.35"/>
<text x="399.3" y="1038.8" font-size="6.2" text-anchor="middle" fill="#111">2</text>
<line x1="402.6" y1="1036.6" x2="403.8" y2="1036.6" stroke="#555" stroke-width="0.35"/>
<text x="399.3" y="1045.8" font-size="6.2" text-anchor="middle" fill="#111">3</text>
<line x1="402.6" y1="1043.6" x2="403.8" y2="1043.6" stroke="#555" stroke-width="0.35"/>
<text x="399.3" y="1052.8" font-size="6.2" text-anchor="middle" fill="#111">1</text>
<line x1="402.6" y1="1050.6" x2="403.8" y2="1050.6" stroke="#555" stroke-width="0.35"/>
<text x="399.3" y="1059.8" font-size="6.2" text-anchor="middle" fill="#111">2</text>
<line x1="402.6" y1="1057.6" x2="403.8" y2="1057.6" stroke="#555" stroke-width="0.35"/>
<text x="399.3" y="1066.8" font-size="6.2" text-anchor="middle" fill="#111">3</text>
<line x1="402.6" y1="1064.6" x2="403.8" y2="1064.6" stroke="#555" stroke-width="0.35"/>
<text x="399.3" y="1073.8" font-size="6.2" text-anchor="middle" fill="#111">1</text>
<line x1="402.6" y1="1071.6" x2="403.8" y2="1071.6" stroke="#555" stroke-width="0.35"/>
<text x="399.3" y="1080.8" font-size="6.2" text-anchor="middle" fill="#111">2</text>
<line x1="402.6" y1="1078.6" x2="403.8" y2="1078.6" stroke="#555" stroke-width="0.35"/>
<text x="399.3" y="1087.8" font-size="6.2" text-anchor="middle" fill="#111">3</text>
<line x1="402.6" y1="1085.6" x2="403.8" y2="1085.6" stroke="#555" stroke-width="0.35"/>
<text x="399.3" y="1094.8" font-size="6.2" text-anchor="middle" fill="#111">1</text>
<line x1="402.6" y1="1092.6" x2="403.8" y2="1092.6" stroke="#555" stroke-width="0.35"/>
<text x="399.3" y="1101.8" font-size="6.2" text-anchor="middle" fill="#111">2</text>
<line x1="402.6" y1="1099.6" x2="403.8" y2="1099.6" stroke="#555" stroke-width="0.35"/>
<text x="399.3" y="1108.8" font-size="6.2" text-anchor="middle" fill="#111">3</text>
<line x1="402.6" y1="1106.6" x2="403.8" y2="1106.6" stroke="#555" stroke-width="0.35"/>
<text x="399.3" y="1115.8" font-size="6.2" text-anchor="middle" fill="#111">1</text>
<line x1="402.6" y1="1113.6" x2="403.8" y2="1113.6" stroke="#555" stroke-width="0.35"/>
<text x="399.3" y="1122.8" font-size="6.2" text-anchor="middle" fill="#111">2</text>
<line x1="402.6" y1="1120.6" x2="403.8" y2="1120.6" stroke="#555" stroke-width="0.35"/>
<text x="399.3" y="1129.8" font-size="6.2" text-anchor="middle" fill="#111">3</text>
<line x1="402.6" y1="1127.6" x2="403.8" y2="1127.6" stroke="#555" stroke-width="0.35"/>
<path d="M391.9 922 H389.6 V961 H391.9" fill="none" stroke="#000" stroke-width="0.9"/>
<line x1="389.6" y1="941.5" x2="391.2" y2="941.5" stroke="#000" stroke-width="0.6"/>
<text x="383.8" y="935.8" font-size="7" font-weight="bold" text-anchor="end" textLength="30.6" lengthAdjust="spacingAndGlyphs">CD40-OE</text>
<text x="383.8" y="953.1" font-size="7" font-weight="bold" text-anchor="end" textLength="33.4" lengthAdjust="spacingAndGlyphs">CD40-Ctrl</text>
<path d="M349.4 932.2 H347.5 V951.8 H349.4" fill="none" stroke="#000" stroke-width="0.9"/>
<text x="341.9" y="936.7" font-size="8" font-weight="bold" text-anchor="end">RGS</text>
<text x="341.9" y="946.6" font-size="8" font-weight="bold" text-anchor="end">+</text>
<text x="341.9" y="957" font-size="8" font-weight="bold" text-anchor="end">IgG</text>
<path d="M391.9 964 H389.6 V1003 H391.9" fill="none" stroke="#000" stroke-width="0.9"/>
<line x1="389.6" y1="983.5" x2="391.2" y2="983.5" stroke="#000" stroke-width="0.6"/>
<text x="383.8" y="977.8" font-size="7" font-weight="bold" text-anchor="end" textLength="30.6" lengthAdjust="spacingAndGlyphs">CD40-OE</text>
<text x="383.8" y="995.1" font-size="7" font-weight="bold" text-anchor="end" textLength="33.4" lengthAdjust="spacingAndGlyphs">CD40-Ctrl</text>
<path d="M349.4 974.2 H347.5 V993.8 H349.4" fill="none" stroke="#000" stroke-width="0.9"/>
<text x="341.9" y="978.7" font-size="8" font-weight="bold" text-anchor="end">aCD40</text>
<text x="341.9" y="988.6" font-size="8" font-weight="bold" text-anchor="end">+</text>
<text x="341.9" y="999" font-size="8" font-weight="bold" text-anchor="end">PD1</text>
<path d="M391.9 1006 H389.6 V1045 H391.9" fill="none" stroke="#000" stroke-width="0.9"/>
<line x1="389.6" y1="1025.5" x2="391.2" y2="1025.5" stroke="#000" stroke-width="0.6"/>
<text x="383.8" y="1019.8" font-size="7" font-weight="bold" text-anchor="end" textLength="30.6" lengthAdjust="spacingAndGlyphs">CD40-OE</text>
<text x="383.8" y="1037.1" font-size="7" font-weight="bold" text-anchor="end" textLength="33.4" lengthAdjust="spacingAndGlyphs">CD40-Ctrl</text>
<path d="M349.4 1016.2 H347.5 V1035.8 H349.4" fill="none" stroke="#000" stroke-width="0.9"/>
<text x="341.9" y="1027.9" font-size="8" font-weight="bold" text-anchor="end">PD1</text>
<path d="M391.9 1048 H389.6 V1087 H391.9" fill="none" stroke="#000" stroke-width="0.9"/>
<line x1="389.6" y1="1067.5" x2="391.2" y2="1067.5" stroke="#000" stroke-width="0.6"/>
<text x="383.8" y="1061.8" font-size="7" font-weight="bold" text-anchor="end" textLength="30.6" lengthAdjust="spacingAndGlyphs">CD40-OE</text>
<text x="383.8" y="1079.1" font-size="7" font-weight="bold" text-anchor="end" textLength="33.4" lengthAdjust="spacingAndGlyphs">CD40-Ctrl</text>
<path d="M349.4 1058.2 H347.5 V1077.8 H349.4" fill="none" stroke="#000" stroke-width="0.9"/>
<text x="341.9" y="1069.9" font-size="8" font-weight="bold" text-anchor="end">aCD40</text>
<path d="M391.9 1090 H389.6 V1129 H391.9" fill="none" stroke="#000" stroke-width="0.9"/>
<line x1="389.6" y1="1109.5" x2="391.2" y2="1109.5" stroke="#000" stroke-width="0.6"/>
<text x="383.8" y="1103.8" font-size="7" font-weight="bold" text-anchor="end" textLength="30.6" lengthAdjust="spacingAndGlyphs">CD40-OE</text>
<text x="383.8" y="1121.1" font-size="7" font-weight="bold" text-anchor="end" textLength="33.4" lengthAdjust="spacingAndGlyphs">CD40-Ctrl</text>
<path d="M349.4 1100.2 H347.5 V1119.8 H349.4" fill="none" stroke="#000" stroke-width="0.9"/>
<text x="341.9" y="1104.7" font-size="8" font-weight="bold" text-anchor="end">Veh</text>
<text x="341.9" y="1114.6" font-size="8" font-weight="bold" text-anchor="end">+</text>
<text x="341.9" y="1125" font-size="8" font-weight="bold" text-anchor="end">IgG</text>
<path d="M411 960.3 L567.6 966.6 L411 969.6 Z" fill="#a8dc50" stroke="none" stroke-width="0.6" fill-opacity="0.5"/>
<path d="M411 969.8 L471.5 973.6 L411 977.6 Z" fill="#f4909c" stroke="none" stroke-width="0.6" fill-opacity="0.4"/>
<path d="M411 977.8 L447.3 980.6 L411 985.6 Z" fill="#50d8f0" stroke="none" stroke-width="0.6" fill-opacity="0.45"/>
<path d="M411 1004.2 L420.2 1008.6 L411 1010.1 Z" fill="#c0c040" stroke="none" stroke-width="0.6" fill-opacity="0.5"/>
<path d="M411 1013.1 L468.6 1015.6 L411 1017.1 Z" fill="#d0d860" stroke="none" stroke-width="0.6" fill-opacity="0.4"/>
<path d="M411 1011.6 L472.8 1015.6 L411 1027.6 Z" fill="#50d8f0" stroke="none" stroke-width="0.6" fill-opacity="0.45"/>
<path d="M411 1045.4 L460.6 1050.6 L411 1054.1 Z" fill="#f090f0" stroke="none" stroke-width="0.6" fill-opacity="0.45"/>
<path d="M411 1055.1 L425.8 1057.6 L411 1060.1 Z" fill="#d0c850" stroke="none" stroke-width="0.6" fill-opacity="0.35"/>
<path d="M411 1061.6 L477.5 1064.6 L411 1069.2 Z" fill="#c8a0fa" stroke="none" stroke-width="0.6" fill-opacity="0.45"/>
<path d="M411 1081 L430.7 1085.6 L411 1091.2 Z" fill="#f090e8" stroke="none" stroke-width="0.6" fill-opacity="0.5"/>
<rect x="410.4" y="923.4" width="1.2" height="2.4" fill="#444"/>
<rect x="410.4" y="930.4" width="1.2" height="2.4" fill="#444"/>
<rect x="410.4" y="937.4" width="1.2" height="2.4" fill="#444"/>
<rect x="410.4" y="944.4" width="1.2" height="2.4" fill="#444"/>
<rect x="410.4" y="951.4" width="1.2" height="2.4" fill="#444"/>
<rect x="410.4" y="958.4" width="1.2" height="2.4" fill="#444"/>
<rect x="411" y="965.25" width="50" height="2.7" fill="#50c030" stroke="#222" stroke-width="0.4"/>
<rect x="461" y="965.25" width="106.6" height="2.7" fill="#a0a028" stroke="#222" stroke-width="0.4"/>
<rect x="411" y="972.25" width="5" height="2.7" fill="#f06080" stroke="#222" stroke-width="0.4"/>
<rect x="416" y="972.25" width="5" height="2.7" fill="#f060a0" stroke="#222" stroke-width="0.4"/>
<rect x="421" y="972.25" width="5" height="2.7" fill="#e060e0" stroke="#222" stroke-width="0.4"/>
<rect x="426" y="972.25" width="10.5" height="2.7" fill="#c070f0" stroke="#222" stroke-width="0.4"/>
<rect x="436.5" y="972.25" width="4" height="2.7" fill="#9080f0" stroke="#222" stroke-width="0.4"/>
<rect x="440.5" y="972.25" width="5.5" height="2.7" fill="#40c8c0" stroke="#222" stroke-width="0.4"/>
<rect x="446" y="972.25" width="5" height="2.7" fill="#40c878" stroke="#222" stroke-width="0.4"/>
<rect x="451" y="972.25" width="5" height="2.7" fill="#60c030" stroke="#222" stroke-width="0.4"/>
<rect x="456" y="972.25" width="5" height="2.7" fill="#a0a828" stroke="#222" stroke-width="0.4"/>
<rect x="461" y="972.25" width="5" height="2.7" fill="#e8803a" stroke="#222" stroke-width="0.4"/>
<rect x="466" y="972.25" width="5.5" height="2.7" fill="#f07070" stroke="#222" stroke-width="0.4"/>
<rect x="411" y="979.25" width="1.6" height="2.7" fill="#c070f0" stroke="#222" stroke-width="0.4"/>
<rect x="412.6" y="979.25" width="9.7" height="2.7" fill="#40a8f0" stroke="#222" stroke-width="0.4"/>
<rect x="422.3" y="979.25" width="4" height="2.7" fill="#40c8c0" stroke="#222" stroke-width="0.4"/>
<rect x="426.3" y="979.25" width="5.2" height="2.7" fill="#40d0a0" stroke="#222" stroke-width="0.4"/>
<rect x="431.5" y="979.25" width="11.8" height="2.7" fill="#60c030" stroke="#222" stroke-width="0.4"/>
<rect x="443.3" y="979.25" width="4" height="2.7" fill="#a0a828" stroke="#222" stroke-width="0.4"/>
<rect x="410.4" y="986.4" width="1.2" height="2.4" fill="#444"/>
<rect x="410.4" y="993.4" width="1.2" height="2.4" fill="#444"/>
<rect x="410.4" y="1000.4" width="1.2" height="2.4" fill="#444"/>
<rect x="411" y="1007.25" width="9.2" height="2.7" fill="#a0a020" stroke="#222" stroke-width="0.4"/>
<rect x="411" y="1014.25" width="44.2" height="2.7" fill="#4aa0e8" stroke="#222" stroke-width="0.4"/>
<rect x="455.2" y="1014.25" width="13.4" height="2.7" fill="#a0a020" stroke="#222" stroke-width="0.4"/>
<rect x="411" y="1021.25" width="61.6" height="2.7" fill="#40c8e0" stroke="#222" stroke-width="0.4"/>
<rect x="410.4" y="1028.4" width="1.2" height="2.4" fill="#444"/>
<rect x="410.4" y="1035.4" width="1.2" height="2.4" fill="#444"/>
<rect x="410.4" y="1042.4" width="1.2" height="2.4" fill="#444"/>
<rect x="411" y="1049.25" width="31.3" height="2.7" fill="#e060e0" stroke="#222" stroke-width="0.4"/>
<rect x="442.3" y="1049.25" width="3.2" height="2.7" fill="#40b0f0" stroke="#222" stroke-width="0.4"/>
<rect x="445.5" y="1049.25" width="15.1" height="2.7" fill="#40c878" stroke="#222" stroke-width="0.4"/>
<rect x="411" y="1056.25" width="14.8" height="2.7" fill="#b0a020" stroke="#222" stroke-width="0.4"/>
<rect x="411" y="1063.25" width="54.4" height="2.7" fill="#b070f0" stroke="#222" stroke-width="0.4"/>
<rect x="465.4" y="1063.25" width="12.3" height="2.7" fill="#40b0f0" stroke="#222" stroke-width="0.4"/>
<rect x="410.4" y="1070.4" width="1.2" height="2.4" fill="#444"/>
<rect x="410.4" y="1077.4" width="1.2" height="2.4" fill="#444"/>
<rect x="411" y="1084.25" width="19.7" height="2.7" fill="#e060e0" stroke="#222" stroke-width="0.4"/>
<rect x="410.4" y="1091.4" width="1.2" height="2.4" fill="#444"/>
<rect x="410.4" y="1098.4" width="1.2" height="2.4" fill="#444"/>
<rect x="410.4" y="1105.4" width="1.2" height="2.4" fill="#444"/>
<rect x="410.4" y="1112.4" width="1.2" height="2.4" fill="#444"/>
<rect x="410.4" y="1119.4" width="1.2" height="2.4" fill="#444"/>
<rect x="410.4" y="1126.4" width="1.2" height="2.4" fill="#444"/>
<rect x="435.6" y="1087.9" width="243.8" height="39.1" fill="#fff" stroke="#111" stroke-width="0.8"/>
<rect x="439.3" y="1089.9" width="5.6" height="5.6" fill="#f07070" stroke="#555" stroke-width="0.3"/>
<text x="448.6" y="1094.5" font-size="4.6" fill="#222">CASRAGGTNERLFF</text>
<rect x="439.3" y="1097.05" width="5.6" height="5.6" fill="#e8803a" stroke="#555" stroke-width="0.3"/>
<text x="448.6" y="1101.65" font-size="4.6" fill="#222">CASSEGAEQFF</text>
<rect x="439.3" y="1104.2" width="5.6" height="5.6" fill="#d89030" stroke="#555" stroke-width="0.3"/>
<text x="448.6" y="1108.8" font-size="4.6" fill="#222">CASSL*EQYF</text>
<rect x="439.3" y="1111.35" width="5.6" height="5.6" fill="#c4a030" stroke="#555" stroke-width="0.3"/>
<text x="448.6" y="1115.95" font-size="4.6" fill="#222">CASSLDCVSAETLYF</text>
<rect x="439.3" y="1118.5" width="5.6" height="5.6" fill="#a0a828" stroke="#555" stroke-width="0.3"/>
<text x="448.6" y="1123.1" font-size="4.6" fill="#222">CASSLGAEQFF</text>
<rect x="499.6" y="1089.9" width="5.6" height="5.6" fill="#90b020" stroke="#555" stroke-width="0.3"/>
<text x="508.9" y="1094.5" font-size="4.6" fill="#222">CASSLGTDTEVFF</text>
<rect x="499.6" y="1097.05" width="5.6" height="5.6" fill="#60c030" stroke="#555" stroke-width="0.3"/>
<text x="508.9" y="1101.65" font-size="4.6" fill="#222">CASSLGVSNERLFF</text>
<rect x="499.6" y="1104.2" width="5.6" height="5.6" fill="#40c040" stroke="#555" stroke-width="0.3"/>
<text x="508.9" y="1108.8" font-size="4.6" fill="#222">CASSLSDREVFF</text>
<rect x="499.6" y="1111.35" width="5.6" height="5.6" fill="#40c878" stroke="#555" stroke-width="0.3"/>
<text x="508.9" y="1115.95" font-size="4.6" fill="#222">CASSLSGAEQFF</text>
<rect x="499.6" y="1118.5" width="5.6" height="5.6" fill="#40d0a0" stroke="#555" stroke-width="0.3"/>
<text x="508.9" y="1123.1" font-size="4.6" fill="#222">CASSLSGERLFF</text>
<rect x="556.6" y="1089.9" width="5.6" height="5.6" fill="#40c8c0" stroke="#555" stroke-width="0.3"/>
<text x="565.9" y="1094.5" font-size="4.6" fill="#222">CASSLSPGTGISGNTLYF</text>
<rect x="556.6" y="1097.05" width="5.6" height="5.6" fill="#40c0e0" stroke="#555" stroke-width="0.3"/>
<text x="565.9" y="1101.65" font-size="4.6" fill="#222">CASSLSTGVNERLFF</text>
<rect x="556.6" y="1104.2" width="5.6" height="5.6" fill="#40b0f0" stroke="#555" stroke-width="0.3"/>
<text x="565.9" y="1108.8" font-size="4.6" fill="#222">CASSLTEYAEQFF</text>
<rect x="556.6" y="1111.35" width="5.6" height="5.6" fill="#6090f0" stroke="#555" stroke-width="0.3"/>
<text x="565.9" y="1115.95" font-size="4.6" fill="#222">CASSLTGGYAEQFF</text>
<rect x="556.6" y="1118.5" width="5.6" height="5.6" fill="#9080f0" stroke="#555" stroke-width="0.3"/>
<text x="565.9" y="1123.1" font-size="4.6" fill="#222">CASSPAGNTLYF</text>
<rect x="624.7" y="1089.9" width="5.6" height="5.6" fill="#c070f0" stroke="#555" stroke-width="0.3"/>
<text x="634" y="1094.5" font-size="4.6" fill="#222">CASSPGLGDYEQYF</text>
<rect x="624.7" y="1097.05" width="5.6" height="5.6" fill="#e060e0" stroke="#555" stroke-width="0.3"/>
<text x="634" y="1101.65" font-size="4.6" fill="#222">CASSPQANSD*TF</text>
<rect x="624.7" y="1104.2" width="5.6" height="5.6" fill="#f060d0" stroke="#555" stroke-width="0.3"/>
<text x="634" y="1108.8" font-size="4.6" fill="#222">CASSRDNYAEQFF</text>
<rect x="624.7" y="1111.35" width="5.6" height="5.6" fill="#f060a0" stroke="#555" stroke-width="0.3"/>
<text x="634" y="1115.95" font-size="4.6" fill="#222">CASSRGGGTETLYF</text>
<rect x="624.7" y="1118.5" width="5.6" height="5.6" fill="#f06080" stroke="#555" stroke-width="0.3"/>
<text x="634" y="1123.1" font-size="4.6" fill="#222">CASSWDGITEVFF</text>
</svg></body></html>
